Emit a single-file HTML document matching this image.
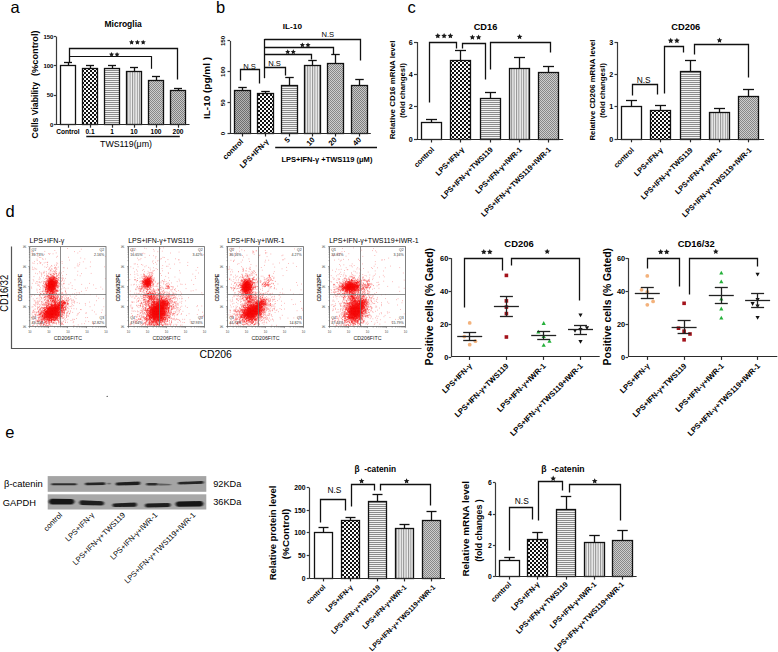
<!DOCTYPE html><html><head><meta charset="utf-8"><style>html,body{margin:0;padding:0;background:#fff;width:778px;height:652px;overflow:hidden}svg{display:block}text{font-family:"Liberation Sans",sans-serif}</style></head><body>
<svg width="778" height="652" viewBox="0 0 778 652">
<defs>
<pattern id="pc" width="4" height="4" patternUnits="userSpaceOnUse"><rect width="4" height="4" fill="#fafafa"/><rect width="2" height="2" fill="#111"/><rect x="2" y="2" width="2" height="2" fill="#111"/></pattern>
<pattern id="ph" width="4" height="2" patternUnits="userSpaceOnUse"><rect width="4" height="2" fill="#f2f2f2"/><rect width="4" height="1" fill="#8c8c8c"/></pattern>
<pattern id="pv" width="2.4" height="4" patternUnits="userSpaceOnUse"><rect width="2.4" height="4" fill="#f0f0f0"/><rect width="1" height="4" fill="#909090"/></pattern>
<pattern id="px" width="2" height="2" patternUnits="userSpaceOnUse"><rect width="2" height="2" fill="#cdcdcd"/><rect width="1" height="1" fill="#878787"/><rect x="1" y="1" width="1" height="1" fill="#878787"/></pattern>
<pattern id="px2" width="2" height="2" patternUnits="userSpaceOnUse"><rect width="2" height="2" fill="#c8c8c8"/><rect width="1" height="1" fill="#808080"/><rect x="1" y="1" width="1" height="1" fill="#808080"/></pattern>
<pattern id="pd" width="2" height="2" patternUnits="userSpaceOnUse"><rect width="2" height="2" fill="#b4b4b4"/><rect width="1" height="1" fill="#6e6e6e"/><rect x="1" y="1" width="1" height="1" fill="#6e6e6e"/></pattern>
<filter id="bl" x="-50%" y="-50%" width="200%" height="200%"><feGaussianBlur stdDeviation="1.6"/></filter>
<filter id="bl2" x="-50%" y="-50%" width="200%" height="200%"><feGaussianBlur stdDeviation="0.6"/></filter>
<filter id="bl3" x="-20%" y="-100%" width="140%" height="300%"><feGaussianBlur stdDeviation="0.9 0.7"/></filter>
</defs>
<rect width="778" height="652" fill="#fff"/>
<text x="10.5" y="12.6" font-size="16.5">a</text>
<text x="216" y="12.6" font-size="16.5">b</text>
<text x="407.5" y="12.9" font-size="16.5">c</text>
<text x="5.5" y="216.7" font-size="16.5">d</text>
<text x="5.3" y="437.7" font-size="16.5">e</text>
<text x="123.1" y="26.8" font-size="8.5" font-weight="bold" text-anchor="middle" textLength="37.2" lengthAdjust="spacingAndGlyphs">Microglia</text>
<path d="M56.5 36.6L56.5 124.5" stroke="#3a3a3a" stroke-width="1.2" fill="none"/>
<path d="M53.8 36.5L56 36.5" stroke="#3a3a3a" stroke-width="1.2" fill="none"/>
<text x="53.4" y="38.76" font-size="6" font-weight="bold" text-anchor="end">150</text>
<path d="M53.8 65.5L56 65.5" stroke="#3a3a3a" stroke-width="1.2" fill="none"/>
<text x="53.4" y="68.06" font-size="6" font-weight="bold" text-anchor="end">100</text>
<path d="M53.8 95.5L56 95.5" stroke="#3a3a3a" stroke-width="1.2" fill="none"/>
<text x="53.4" y="97.36" font-size="6" font-weight="bold" text-anchor="end">50</text>
<path d="M53.8 124.5L56 124.5" stroke="#3a3a3a" stroke-width="1.2" fill="none"/>
<text x="53.4" y="126.66" font-size="6" font-weight="bold" text-anchor="end">0</text>
<path d="M68.5 65.5L68.5 62.3" stroke="#111" stroke-width="1.3" fill="none"/>
<path d="M64 62.5L72 62.5" stroke="#111" stroke-width="1.3" fill="none"/>
<rect x="60.5" y="65.5" width="15" height="59" fill="#fff" stroke="#111" stroke-width="1.3"/>
<path d="M90.5 68.5L90.5 65.6" stroke="#111" stroke-width="1.3" fill="none"/>
<path d="M86 65.5L94 65.5" stroke="#111" stroke-width="1.3" fill="none"/>
<rect x="82.5" y="68.5" width="15" height="56" fill="url(#pc)" stroke="#111" stroke-width="1.3"/>
<path d="M112.5 68.5L112.5 65.3" stroke="#111" stroke-width="1.3" fill="none"/>
<path d="M108 65.5L116 65.5" stroke="#111" stroke-width="1.3" fill="none"/>
<rect x="104.5" y="68.5" width="15" height="56" fill="url(#ph)" stroke="#111" stroke-width="1.3"/>
<path d="M134.5 71.5L134.5 67.3" stroke="#111" stroke-width="1.3" fill="none"/>
<path d="M130 67.5L138 67.5" stroke="#111" stroke-width="1.3" fill="none"/>
<rect x="126.5" y="71.5" width="15" height="53" fill="url(#pv)" stroke="#111" stroke-width="1.3"/>
<path d="M156.5 80.5L156.5 76.3" stroke="#111" stroke-width="1.3" fill="none"/>
<path d="M152 76.5L160 76.5" stroke="#111" stroke-width="1.3" fill="none"/>
<rect x="148.5" y="80.5" width="15" height="44" fill="url(#px)" stroke="#111" stroke-width="1.3"/>
<path d="M178.5 90.5L178.5 88" stroke="#111" stroke-width="1.3" fill="none"/>
<path d="M174 88.5L182 88.5" stroke="#111" stroke-width="1.3" fill="none"/>
<rect x="170.5" y="90.5" width="15" height="34" fill="url(#px2)" stroke="#111" stroke-width="1.3"/>
<path d="M56 124.5L189.5 124.5" stroke="#2a2a2a" stroke-width="1.2" fill="none"/>
<path d="M68.5 124.5L68.5 127.7" stroke="#2a2a2a" stroke-width="1.2" fill="none"/>
<path d="M90.5 124.5L90.5 127.7" stroke="#2a2a2a" stroke-width="1.2" fill="none"/>
<path d="M112.5 124.5L112.5 127.7" stroke="#2a2a2a" stroke-width="1.2" fill="none"/>
<path d="M134.5 124.5L134.5 127.7" stroke="#2a2a2a" stroke-width="1.2" fill="none"/>
<path d="M156.5 124.5L156.5 127.7" stroke="#2a2a2a" stroke-width="1.2" fill="none"/>
<path d="M178.5 124.5L178.5 127.7" stroke="#2a2a2a" stroke-width="1.2" fill="none"/>
<text x="68" y="133.6" font-size="6.6" font-weight="bold" text-anchor="middle">Control</text>
<text x="90" y="133.6" font-size="6.6" font-weight="bold" text-anchor="middle">0.1</text>
<text x="112" y="133.6" font-size="6.6" font-weight="bold" text-anchor="middle">1</text>
<text x="134" y="133.6" font-size="6.6" font-weight="bold" text-anchor="middle">10</text>
<text x="156" y="133.6" font-size="6.6" font-weight="bold" text-anchor="middle">100</text>
<text x="178" y="133.6" font-size="6.6" font-weight="bold" text-anchor="middle">200</text>
<path d="M86.3 136.5L179.8 136.5" stroke="#111" stroke-width="1.5" fill="none"/>
<text x="126" y="146.6" font-size="8.7" text-anchor="middle" textLength="52" lengthAdjust="spacingAndGlyphs">TWS119(μm)</text>
<text x="38" y="138.4" font-size="8.7" font-weight="bold" textLength="56.4" lengthAdjust="spacingAndGlyphs" transform="rotate(-90 38 138.4)">Cells Viability</text>
<text x="38" y="76" font-size="8.2" font-weight="bold" textLength="45.6" lengthAdjust="spacingAndGlyphs" transform="rotate(-90 38 76)">(%control)</text>
<path d="M69.5 62.5L69.5 48.5L177.5 48.5L177.5 79.5" stroke="#111" stroke-width="1.3" fill="none" stroke-linejoin="miter"/>
<path d="M69.6 56.5L151.8 56.5" stroke="#111" stroke-width="1.2" fill="none"/>
<path d="M151.5 56.3L151.5 68.8" stroke="#111" stroke-width="1.2" fill="none"/>
<path d="M131.60 39.64L132.38 41.28L134.18 41.51L132.86 42.76L133.19 44.54L131.60 43.67L130.01 44.54L130.34 42.76L129.02 41.51L130.82 41.28Z" fill="#1a1a1a"/>
<path d="M137.40 39.64L138.18 41.28L139.98 41.51L138.66 42.76L138.99 44.54L137.40 43.67L135.81 44.54L136.14 42.76L134.82 41.51L136.62 41.28Z" fill="#1a1a1a"/>
<path d="M143.20 39.64L143.98 41.28L145.78 41.51L144.46 42.76L144.79 44.54L143.20 43.67L141.61 44.54L141.94 42.76L140.62 41.51L142.42 41.28Z" fill="#1a1a1a"/>
<path d="M111.55 51.89L112.31 53.50L114.08 53.73L112.78 54.95L113.11 56.70L111.55 55.84L109.99 56.70L110.32 54.95L109.02 53.73L110.79 53.50Z" fill="#1a1a1a"/>
<path d="M117.05 51.89L117.81 53.50L119.58 53.73L118.28 54.95L118.61 56.70L117.05 55.84L115.49 56.70L115.82 54.95L114.52 53.73L116.29 53.50Z" fill="#1a1a1a"/>
<text x="292.4" y="29.3" font-size="7.8" font-weight="bold" text-anchor="middle" textLength="19.2" lengthAdjust="spacingAndGlyphs">IL-10</text>
<path d="M230.5 40.9L230.5 133.6" stroke="#3a3a3a" stroke-width="1.2" fill="none"/>
<path d="M227.5 40.5L230 40.5" stroke="#3a3a3a" stroke-width="1.2" fill="none"/>
<text x="225.1" y="40.9" font-size="6.2" font-weight="bold" text-anchor="middle" transform="rotate(-90 225.1 40.9)">150</text>
<path d="M227.5 71.5L230 71.5" stroke="#3a3a3a" stroke-width="1.2" fill="none"/>
<text x="225.1" y="71.8" font-size="6.2" font-weight="bold" text-anchor="middle" transform="rotate(-90 225.1 71.8)">100</text>
<path d="M227.5 102.5L230 102.5" stroke="#3a3a3a" stroke-width="1.2" fill="none"/>
<text x="225.1" y="102.7" font-size="6.2" font-weight="bold" text-anchor="middle" transform="rotate(-90 225.1 102.7)">50</text>
<path d="M227.5 133.5L230 133.5" stroke="#3a3a3a" stroke-width="1.2" fill="none"/>
<text x="225.1" y="133.6" font-size="6.2" font-weight="bold" text-anchor="middle" transform="rotate(-90 225.1 133.6)">0</text>
<path d="M242.5 90.5L242.5 87.4" stroke="#111" stroke-width="1.3" fill="none"/>
<path d="M238.25 87.5L246.75 87.5" stroke="#111" stroke-width="1.3" fill="none"/>
<rect x="234.5" y="90.5" width="16" height="43" fill="url(#pd)" stroke="#111" stroke-width="1.3"/>
<path d="M265.5 93.5L265.5 91.1" stroke="#111" stroke-width="1.3" fill="none"/>
<path d="M261.25 91.5L269.75 91.5" stroke="#111" stroke-width="1.3" fill="none"/>
<rect x="257.5" y="93.5" width="16" height="40" fill="url(#pc)" stroke="#111" stroke-width="1.3"/>
<path d="M289.5 85.5L289.5 77.3" stroke="#111" stroke-width="1.3" fill="none"/>
<path d="M285.25 77.5L293.75 77.5" stroke="#111" stroke-width="1.3" fill="none"/>
<rect x="281.5" y="85.5" width="16" height="48" fill="url(#ph)" stroke="#111" stroke-width="1.3"/>
<path d="M312.5 65.5L312.5 60.3" stroke="#111" stroke-width="1.3" fill="none"/>
<path d="M308.25 60.5L316.75 60.5" stroke="#111" stroke-width="1.3" fill="none"/>
<rect x="304.5" y="65.5" width="16" height="68" fill="url(#pv)" stroke="#111" stroke-width="1.3"/>
<path d="M335.5 63.5L335.5 54.8" stroke="#111" stroke-width="1.3" fill="none"/>
<path d="M331.25 54.5L339.75 54.5" stroke="#111" stroke-width="1.3" fill="none"/>
<rect x="327.5" y="63.5" width="16" height="70" fill="url(#px)" stroke="#111" stroke-width="1.3"/>
<path d="M359.5 85.5L359.5 79.5" stroke="#111" stroke-width="1.3" fill="none"/>
<path d="M355.25 79.5L363.75 79.5" stroke="#111" stroke-width="1.3" fill="none"/>
<rect x="351.5" y="85.5" width="16" height="48" fill="url(#px2)" stroke="#111" stroke-width="1.3"/>
<path d="M229.6 133.5L370.8 133.5" stroke="#2a2a2a" stroke-width="1.2" fill="none"/>
<path d="M242.5 133.3L242.5 136.5" stroke="#2a2a2a" stroke-width="1.2" fill="none"/>
<path d="M265.5 133.3L265.5 136.5" stroke="#2a2a2a" stroke-width="1.2" fill="none"/>
<path d="M289.5 133.3L289.5 136.5" stroke="#2a2a2a" stroke-width="1.2" fill="none"/>
<path d="M312.5 133.3L312.5 136.5" stroke="#2a2a2a" stroke-width="1.2" fill="none"/>
<path d="M335.5 133.3L335.5 136.5" stroke="#2a2a2a" stroke-width="1.2" fill="none"/>
<path d="M359.5 133.3L359.5 136.5" stroke="#2a2a2a" stroke-width="1.2" fill="none"/>
<text x="210" y="88" font-size="8.6" font-weight="bold" text-anchor="middle" textLength="62" lengthAdjust="spacingAndGlyphs" transform="rotate(-90 210 88)">IL-10 (pg/ml )</text>
<path d="M240.5 80.5L240.5 69.5L259.5 69.5L259.5 83.5" stroke="#111" stroke-width="1.3" fill="none" stroke-linejoin="miter"/>
<text x="249.6" y="69" font-size="7.6" text-anchor="middle">N.S</text>
<path d="M264.5 78.2L264.5 39" stroke="#111" stroke-width="1.3" fill="none"/>
<path d="M264.5 39.5L360.5 39.5L360.5 60.5" stroke="#111" stroke-width="1.3" fill="none" stroke-linejoin="miter"/>
<path d="M264.5 47.5L333.5 47.5L333.5 54.5" stroke="#111" stroke-width="1.3" fill="none" stroke-linejoin="miter"/>
<path d="M264.5 54.5L311.5 54.5L311.5 59.5" stroke="#111" stroke-width="1.3" fill="none" stroke-linejoin="miter"/>
<path d="M264.5 67.5L285.5 67.5L285.5 75.5" stroke="#111" stroke-width="1.3" fill="none" stroke-linejoin="miter"/>
<text x="274.6" y="66.3" font-size="7.6" text-anchor="middle">N.S</text>
<text x="327.8" y="36.5" font-size="7.6" text-anchor="middle">N.S</text>
<path d="M302.40 42.44L303.18 44.08L304.98 44.31L303.66 45.56L303.99 47.34L302.40 46.47L300.81 47.34L301.14 45.56L299.82 44.31L301.62 44.08Z" fill="#1a1a1a"/>
<path d="M308.00 42.44L308.78 44.08L310.58 44.31L309.26 45.56L309.59 47.34L308.00 46.47L306.41 47.34L306.74 45.56L305.42 44.31L307.22 44.08Z" fill="#1a1a1a"/>
<path d="M287.70 49.24L288.48 50.88L290.28 51.11L288.96 52.36L289.29 54.14L287.70 53.27L286.11 54.14L286.44 52.36L285.12 51.11L286.92 50.88Z" fill="#1a1a1a"/>
<path d="M293.30 49.24L294.08 50.88L295.88 51.11L294.56 52.36L294.89 54.14L293.30 53.27L291.71 54.14L292.04 52.36L290.72 51.11L292.52 50.88Z" fill="#1a1a1a"/>
<text x="243.8" y="142" font-size="7.5" font-weight="bold" text-anchor="end" transform="rotate(-45 243.8 142)">control</text>
<text x="269.3" y="142" font-size="7.5" font-weight="bold" text-anchor="end" transform="rotate(-45 269.3 142)">LPS+IFN-γ</text>
<text x="290.4" y="140.4" font-size="7.5" font-weight="bold" text-anchor="end" transform="rotate(-45 290.4 140.4)">5</text>
<text x="315.3" y="140.4" font-size="7.5" font-weight="bold" text-anchor="end" transform="rotate(-45 315.3 140.4)">10</text>
<text x="337.3" y="140.4" font-size="7.5" font-weight="bold" text-anchor="end" transform="rotate(-45 337.3 140.4)">20</text>
<text x="361.6" y="140.4" font-size="7.5" font-weight="bold" text-anchor="end" transform="rotate(-45 361.6 140.4)">40</text>
<path d="M275.2 147.5L377 147.5" stroke="#111" stroke-width="1.5" fill="none"/>
<text x="326.9" y="162" font-size="7.2" font-weight="bold" text-anchor="middle" textLength="91" lengthAdjust="spacingAndGlyphs">LPS+IFN-γ +TWS119 (μM)</text>
<text x="485.5" y="30.3" font-size="8.6" font-weight="bold" text-anchor="middle" textLength="23.6" lengthAdjust="spacingAndGlyphs">CD16</text>
<path d="M417.5 42L417.5 139.3" stroke="#3a3a3a" stroke-width="1.2" fill="none"/>
<path d="M414 42.5L417 42.5" stroke="#3a3a3a" stroke-width="1.2" fill="none"/>
<text x="412.8" y="44.59" font-size="7.2" font-weight="bold" text-anchor="end">6</text>
<path d="M414 74.5L417 74.5" stroke="#3a3a3a" stroke-width="1.2" fill="none"/>
<text x="412.8" y="77.03" font-size="7.2" font-weight="bold" text-anchor="end">4</text>
<path d="M414 106.5L417 106.5" stroke="#3a3a3a" stroke-width="1.2" fill="none"/>
<text x="412.8" y="109.46" font-size="7.2" font-weight="bold" text-anchor="end">2</text>
<path d="M414 139.5L417 139.5" stroke="#3a3a3a" stroke-width="1.2" fill="none"/>
<text x="412.8" y="141.89" font-size="7.2" font-weight="bold" text-anchor="end">0</text>
<path d="M431.5 122.5L431.5 119.6" stroke="#111" stroke-width="1.3" fill="none"/>
<path d="M426 119.5L437 119.5" stroke="#111" stroke-width="1.3" fill="none"/>
<rect x="421.5" y="122.5" width="20" height="17" fill="#fff" stroke="#111" stroke-width="1.3"/>
<path d="M460.5 60.5L460.5 50" stroke="#111" stroke-width="1.3" fill="none"/>
<path d="M455 50.5L466 50.5" stroke="#111" stroke-width="1.3" fill="none"/>
<rect x="450.5" y="60.5" width="20" height="79" fill="url(#pc)" stroke="#111" stroke-width="1.3"/>
<path d="M490.5 98.5L490.5 92.5" stroke="#111" stroke-width="1.3" fill="none"/>
<path d="M485 92.5L496 92.5" stroke="#111" stroke-width="1.3" fill="none"/>
<rect x="480.5" y="98.5" width="20" height="41" fill="url(#ph)" stroke="#111" stroke-width="1.3"/>
<path d="M519.5 68.5L519.5 57" stroke="#111" stroke-width="1.3" fill="none"/>
<path d="M514 57.5L525 57.5" stroke="#111" stroke-width="1.3" fill="none"/>
<rect x="509.5" y="68.5" width="20" height="71" fill="url(#pv)" stroke="#111" stroke-width="1.3"/>
<path d="M548.5 72.5L548.5 66.3" stroke="#111" stroke-width="1.3" fill="none"/>
<path d="M543 66.5L554 66.5" stroke="#111" stroke-width="1.3" fill="none"/>
<rect x="538.5" y="72.5" width="20" height="67" fill="url(#px)" stroke="#111" stroke-width="1.3"/>
<path d="M416.2 139.5L563.2 139.5" stroke="#2a2a2a" stroke-width="1.2" fill="none"/>
<path d="M431.5 139.3L431.5 142.5" stroke="#2a2a2a" stroke-width="1.2" fill="none"/>
<path d="M460.5 139.3L460.5 142.5" stroke="#2a2a2a" stroke-width="1.2" fill="none"/>
<path d="M490.5 139.3L490.5 142.5" stroke="#2a2a2a" stroke-width="1.2" fill="none"/>
<path d="M519.5 139.3L519.5 142.5" stroke="#2a2a2a" stroke-width="1.2" fill="none"/>
<path d="M548.5 139.3L548.5 142.5" stroke="#2a2a2a" stroke-width="1.2" fill="none"/>
<text x="394.6" y="90" font-size="8" font-weight="bold" text-anchor="middle" textLength="98.7" lengthAdjust="spacingAndGlyphs" transform="rotate(-90 394.6 90)">Relative CD16 mRNA level</text>
<text x="405" y="90.6" font-size="8" font-weight="bold" text-anchor="middle" textLength="55" lengthAdjust="spacingAndGlyphs" transform="rotate(-90 405 90.6)">(fold changesl)</text>
<path d="M429.5 102.5L429.5 42.5L456.5 42.5L456.5 48.5" stroke="#111" stroke-width="1.3" fill="none" stroke-linejoin="miter"/>
<path d="M462.5 48.5L462.5 43.5L485.5 43.5L485.5 79.5" stroke="#111" stroke-width="1.3" fill="none" stroke-linejoin="miter"/>
<path d="M490.5 69.5L490.5 42.5L550.5 42.5L550.5 52.5" stroke="#111" stroke-width="1.3" fill="none" stroke-linejoin="miter"/>
<path d="M437.80 33.01L438.64 34.79L440.59 35.04L439.16 36.39L439.53 38.33L437.80 37.38L436.07 38.33L436.44 36.39L435.01 35.04L436.96 34.79Z" fill="#1a1a1a"/>
<path d="M444.10 33.01L444.94 34.79L446.89 35.04L445.46 36.39L445.83 38.33L444.10 37.38L442.37 38.33L442.74 36.39L441.31 35.04L443.26 34.79Z" fill="#1a1a1a"/>
<path d="M450.40 33.01L451.24 34.79L453.19 35.04L451.76 36.39L452.13 38.33L450.40 37.38L448.67 38.33L449.04 36.39L447.61 35.04L449.56 34.79Z" fill="#1a1a1a"/>
<path d="M472.40 34.41L473.24 36.19L475.19 36.44L473.76 37.79L474.13 39.73L472.40 38.78L470.67 39.73L471.04 37.79L469.61 36.44L471.56 36.19Z" fill="#1a1a1a"/>
<path d="M478.60 34.41L479.44 36.19L481.39 36.44L479.96 37.79L480.33 39.73L478.60 38.78L476.87 39.73L477.24 37.79L475.81 36.44L477.76 36.19Z" fill="#1a1a1a"/>
<path d="M519.60 33.91L520.44 35.69L522.39 35.94L520.96 37.29L521.33 39.23L519.60 38.28L517.87 39.23L518.24 37.29L516.81 35.94L518.76 35.69Z" fill="#1a1a1a"/>
<text x="434.6" y="150" font-size="7.4" font-weight="bold" text-anchor="end" transform="rotate(-45 434.6 150)">control</text>
<text x="464.7" y="150" font-size="7.4" font-weight="bold" text-anchor="end" transform="rotate(-45 464.7 150)">LPS+IFN-γ</text>
<text x="493.3" y="150" font-size="7.4" font-weight="bold" text-anchor="end" transform="rotate(-45 493.3 150)">LPS+IFN-γ+TWS119</text>
<text x="522.4" y="150" font-size="7.4" font-weight="bold" text-anchor="end" transform="rotate(-45 522.4 150)">LPS+IFN-γ+IWR-1</text>
<text x="551.3" y="150" font-size="7.4" font-weight="bold" text-anchor="end" transform="rotate(-45 551.3 150)">LPS+IFN-γ+TWS119+IWR-1</text>
<text x="685.8" y="30.3" font-size="8.6" font-weight="bold" text-anchor="middle" textLength="29" lengthAdjust="spacingAndGlyphs">CD206</text>
<path d="M617.5 42L617.5 139.1" stroke="#3a3a3a" stroke-width="1.2" fill="none"/>
<path d="M614.5 42.5L617.5 42.5" stroke="#3a3a3a" stroke-width="1.2" fill="none"/>
<text x="613.3" y="44.59" font-size="7.2" font-weight="bold" text-anchor="end">3</text>
<path d="M614.5 74.5L617.5 74.5" stroke="#3a3a3a" stroke-width="1.2" fill="none"/>
<text x="613.3" y="76.96" font-size="7.2" font-weight="bold" text-anchor="end">2</text>
<path d="M614.5 106.5L617.5 106.5" stroke="#3a3a3a" stroke-width="1.2" fill="none"/>
<text x="613.3" y="109.33" font-size="7.2" font-weight="bold" text-anchor="end">1</text>
<path d="M614.5 139.5L617.5 139.5" stroke="#3a3a3a" stroke-width="1.2" fill="none"/>
<text x="613.3" y="141.69" font-size="7.2" font-weight="bold" text-anchor="end">0</text>
<path d="M631.5 106.5L631.5 100.3" stroke="#111" stroke-width="1.3" fill="none"/>
<path d="M626 100.5L637 100.5" stroke="#111" stroke-width="1.3" fill="none"/>
<rect x="621.5" y="106.5" width="20" height="33" fill="#fff" stroke="#111" stroke-width="1.3"/>
<path d="M660.5 110.5L660.5 105.3" stroke="#111" stroke-width="1.3" fill="none"/>
<path d="M655 105.5L666 105.5" stroke="#111" stroke-width="1.3" fill="none"/>
<rect x="650.5" y="110.5" width="20" height="29" fill="url(#pc)" stroke="#111" stroke-width="1.3"/>
<path d="M690.5 71.5L690.5 60.7" stroke="#111" stroke-width="1.3" fill="none"/>
<path d="M685 60.5L696 60.5" stroke="#111" stroke-width="1.3" fill="none"/>
<rect x="680.5" y="71.5" width="20" height="68" fill="url(#ph)" stroke="#111" stroke-width="1.3"/>
<path d="M719.5 112.5L719.5 108.6" stroke="#111" stroke-width="1.3" fill="none"/>
<path d="M714 108.5L725 108.5" stroke="#111" stroke-width="1.3" fill="none"/>
<rect x="709.5" y="112.5" width="20" height="27" fill="url(#pv)" stroke="#111" stroke-width="1.3"/>
<path d="M748.5 96.5L748.5 89.6" stroke="#111" stroke-width="1.3" fill="none"/>
<path d="M743 89.5L754 89.5" stroke="#111" stroke-width="1.3" fill="none"/>
<rect x="738.5" y="96.5" width="20" height="43" fill="url(#px)" stroke="#111" stroke-width="1.3"/>
<path d="M617.2 139.5L764.1 139.5" stroke="#2a2a2a" stroke-width="1.2" fill="none"/>
<path d="M631.5 139.1L631.5 142.3" stroke="#2a2a2a" stroke-width="1.2" fill="none"/>
<path d="M660.5 139.1L660.5 142.3" stroke="#2a2a2a" stroke-width="1.2" fill="none"/>
<path d="M690.5 139.1L690.5 142.3" stroke="#2a2a2a" stroke-width="1.2" fill="none"/>
<path d="M719.5 139.1L719.5 142.3" stroke="#2a2a2a" stroke-width="1.2" fill="none"/>
<path d="M748.5 139.1L748.5 142.3" stroke="#2a2a2a" stroke-width="1.2" fill="none"/>
<text x="594.6" y="90" font-size="8" font-weight="bold" text-anchor="middle" textLength="101" lengthAdjust="spacingAndGlyphs" transform="rotate(-90 594.6 90)">Relative CD206 mRNA level</text>
<text x="605.2" y="90.6" font-size="8" font-weight="bold" text-anchor="middle" textLength="55" lengthAdjust="spacingAndGlyphs" transform="rotate(-90 605.2 90.6)">(fold changesl)</text>
<path d="M632.5 95.5L632.5 84.5L657.5 84.5L657.5 94.5" stroke="#111" stroke-width="1.3" fill="none" stroke-linejoin="miter"/>
<text x="643.7" y="82.6" font-size="8.4" text-anchor="middle">N.S</text>
<path d="M664.5 93.5L664.5 46.5L683.5 46.5L683.5 52.5" stroke="#111" stroke-width="1.3" fill="none" stroke-linejoin="miter"/>
<path d="M694.5 54.5L694.5 44.5L748.5 44.5L748.5 77.5" stroke="#111" stroke-width="1.3" fill="none" stroke-linejoin="miter"/>
<path d="M670.70 37.81L671.54 39.59L673.49 39.84L672.06 41.19L672.43 43.13L670.70 42.18L668.97 43.13L669.34 41.19L667.91 39.84L669.86 39.59Z" fill="#1a1a1a"/>
<path d="M676.90 37.81L677.74 39.59L679.69 39.84L678.26 41.19L678.63 43.13L676.90 42.18L675.17 43.13L675.54 41.19L674.11 39.84L676.06 39.59Z" fill="#1a1a1a"/>
<path d="M719.50 37.41L720.34 39.19L722.29 39.44L720.86 40.79L721.23 42.73L719.50 41.78L717.77 42.73L718.14 40.79L716.71 39.44L718.66 39.19Z" fill="#1a1a1a"/>
<text x="634.4" y="150.5" font-size="7.4" font-weight="bold" text-anchor="end" transform="rotate(-45 634.4 150.5)">control</text>
<text x="663.4" y="150.5" font-size="7.4" font-weight="bold" text-anchor="end" transform="rotate(-45 663.4 150.5)">LPS+IFN-γ</text>
<text x="693.2" y="150.5" font-size="7.4" font-weight="bold" text-anchor="end" transform="rotate(-45 693.2 150.5)">LPS+IFN-γ+TWS119</text>
<text x="722.2" y="150.5" font-size="7.4" font-weight="bold" text-anchor="end" transform="rotate(-45 722.2 150.5)">LPS+IFN-γ+IWR-1</text>
<text x="752.2" y="150.5" font-size="7.4" font-weight="bold" text-anchor="end" transform="rotate(-45 752.2 150.5)">LPS+IFN-γ+TWS119+IWR-1</text>
<text x="29.5" y="243.4" font-size="7.6" textLength="34.9" lengthAdjust="spacingAndGlyphs">LPS+IFN-γ</text>
<g>
<path d="M36.1 248.8h.7m30.3-.3h.7m-36.7 3.2h.7m12.7-.3h.7m9.3-.9h.7m18.8 1.1h.7m4.8-.2h.7m.7-2.2h.7m-49.6 2.8h.7m-.2 2.1h.7m2.8-.5h.7m.2-.4h.7m6.5 1.1h.7m3.5-.7h.7m.3 .8h.7m-.4-.9h.7m2.4 .3h.7m2.4-.9h.7m21 .1h.7m-43.8 2.4h.7m2.5 1.2h.7m.9 .9h.7m.6 0h.7m15-.3h.7m.3-.9h.7m10.1 1h.7m36.2-.9h.7m-68.9 2.7h.7m-.6 1.4h.7m4.5-1.7h.7m.1 .5h.7m1.5-.3h.7m23.4 1.1h.7m10.6-2.1h.7m3.4 .9h.7m-52.8 4.1h.7m.6 .4h.7m-.2-1.8h.7m2.2 2.1h.7m1.5-1.9h.7m-.3 1.5h.7m0-.1h.7m-.6-.7h.7m2.6 .4h.7m1.1-.5h.7m.8 .2h.7m-.4-.4h.7m8.4 .5h.7m.2 1h.7m1.9-1.3h.7m1-.9h.7m-.6 1.9h.7m17-.6h.7m2.7-1h.7m6.6 .2h.7m-48.6 2.8h.7m1.5 2.1h.7m1.8-2.4h.7m-.3 1.7h.7m2.2 .7h.7m.2-1.4h.7m-.3 .7h.7m2-.9h.7m.9-1.1h.7m-.4 1.2h.7m20 .5h.7m-.2-1.9h.7m.3 2h.7m.2-1.4h.7m9.9 2.1h.7m13.6 .1h.7m-72.8 .4h.7m-.7 2h.7m.7 .4h.7m-.3-1.6h.7m.7 .8h.7m.4 .4h.7m9.2-1.7h.7m1.2 2.2h.7m0-1.1h.7m-.7-.8h.7m0 1.7h.7m1-.8h.7m-.1 .4h.7m1.7-1.3h.7m-.5 .1h.7m-.6 .6h.7m-.1-1.4h.7m-.7 .6h.7m-.5 2.1h.7m.2-1h.7m-.5-1h.7m-.7 1.8h.7m.7-2.5h.7m4.3 .6h.7m.2 .1h.7m2.8 .4h.7m6.6-.4h.7m10.3 .5h.7m-47 3.3h.7m-.4 1.3h.7m2.6 0h.7m.2-.5h.7m-.7-1.1h.7m1.4 .2h.7m3 .5h.7m-.4-1.3h.7m-.2-.2h.7m-.4 1.3h.7m-.5-1.8h.7m.6 1.8h.7m.6-1.2h.7m-.5 .8h.7m-.7 .5h.7m0 .1h.7m-.4-.4h.7m-.2 .7h.7m-.7-1.8h.7m.1 1h.7m2 1.4h.7m-.1-.7h.7m-.1-1.3h.7m2.2 .7h.7m14-.3h.7m-43 2h.7m1.4 .5h.7m3.1-.8h.7m-.4 1h.7m-.7 .9h.7m1.5-1.9h.7m-.2 2.4h.7m1.2-2.2h.7m-.3 1.7h.7m-.4 .6h.7m-.1-.1h.7m-.4 .5h.7m-.2-2.6h.7m-.1 1.1h.7m-.6-1.1h.7m.7 1h.7m-.7 .4h.7m-.6-.5h.7m-.6 .9h.7m-.2-.9h.7m.1-.2h.7m.3-.5h.7m-.1 .6h.7m-.6-.2h.7m-.6-.1h.7m-.4 0h.7m-.4 .8h.7m-.6 0h.7m0-.7h.7m-.1-.6h.7m-.3 .1h.7m-.6-.1h.7m-.6 1.2h.7m-.4-1h.7m-.5 1.8h.7m0 .2h.7m0-.3h.7m-.5-.7h.7m-.4-.8h.7m-.4 2h.7m-.2-2h.7m-.1 .9h.7m-.4 .1h.7m-.7 .6h.7m.4-2.3h.7m0 2.4h.7m3.6-.9h.7m10.2 .6h.7m1.9 .7h.7m.8-2.2h.7m8.8-.2h.7m-57.9 3.2h.7m5 .6h.7m-.3 1.6h.7m.6-2.6h.7m1.5 1.7h.7m1.1 .5h.7m0-.1h.7m-.4 .4h.7m-.6 .1h.7m-.6-2.1h.7m-.5 .2h.7m-.5-.6h.7m-.2 .4h.7m-.1 .3h.7m-.5 1.6h.7m-.5-1.8h.7m-.7 1h.7m-.5-1.8h.7m-.7 .4h.7m-.5 .5h.7m-.3 1.1h.7m-.3-1.3h.7m-.5 1.3h.7m-.5 0h.7m-.7 .5h.7m-.5-2.2h.7m-.6 1.4h.7m-.5 .9h.7m-.6 .2h.7m-.6-1.7h.7m-.3 .7h.7m-.5-.9h.7m-.6-.7h.7m-.4 .1h.7m-.6 2.6h.7m-.4-1.4h.7m-.6-.1h.7m-.6-1.2h.7m-.6-.1h.7m-.7 2.3h.7m-.3-.6h.7m-.7 1.1h.7m-.5-2.5h.7m-.5 2.1h.7m-.7 .2h.7m-.7-1.9h.7m-.4 .4h.7m-.5 .1h.7m-.7 1.4h.7m-.6-.1h.7m-.5-1.2h.7m-.6-1.3h.7m-.7 1.7h.7m-.7 .5h.7m-.7-.7h.7m-.5-.5h.7m-.3 .8h.7m-.6-.1h.7m-.5 0h.7m-.3-.5h.7m-.6 1.5h.7m-.6-1.7h.7m-.3 1.7h.7m-.6-.9h.7m-.6 .5h.7m-.6-2.3h.7m-.7 .2h.7m-.6 1.8h.7m-.7-2h.7m-.5 2.8h.7m-.3-.2h.7m-.7 .2h.7m-.6-.6h.7m-.5-1.9h.7m.4 1.1h.7m-.1 1.2h.7m0-1h.7m-.2-.6h.7m-.4 .6h.7m.1 .5h.7m.5 .4h.7m-.5-1.3h.7m-.1 1h.7m1.3 .1h.7m39.2 .2h.7m-72.8 1.1h.7m0 1.2h.7m2.2 .7h.7m.4 .1h.7m.5-2.4h.7m-.1 2.5h.7m1.2 .1h.7m.8-.8h.7m.3 .6h.7m-.6-.1h.7m0-2.1h.7m-.6 2h.7m-.3-.3h.7m.6-.6h.7m-.5 .5h.7m-.6 0h.7m-.5 0h.7m-.6-1.2h.7m-.4-.4h.7m-.6 1.2h.7m-.6 .6h.7m-.6-.8h.7m-.7 1h.7m-.4-.7h.7m-.4 .2h.7m-.6-1.2h.7m-.6 2h.7m-.6-1.2h.7m-.6-1.1h.7m-.7 1.9h.7m-.6-2.3h.7m-.7 2.5h.7m-.6-.3h.7m-.7 .6h.7m-.7 0h.7m-.5-.7h.7m-.6-1.3h.7m-.6 .6h.7m-.7 .3h.7m-.5-1.8h.7m-.1 2.9h.7m-.2-1.2h.7m-.7-.7h.7m-.6 1.3h.7m-.7-1.2h.7m-.3 .9h.7m-.7-.5h.7m-.6-1h.7m-.6 1.2h.7m-.5-1.4h.7m-.7-.2h.7m-.7 2.5h.7m-.6-.2h.7m-.5-.2h.7m-.7 0h.7m-.5 0h.7m-.7-1.4h.7m-.6-.1h.7m-.6 .7h.7m-.7-1.3h.7m-.6 .4h.7m-.5 1.6h.7m-.6 .3h.7m-.6-.6h.7m-.7-.5h.7m-.6 1h.7m-.7 .1h.7m-.5-1.6h.7m-.4 1.6h.7m-.7 .1h.7m-.3-2.1h.7m-.7 2.4h.7m-.6 .1h.7m-.7-1.3h.7m-.7-1.2h.7m-.5 1.5h.7m-.7-1.7h.7m-.6 1.5h.7m-.3 .8h.7m-.5-1.5h.7m-.7-.2h.7m-.5 1.3h.7m-.5 .1h.7m-.5-1.9h.7m-.6 1.5h.7m-.6 .1h.7m-.5-.6h.7m-.6 .7h.7m-.6-.5h.7m-.6 0h.7m-.4 1h.7m-.7-1.2h.7m-.3 .7h.7m-.6 .2h.7m-.6-.3h.7m-.4 1h.7m-.6-2.1h.7m-.7 .3h.7m-.7 1.7h.7m-.4-.4h.7m-.5-.4h.7m-.2-1.5h.7m-.5 .3h.7m-.5 .7h.7m.4 .2h.7m.5 .1h.7m-.5 .8h.7m.4-1.6h.7m-.5 0h.7m.6 1.8h.7m-.4-1.6h.7m10-.4h.7m-43.4 3.6h.7m2.4-.2h.7m1 .1h.7m1.4-.9h.7m.4 .3h.7m2.6 .6h.7m-.5 .2h.7m-.6-1h.7m-.4 2.2h.7m-.5-.3h.7m.2-1.6h.7m-.7 0h.7m-.6-.5h.7m-.7 1.2h.7m-.1-1.5h.7m-.4 2.8h.7m-.7-1.7h.7m-.6-.5h.7m-.6 .7h.7m-.6 1h.7m-.7 .6h.7m-.6-2.8h.7m-.4 2.6h.7m-.6-.1h.7m.4-1.5h.7m-.6-.6h.7m-.6 1.9h.7m-.7-.3h.7m-.7-.1h.7m-.7-1.8h.7m-.7 1h.7m-.7 .2h.7m-.6 .4h.7m-.6-1.7h.7m-.7 .5h.7m-.6 2.1h.7m-.5-.9h.7m-.6 .2h.7m-.5-1.3h.7m-.7 .8h.7m-.6 1.1h.7m-.7-1.6h.7m-.6-.6h.7m-.4 2.5h.7m-.7-.6h.7m-.5-.9h.7m-.7-1h.7m-.5 2.3h.7m-.7-.6h.7m-.6-.5h.7m-.4-1.4h.7m-.3 .7h.7m-.4-.9h.7m-.6 .3h.7m-.7 2.5h.7m-.7-.9h.7m-.5-.3h.7m-.7 .5h.7m-.5 .2h.7m-.7-2.3h.7m-.7 2.7h.7m-.7-1.7h.7m-.5 1.5h.7m-.5-.2h.7m-.7-1h.7m-.7 1.3h.7m-.7-1.7h.7m-.6 .9h.7m-.6 .2h.7m-.7-1.9h.7m-.7 .6h.7m-.2 .4h.7m-.1-.7h.7m-.6 2.2h.7m-.7-.5h.7m-.7-.2h.7m-.7-1.3h.7m-.4 0h.7m-.7 1.1h.7m-.4 .9h.7m-.6-.7h.7m-.5-.5h.7m-.4-.4h.7m-.2 1.6h.7m-.6-1.1h.7m-.6-.3h.7m-.4-.9h.7m-.3 1.8h.7m-.7-.2h.7m-.4-.7h.7m-.7-.4h.7m-.6 1.9h.7m-.6-.9h.7m-.7 .6h.7m-.5-1.8h.7m-.7 .3h.7m-.6-.1h.7m-.6-.5h.7m-.6 1.3h.7m-.5-.5h.7m-.7-1h.7m-.3 1.2h.7m-.4-.7h.7m-.4 .5h.7m-.5 1.1h.7m.4-.7h.7m-.5 1h.7m-.6-1.2h.7m-.5 .4h.7m-.5-1.1h.7m-.1 1.2h.7m.4 .5h.7m1.1-.5h.7m-.6 0h.7m-.5-.3h.7m4.2 .8h.7m1.1-1.5h.7m10.3 1.6h.7m7.2-1h.7m3.1 1.5h.7m-62.7 2.1h.7m5.5-1.8h.7m0-.1h.7m0-.1h.7m-.3 1.3h.7m.3 1.5h.7m1.5-1.9h.7m-.5-.5h.7m-.4 2.1h.7m-.4-1h.7m-.5-.6h.7m.1 .4h.7m-.7 .5h.7m-.3 .7h.7m-.7-1.9h.7m-.7 1.4h.7m-.5 .5h.7m-.6-2.5h.7m-.3 2.3h.7m-.4-1.1h.7m-.4 .2h.7m-.6 1.2h.7m-.7-1.7h.7m-.7-.4h.7m-.4 1.6h.7m-.5-1.8h.7m-.6 .6h.7m-.7 .7h.7m-.5-1.2h.7m-.5 1.8h.7m-.4-.3h.7m-.7-.3h.7m-.2 .7h.7m-.6-.1h.7m-.6-1.9h.7m-.6 1.7h.7m-.6 .2h.7m-.7 .5h.7m-.7-1.6h.7m-.3 .5h.7m-.6 1.1h.7m-.6-.7h.7m-.6-.3h.7m-.4-.2h.7m-.5-.2h.7m-.7 1.3h.7m-.7-.7h.7m-.6-1.9h.7m-.7 .9h.7m-.6 .1h.7m-.5 .6h.7m-.7-.9h.7m-.6 1.7h.7m-.5-1h.7m-.6 1.4h.7m-.6-2.6h.7m-.7 .8h.7m-.6-.7h.7m-.6-.1h.7m-.6 1.7h.7m-.7 1h.7m-.7-2h.7m-.6 .9h.7m-.5-1.1h.7m-.6 .8h.7m-.7-1.4h.7m-.6 2.6h.7m-.7-1.5h.7m-.6 1.3h.7m-.6-.5h.7m-.6-.2h.7m-.7-.3h.7m-.6 .5h.7m-.5 .2h.7m-.7 .3h.7m-.7-.9h.7m-.6 .8h.7m-.2-1.2h.7m-.7 .2h.7m-.3 .6h.7m-.7 .5h.7m-.6-1.3h.7m-.6 .3h.7m-.6-1.2h.7m-.5 2.1h.7m-.6-.2h.7m-.6-1.8h.7m-.6-.1h.7m-.5 .1h.7m-.6 1.5h.7m-.7 .3h.7m-.6 .5h.7m-.4-.1h.7m-.7-.1h.7m-.7-2.3h.7m-.4 1.7h.7m-.7 1h.7m-.5-2.5h.7m-.4-.4h.7m-.6 2.1h.7m-.6-1.6h.7m-.3 2.4h.7m-.6-1.5h.7m-.7-1.2h.7m-.5 1h.7m-.7 .5h.7m-.7 .1h.7m-.6-.2h.7m-.2 1.1h.7m-.4-2.4h.7m-.7 .3h.7m.1 .6h.7m-.7 .7h.7m-.6-1.6h.7m-.7-.2h.7m-.5 2.3h.7m-.4 .3h.7m-.2-2.3h.7m-.7 .6h.7m-.5 .4h.7m.4 0h.7m-.3 .7h.7m-.4-1.9h.7m1.1 .9h.7m.9 1.6h.7m7.1-2h.7m14.6 2.2h.7m12.7-.8h.7m-69.8 1.1h.7m4.5 1h.7m-.6 1.6h.7m1.6-1.4h.7m0 .2h.7m2.1-.7h.7m-.1 .1h.7m-.5 1.6h.7m.4-1.7h.7m-.1 .6h.7m-.7-1.2h.7m-.5 2.5h.7m-.7-.5h.7m-.7-1h.7m-.7 1h.7m-.3-.9h.7m-.7 .6h.7m-.7-1h.7m-.4 .6h.7m-.6-.8h.7m-.5 .3h.7m.4 .1h.7m-.7 .7h.7m-.1 .3h.7m-.6 .2h.7m-.5-1.6h.7m-.7 1.4h.7m-.6-1.6h.7m-.2 .8h.7m-.6 .5h.7m-.5-1.8h.7m-.7 .7h.7m-.5 1.1h.7m-.7 .6h.7m-.6-.5h.7m-.7-.7h.7m-.6 1.1h.7m-.7 .4h.7m-.6-2.7h.7m-.3 .5h.7m-.7 .3h.7m-.5 .1h.7m-.7 .2h.7m-.7 1.5h.7m-.4-1.7h.7m-.7-.4h.7m-.6 .1h.7m-.6 1.3h.7m-.7-2h.7m-.5 1.8h.7m-.6 .4h.7m-.7-.8h.7m-.6 .9h.7m-.6 .2h.7m-.7-2.1h.7m-.5 1.5h.7m-.6 1h.7m-.7-.8h.7m-.6-.6h.7m-.4-.4h.7m-.5 .7h.7m-.7 .9h.7m-.6 .2h.7m-.7-2.6h.7m-.6 1.4h.7m-.7 1.2h.7m-.4-2.6h.7m-.6 2.1h.7m-.7-.8h.7m-.7 .7h.7m-.6-.4h.7m-.7-1.7h.7m-.6 2.7h.7m-.7-.5h.7m-.5-.6h.7m-.5 .8h.7m-.7-1h.7m-.5-1.1h.7m-.7-.4h.7m-.7 1.4h.7m-.2-.4h.7m-.5-.5h.7m-.5-.6h.7m-.5 2.1h.7m-.6-.3h.7m-.5-.8h.7m-.7 .3h.7m-.7 .4h.7m-.4-1.5h.7m-.6 2h.7m-.5-2.1h.7m-.1 2.5h.7m-.3-2.5h.7m-.6 2.8h.7m-.1-.2h.7m-.7-1.4h.7m-.4 1.1h.7m-.4-1.7h.7m-.1 1.9h.7m-.1-.5h.7m.5-1h.7m.3-.1h.7m.8-.9h.7m1.5 2.7h.7m-.1-2h.7m1.6-.6h.7m3.3 .2h.7m2.3 1.1h.7m9.8-1.3h.7m-.2 2.2h.7m9.1-1.9h.7m6.1 .6h.7m-66.1 3.4h.7m1.7-.2h.7m-.1 1.2h.7m-.2 .3h.7m-.6-2.3h.7m.6 .2h.7m-.5-.7h.7m-.5 .8h.7m0 1.5h.7m-.6 .2h.7m-.4-2h.7m-.5 2.3h.7m-.3 .1h.7m-.3-.1h.7m-.4-1.8h.7m-.5-.6h.7m-.6 2.4h.7m-.5-2.1h.7m-.5 .8h.7m-.1-1h.7m-.7 1.7h.7m-.4 .5h.7m-.7-.6h.7m-.6-.9h.7m-.5 .9h.7m-.5 0h.7m-.7-.5h.7m-.6-1.3h.7m-.7 1.3h.7m-.6-.7h.7m-.4 1.1h.7m-.2-1.7h.7m-.6 1.9h.7m-.5-.5h.7m-.1 .5h.7m-.6-.5h.7m-.6-1.4h.7m-.5 2.5h.7m-.6-.2h.7m-.5-.1h.7m-.4 .1h.7m-.7 .2h.7m-.6-2.1h.7m-.6 .3h.7m-.3-.5h.7m-.6 .4h.7m-.5-.3h.7m-.7 .8h.7m-.6-1.3h.7m-.1-.1h.7m-.7 .7h.7m-.6-.5h.7m-.5 1.9h.7m-.6 .6h.7m-.6-.6h.7m-.7 .4h.7m-.6-.9h.7m-.7 .1h.7m-.6-1.6h.7m-.5 1.4h.7m-.6 1.3h.7m-.7-.4h.7m-.6-1.8h.7m-.6 .8h.7m-.5 .8h.7m-.7-1.8h.7m-.7 1.3h.7m-.6-1.7h.7m-.6 .4h.7m-.5 1.1h.7m-.5-.5h.7m-.6 1h.7m-.6-1.6h.7m-.6 1h.7m-.5 0h.7m-.5 1.3h.7m-.6 .2h.7m-.6-1.8h.7m-.5-1h.7m-.6 2.1h.7m-.6-1.4h.7m-.6 1.5h.7m.1 .1h.7m-.7-1.2h.7m-.5 1.1h.7m-.6 .6h.7m-.6-1.8h.7m-.5 1h.7m-.6 .7h.7m-.5 .1h.7m-.5-.7h.7m-.5-1.7h.7m-.5-.3h.7m-.4-.2h.7m.1 .4h.7m.9 1.6h.7m-.3-1.6h.7m.1 .9h.7m-.2 1.5h.7m-.4-.5h.7m-.3-.8h.7m-.3 1.1h.7m1.8-2.4h.7m-.5 .4h.7m-.3 1.2h.7m-.5 .5h.7m7.5 .5h.7m1.8-1h.7m1.6-.3h.7m-.4 1.4h.7m1.5-2.5h.7m-50.9 4.8h.7m.3-1.5h.7m1.3 .7h.7m4.4-.2h.7m-.7 0h.7m-.3 1h.7m-.5-.9h.7m-.6-1.3h.7m.5 .1h.7m.6 1.5h.7m.3-.5h.7m.4-.1h.7m-.5 1.8h.7m-.6 0h.7m-.6-1.3h.7m-.2 1h.7m-.5 .4h.7m-.4-.5h.7m-.2-1.7h.7m-.6 .3h.7m-.4-.2h.7m-.6-.1h.7m-.7 .3h.7m-.3 1.8h.7m-.4-.1h.7m-.5-.6h.7m-.7-.5h.7m-.4-1.1h.7m-.7 .5h.7m-.5 .6h.7m-.6 .5h.7m-.6-1h.7m-.5-.1h.7m-.4 .3h.7m-.4 1.5h.7m-.4-2.7h.7m-.7 1.3h.7m-.5-1.4h.7m-.7 .8h.7m-.5 .4h.7m-.5 .5h.7m-.6 1h.7m-.5-1.4h.7m-.4-1.2h.7m-.6 1.5h.7m-.1 1h.7m.3-.6h.7m-.6 .2h.7m-.3 .2h.7m-.7-1.2h.7m-.4 .7h.7m-.2-.1h.7m.1-1.3h.7m-.5 .1h.7m-.4 1.4h.7m-.5-.1h.7m-.6-.4h.7m.3-.5h.7m-.5-.3h.7m-.1 1.2h.7m-.6-.2h.7m-.4 .5h.7m-.6 .7h.7m-.5-2.5h.7m-.6 1.3h.7m-.5 1.2h.7m-.6-2.4h.7m-.7-.5h.7m-.4 .5h.7m-.3-.4h.7m-.1 1.2h.7m-.2 .8h.7m-.2 .2h.7m-.1-.2h.7m-.3-1.6h.7m-.6 2.2h.7m-.1 .1h.7m0-1.3h.7m1 .2h.7m.2 .4h.7m.4-.7h.7m.6-.9h.7m.8 .5h.7m0 1.2h.7m1.1-2.1h.7m3.2 1.1h.7m1.1-.7h.7m5.5-.1h.7m5.3 .2h.7m5.7 1.5h.7m-64.2 2.8h.7m2.6-.3h.7m.1-.4h.7m1.2-.1h.7m.9 1.8h.7m-.7-2.7h.7m0 .7h.7m-.5 0h.7m-.4 1h.7m.7-.7h.7m-.1-.7h.7m-.4 2.2h.7m-.3-2.2h.7m-.7-.3h.7m-.6-.1h.7m-.1 1.9h.7m-.6 .8h.7m-.6-1.8h.7m-.2 1.2h.7m-.1-1.2h.7m0 1.8h.7m-.3-1.2h.7m-.4-.7h.7m-.6-.3h.7m-.6 2h.7m-.2-.8h.7m-.6-1.8h.7m-.5 1.8h.7m-.4 0h.7m-.4-.9h.7m-.7 .5h.7m-.6 .7h.7m-.3 0h.7m-.2-1h.7m-.4-1h.7m-.7 1.6h.7m-.4-1.5h.7m-.5 .4h.7m-.6-.5h.7m-.4 1.5h.7m0 1.1h.7m-.6-1h.7m-.4 .2h.7m-.3 1h.7m-.5-.7h.7m-.3 .7h.7m-.7-.2h.7m.4-.2h.7m-.5-1.9h.7m-.3 .9h.7m-.6 .4h.7m-.6-.1h.7m-.1-1.5h.7m.1 .2h.7m-.5 1.1h.7m-.7-.4h.7m-.6 .6h.7m-.6 .7h.7m-.5 .3h.7m0-2.8h.7m.4 2.1h.7m-.6-.5h.7m-.6-.7h.7m.1 0h.7m-.1 1h.7m-.4-.1h.7m-.5-.8h.7m-.4-.2h.7m-.3 1.5h.7m1.4-1.4h.7m-.6 1.3h.7m.3-.4h.7m.2-1.3h.7m-.4 1.6h.7m-.4-.4h.7m.3-1.1h.7m-.6-.1h.7m-.3 1.2h.7m.1 1h.7m.5-.9h.7m-.1 .3h.7m1.2 .5h.7m.9-2.6h.7m.6 1.6h.7m22-.4h.7m4.2 .4h.7m-70.2 2.3h.7m.1-.6h.7m-.2 2.4h.7m-.3-1h.7m0 1.2h.7m.3-.9h.7m-.5-1.1h.7m-.5 1.9h.7m-.2-.9h.7m0-1.9h.7m-.3 1.3h.7m1 .3h.7m-.3 .2h.7m-.4 .5h.7m.3-1.2h.7m-.7 1.2h.7m.7-2.3h.7m-.7 .2h.7m.3 1.8h.7m-.5 .5h.7m-.6-.3h.7m-.2 .4h.7m-.4-.5h.7m-.5-1.4h.7m-.3 0h.7m-.5-.7h.7m-.7 1.3h.7m.1-.1h.7m-.5-.3h.7m-.7 .6h.7m-.2-1.4h.7m-.6 1h.7m-.6 1.4h.7m-.3-.6h.7m.4 .2h.7m-.6-1.7h.7m-.3 2.5h.7m-.6-2.5h.7m-.5 2.2h.7m-.2-1.3h.7m-.3-.9h.7m-.6 1h.7m-.6-.8h.7m-.6 .2h.7m-.5-.3h.7m-.4 2h.7m-.7-1.5h.7m-.5 .3h.7m-.3-1h.7m-.3 1.4h.7m-.7-1.1h.7m-.6 .5h.7m-.7 0h.7m-.7-.5h.7m-.7 .8h.7m-.4 .1h.7m-.4 .5h.7m-.6-.9h.7m-.5 1h.7m-.7 0h.7m-.4 .6h.7m-.7 .1h.7m-.7-1.9h.7m-.5 1.8h.7m-.4-2.7h.7m-.7 .1h.7m-.5 2.3h.7m-.7-1.8h.7m-.3 2.2h.7m-.4-1.3h.7m-.5 .3h.7m-.6-.2h.7m-.1 .1h.7m-.6-1.4h.7m-.1 2.5h.7m-.6-2.3h.7m-.2-.4h.7m-.4 .2h.7m-.6 1.8h.7m-.6 .3h.7m-.5-.6h.7m-.6-1.8h.7m-.6 1.9h.7m-.3 0h.7m-.3-.8h.7m-.6 1.7h.7m-.5-2.4h.7m-.5 .8h.7m-.2 1.2h.7m-.7-.7h.7m-.3-.2h.7m-.2-.7h.7m-.7-.6h.7m-.4 2.7h.7m-.6-.8h.7m-.3 .5h.7m-.3-.4h.7m-.5 .3h.7m-.6 0h.7m-.7 .2h.7m-.7-1.1h.7m-.6 .8h.7m.1 .2h.7m-.4-1.3h.7m-.7 1.2h.7m-.5 .4h.7m-.3-.2h.7m-.5-2.3h.7m-.5 .5h.7m-.7 .8h.7m.1-1.3h.7m-.7 .1h.7m-.1 1.6h.7m-.6 .7h.7m-.7-1h.7m-.2-.7h.7m-.6-.3h.7m-.3-.5h.7m2.1 .5h.7m0-.1h.7m.1 1.6h.7m.2-1.8h.7m-.5 1.6h.7m0-.6h.7m1.7 1.1h.7m11.6-.5h.7m6.3-1.4h.7m-63.3 3.8h.7m.2 .6h.7m-.4 .2h.7m-.2-1.4h.7m.9 .8h.7m-.5-.7h.7m.3-.1h.7m.5 .7h.7m.6 .7h.7m-.5-1h.7m-.1-.5h.7m.1 .8h.7m-.3-.4h.7m-.7 1.3h.7m-.5-1.1h.7m-.4-.7h.7m-.4 1.5h.7m-.3-.5h.7m-.4 0h.7m-.4-1.5h.7m-.4 2.2h.7m-.6-.5h.7m-.1-1.2h.7m-.6 1.1h.7m0-1.1h.7m-.6 .8h.7m-.5 .5h.7m-.6-.2h.7m-.5 1h.7m-.6-2.8h.7m-.6 1.9h.7m-.5-1.3h.7m-.4 2.3h.7m-.4-2.4h.7m-.6 1.2h.7m-.6-1.6h.7m-.5 1.1h.7m-.7-.2h.7m-.5-.2h.7m-.7 .8h.7m-.6-.8h.7m-.7 .7h.7m.1-1.2h.7m-.6 .5h.7m.3-.2h.7m-.4 2.2h.7m-.3-1.9h.7m-.3-.3h.7m-.7 2.3h.7m-.7-2.1h.7m-.5 1.9h.7m-.7 0h.7m-.5-.8h.7m-.6-1.2h.7m-.5 2.1h.7m-.5-.9h.7m-.6 1h.7m-.5-2.7h.7m-.1 2h.7m-.6 .2h.7m-.6-.9h.7m-.7-.7h.7m-.3 1.5h.7m-.7 0h.7m-.6 .2h.7m-.7-1.9h.7m-.6 .8h.7m-.7 0h.7m-.7 .3h.7m-.7 .1h.7m-.5 1h.7m-.6-.8h.7m-.6-2h.7m-.6 2.1h.7m-.5-1.4h.7m-.7 1h.7m-.4 .5h.7m-.7 .6h.7m-.5 .1h.7m-.7-1.2h.7m-.3-1.1h.7m-.5 2h.7m-.7-.8h.7m-.4 .5h.7m-.5 .3h.7m-.6-2.2h.7m0 1h.7m-.7-.7h.7m-.7 1.1h.7m-.6 1.1h.7m-.7-.1h.7m-.4-.4h.7m-.5 .2h.7m-.6-2.2h.7m-.6-.1h.7m-.5 1.8h.7m-.6-.4h.7m-.6 1.2h.7m-.5-.8h.7m-.5-.8h.7m-.4 1.4h.7m-.3-2.1h.7m-.5-.3h.7m-.5 2.6h.7m-.5-1.4h.7m-.6 .1h.7m-.7 0h.7m-.5 1.2h.7m-.6-.4h.7m-.6 .3h.7m-.7 .1h.7m-.6-1.3h.7m-.5 .2h.7m-.3-1.6h.7m-.6 2.5h.7m-.6-.1h.7m-.6-1.8h.7m-.7 .8h.7m-.6 1.1h.7m-.5-1.6h.7m-.4 .1h.7m-.6 1.8h.7m-.7-1.5h.7m-.7-1.2h.7m-.6 .5h.7m-.7 2.1h.7m-.6-1.7h.7m-.7-.5h.7m-.3 1.9h.7m-.4-1.9h.7m-.6 2h.7m-.6-.6h.7m-.7-.7h.7m-.5-.4h.7m-.3 .9h.7m-.7-1.5h.7m-.7 2h.7m-.3-2.3h.7m-.6 1.1h.7m-.4-.3h.7m-.3-.4h.7m-.6 1.8h.7m-.6-1h.7m-.3 .9h.7m0-1h.7m-.7 1.6h.7m-.5-.8h.7m-.2-.9h.7m-.6-.6h.7m-.6 .6h.7m-.6-.6h.7m-.4 1h.7m-.6-1.1h.7m-.6 1.8h.7m-.6-1.3h.7m-.4-.1h.7m2.3-.6h.7m-.1 1.3h.7m.8 1.2h.7m0-2.6h.7m4.3 .3h.7m5.1 .2h.7m-.3 1.6h.7m8.1-.1h.7m-63.1 2h.7m.3-.3h.7m2-.4h.7m.9 .5h.7m-.5 1.7h.7m-.4-.8h.7m-.4-.1h.7m-.4-.4h.7m.3-.9h.7m-.7 .7h.7m0 1.7h.7m-.3 .1h.7m-.6 .1h.7m-.4-1.6h.7m0 .6h.7m-.7 .9h.7m-.6-1.4h.7m-.6-.4h.7m.5 1.6h.7m-.7-.7h.7m-.7 .7h.7m-.2-.3h.7m-.7 .2h.7m-.6-1.1h.7m-.3-.2h.7m-.6 .5h.7m-.4 .1h.7m-.3-1.7h.7m-.6 2.4h.7m-.5-1h.7m-.7 0h.7m-.6 .2h.7m-.2 .1h.7m-.4-.1h.7m-.4-.7h.7m-.4 1.2h.7m-.5-1.7h.7m-.7 2.1h.7m-.4-2.4h.7m-.3 2.1h.7m-.5-2.1h.7m-.6 2.1h.7m-.7-.1h.7m-.6-.4h.7m-.7 .9h.7m-.4-.7h.7m-.3-1.7h.7m-.5 1.9h.7m-.6-.3h.7m-.6-.8h.7m-.5 .4h.7m-.7 1.1h.7m-.5-.6h.7m-.7-1.7h.7m-.6 1.5h.7m-.5-1.8h.7m-.6 1.5h.7m-.6 1h.7m-.4-1.9h.7m-.4 1.4h.7m-.6-.1h.7m-.5-1h.7m-.7-.7h.7m-.6 2.1h.7m-.6-.6h.7m-.6 .1h.7m-.7 .6h.7m-.6-2.3h.7m-.7 1.3h.7m-.6-.6h.7m-.6 2.1h.7m-.6-1.3h.7m-.6-1h.7m-.5-.4h.7m-.4 .7h.7m-.6-.8h.7m-.6 .6h.7m-.6 1h.7m-.7-.4h.7m-.3 .3h.7m0 .7h.7m-.6-.5h.7m-.6-1.7h.7m-.7 1.3h.7m-.5 .7h.7m-.5-1.8h.7m-.7-.1h.7m-.5 1.2h.7m-.5 .2h.7m-.7-.8h.7m-.6 1.7h.7m-.5-.7h.7m-.5 .4h.7m-.7-2.2h.7m-.6 1.7h.7m-.7-.2h.7m-.6 1.2h.7m-.7-1.1h.7m-.6-.9h.7m-.6 1.2h.7m-.7-1.4h.7m-.7 .3h.7m-.6 1.4h.7m-.5-1.4h.7m-.7 .4h.7m-.4 .9h.7m-.7-.7h.7m-.7-.3h.7m-.6 1.7h.7m-.7-.6h.7m-.5 .2h.7m-.3-.1h.7m-.7 .5h.7m-.6-.5h.7m-.4-2.3h.7m-.6 1.6h.7m-.6-1.5h.7m-.7 1.4h.7m-.7-.1h.7m-.6-.6h.7m-.6-.7h.7m-.6 2.8h.7m-.5-.3h.7m-.5 .2h.7m-.6-2.2h.7m-.6-.4h.7m-.4 1h.7m-.6-.5h.7m-.1 1h.7m-.6-.2h.7m-.5 1.3h.7m.2-.1h.7m-.6 0h.7m-.6-2h.7m-.5 .6h.7m-.7 0h.7m-.5-.9h.7m0 2.2h.7m-.6 0h.7m-.7 .2h.7m-.6-.4h.7m-.7-1.2h.7m-.5 .7h.7m-.5-1.8h.7m-.6 .1h.7m-.6 .8h.7m-.4-.7h.7m-.2 2.3h.7m-.4-.7h.7m-.6-.1h.7m-.3-.8h.7m-.7-.3h.7m-.2 .7h.7m-.4 0h.7m-.5-.4h.7m-.7 1.2h.7m-.5-.3h.7m-.6 .2h.7m-.5-1.9h.7m-.4 1.8h.7m-.7 .1h.7m-.6 .5h.7m-.7-1.9h.7m-.3-.4h.7m.1 1.3h.7m-.1-.4h.7m-.5 1.2h.7m.2 .5h.7m-.5-2.5h.7m.6 .2h.7m.4 1.7h.7m1.7 .4h.7m1.8 .2h.7m12.9-2.2h.7m13.1 0h.7m-71.6 5.1h.7m-.5-1.3h.7m-.1-.1h.7m-.3-1.2h.7m-.6 2.4h.7m.7-2.5h.7m1.2 .2h.7m-.5 2.6h.7m0-.4h.7m-.4 .4h.7m-.4-1.8h.7m-.7 .2h.7m.1-.5h.7m-.6-.6h.7m-.6 .3h.7m-.7-.5h.7m-.6 1.5h.7m.1 .1h.7m-.2 .4h.7m-.3 .9h.7m-.7-.4h.7m-.4-.7h.7m-.4-1.8h.7m-.5 .8h.7m.5 .1h.7m-.7 1.5h.7m-.6-1.1h.7m.1 1.4h.7m-.6-1h.7m-.6 .8h.7m-.4 .3h.7m-.4-.1h.7m-.7-.2h.7m-.5 .2h.7m-.6-.5h.7m-.6 .3h.7m-.6 .1h.7m-.7 0h.7m-.4-.9h.7m-.6 1.2h.7m-.3-1.6h.7m-.7 .7h.7m-.6 0h.7m-.6-1.7h.7m-.7 1.8h.7m-.6-1.2h.7m-.6 1.9h.7m-.6 0h.7m-.7-2.4h.7m-.5 1.1h.7m-.7-1.3h.7m-.6 .4h.7m-.6 1.6h.7m-.7-.3h.7m-.6-1.7h.7m-.5 1.3h.7m-.7 1.1h.7m-.6 0h.7m-.6-.5h.7m-.6-1.2h.7m-.3 2h.7m-.5-2.3h.7m-.7 1.2h.7m-.6 .2h.7m-.6-.1h.7m-.6-1.8h.7m-.7 1.7h.7m-.5-1.2h.7m-.5 2.3h.7m-.6-1.9h.7m-.5 .8h.7m-.7-1.1h.7m-.5 2.2h.7m-.6-1.7h.7m-.5 .5h.7m-.5 .9h.7m-.5-2.4h.7m-.6 2.7h.7m-.7-2.2h.7m-.6 1h.7m-.7-1.2h.7m-.5 .2h.7m-.4 1.3h.7m-.7-.2h.7m-.4 1h.7m-.7-2.3h.7m-.7 1.2h.7m-.6 .2h.7m-.7 .5h.7m-.6-1.9h.7m-.7 1.9h.7m-.5-1.8h.7m-.6 1.1h.7m-.7 .3h.7m-.7-.6h.7m-.5-.9h.7m-.7-.2h.7m-.6 .2h.7m-.7 .7h.7m-.7-1.1h.7m-.5 .9h.7m-.7-.3h.7m-.4 1.4h.7m-.6-.7h.7m-.6-1.1h.7m-.7 1.7h.7m-.5-.1h.7m-.6 .5h.7m-.7-1.6h.7m-.6 1.7h.7m-.5-.4h.7m-.6-1.3h.7m-.7 1.8h.7m-.7-.8h.7m-.5 1h.7m-.7-1.9h.7m-.6 1.2h.7m-.7-.7h.7m-.7 1h.7m-.6-1h.7m-.6-.6h.7m-.7 1.7h.7m-.7-2.5h.7m-.6 0h.7m-.7 1.5h.7m-.7-.3h.7m-.6 .1h.7m-.4-.1h.7m-.5 1.1h.7m-.6-1.2h.7m-.7 0h.7m-.6-.9h.7m-.7 2h.7m-.6 .6h.7m-.6-1h.7m.1-1.7h.7m-.5 1.8h.7m-.7 .1h.7m-.6-1.9h.7m-.5 2.3h.7m-.7 .1h.7m-.7-1.1h.7m-.6 .2h.7m-.6-1.3h.7m-.6 1.4h.7m-.7-.8h.7m-.6-.7h.7m-.7-.2h.7m-.7 2.6h.7m-.7-1h.7m-.4 .4h.7m-.5-1.7h.7m-.5 .7h.7m-.5 .8h.7m-.6-.7h.7m-.7 1.8h.7m-.7-2.5h.7m-.6 1.5h.7m-.7-1.7h.7m-.7 .3h.7m-.5 1h.7m-.7 .3h.7m-.3-1.3h.7m-.7 .6h.7m-.6 1h.7m-.2 .4h.7m-.6-2h.7m-.7 2.4h.7m-.4-1.5h.7m-.7-.4h.7m-.6 .2h.7m-.6-1.1h.7m-.6 1h.7m-.6-.8h.7m-.5 2.3h.7m-.5-2.5h.7m-.7 .5h.7m-.6 .4h.7m-.4 .7h.7m-.2-1.4h.7m-.5 2.1h.7m-.5-.2h.7m-.7-.5h.7m-.7 .2h.7m-.3-.2h.7m-.5-.7h.7m-.6 1.4h.7m-.6-1.8h.7m-.5 .9h.7m-.6-.6h.7m-.4 .2h.7m-.6-.3h.7m-.3 1.4h.7m0-.1h.7m-.3-1.6h.7m-.7-.3h.7m-.7 .2h.7m-.6-.1h.7m-.6 .5h.7m-.2 .5h.7m-.5-.2h.7m-.2-.5h.7m1.5 2.1h.7m1-.9h.7m-.6 1.1h.7m9.1-2.4h.7m.1 .1h.7m10.3 .7h.7m1.8 1.6h.7m6.8-2h.7m-70.8 4.2h.7m0-1.6h.7m-.2-.4h.7m.3 .7h.7m-.6 1.8h.7m.1-2.6h.7m.1 2.7h.7m-.5-1.5h.7m-.2-1.1h.7m-.6 .4h.7m.6-.2h.7m0 .6h.7m-.4 1.3h.7m-.6 .6h.7m-.7-1.4h.7m-.2 1.4h.7m-.3-.3h.7m-.5-.4h.7m-.4 .2h.7m-.5-.8h.7m-.6 .1h.7m-.5-.4h.7m-.7 .7h.7m-.6-1.8h.7m-.5 0h.7m-.2 2.7h.7m0-.6h.7m-.5-2h.7m-.4 .5h.7m-.6-.1h.7m-.7-.1h.7m-.1-.4h.7m-.6 2.1h.7m-.6-.1h.7m-.4-2.1h.7m-.6 2.4h.7m-.6-1.2h.7m-.7 .2h.7m-.4-.3h.7m-.6 1.3h.7m-.2-2h.7m-.7 2.3h.7m-.2-1.4h.7m-.6-.3h.7m-.2 1.7h.7m-.7-2h.7m-.6 1.2h.7m-.6-.3h.7m-.6-.8h.7m-.6 1.3h.7m-.6-.8h.7m-.5 1.3h.7m-.6-2.4h.7m-.7 .3h.7m-.6 0h.7m-.6 .5h.7m-.5 1h.7m-.7 .4h.7m-.1-1.5h.7m-.5 1.7h.7m-.7-1.3h.7m-.6 .6h.7m-.6-1.6h.7m-.7 .6h.7m-.4 2h.7m-.7-1.5h.7m-.1-.3h.7m-.6 1.1h.7m-.6-.1h.7m-.7-.3h.7m-.6-.6h.7m-.6-.8h.7m-.7 1.8h.7m-.6-.3h.7m-.3-1.4h.7m-.5 .2h.7m-.4 1.4h.7m-.6-1h.7m-.7-.9h.7m-.3 2h.7m-.6-1.3h.7m-.7 1.1h.7m-.7-1.9h.7m-.6 2.6h.7m-.6-.1h.7m-.7-1.1h.7m-.6 .4h.7m-.7 .5h.7m-.7-.2h.7m-.2-2h.7m-.7 .4h.7m-.6 .9h.7m-.7 .4h.7m-.7 .6h.7m-.6-.9h.7m-.7-.1h.7m-.5 1.2h.7m-.7-1.7h.7m-.7-.8h.7m-.7 1.6h.7m-.6-.6h.7m-.6 1.5h.7m-.6-.4h.7m-.6-.7h.7m-.7 .1h.7m-.6 .6h.7m-.6 0h.7m-.4 0h.7m-.7-.6h.7m-.5-1.1h.7m.1 .9h.7m-.4-.2h.7m-.4 1.5h.7m-.7-2.2h.7m-.6 1.4h.7m-.6 .5h.7m-.7-.4h.7m-.5 .2h.7m-.7-1.6h.7m-.3 1.4h.7m-.6 .4h.7m-.6-1.3h.7m-.2-.4h.7m-.5-.5h.7m-.7 .7h.7m-.6 1.2h.7m-.2-.7h.7m-.4 .4h.7m-.6-.4h.7m-.6 1.2h.7m-.5-.8h.7m-.2-1.2h.7m-.6 1.2h.7m-.7 .2h.7m-.6 .5h.7m-.7-2.3h.7m-.7-.3h.7m-.6 2h.7m-.4-1.9h.7m-.3 1.9h.7m-.6 .9h.7m-.4-.7h.7m-.6-1h.7m-.7-.8h.7m-.6 .8h.7m-.7 1.7h.7m-.6 0h.7m-.5-.1h.7m-.7-.1h.7m-.4-.5h.7m-.3-1.2h.7m-.6-.4h.7m0 .3h.7m-.2 .3h.7m-.6-1.2h.7m-.6 .6h.7m-.6 1.5h.7m-.2-1.8h.7m-.5 0h.7m-.4 0h.7m-.6 1.9h.7m-.5-.9h.7m-.7-.8h.7m-.4 .6h.7m1.2-.1h.7m-.1-.4h.7m-.4 .6h.7m-.5-1h.7m.9 1.9h.7m-.2-.7h.7m-.6 0h.7m2.3-1h.7m4.3 1.6h.7m-.2-.3h.7m.3-1.2h.7m5.8 .7h.7m0-.3h.7m8.9 1.3h.7m4.7-1.6h.7m-70.5 4.9h.7m.3-.1h.7m-.4-1.8h.7m.3 1.4h.7m-.6-.5h.7m1-.9h.7m-.6-.2h.7m.6 2h.7m-.6-2.1h.7m0-.3h.7m-.6 .2h.7m-.2 2.5h.7m-.5 .1h.7m-.7-.6h.7m-.6-2.1h.7m-.4 .9h.7m-.5 1.5h.7m-.4-1.3h.7m-.6 1h.7m-.2-2.2h.7m-.6 1.6h.7m-.6-.5h.7m-.4-.4h.7m-.6 1.4h.7m-.6 .6h.7m-.2-1.8h.7m-.3 1h.7m-.5-1.4h.7m-.2 .5h.7m-.6-.8h.7m-.7 1.8h.7m-.7-1.2h.7m-.6 1.2h.7m-.6 .1h.7m-.7 .6h.7m-.6-1.6h.7m-.5 1.1h.7m-.1 .6h.7m-.4-.5h.7m-.5-1.3h.7m-.6 .3h.7m-.7 0h.7m-.6-.6h.7m-.5 2h.7m-.5-2.6h.7m-.6 2.5h.7m-.6-.5h.7m-.6 .7h.7m-.7-1.7h.7m-.4 .6h.7m-.4-1.6h.7m-.2 .1h.7m-.7-.2h.7m-.7 .1h.7m-.6 1.7h.7m-.7 .4h.7m-.7 .7h.7m-.6-2.1h.7m-.5 .1h.7m-.5 .9h.7m-.2 .9h.7m-.7-.8h.7m-.7 .3h.7m-.5-.8h.7m-.7 .8h.7m-.5-.2h.7m-.6-1.5h.7m-.6 .1h.7m-.7 1.2h.7m-.4 .9h.7m-.5-.1h.7m-.3-.4h.7m-.6 .3h.7m-.7-1.8h.7m-.5 2.1h.7m-.6-2.4h.7m-.7 .3h.7m-.6 .6h.7m-.5-.7h.7m-.7 .2h.7m-.6-.6h.7m-.6 2.5h.7m-.5-2.6h.7m-.7 1.1h.7m-.6-.4h.7m-.5 .5h.7m-.6-.5h.7m-.7 1.8h.7m-.6-2.3h.7m-.6 .4h.7m-.5 0h.7m-.5 1.5h.7m-.6 .2h.7m-.6-1.6h.7m-.6 .3h.7m-.5 .7h.7m-.6-1.4h.7m-.4 1.1h.7m-.6-.3h.7m-.7 .7h.7m-.5-.3h.7m-.5-.6h.7m-.6 0h.7m-.4 0h.7m-.4 1.1h.7m-.6 .4h.7m-.6-1.6h.7m-.5-.8h.7m-.6 1.7h.7m-.6-1h.7m-.5 1.2h.7m-.6 .5h.7m.3-1h.7m-.7-.3h.7m-.6 .7h.7m-.6-1.7h.7m-.6 2.4h.7m-.6-.3h.7m-.7-2.2h.7m-.7 2.2h.7m-.6-.8h.7m-.6-1.1h.7m-.6 .4h.7m-.4-.8h.7m-.4 .6h.7m-.6 .8h.7m-.7-1.4h.7m-.6 1.4h.7m-.4-.9h.7m-.4 2.4h.7m-.7-1.9h.7m-.4 1.2h.7m-.6 0h.7m-.6-1.5h.7m-.6-.4h.7m-.5 1.8h.7m-.5-1.6h.7m-.5 1.4h.7m-.4-.8h.7m-.6 .2h.7m-.2-1.3h.7m-.6 .4h.7m-.6 0h.7m-.3 .1h.7m-.6 2.4h.7m-.6-1.6h.7m-.2 .1h.7m-.4 1h.7m-.7-2.2h.7m-.1 1.5h.7m-.7-.3h.7m-.5-1.3h.7m-.4 .8h.7m-.6 1.9h.7m-.6-2.8h.7m-.5 0h.7m-.2 0h.7m-.3 2.7h.7m-.1-2.2h.7m-.4-.5h.7m-.3 2h.7m1.1-1.3h.7m-.6 1.8h.7m-.3-2.4h.7m-.4 .8h.7m.4-.3h.7m-.6 .9h.7m8.1-1.2h.7m8 2.3h.7m1.1-.1h.7m16.9-2.2h.7m-73.8 4.1h.7m1.5-1.1h.7m0 .7h.7m-.1 1.1h.7m.4 0h.7m-.4 0h.7m-.2 .7h.7m-.3-.2h.7m-.3-1.4h.7m-.6-.6h.7m-.6 2.2h.7m-.4-1.2h.7m.3-.5h.7m-.7 1.7h.7m-.4-.3h.7m-.7-1.4h.7m-.3 .9h.7m-.3-.9h.7m-.5-.8h.7m-.7 1h.7m-.4 .8h.7m-.6-.4h.7m-.6 .4h.7m0 .5h.7m-.6-1.8h.7m-.7 1.1h.7m-.1-.6h.7m-.5 1.2h.7m-.2-1.1h.7m-.5 .7h.7m-.7-1.1h.7m.2 .3h.7m-.6-.3h.7m-.6-.7h.7m-.7 .5h.7m-.4 1.3h.7m-.7-.8h.7m-.3 .4h.7m-.3 .7h.7m-.4-1.2h.7m-.3-1.1h.7m-.6 1.4h.7m-.7-1.1h.7m-.5 2.2h.7m-.3-1.4h.7m-.5-.6h.7m-.7 1.6h.7m-.6-.8h.7m-.7 1.4h.7m-.4-1.5h.7m-.7-.3h.7m-.5 .5h.7m-.5 .5h.7m-.4-1.6h.7m-.6 1.1h.7m-.5 1.4h.7m-.6-2.3h.7m-.6 1.5h.7m-.7-1.5h.7m-.7 0h.7m-.5-.1h.7m-.5 1.9h.7m-.6-1.8h.7m-.6 .1h.7m-.7 1.6h.7m-.5-1h.7m-.6-.6h.7m-.7 .3h.7m-.5 1h.7m-.7 .3h.7m-.6-1.6h.7m-.1 1.6h.7m-.6-1.1h.7m-.7 .9h.7m-.6-2h.7m-.5 1.9h.7m-.7 .5h.7m-.7 .4h.7m-.7-.8h.7m-.2 .1h.7m-.6-2.1h.7m-.3 1.5h.7m-.7 .2h.7m-.3-.1h.7m-.6-.6h.7m-.5 1.8h.7m-.7-2.6h.7m-.6 1.4h.7m-.3-1.4h.7m-.5-.2h.7m-.6 1.5h.7m-.3 1.1h.7m-.7-.3h.7m-.6-2.3h.7m-.5 .3h.7m-.6 1.9h.7m-.6-.7h.7m-.7-.7h.7m-.6-.5h.7m-.6 1.1h.7m-.5-.9h.7m-.6 .3h.7m-.6 .3h.7m-.7 .1h.7m-.6-.3h.7m-.5-1h.7m-.7 .8h.7m-.6 1.1h.7m-.6-1.4h.7m-.6 .3h.7m-.7-.3h.7m-.2 1.5h.7m-.6-1.9h.7m-.5 1.9h.7m-.5 .2h.7m-.6-.1h.7m-.6 .1h.7m-.7-.6h.7m-.6 0h.7m-.5-1.3h.7m-.6 2h.7m.1 0h.7m-.7 .2h.7m-.5-1.4h.7m-.6-.6h.7m-.6-.5h.7m-.5 2.4h.7m-.5-1.7h.7m-.3 .9h.7m0-1.3h.7m-.6 0h.7m-.2 .6h.7m.8-.8h.7m-.1 .2h.7m-.3-.3h.7m.5 1.7h.7m-.2-1h.7m0 1.6h.7m1.3-.9h.7m2.4 1.1h.7m1.2-.5h.7m-.6-.8h.7m.9 .2h.7m1.4-.9h.7m-44.7 3.7h.7m1.1 .5h.7m-.1-.6h.7m-.1 0h.7m.5-.1h.7m-.1-.9h.7m-.2 .2h.7m-.4 0h.7m-.3 0h.7m1 2h.7m-.5-.7h.7m-.4 .7h.7m-.6 .6h.7m-.5-1.1h.7m-.7 .4h.7m-.6-1.1h.7m-.6-.6h.7m-.5 2.4h.7m-.6-.8h.7m-.3-.1h.7m-.1-1.3h.7m-.6 1.2h.7m.6-.4h.7m-.5 .4h.7m-.6-.3h.7m0 .2h.7m-.6-.9h.7m-.7-.5h.7m-.6-.3h.7m-.7 1.5h.7m-.6-.8h.7m-.2 .3h.7m-.6 1.8h.7m-.6-.1h.7m-.6-2.5h.7m-.6-.1h.7m-.6 2.5h.7m-.7-2.1h.7m-.6 2h.7m0-.3h.7m-.5-.7h.7m-.3-.8h.7m-.3 1.8h.7m-.7-.2h.7m-.4-.8h.7m-.3-.4h.7m-.7-.4h.7m-.7 1.1h.7m-.4-1.9h.7m-.5 2.5h.7m-.4 .1h.7m-.6-1.2h.7m-.7-.5h.7m-.7 .5h.7m-.6 .2h.7m.1-.5h.7m-.4 .8h.7m-.4-1.2h.7m-.7-.5h.7m-.6 .3h.7m-.5 1h.7m-.7-.7h.7m-.3 .7h.7m-.6-.2h.7m-.2 .8h.7m-.4 .4h.7m-.6-2.5h.7m-.4 1.5h.7m-.6 0h.7m-.6-.2h.7m-.7 1.3h.7m-.3-1.3h.7m.1-.4h.7m-.7 1.4h.7m-.5-.5h.7m-.1-1.8h.7m.2 1.9h.7m1.2-1h.7m-.4-.3h.7m-.6 1.5h.7m-.6-1.9h.7m-.5 1h.7m-.7 .3h.7m.1-.7h.7m0 2h.7m-.7-.5h.7m-.6-1.7h.7m-.5 1.5h.7m-.7 .4h.7m-.5-2.5h.7m-.3 1.3h.7m-.5 1.3h.7m-.1-.9h.7m-.6 1.1h.7m-.4 0h.7m-.2-2.2h.7m-.2-.6h.7m1 1.2h.7m-.3 .1h.7m1.1 0h.7m5 .4h.7m-.1-1h.7m7.4 2.1h.7m1.8-.2h.7m.7-2.5h.7m2.3 .5h.7m2.8 1.1h.7m.9 .6h.7m-.7-.6h.7m-62.1 2.8h.7m.2-.1h.7m0-1h.7m2.2 .5h.7m0 .4h.7m1.6-.7h.7m-.6-.2h.7m-.2 1.2h.7m-.1-.2h.7m-.6-1.2h.7m1.1 1.1h.7m-.6-.1h.7m-.5-1.2h.7m-.5 .8h.7m-.7 .1h.7m-.7-.3h.7m-.1-.5h.7m-.4 .7h.7m-.6-.8h.7m.7 1.2h.7m-.4-1.2h.7m-.4 1.7h.7m.5-.2h.7m-.3 .2h.7m1.2-.4h.7m.1-.1h.7m.6-.1h.7m3.8-.9h.7m1.7-.1h.7m1.7 .5h.7m-.1-.4h.7m.8 .4h.7m9.7 .9h.7m3.5-.6h.7m14.8-.5h.7" stroke="#f01818" stroke-width="0.8" stroke-opacity="0.5" fill="none"/>
<ellipse cx="51.3" cy="285" rx="3.7" ry="2.3" transform="rotate(-78 51.3 285)" fill="#ff0a0a" filter="url(#bl)"/>
<ellipse cx="52" cy="312.5" rx="5" ry="3.5" transform="rotate(-28 52 312.5)" fill="#ff0a0a" filter="url(#bl)"/>
<path d="M51.1 275.2h.7m.3 .6h.7m-.2-.1h.7m-.1 .1h.7m-6.8 2.5h.7m.1 .5h.7m.1-.4h.7m-.6-1h.7m-.2 1.2h.7m-.7 .3h.7m-.6-.3h.7m-.5-.6h.7m-.6-.9h.7m-.3 1.2h.7m-.5-.5h.7m-.3-.1h.7m-.5 .8h.7m-.6-.1h.7m-.6-.8h.7m-.7-.4h.7m.1 .9h.7m-.6 0h.7m-.2-1.3h.7m-.7 .8h.7m-.1 .4h.7m-.4 .7h.7m-.7-2h.7m-.6 .3h.7m-.7 1.2h.7m-.5 .2h.7m-.7-1.5h.7m-.6 1.1h.7m-.5-1h.7m-.4 1.1h.7m-.6-.4h.7m-.3 .4h.7m-.1 .8h.7m-.2-.6h.7m.1 .4h.7m.8-.9h.7m-12.3 3.4h.7m-.5 .2h.7m.1-1.8h.7m-.3 2h.7m-.6-.6h.7m-.5-.5h.7m-.5 .6h.7m-.6 .8h.7m-.6-2h.7m-.5-.7h.7m-.5 .6h.7m-.6 .8h.7m-.6 1h.7m-.6-.9h.7m-.6-.9h.7m-.7 1.1h.7m-.6-.5h.7m-.7-1.4h.7m-.7 2.9h.7m-.5-.6h.7m-.6 .6h.7m-.7-.2h.7m-.5-.1h.7m-.7-1.9h.7m-.7 1.6h.7m-.7-1.8h.7m-.6 1h.7m-.6 .9h.7m-.6-.7h.7m-.7-1.5h.7m-.6 2.1h.7m-.6-1.2h.7m-.7 0h.7m-.7-.3h.7m-.7 1.2h.7m-.6-.1h.7m-.7-.8h.7m-.7-.2h.7m-.6-.1h.7m-.7 .8h.7m-.7-.6h.7m-.7 1.5h.7m-.7-2.5h.7m-.6 .5h.7m-.7 2.2h.7m-.7-.4h.7m-.7 0h.7m-.6-.3h.7m-.6 .7h.7m-.6 0h.7m-.7-.7h.7m-.7 .2h.7m-.7-.2h.7m-.6-1.3h.7m-.7 .8h.7m-.6 1.2h.7m-.5-2.3h.7m-.6 .5h.7m-.7 1.7h.7m-.7-.6h.7m-.7-.5h.7m-.7 0h.7m-.6 .6h.7m-.7-.2h.7m-.6-.2h.7m-.7 .2h.7m-.5 .6h.7m-.7-.8h.7m-.6 .1h.7m-.7-.7h.7m-.7 .7h.7m-.7 .6h.7m-.7-1.3h.7m-.6-1.1h.7m-.6 2h.7m-.7-1.6h.7m-.6 2.5h.7m-.7-.2h.7m-.5-.8h.7m-.7-1.3h.7m-.7 1h.7m-.6 1.1h.7m-.7 0h.7m-.7-.5h.7m-.7-1.9h.7m-.7 2.6h.7m-.6-1.2h.7m-.5-1.1h.7m-.7 .2h.7m-.7-.2h.7m-.6 1.6h.7m-.6-2h.7m-.7 1.8h.7m-.6 .8h.7m-.6 0h.7m-.6-.2h.7m-.6 0h.7m-.7 0h.7m-.5-.2h.7m-.3-1.5h.7m-.7 1.5h.7m-.7 .1h.7m-.7-1.3h.7m-.6-.6h.7m-.6 .3h.7m-.5 1.5h.7m-.5 .3h.7m-.7-2.4h.7m-.7 1h.7m-.6 1h.7m-.5-.2h.7m-.5 .3h.7m-.7 .4h.7m-.6-1.4h.7m-.3-.2h.7m-.6 .7h.7m-.3-.1h.7m-.2 .1h.7m-.4 .4h.7m-12.8 2.2h.7m-.6 .7h.7m-.6 .4h.7m.1 0h.7m-.7-.2h.7m-.3-.3h.7m-.7-1.1h.7m-.4 .5h.7m-.6 .3h.7m-.5 .2h.7m-.7-1.4h.7m-.2 .6h.7m-.4 1.2h.7m-.6-.3h.7m-.7-1.5h.7m-.7 2h.7m-.6-.3h.7m-.7-1.3h.7m-.7-.4h.7m-.6 .6h.7m-.6 .7h.7m-.7-1.5h.7m-.6 1.8h.7m-.7 0h.7m-.7-.3h.7m-.7 .8h.7m-.6-.1h.7m-.7-.1h.7m-.7-.3h.7m-.7-2.1h.7m-.7 2.4h.7m-.5-.7h.7m-.6-1.2h.7m-.7 2.2h.7m-.7-.2h.7m-.7-1.9h.7m-.6 1.3h.7m-.7 .6h.7m-.7-2.3h.7m-.7 1.3h.7m-.6-1.1h.7m-.7 2.1h.7m-.7 0h.7m-.7-.2h.7m-.6-.9h.7m-.7-.9h.7m-.7 .9h.7m-.6-1.1h.7m-.7 2.5h.7m-.7-.4h.7m-.7 .4h.7m-.7-2.6h.7m-.7 2.4h.7m-.7-.7h.7m-.6 .3h.7m-.7-1.8h.7m-.6 1.3h.7m-.7 .3h.7m-.7 .2h.7m-.6-1.1h.7m-.7-.2h.7m-.7-1h.7m-.7 1.2h.7m-.6 1h.7m-.7 0h.7m-.7-1.5h.7m-.7 .3h.7m-.7 .5h.7m-.7 1.1h.7m-.6-2.6h.7m-.7 2h.7m-.7 .9h.7m-.7-1.5h.7m-.7 1.2h.7m-.6 .3h.7m-.7-2.3h.7m-.7 .4h.7m-.7-.7h.7m-.6-.2h.7m-.7 1.6h.7m-.7 1.2h.7m-.6-2.7h.7m-.7 2.2h.7m-.7-1.1h.7m-.7 1.2h.7m-.7-.5h.7m-.7-.7h.7m-.6-.6h.7m-.7 1.6h.7m-.7-2.1h.7m-.6 .1h.7m-.7 1.6h.7m-.7 .5h.7m-.6 .2h.7m-.7-.3h.7m-.7 .6h.7m-.7-2.5h.7m-.6 .6h.7m-.7 .4h.7m-.7 .5h.7m-.7-1h.7m-.7-.2h.7m-.7-.7h.7m-.6 2.6h.7m-.7-1.6h.7m-.7 .4h.7m-.7-.4h.7m-.7-.2h.7m-.6 2.1h.7m-.7-1.5h.7m-.7 .7h.7m-.6 .4h.7m-.7-1.6h.7m-.7-.6h.7m-.7 2.2h.7m-.6-2.3h.7m-.7 1.6h.7m-.7 .8h.7m-.6-2.3h.7m-.7 2.5h.7m-.7-.1h.7m-.7-1.2h.7m-.7-.8h.7m-.7-.4h.7m-.7 1.4h.7m-.6 .5h.7m-.7-.1h.7m-.7 .5h.7m-.7-2.6h.7m-.7 2.7h.7m-.6-1.1h.7m-.7 1h.7m-.7-2.5h.7m-.7 .4h.7m-.7 .3h.7m-.7 .4h.7m-.6 .3h.7m-.7 .9h.7m-.7-.3h.7m-.7-.1h.7m-.7 .3h.7m-.6 .4h.7m-.7-2.2h.7m-.7 1.7h.7m-.7-.4h.7m-.7-1.3h.7m-.7 1.2h.7m-.6-.3h.7m-.7 .6h.7m-.6-.8h.7m-.7-.3h.7m-.6 1.4h.7m-.7-1.6h.7m-.7-.6h.7m-.7 2.6h.7m-.7 0h.7m-.6-1h.7m-.7 0h.7m-.7 .6h.7m-.7-2.3h.7m-.7 2.7h.7m-.7-1.2h.7m-.7 1.3h.7m-.7-1.1h.7m-.7-.5h.7m-.6 .1h.7m-.7 1.6h.7m-.7-1h.7m-.7-1.4h.7m-.6 1.5h.7m-.7-2h.7m-.7 .9h.7m-.7-.2h.7m-.6-.3h.7m-.7 1.6h.7m-.6-.9h.7m-.7 1.3h.7m-.6-2.1h.7m-.7 0h.7m-.7-.3h.7m-.7 2.1h.7m-.6-1.4h.7m-.7 1.5h.7m-.7-.9h.7m-.7 .4h.7m-.7 .7h.7m-.6-.3h.7m-.7-2.1h.7m-.7 1h.7m-.7 1.3h.7m-.7-1.9h.7m-.6 .7h.7m-.7 .9h.7m-.7-1.1h.7m-.7 .2h.7m-.7-.2h.7m-.6 .3h.7m-.7-.7h.7m-.6 2.4h.7m-.6-1.3h.7m-.7 1.3h.7m-.7-.8h.7m-.7-2.1h.7m-.7 2.7h.7m-.7-.6h.7m-.7-.3h.7m-.6 .6h.7m-.7 .2h.7m-.7-2.3h.7m-.7 2.4h.7m-.7 .2h.7m-.6-.4h.7m-.6-1.8h.7m-.7 1.4h.7m-.7 .4h.7m-.7-1.3h.7m-.6 1.6h.7m-.7-.2h.7m-.7-.6h.7m-.7-1.8h.7m-.7 2.3h.7m-.7 0h.7m-.7 .1h.7m-.6-.3h.7m-.7-.5h.7m-.6 .9h.7m-.7-1.6h.7m-.7-.3h.7m-.6 .7h.7m-.5-1.4h.7m-.7 .1h.7m-.7 1.1h.7m-.7-.9h.7m-.6 .3h.7m-.6 1.6h.7m-.7-.8h.7m-.7-.8h.7m-.7 1.3h.7m-.6-2h.7m-.7 .1h.7m-.7 .4h.7m-.6 1.6h.7m-.7-1.6h.7m-.6 0h.7m-.7 1.8h.7m-.7-1.3h.7m-.6 1.3h.7m-.7 .4h.7m-.6-1.5h.7m-.7 .4h.7m-.7 .5h.7m-.7-1h.7m-.6-.4h.7m-.7 0h.7m-.7 .7h.7m-.7-.7h.7m-.7 1.1h.7m-.6-.6h.7m-.7 .1h.7m-.7 1.4h.7m-.5 .2h.7m-.7-.8h.7m-.6 .2h.7m-.5-1.6h.7m-.7 .8h.7m-.7-.3h.7m-.7-.7h.7m-.6 1.6h.7m-.7-.8h.7m-.7-.9h.7m-.6 .7h.7m-.6-.2h.7m-.6 1.1h.7m-.6-1.7h.7m-.7-.2h.7m-.5 1h.7m-.6 .2h.7m-.7-.2h.7m-.6-.1h.7m-.7 1.2h.7m-.6-2.2h.7m-.6 2.7h.7m-.7-2.6h.7m-.6 1.7h.7m-.5-1.3h.7m-.7 2.1h.7m-.4-2.6h.7m-.7 1.4h.7m-.6 1.5h.7m.4-2.1h.7m-13.4 4.3h.7m-.6-2.1h.7m-.2 1.8h.7m-.7 .5h.7m-.6-1.5h.7m-.6-.2h.7m-.7-.3h.7m-.6-.1h.7m-.6 .5h.7m-.6 1.8h.7m-.7-.8h.7m-.6 .8h.7m-.7-1.1h.7m-.4 .2h.7m-.5-.4h.7m-.6-.8h.7m-.6 .6h.7m-.5-.4h.7m-.7-.6h.7m-.7 .7h.7m-.6 2.2h.7m-.6-.4h.7m-.6-1.8h.7m-.6-.1h.7m-.6-.4h.7m-.7 .3h.7m-.7 1.1h.7m-.7-.7h.7m-.6 .7h.7m-.6 .2h.7m-.7 .2h.7m-.6-1.9h.7m-.7-.1h.7m-.7 2.8h.7m-.7-2.7h.7m-.7 .3h.7m-.6 .1h.7m-.7 2.4h.7m-.7-1.1h.7m-.6-1.6h.7m-.7 1.2h.7m-.6 0h.7m-.7-.4h.7m-.7-1h.7m-.7 2.9h.7m-.6-2.1h.7m-.6-.1h.7m-.7 1.1h.7m-.7 .9h.7m-.7-1.8h.7m-.7 .3h.7m-.7 1.7h.7m-.7-.3h.7m-.6-.1h.7m-.7-.9h.7m-.7-.3h.7m-.6 1.4h.7m-.7-.3h.7m-.6-2.2h.7m-.7 .6h.7m-.7 1.9h.7m-.7-1.7h.7m-.7-.1h.7m-.7-.5h.7m-.7 1.2h.7m-.6-.1h.7m-.7-1.2h.7m-.7 1.2h.7m-.7-1.5h.7m-.7 .6h.7m-.6-.3h.7m-.7-.2h.7m-.7 2.3h.7m-.7-.5h.7m-.7-1.3h.7m-.6 .7h.7m-.7 .5h.7m-.7 .3h.7m-.7-.6h.7m-.7-1.2h.7m-.7 2h.7m-.7-1.1h.7m-.6 1h.7m-.7-1.1h.7m-.7-.2h.7m-.7 .6h.7m-.7-.9h.7m-.6 .2h.7m-.7 .2h.7m-.7 .4h.7m-.6 .6h.7m-.7-.3h.7m-.7 .4h.7m-.7-1.6h.7m-.6-.3h.7m-.7-.1h.7m-.7 .7h.7m-.7-.2h.7m-.7 2.2h.7m-.6-2.3h.7m-.6 1.2h.7m-.7-.8h.7m-.7 1.1h.7m-.7 .1h.7m-.7 .5h.7m-.6-1.3h.7m-.7 .1h.7m-.7-1.3h.7m-.6 .7h.7m-.7 .8h.7m-.7-.1h.7m-.7-.1h.7m-.7-1.4h.7m-.7 .1h.7m-.7 2.4h.7m-.7-1.7h.7m-.7-.8h.7m-.6 1.6h.7m-.7 .6h.7m-.7 .7h.7m-.7-2.3h.7m-.7 1.4h.7m-.7-.8h.7m-.7-.9h.7m-.7 .8h.7m-.6-.6h.7m-.7 .7h.7m-.7 1.7h.7m-.6-.5h.7m-.7-2.4h.7m-.7 .4h.7m-.7 .1h.7m-.6 .5h.7m-.7-.9h.7m-.7-.1h.7m-.7 2.3h.7m-.7-.2h.7m-.7 .5h.7m-.7-.4h.7m-.7-1.5h.7m-.6-.3h.7m-.7 1.2h.7m-.7 1.2h.7m-.7-.6h.7m-.7-.6h.7m-.6-1.3h.7m-.7 2.6h.7m-.7-2.4h.7m-.7 .5h.7m-.7-.4h.7m-.7 1.2h.7m-.6-1.8h.7m-.7 1.1h.7m-.7 1.6h.7m-.7-1h.7m-.7 .4h.7m-.6-.8h.7m-.7-1.3h.7m-.7 .3h.7m-.7 .4h.7m-.7 2h.7m-.7-1.1h.7m-.6 .5h.7m-.7-1.6h.7m-.7 .4h.7m-.7 1.3h.7m-.7-1.8h.7m-.6 .7h.7m-.7-1.1h.7m-.7 .2h.7m-.7 2.6h.7m-.7-.4h.7m-.7-1h.7m-.7 .6h.7m-.6-1.8h.7m-.7 2.4h.7m-.7-.5h.7m-.7-1.6h.7m-.7-.3h.7m-.7 1.8h.7m-.7-1.6h.7m-.7 1.2h.7m-.7-.1h.7m-.6-.4h.7m-.7 .7h.7m-.7-.4h.7m-.7-.7h.7m-.7 1.6h.7m-.6-.2h.7m-.7-2.1h.7m-.7 1.3h.7m-.7-1h.7m-.6 .3h.7m-.7 2.1h.7m-.7-1.4h.7m-.7-.3h.7m-.7-.5h.7m-.7 2.1h.7m-.7-2.2h.7m-.7 .6h.7m-.6-.8h.7m-.7 .3h.7m-.7-.3h.7m-.7 1.7h.7m-.7 .1h.7m-.7-.6h.7m-.6-.2h.7m-.7 0h.7m-.7-1h.7m-.6 1.6h.7m-.7 .7h.7m-.7-1.7h.7m-.7-.6h.7m-.7 2.7h.7m-.7-1.2h.7m-.7 .2h.7m-.7 .7h.7m-.6-2.6h.7m-.7 .7h.7m-.7 1.4h.7m-.7-2.1h.7m-.6 .3h.7m-.7-.1h.7m-.7 .2h.7m-.7 .7h.7m-.7-.8h.7m-.7 1.2h.7m-.7 .7h.7m-.6-2h.7m-.7 .7h.7m-.7 .2h.7m-.7 1.7h.7m-.7-1.5h.7m-.7-1.3h.7m-.6 2.4h.7m-.7-1.2h.7m-.7-.8h.7m-.7-.1h.7m-.6 1.3h.7m-.7-1.2h.7m-.7 2.4h.7m-.7-.9h.7m-.7-1.2h.7m-.6 1.7h.7m-.6-1.5h.7m-.7 1.1h.7m-.7-.4h.7m-.7-.9h.7m-.7 .8h.7m-.6-.6h.7m-.7 .5h.7m-.7-.6h.7m-.6-.3h.7m-.7-.3h.7m-.7 .3h.7m-.7 1.8h.7m-.6 .6h.7m-.7-1.9h.7m-.7 .1h.7m-.7 .1h.7m-.7 .4h.7m-.6 .5h.7m-.7-1.3h.7m-.7-.2h.7m-.7 .1h.7m-.7 .6h.7m-.6 .8h.7m-.7-1.6h.7m-.7 .1h.7m-.7 .6h.7m-.6-.8h.7m-.7 1.1h.7m-.7-.9h.7m-.7 2.3h.7m-.7 0h.7m-.7-.1h.7m-.6 0h.7m-.6-2.8h.7m-.7 1h.7m-.7-.4h.7m-.7-.5h.7m-.7 2.1h.7m-.6-1.7h.7m-.7 .9h.7m-.7-1.3h.7m-.7 2.5h.7m-.7-1.6h.7m-.6-.8h.7m-.7 .5h.7m-.7 .8h.7m-.7 1.4h.7m-.7-2.1h.7m-.6 .6h.7m-.7-1.2h.7m-.7 .4h.7m-.6-.1h.7m-.7 .6h.7m-.6-.2h.7m-.7-.3h.7m-.7 .2h.7m-.7 .9h.7m-.6-1.4h.7m-.7 .6h.7m-.7 0h.7m-.7-.7h.7m-.6 1.1h.7m-.6 1.6h.7m-.7-2.1h.7m-.6 .9h.7m-.6 .5h.7m-.6-.6h.7m-.7-1.6h.7m-.7 .6h.7m-.6 .6h.7m-.6-.8h.7m-.6 1h.7m-.7 .3h.7m-.7 0h.7m-.6-1.5h.7m-.6 2.6h.7m-.6-1.6h.7m-.7 .2h.7m-.4-.7h.7m-.7-.7h.7m-.5 .2h.7m-.7 .3h.7m-.7 2.2h.7m-.2-2.3h.7m-.7-.2h.7m-.6 .3h.7m-.5 .8h.7m.1 1.4h.7m-.6-.5h.7m-.6-1.4h.7m-.7 1.1h.7m0-.5h.7m-13.7 3.1h.7m-.5-1.2h.7m-.6 1.1h.7m-.5-1.3h.7m-.2 .9h.7m-.5 1.1h.7m-.5-1.3h.7m-.7-.7h.7m-.5 2.7h.7m-.4-2.2h.7m-.7 1.2h.7m-.4-1.7h.7m-.6 .8h.7m-.6 1.7h.7m-.7-2.5h.7m-.6 .6h.7m-.7 1.5h.7m-.7-.2h.7m-.7-.3h.7m-.6-1.2h.7m-.7 .4h.7m-.5 0h.7m-.7 .8h.7m-.6-1.1h.7m-.6 1h.7m-.6-.6h.7m-.7-.1h.7m-.6-.4h.7m-.6 1.4h.7m-.7-.3h.7m-.6-1.5h.7m-.6 1.8h.7m-.5-.3h.7m-.6-.3h.7m-.7 1.1h.7m-.6-1.1h.7m-.6 .1h.7m-.7 1.4h.7m-.7-1.3h.7m-.6 .8h.7m-.5-.2h.7m-.7-1.5h.7m-.6-.1h.7m-.7 0h.7m-.7-.2h.7m-.6-.1h.7m-.7 .1h.7m-.7 .1h.7m-.7 2.1h.7m-.6-.1h.7m-.6-2h.7m-.7 0h.7m-.7-.4h.7m-.7 .8h.7m-.6 .8h.7m-.7-1.1h.7m-.7 .6h.7m-.7-.1h.7m-.6 1.6h.7m-.7-2.5h.7m-.6 .8h.7m-.7-.4h.7m-.7 .3h.7m-.6-.6h.7m-.7-.2h.7m-.7 0h.7m-.7 1.7h.7m-.6-1.4h.7m-.7 1.1h.7m-.7-1h.7m-.7 0h.7m-.6 .2h.7m-.7 .2h.7m-.7-.1h.7m-.6-.2h.7m-.7 .2h.7m-.7 .4h.7m-.7-.8h.7m-.7 .9h.7m-.6 1.7h.7m-.7-2.9h.7m-.7 .8h.7m-.6 1.8h.7m-.7 0h.7m-.6-1.6h.7m-.6 1.7h.7m-.5 .2h.7m-.7-1.6h.7m-.6 .7h.7m-.7-2h.7m-.7 .9h.7m-.7 1.1h.7m-.7-1.6h.7m-.5-.1h.7m-.7-.2h.7m-.7-.1h.7m-.6 2h.7m-.7-.7h.7m-.7-.8h.7m-.6 .5h.7m-.7 .3h.7m-.6-.3h.7m-.6 1.3h.7m-.7 .1h.7m-.7-1.6h.7m-.7 0h.7m-.6-.5h.7m-.7 2.3h.7m-.7-1.9h.7m-.7 2.1h.7m-.7-.8h.7m-.7-1.1h.7m-.6 .1h.7m-.7 .7h.7m-.7-.9h.7m-.6-.6h.7m-.6 1h.7m-.5 .2h.7m-.7 1.1h.7m-.6-2.3h.7m-.6 .7h.7m-.6-.8h.7m-.6 1.3h.7m-.6-.1h.7m-.7-.1h.7m-.6-.5h.7m-.5 1.1h.7m-.7 .4h.7m-.6-.7h.7m-.6-.1h.7m-.6 .3h.7m-.7-1.3h.7m-.7-.4h.7m-.7 .5h.7m-.6 .6h.7m-.7 .5h.7m-.5-1.2h.7m-.7 .8h.7m-.6 .4h.7m-.6-.8h.7m-.4-.3h.7m-.7 .5h.7m-.6 1.3h.7m-.6-2.2h.7m-.6 1.3h.7m-.7-1.3h.7m-.7 2.7h.7m-.7-1.7h.7m-.6-.6h.7m-.5-.1h.7m-.6 .4h.7m-.4 .4h.7m-.5 1.3h.7m-.4-.3h.7m-.6 .6h.7m-.6-.3h.7m-.3-1h.7m-.2 1.1h.7m-13.2 .4h.7m.6 .4h.7m.1 .3h.7m-.5 .2h.7m-.6-.5h.7m-.7 2.2h.7m-.4-1.7h.7m-.5-.2h.7m-.7-.7h.7m-.6 .7h.7m-.6-.1h.7m-.6-.5h.7m-.2 1.2h.7m-.6-.6h.7m-.6-.2h.7m-.5-.5h.7m-.3 2.5h.7m-.4-1h.7m-.7 1h.7m-.6 0h.7m-.6-2.3h.7m-.6-.2h.7m-.5 1.6h.7m-.3-.2h.7m-.6-.8h.7m-.6-.4h.7m-.6 2.3h.7m-.7-.6h.7m-.6-1.6h.7m-.6 .5h.7m-.7-.7h.7m-.7 .1h.7m-.7 2.1h.7m-.4-2h.7m-.7 .1h.7m-.6-.3h.7m-.4 .5h.7m-.5-.1h.7m-.7 2.2h.7m-.6-1.5h.7m-.7-.7h.7m-.6 2.1h.7m-.7-2.6h.7m-.6 1.6h.7m-.6 .4h.7m-.5-1.5h.7m-.7 2h.7m-.6-2.5h.7m-.7 .6h.7m-.5 .3h.7m-.7 .2h.7m-.4 1.7h.7m-.6-2.3h.7m-.6 1h.7m-.5-1.4h.7m-.4 1.7h.7m-.5-.8h.7m-.7 1.8h.7m-.5-1.5h.7m-.6-1.1h.7m-.3 .8h.7m-.7-.6h.7m.1 .2h.7m-.5 .6h.7m-.4-1.1h.7m0 0h.7m-.3 0h.7m-.6 0h.7m-10.7 5.8h.7m-.1-.5h.7m.2-1.4h.7m-.1 1.6h.7m-.6-.9h.7m-.5-1h.7m-.6 .9h.7m-.7-1.2h.7m-.4 2.3h.7m0-2.1h.7m-.1 1.9h.7m-.7-2.1h.7m-.4-.3h.7m-.5 .8h.7m-.7 .4h.7m-.4 .2h.7m-.7 .7h.7m-.7-.3h.7m-.5 .5h.7m-.5-1.9h.7m-.1 2.2h.7m-.6-.8h.7m-.6-1.6h.7m-.6 .6h.7m-.6-.8h.7m-.3 2.3h.7m-.7-2h.7m-.3 1.7h.7m.1-1.2h.7m-.6-.8h.7m.6 2.3h.7m.2-1.5h.7m-9.7 2.7h.7m.4-.1h.7m0 1.1h.7m-.6 0h.7m-.5-1h.7m-.6 1.1h.7m-.5 0h.7m-.6-.8h.7m-.5-.8h.7m-.7 0h.7m-.7 0h.7m-.6 2.3h.7m-.5-1h.7m-.5 .2h.7m-.6-1.4h.7m-.6 .1h.7m-.7 1.8h.7m-.6-.4h.7m-.5-.3h.7m-.2 .1h.7m-.6 .4h.7m-.5-1.2h.7m-.6 2.1h.7m-.4-1.5h.7m-.6 0h.7m-.6-.6h.7m-.5 .8h.7m-.7-1.1h.7m-.4-.4h.7m-.6 .3h.7m-.6-.2h.7m-.6 1.6h.7m-.6 1.1h.7m-.6-2.8h.7m-.6 .4h.7m-.7 .5h.7m-.3 1.3h.7m-.4-1.5h.7m-.6 .6h.7m-.5 1.4h.7m-.6-.8h.7m-.5-1.9h.7m-.6 2.4h.7m-.4-.8h.7m-.1-.6h.7m-.5 .7h.7m-.4-1.6h.7m-.1 .7h.7m1.4 1.7h.7m2.3-2.4h.7m4.4 1.8h.7m-22.5 4h.7m.2-.9h.7m0-1.5h.7m-.6 2.1h.7m0-2h.7m-.4 1h.7m.7-1h.7m-.4 .4h.7m-.3-.7h.7m-.5 1.3h.7m.1 .7h.7m-.6-.7h.7m-.2-.5h.7m-.7 .4h.7m-.3-.8h.7m-.6-.2h.7m-.6 1.8h.7m-.6-2.2h.7m-.3 2.3h.7m-.3-.4h.7m-.5 .2h.7m-.6-1.3h.7m-.4 .3h.7m-.6 1.5h.7m-.4 .2h.7m-.7-.7h.7m-.6-.7h.7m-.3-.9h.7m-.5 1.1h.7m-.5-1.5h.7m-.5 2.1h.7m.1 .6h.7m-.7-1.8h.7m-.6 1.4h.7m0 .3h.7m-.7-2.5h.7m-.1 2.5h.7m-.7-.4h.7m-.4-1.6h.7m-.2 1.1h.7m-.4 0h.7m-.7 1h.7m-.7-.7h.7m-.5 .7h.7m-.4 0h.7m-.3-.6h.7m-.5 .6h.7m-.5-1h.7m-.7-.8h.7m-.6 .9h.7m-.7-.5h.7m-.5 .9h.7m-.6-1.1h.7m-.6 0h.7m-.5 1.1h.7m-.4 .4h.7m-.5 0h.7m-.5-1.3h.7m-.7-.6h.7m-.3 0h.7m-.7 2h.7m-.6-.8h.7m-.1 .3h.7m-.7-.1h.7m-.6-1.6h.7m-.4 .5h.7m-.7-.3h.7m-.5-.3h.7m-.7 1.7h.7m-.6-.1h.7m-.5 .1h.7m-.5-.6h.7m-.7 .2h.7m-.4 .4h.7m-.5 .4h.7m.1-.1h.7m.3-2.5h.7m-22.3 4h.7m.2 1.7h.7m0-.1h.7m-.3 0h.7m.2-.1h.7m-.7-.2h.7m-.1 .5h.7m.3-1.6h.7m-.3 .8h.7m-.6-.6h.7m0-.1h.7m-.6 .5h.7m-.6-.5h.7m-.6 .3h.7m-.6 1.1h.7m-.7-.6h.7m-.7 .2h.7m-.4 .4h.7m-.7-.2h.7m-.6-1h.7m-.7-1.5h.7m-.6 1.5h.7m-.4 .6h.7m-.7 .7h.7m-.4-1.3h.7m-.6 .8h.7m-.6-.3h.7m-.7 .2h.7m-.1-.4h.7m-.3 .8h.7m-.6-.1h.7m-.6-.6h.7m-.4 .4h.7m-.6-1.5h.7m-.4-.7h.7m-.6 1.4h.7m-.7 .3h.7m-.5 .1h.7m-.7 .9h.7m-.4 0h.7m-.5-.7h.7m-.7-1.8h.7m-.6 .5h.7m-.7 .5h.7m-.6-1h.7m-.6 1.6h.7m-.7-1.3h.7m-.7 1.2h.7m-.6 .4h.7m-.6-.1h.7m-.7-1.1h.7m-.6 .9h.7m-.4-.7h.7m-.7 .2h.7m-.5 0h.7m-.6 1.2h.7m-.6-.3h.7m-.4-.8h.7m-.7 1.1h.7m-.5 .2h.7m-.7-.1h.7m-.3-1.9h.7m-.7 .3h.7m-.5 .6h.7m-.6-1.3h.7m-.4 .3h.7m-.7 .2h.7m-.5 1.9h.7m-.5-1.3h.7m-.6 .4h.7m-.7 .9h.7m-.7-.6h.7m-.6-.6h.7m-.6 .2h.7m-.7-.5h.7m-.7 1.4h.7m-.6-1.8h.7m-.6 1.8h.7m-.7-1h.7m-.7 .1h.7m-.4-.9h.7m-.6 1.5h.7m-.7-.6h.7m-.6 .7h.7m-.7-.1h.7m-.7-.4h.7m-.6-1.7h.7m-.7 1.5h.7m-.6-1.8h.7m-.5 1.7h.7m-.7-.5h.7m-.7-.3h.7m-.7 1.8h.7m-.6-2.3h.7m-.7 2.1h.7m-.6-1h.7m-.7 1.3h.7m-.7-2.8h.7m-.6 2.5h.7m-.6-.6h.7m-.6-.5h.7m-.7 .3h.7m-.7 1h.7m-.6 .1h.7m-.7-2.8h.7m-.6 0h.7m-.7 2h.7m-.7-1h.7m-.6 .3h.7m-.7-1.3h.7m-.6 2.6h.7m-.7-.7h.7m-.7-1.1h.7m-.7 1.7h.7m-.4-1.3h.7m-.6 .5h.7m-.6 .6h.7m-.5 .2h.7m-.5-.8h.7m-.5-.7h.7m-.6 1.5h.7m-.6-.6h.7m-.7-.8h.7m-.6 .6h.7m-.6-1h.7m-.3 1.8h.7m-.7-.3h.7m-.5-1.9h.7m-.6 1.5h.7m-.7-1.4h.7m-.2 1.7h.7m-.7-1.6h.7m-.6 1.8h.7m-.6-.4h.7m-.5-1.8h.7m-.4 .2h.7m-.5 .6h.7m-.7-.1h.7m-.2-.3h.7m-.5-.6h.7m-.6 .3h.7m-.7-.1h.7m.9-.2h.7m0 1.2h.7m-25.8 3.3h.7m1 1.3h.7m-.4-1.1h.7m-.1 1h.7m-.5-.4h.7m.5-1.6h.7m-.6 1.8h.7m-.7-.3h.7m-.6-.8h.7m-.5 .3h.7m-.6-1.1h.7m-.7 .4h.7m-.5 1.2h.7m-.4-.4h.7m-.3 .3h.7m-.7-.4h.7m-.5 .7h.7m-.5-.5h.7m-.2 .9h.7m-.6-.7h.7m-.6-1.1h.7m-.6 .2h.7m-.7-1.1h.7m-.7 1.8h.7m-.7 .7h.7m-.7-.6h.7m-.7 .9h.7m-.5-.5h.7m-.7 .1h.7m-.6-1.3h.7m-.6 .3h.7m-.7 .6h.7m-.7-1.2h.7m-.7 1.1h.7m-.6 .9h.7m-.7-1h.7m-.7 .6h.7m-.6-1.2h.7m-.7-.5h.7m-.7 1.9h.7m-.3 .2h.7m-.4-1.5h.7m-.7 .4h.7m-.6 .9h.7m-.7-.5h.7m-.7 0h.7m-.6 0h.7m-.5-1h.7m-.7-.5h.7m-.6 .7h.7m-.7-.4h.7m-.7 .7h.7m-.6-1.5h.7m-.7 2h.7m-.6 .4h.7m-.7-1.8h.7m-.6 1.8h.7m-.7-.3h.7m-.5-.3h.7m-.6 .6h.7m-.6 0h.7m-.6-1.2h.7m-.6 .6h.7m-.7 0h.7m-.7 .9h.7m-.6-.8h.7m-.7-.4h.7m-.7-1h.7m-.6-.6h.7m-.6 2.6h.7m-.6-2.4h.7m-.7 2.3h.7m-.6-.1h.7m-.6-.9h.7m-.6-.4h.7m-.7 1.2h.7m-.6-1.5h.7m-.6 1.7h.7m-.7-.1h.7m-.7-.2h.7m-.6-1.6h.7m-.7 1.1h.7m-.6-1.4h.7m-.7 1.1h.7m-.6 1.4h.7m-.7-1.2h.7m-.6 1h.7m-.6-.4h.7m-.7 .1h.7m-.6 .2h.7m-.7-1.4h.7m-.7 1.4h.7m-.6-1.7h.7m-.7 .8h.7m-.7-1h.7m-.7 1.9h.7m-.7 .3h.7m-.7-1.4h.7m-.6 .8h.7m-.7-.4h.7m-.7 .6h.7m-.7 .1h.7m-.7-1h.7m-.6 .4h.7m-.7-.3h.7m-.5-.4h.7m-.7 1.4h.7m-.6-.6h.7m-.7-.1h.7m-.7-.2h.7m-.6-1.5h.7m-.7 .8h.7m-.6 1.1h.7m-.7-.4h.7m-.7 .4h.7m-.5-.3h.7m-.7 .5h.7m-.6-.4h.7m-.7-1.3h.7m-.7 2.1h.7m-.5-1.5h.7m-.6 .6h.7m-.7-1.2h.7m-.7 2.2h.7m-.6-1.5h.7m-.7 1h.7m-.5-1.9h.7m-.7 .9h.7m-.6 .9h.7m-.7-.2h.7m-.6-.8h.7m-.7 .7h.7m-.7 .8h.7m-.7-1.1h.7m-.7 .3h.7m-.7-1.5h.7m-.7-.1h.7m-.6 .2h.7m-.7 .1h.7m-.6 1.2h.7m-.6-1.2h.7m-.7 2h.7m-.7-.4h.7m-.6-.2h.7m-.6 .8h.7m-.7-.2h.7m-.6-1.5h.7m-.7-1.2h.7m-.6 1.6h.7m-.6 .4h.7m-.7 0h.7m-.7-.8h.7m-.5 1.3h.7m-.7 0h.7m-.6-.2h.7m-.7 0h.7m-.7-.1h.7m-.7-.1h.7m-.6-1.4h.7m-.7 2h.7m-.7-1.8h.7m-.7 1.1h.7m-.7-1.3h.7m-.7 .8h.7m-.6-.7h.7m-.7 .7h.7m-.7 .5h.7m-.7-.4h.7m-.6-.9h.7m-.5-.4h.7m-.7 2.3h.7m-.7 .3h.7m-.7-.7h.7m-.6-1.9h.7m-.5 .2h.7m-.6 .2h.7m-.6 2h.7m-.7-2.2h.7m-.7 .8h.7m-.6 1.6h.7m-.7-.2h.7m-.6-2.2h.7m-.7 1.1h.7m-.7 .1h.7m-.7 .4h.7m-.6-1.5h.7m-.7 1.7h.7m-.7-.4h.7m-.7-1.1h.7m-.7-.4h.7m-.7 1.2h.7m-.6 1.2h.7m-.6-1.1h.7m-.7 1.1h.7m-.6-1.9h.7m-.7-.6h.7m-.6 .6h.7m-.7-.2h.7m-.7-.5h.7m-.6 2.2h.7m-.7-1.3h.7m-.6 .9h.7m-.7-1.5h.7m-.7 .2h.7m-.7 .8h.7m-.7 0h.7m-.5 .7h.7m-.6 .2h.7m-.7-.7h.7m-.7-1.7h.7m-.6 2.4h.7m-.7-.7h.7m-.7 .1h.7m-.6-.4h.7m-.6 .4h.7m-.7-1.3h.7m-.6 1.7h.7m-.7-1.5h.7m-.6 .8h.7m-.7 .5h.7m-.7 .7h.7m-.6-2.6h.7m-.7 .1h.7m-.7 2.1h.7m-.6-2.3h.7m-.7 2.8h.7m-.6-2h.7m-.5 1.4h.7m-.6-1.2h.7m-.6-.9h.7m-.6 2.5h.7m-.7-1.3h.7m-.5 .6h.7m-.7-.6h.7m-.7 .9h.7m-.7-.4h.7m-.6-1.7h.7m-.6 1.2h.7m-.7 .3h.7m-.7 .9h.7m-.6-.8h.7m-.6-1.6h.7m-.7 1.4h.7m-.6 .8h.7m-.7-2.1h.7m-.6 .8h.7m-.7-.8h.7m-.7 1.5h.7m-.7-1.1h.7m-.6-.1h.7m-.6 0h.7m-.6-.4h.7m-.7 .2h.7m-.6 .5h.7m-.6 1.3h.7m-.7-1.5h.7m-.7 .5h.7m-.6 .7h.7m-.6 .5h.7m-.4 0h.7m-.6-.9h.7m-.6 .3h.7m-.5-.2h.7m-.6 .4h.7m-.7-1h.7m-.7-.2h.7m-.6-.6h.7m-.6 .3h.7m-.7-.2h.7m-.7 .9h.7m-.7-1.1h.7m-.6 2.8h.7m-.3-1.8h.7m-.7 .6h.7m-.5 .4h.7m-.4 .5h.7m-.7-.9h.7m-.7-1.2h.7m-.6 1.7h.7m-.4 .5h.7m-.2-1.4h.7m-.5 .2h.7m.7-.5h.7m5.5-.9h.7m-34 5.1h.7m1 .7h.7m1.1-.7h.7m-.6-.2h.7m.3 .6h.7m-.6-.6h.7m-.4-.4h.7m-.3 0h.7m-.1 0h.7m-.6-.9h.7m-.7 .6h.7m-.7 .9h.7m-.6-1.1h.7m-.5 .6h.7m-.7-1.3h.7m-.7 .5h.7m-.5 .1h.7m-.7-.4h.7m-.6 2.3h.7m-.6 .1h.7m-.7-2.3h.7m-.4 0h.7m-.7 1.7h.7m-.5-1.3h.7m-.6 1.4h.7m-.7 .4h.7m-.6-2h.7m-.6 1.9h.7m-.6-.7h.7m-.5 .8h.7m-.5-1h.7m-.6 .2h.7m-.7 .9h.7m-.5-.2h.7m-.7-.8h.7m-.6 .5h.7m-.7-.4h.7m-.7-1.6h.7m-.7-.4h.7m-.5 2.4h.7m-.6-.4h.7m-.7-.2h.7m-.7-.1h.7m-.6 .8h.7m-.7-2.5h.7m-.7 2.3h.7m-.6-.5h.7m-.6 .8h.7m-.7-2.2h.7m-.7 .6h.7m-.3 0h.7m-.7 .9h.7m-.7 1h.7m-.5-1.7h.7m-.7-.8h.7m-.6-.2h.7m-.7 .4h.7m-.7 2.1h.7m-.7-.4h.7m-.6-1.4h.7m-.7 0h.7m-.7 1.6h.7m-.7-2.3h.7m-.6 1.7h.7m-.6-.8h.7m-.7-1h.7m-.7 .1h.7m-.6 .2h.7m-.7 2.4h.7m-.7-2h.7m-.7-.4h.7m-.7 .3h.7m-.7 1.4h.7m-.5-2.1h.7m-.6 .1h.7m-.7 .3h.7m-.7 1h.7m-.6 1h.7m-.7-.4h.7m-.4 .1h.7m-.7-.1h.7m-.7-1.1h.7m-.7 1.2h.7m-.6 .7h.7m-.7-.2h.7m-.7-.8h.7m-.7-1.1h.7m-.7 0h.7m-.7 .5h.7m-.6 .5h.7m-.5-.7h.7m-.7 .6h.7m-.6 .3h.7m-.7 .5h.7m-.7-.8h.7m-.6-.9h.7m-.6 1.6h.7m-.6 .1h.7m-.6 .2h.7m-.7 .2h.7m-.6-1.9h.7m-.7-.7h.7m-.7 2.2h.7m-.7-2.4h.7m-.7 2h.7m-.7 .5h.7m-.7 0h.7m-.6 .1h.7m-.7-2.4h.7m-.6 .2h.7m-.7 1.7h.7m-.7 .3h.7m-.7 .4h.7m-.6-.4h.7m-.6-.1h.7m-.7-2.3h.7m-.7 2.5h.7m-.7-.2h.7m-.6-.8h.7m-.7-1.3h.7m-.7 0h.7m-.7 2.4h.7m-.6 .1h.7m-.7-2h.7m-.6 1.6h.7m-.7 .5h.7m-.7-1.9h.7m-.7 1.4h.7m-.7 .2h.7m-.7-.4h.7m-.6-1.2h.7m-.7-.9h.7m-.7 1.3h.7m-.7-1.3h.7m-.7 .4h.7m-.6 1.6h.7m-.7-.9h.7m-.7 1.4h.7m-.7 .2h.7m-.7-1.3h.7m-.6 1h.7m-.7-2.4h.7m-.7 .3h.7m-.6 .7h.7m-.7 0h.7m-.7 .8h.7m-.7 0h.7m-.6 .7h.7m-.7-1.7h.7m-.7 1.2h.7m-.6-.9h.7m-.7 1.1h.7m-.6 .7h.7m-.6-.2h.7m-.7-.1h.7m-.7-2.6h.7m-.7 .7h.7m-.7 2.2h.7m-.7-1.2h.7m-.6 1.1h.7m-.7-2.3h.7m-.7 1.5h.7m-.7-1.3h.7m-.6 .1h.7m-.6 .2h.7m-.7 1.5h.7m-.7-1.7h.7m-.6 1.8h.7m-.7-1.1h.7m-.6 .9h.7m-.7-.9h.7m-.7 1.2h.7m-.7-.8h.7m-.6 .7h.7m-.7-.2h.7m-.7-2.2h.7m-.6 .2h.7m-.7 2.1h.7m-.7-.8h.7m-.7-1.7h.7m-.6 2.2h.7m-.7 .3h.7m-.7-1.6h.7m-.7 1.9h.7m-.7-.9h.7m-.7-.3h.7m-.6 .7h.7m-.7-1.6h.7m-.6 .4h.7m-.7 1.1h.7m-.7 0h.7m-.6-.5h.7m-.7 .3h.7m-.7-1.3h.7m-.7-.1h.7m-.7 0h.7m-.6 1.2h.7m-.7 .6h.7m-.7-1.4h.7m-.7 1h.7m-.6-.7h.7m-.7 .9h.7m-.7-.8h.7m-.6 .1h.7m-.7 1.3h.7m-.7-1.1h.7m-.5-.6h.7m-.7 .6h.7m-.7 .7h.7m-.7 .2h.7m-.7-1.8h.7m-.6 1.3h.7m-.7-.5h.7m-.7 1.1h.7m-.7 0h.7m-.7-2.7h.7m-.7 .9h.7m-.7-.5h.7m-.6-.2h.7m-.7 .8h.7m-.7 .2h.7m-.7 .9h.7m-.6 .2h.7m-.6 .4h.7m-.7-.2h.7m-.7 .3h.7m-.6-1.9h.7m-.7-.8h.7m-.7 2.7h.7m-.6-1.9h.7m-.7 1.1h.7m-.7-1.7h.7m-.6 2.6h.7m-.7 0h.7m-.6-1.7h.7m-.7 .7h.7m-.7 .8h.7m-.7-2.6h.7m-.6 2.1h.7m-.7 .5h.7m-.7-1.3h.7m-.6 .6h.7m-.7 .3h.7m-.6-1.8h.7m-.7 .4h.7m-.7-.2h.7m-.6-.5h.7m-.7 .2h.7m-.6 2.5h.7m-.6-1.1h.7m-.7 .9h.7m-.6-.4h.7m-.7-.2h.7m-.7 .2h.7m-.7-2.2h.7m-.6 1h.7m-.7-.4h.7m-.7 1.4h.7m-.7 .4h.7m-.7-.4h.7m-.7-1.4h.7m-.6 .1h.7m-.7 1.9h.7m-.7 .1h.7m-.7-1.5h.7m-.7-.2h.7m-.7-.1h.7m-.6 1h.7m-.7-.4h.7m-.7-1h.7m-.7 0h.7m-.5 2.3h.7m-.7-.6h.7m-.7-.6h.7m-.7 .6h.7m-.7-1.7h.7m-.7-.1h.7m-.6 1.6h.7m-.7 .3h.7m-.6-.1h.7m-.7 .3h.7m-.7-.7h.7m-.7 1h.7m-.6-.7h.7m-.7-.2h.7m-.7-1.1h.7m-.7 1.6h.7m-.7-.2h.7m-.7 .1h.7m-.6-2.3h.7m-.7 1.1h.7m-.7 .9h.7m-.6-1.7h.7m-.7 1.2h.7m-.7-1.6h.7m-.7 .1h.7m-.7 1h.7m-.7 1.2h.7m-.7-2.1h.7m-.6 1.5h.7m-.7 1.1h.7m-.7-.2h.7m-.7-1.5h.7m-.7-.7h.7m-.6 1.3h.7m-.7-1.6h.7m-.6 1.1h.7m-.7 1.1h.7m-.7-1h.7m-.7-.3h.7m-.6 .9h.7m-.7-.2h.7m-.7-.9h.7m-.6 .4h.7m-.7 1.2h.7m-.7-2.3h.7m-.7 1.3h.7m-.7-1.2h.7m-.7 .7h.7m-.6 1h.7m-.7-.6h.7m-.7 1.2h.7m-.7-.2h.7m-.7-1h.7m-.7-.6h.7m-.6 1.6h.7m-.7-2h.7m-.7 1.8h.7m-.7-1.4h.7m-.6 .1h.7m-.7 1.5h.7m-.7-1.4h.7m-.7 .1h.7m-.6 .4h.7m-.7-1.3h.7m-.7 2.8h.7m-.7-.1h.7m-.7-2.6h.7m-.6 1.8h.7m-.7-1.8h.7m-.7 1.4h.7m-.6-1.1h.7m-.7-.5h.7m-.7 .3h.7m-.7 0h.7m-.6 2h.7m-.7-1.9h.7m-.6 .3h.7m-.7 1.3h.7m-.7-1.1h.7m-.6-.6h.7m-.7 2.1h.7m-.6-.5h.7m-.7 .9h.7m-.7 0h.7m-.7-.8h.7m-.7 .1h.7m-.7 .1h.7m-.7 .1h.7m-.7-1.1h.7m-.6-.4h.7m-.7 1.2h.7m-.5-.8h.7m-.7 1.5h.7m-.7-1h.7m-.6-1.5h.7m-.7-.2h.7m-.6 2.2h.7m-.7-.6h.7m-.7-1.2h.7m-.6 2.4h.7m-.6-2.8h.7m-.6 1.2h.7m-.4-.3h.7m-.6 .9h.7m-.7-1.7h.7m-.6 2.1h.7m-.6-.7h.7m-.6-.7h.7m-.7-.2h.7m-.6-.1h.7m-.6 .2h.7m-.7 2.1h.7m-.6-2.7h.7m-.3 1.4h.7m-.6 .8h.7m-.7 .5h.7m-.6-.6h.7m-.7-1.8h.7m-.7 2.4h.7m-.4-2.6h.7m-.7-.2h.7m-.7 .6h.7m-.6 .2h.7m-.7-.8h.7m-.6 .9h.7m-.7-.4h.7m-.6 .8h.7m-.7-1.2h.7m-.6 1.5h.7m-.5 .1h.7m-.5-.4h.7m-.7-.4h.7m-.6 .3h.7m-.6 .9h.7m-.5-.3h.7m-.7-1.8h.7m-.4 1.6h.7m-.6 .4h.7m0-1.7h.7m-.2 1h.7m-.3-.4h.7m-.2-.3h.7m-.4 2h.7m-.5-1.3h.7m-.5-.1h.7m2.7 .8h.7m-33 3.4h.7m2.6-2.4h.7m-.7 2.5h.7m-.4-.6h.7m-.4 .6h.7m-.3-1.8h.7m-.2 1.7h.7m-.6-1.4h.7m-.2 .3h.7m-.6 .6h.7m-.7-.9h.7m-.7-.3h.7m.1-.5h.7m-.7 2.6h.7m-.2-1.7h.7m-.4-.2h.7m-.5 1.8h.7m-.5 .1h.7m-.5-1.8h.7m-.4 .1h.7m-.7-.2h.7m-.6 .4h.7m-.5 1.3h.7m-.6-.6h.7m-.6 .2h.7m-.7-1h.7m-.6 1.1h.7m-.7-1h.7m-.4 .5h.7m-.7-.2h.7m-.7-.2h.7m-.6 .3h.7m-.6-.6h.7m-.6 .1h.7m-.7-.4h.7m-.6 .8h.7m-.6-.5h.7m-.5 1.4h.7m-.7-2.3h.7m-.6 2.2h.7m-.7-1.6h.7m-.6 1.7h.7m-.7 .4h.7m-.7-.3h.7m-.7 .1h.7m-.7 .1h.7m-.6-1.1h.7m-.7-1.4h.7m-.5 2.1h.7m-.6-1.7h.7m-.7 1.2h.7m-.6 1h.7m-.7-1.2h.7m-.6-.9h.7m-.7-.4h.7m-.6-.4h.7m-.7 .9h.7m-.7 1.4h.7m-.7-2h.7m-.7 .7h.7m-.6 .4h.7m-.7 .1h.7m-.7-1.3h.7m-.7 .9h.7m-.7-1h.7m-.6 .3h.7m-.6 .9h.7m-.7 .7h.7m-.6-1.8h.7m-.5 1.1h.7m-.7 .9h.7m-.7-.9h.7m-.7 1.1h.7m-.7-1h.7m-.6-.5h.7m-.7 .2h.7m-.6 1.2h.7m-.6 .3h.7m-.7-2.5h.7m-.6 2.5h.7m-.7-.9h.7m-.6-.6h.7m-.7-.9h.7m-.7-.1h.7m-.7 .2h.7m-.6 .1h.7m-.7-.4h.7m-.7 1h.7m-.7-.6h.7m-.6 .9h.7m-.7-.1h.7m-.7-.1h.7m-.7 1.3h.7m-.7-.1h.7m-.7-.3h.7m-.7-1.3h.7m-.6-.5h.7m-.7 1h.7m-.6-.2h.7m-.7 .6h.7m-.6 1.1h.7m-.6-1.5h.7m-.6-.2h.7m-.7 .3h.7m-.7 .1h.7m-.7-1h.7m-.5 2h.7m-.7 .1h.7m-.7-1.9h.7m-.7 1.6h.7m-.6-.6h.7m-.7 .1h.7m-.7 .6h.7m-.6 0h.7m-.7-1.6h.7m-.7 1h.7m-.6-1.7h.7m-.7 .5h.7m-.7 .9h.7m-.7 .3h.7m-.6-1.4h.7m-.7 .7h.7m-.7-.9h.7m-.7-.1h.7m-.6 1.1h.7m-.6 .7h.7m-.7 .7h.7m-.6-1.7h.7m-.7-.1h.7m-.7 .5h.7m-.7 1.1h.7m-.6-1.6h.7m-.7 2.2h.7m-.6-2.7h.7m-.7 .5h.7m-.7-.3h.7m-.7 1.3h.7m-.7-.2h.7m-.6-.3h.7m-.7 .7h.7m-.7-1.3h.7m-.7 .9h.7m-.6 .7h.7m-.7-.7h.7m-.7 .6h.7m-.7-.1h.7m-.7-1.9h.7m-.7 1h.7m-.6 .8h.7m-.7-.7h.7m-.7 1.3h.7m-.7-2.1h.7m-.7-.3h.7m-.6 .9h.7m-.7-1h.7m-.6 2.6h.7m-.6-2h.7m-.7-.4h.7m-.7 .3h.7m-.7 2.2h.7m-.7-.3h.7m-.6-2.3h.7m-.7 .8h.7m-.7 1.3h.7m-.7-.6h.7m-.7-1.2h.7m-.7 1.3h.7m-.5-1.5h.7m-.6 1.5h.7m-.7 0h.7m-.7-.4h.7m-.7 .7h.7m-.7 .7h.7m-.6-2.6h.7m-.7 2.8h.7m-.7-1.6h.7m-.6 .8h.7m-.7-2.1h.7m-.7 .3h.7m-.7 2.2h.7m-.7-2h.7m-.7 2h.7m-.7-2.2h.7m-.7 1.5h.7m-.7 .9h.7m-.6-.7h.7m-.7 .1h.7m-.7 0h.7m-.7-.2h.7m-.6-.4h.7m-.7-.3h.7m-.6 .6h.7m-.7 0h.7m-.7 .6h.7m-.7-.6h.7m-.7 .1h.7m-.7 .9h.7m-.7-.1h.7m-.6-2.2h.7m-.7 1.1h.7m-.7 .1h.7m-.6-.1h.7m-.7 0h.7m-.7-1h.7m-.7-.3h.7m-.7 .2h.7m-.7 1.6h.7m-.6-.6h.7m-.7 .8h.7m-.7-.4h.7m-.7-.9h.7m-.6 .4h.7m-.7-.4h.7m-.6 .2h.7m-.7-1.1h.7m-.7 1.1h.7m-.6 0h.7m-.7 .6h.7m-.7-1.2h.7m-.7 1.3h.7m-.7-1.8h.7m-.6 1.4h.7m-.7 .7h.7m-.7-1.3h.7m-.7-.7h.7m-.7 .7h.7m-.6 1.3h.7m-.7-1h.7m-.7 1.6h.7m-.6 .1h.7m-.7 0h.7m-.7-.7h.7m-.7-1.5h.7m-.7 .7h.7m-.6 1.4h.7m-.7-2.8h.7m-.7 2.9h.7m-.7-.9h.7m-.7-.5h.7m-.6-1h.7m-.7-.5h.7m-.6 2.9h.7m-.7-.6h.7m-.7-1.8h.7m-.7 1.6h.7m-.7-1.9h.7m-.6 .6h.7m-.7 1.7h.7m-.7-1.6h.7m-.7 .6h.7m-.6 1.1h.7m-.7-2.4h.7m-.7 2.3h.7m-.6-.1h.7m-.7-.8h.7m-.7 1.1h.7m-.7-.2h.7m-.7-1.7h.7m-.7 .6h.7m-.6 .9h.7m-.7-.2h.7m-.7-1.9h.7m-.7 2.3h.7m-.7-1.2h.7m-.7 .5h.7m-.6 .7h.7m-.7-2.4h.7m-.7 2h.7m-.7-1.3h.7m-.6 1.3h.7m-.7-1.2h.7m-.7 .8h.7m-.7 .4h.7m-.7-1.7h.7m-.6 2.1h.7m-.7-1.2h.7m-.7-.6h.7m-.7-.2h.7m-.7-.3h.7m-.6 1.2h.7m-.7-.5h.7m-.7 .1h.7m-.7 .4h.7m-.7-.8h.7m-.6 .6h.7m-.7-.5h.7m-.7 1.5h.7m-.6 .6h.7m-.7-.9h.7m-.7-1.7h.7m-.7 .6h.7m-.7 .2h.7m-.6 .4h.7m-.7-1h.7m-.7 1.9h.7m-.7-.6h.7m-.6 0h.7m-.7-.3h.7m-.7-.3h.7m-.7 .7h.7m-.7-1.1h.7m-.7 1.5h.7m-.6-.2h.7m-.6-.6h.7m-.7 .5h.7m-.7-1.4h.7m-.7 2.4h.7m-.7-.2h.7m-.6-1.5h.7m-.7 .7h.7m-.7 0h.7m-.7-1.9h.7m-.7 1h.7m-.7-.5h.7m-.7 2.2h.7m-.7-1.5h.7m-.6-.4h.7m-.7-.6h.7m-.6 1.9h.7m-.7-1.3h.7m-.6 0h.7m-.7 .4h.7m-.7 .2h.7m-.7-1.3h.7m-.7 2.7h.7m-.6-1.1h.7m-.7-.7h.7m-.7 0h.7m-.6 1.5h.7m-.7 .3h.7m-.6-1h.7m-.7-.6h.7m-.7-.3h.7m-.7-.7h.7m-.6 1.6h.7m-.7 .7h.7m-.6-1.4h.7m-.7-.1h.7m-.6 1.8h.7m-.7-1.1h.7m-.7-.2h.7m-.7-.3h.7m-.6-.3h.7m-.7-.4h.7m-.7 .8h.7m-.6 .1h.7m-.7-1.4h.7m-.7 2.4h.7m-.6-1.8h.7m-.7 1.7h.7m-.6-1.8h.7m-.7-.1h.7m-.7-.4h.7m-.7 .8h.7m-.6-.1h.7m-.7 .7h.7m-.7 .1h.7m-.6 0h.7m-.7 1h.7m-.7-.2h.7m-.7-1.3h.7m-.6 .3h.7m-.7-.1h.7m-.7 1.3h.7m-.7-1.1h.7m-.6-1.1h.7m-.7 .8h.7m-.6 1.7h.7m-.6-.9h.7m-.7-.7h.7m-.6-.4h.7m-.7-.2h.7m-.7-.1h.7m-.6 1.2h.7m-.7-1.5h.7m-.7 2.5h.7m-.7-1.9h.7m-.7 1.7h.7m-.6 .4h.7m-.6-.4h.7m-.7-.5h.7m-.7-.8h.7m-.6 .5h.7m-.7 .7h.7m-.6-.5h.7m-.7-.5h.7m-.7-1.4h.7m-.6 1.2h.7m-.7 1.4h.7m-.7 .2h.7m-.7-1.3h.7m-.6 .2h.7m-.7-.7h.7m-.7-.2h.7m-.7 1.2h.7m-.7 .4h.7m-.7-1.5h.7m-.6-.3h.7m-.7 .4h.7m-.6 1.5h.7m-.7 .3h.7m-.7-2.7h.7m-.6 2.7h.7m-.7-.4h.7m-.7-1.4h.7m-.6-1h.7m-.7 .5h.7m-.7-.1h.7m-.7 .6h.7m-.6 0h.7m-.7-.6h.7m-.7 .1h.7m-.6 .1h.7m-.7 1.8h.7m-.6 .5h.7m-.7-1.3h.7m-.6 .6h.7m-.6-.2h.7m-.7 .8h.7m-.7-.4h.7m-.6-1.3h.7m-.6 .4h.7m-.6 1.3h.7m-.6-1.3h.7m-.6-1.2h.7m-.6 .3h.7m-.6 0h.7m-.7-.1h.7m-.7 .3h.7m-.7-.6h.7m-.6 .9h.7m-.7 1.3h.7m-.7-1.9h.7m-.6 .6h.7m-.7-.6h.7m-.6 2h.7m-.7 .3h.7m-.7-.1h.7m-.6-1.8h.7m-.7 1.1h.7m-.6 .9h.7m-.7-2.2h.7m-.5 1.9h.7m-.6-2.1h.7m-.7-.5h.7m-.7 2.5h.7m-.6-1.5h.7m-.7 .3h.7m-.7-.5h.7m-.7 1.1h.7m-.7 .7h.7m-.6-1.9h.7m-.6 .4h.7m-.7-.3h.7m-.7 1.3h.7m-.7-2.1h.7m-.6 2.5h.7m-.7-1.2h.7m-.6 1.5h.7m-.6-.7h.7m-.5-1.5h.7m-.6 1.4h.7m-.5-.8h.7m-.6-.8h.7m-.7 .2h.7m-.6 1.2h.7m-.4-.7h.7m-.7 1.5h.7m-.6-.4h.7m-.6-1.7h.7m-.6 2.1h.7m-.6-1.5h.7m-.5 1.6h.7m-.3-.9h.7m-.2-1.7h.7m-.4 2.1h.7m-.6-2h.7m-.2-.2h.7m-.6 2.2h.7m-.4-2.1h.7m.3 1.1h.7m.1-.3h.7m1.4 1.1h.7m-27.7 3.9h.7m.7-1.2h.7m-.1 1h.7m-.3-1.3h.7m-.6-.5h.7m-.7 .5h.7m-.7-1h.7m-.4 .7h.7m-.7 .3h.7m-.3-1.2h.7m-.4 .5h.7m-.4 1.3h.7m-.7 .7h.7m-.3-1.7h.7m-.7 .4h.7m-.7-.4h.7m-.7 1h.7m-.6-.8h.7m-.7-.8h.7m-.5-.4h.7m-.5 .9h.7m-.5 1.7h.7m-.6-.1h.7m-.7 .2h.7m-.7-1.1h.7m-.6-1h.7m-.6 .6h.7m-.7-.1h.7m-.7-.9h.7m-.7 2.6h.7m-.4-.6h.7m-.6-.5h.7m-.6 1.1h.7m-.7-.7h.7m-.5-1.3h.7m-.5 .5h.7m-.7 .2h.7m-.6 .9h.7m-.7-1.4h.7m-.7 1.2h.7m-.6-1.5h.7m-.7 1.9h.7m-.6-1.9h.7m-.7-.1h.7m-.6-.3h.7m-.7 2.2h.7m-.4-.5h.7m-.7-1.9h.7m-.7 2.2h.7m-.6-1.4h.7m-.7 1.4h.7m-.7-.8h.7m-.7-.8h.7m-.7 1.5h.7m-.6-.5h.7m-.7-.8h.7m-.6 1.5h.7m-.7-.2h.7m-.7-1.2h.7m-.7 .8h.7m-.5-1.7h.7m-.7 .8h.7m-.6 .1h.7m-.7-.5h.7m-.6 .4h.7m-.6 .9h.7m-.7-1.1h.7m-.7 .8h.7m-.7 .3h.7m-.6-1.5h.7m-.6 .3h.7m-.7 .7h.7m-.5-.2h.7m-.6 1.2h.7m-.6-1.3h.7m-.6 1.7h.7m-.6-.6h.7m-.7-2h.7m-.7 .3h.7m-.7 2h.7m-.6-1.7h.7m-.7 .1h.7m-.6 2h.7m-.7-1.9h.7m-.6 .6h.7m-.7 1h.7m-.6-1.2h.7m-.7 1h.7m-.7-.2h.7m-.5-1.1h.7m-.7 .7h.7m-.7-.2h.7m-.7-1.4h.7m-.7 1.2h.7m-.6-1.2h.7m-.7 2.2h.7m-.6 .1h.7m-.6-.4h.7m-.7-1.1h.7m-.7-.3h.7m-.6 .8h.7m-.7-1.2h.7m-.7 2h.7m-.6 .4h.7m-.6-1.4h.7m-.7 0h.7m-.6 1.2h.7m-.7-.3h.7m-.7-1.4h.7m-.7-.7h.7m-.7 2.1h.7m-.5 .2h.7m-.7-1.4h.7m-.7 1.7h.7m-.7-1.2h.7m-.7-1.1h.7m-.6 1.2h.7m-.7-.5h.7m-.6 .1h.7m-.6-.6h.7m-.6-.3h.7m-.7 2.7h.7m-.7-1.3h.7m-.6-1.6h.7m-.7 1.8h.7m-.6-1.3h.7m-.7 0h.7m-.6 .9h.7m-.7 1.3h.7m-.7-.1h.7m-.7-1.4h.7m-.7 0h.7m-.7-.1h.7m-.7-.8h.7m-.6 .2h.7m-.7 .7h.7m-.7 1.3h.7m-.6 .4h.7m-.6-1.1h.7m-.7-1.7h.7m-.7-.1h.7m-.7 .6h.7m-.6 .5h.7m-.7 .1h.7m-.7 1.2h.7m-.6 .4h.7m-.7-1.6h.7m-.6-.7h.7m-.7 .7h.7m-.7 1.2h.7m-.7-1.3h.7m-.7 .3h.7m-.7-1.1h.7m-.5 0h.7m-.6 2.3h.7m-.7-2.6h.7m-.6 .4h.7m-.7 2.3h.7m-.7-2.2h.7m-.7 0h.7m-.7 .7h.7m-.7 .4h.7m-.6-1h.7m-.7 1.3h.7m-.7 .8h.7m-.7-1.3h.7m-.7-.4h.7m-.7-.7h.7m-.6 .8h.7m-.6-.8h.7m-.6 1h.7m-.7 .6h.7m-.7 .4h.7m-.7-2h.7m-.6 2.4h.7m-.7-.3h.7m-.7-2.2h.7m-.7 .7h.7m-.6 1.1h.7m-.7-.8h.7m-.7-.8h.7m-.6 .1h.7m-.7 1.7h.7m-.7-2h.7m-.7 1.4h.7m-.6-1.1h.7m-.7 1.3h.7m-.7 .4h.7m-.6-1h.7m-.7 .9h.7m-.6-1.5h.7m-.7 1.6h.7m-.6-1.4h.7m-.7 2.1h.7m-.6-1.4h.7m-.7 .7h.7m-.7 0h.7m-.6-.6h.7m-.7-1.4h.7m-.7 .2h.7m-.7 0h.7m-.6 1.8h.7m-.7-.8h.7m-.7 0h.7m-.7-.6h.7m-.6-.3h.7m-.5 2.1h.7m-.7-2.1h.7m-.7 2.3h.7m-.6-.3h.7m-.6 .2h.7m-.7-2h.7m-.7 .9h.7m-.7-.4h.7m-.6 1.5h.7m-.7-1.1h.7m-.6 .2h.7m-.6-.9h.7m-.5-.9h.7m-.7 .4h.7m-.6 2.3h.7m-.6-.6h.7m-.7-1.3h.7m-.7 .2h.7m-.7 1.5h.7m-.6-1h.7m-.7-.5h.7m-.6 .8h.7m-.7 1h.7m-.7-2.1h.7m-.5 2.1h.7m-.6-2.5h.7m-.7 2.4h.7m-.6-2.7h.7m-.7 1.1h.7m-.7 .4h.7m-.6 .6h.7m-.7-1.9h.7m-.6 2h.7m-.6-1h.7m-.7 .7h.7m-.6-1.3h.7m-.6-.2h.7m-.6 .4h.7m-.7 1.3h.7m-.7-.7h.7m-.6-1h.7m-.5-.3h.7m-.6 .2h.7m-.7-.1h.7m-.6 2.6h.7m-.7-2.4h.7m-.6 2h.7m-.6-1.7h.7m-.7 1.9h.7m-.6-2.4h.7m-.7 2.1h.7m-.7-1.2h.7m-.6 1.8h.7m-.6-2h.7m-.7-.5h.7m-.6 1.5h.7m-.7 1h.7m-.6-2.7h.7m-.6 .2h.7m-.6 2.2h.7m-.7-.9h.7m-.7-1.1h.7m-.5 1.4h.7m-.6-.7h.7m-.7 1.1h.7m-.4 .3h.7m-.7-.8h.7m-.7-1.1h.7m-.7 2.1h.7m-.7-1.1h.7m-.4 1h.7m-.6-2.1h.7m-.6 1.2h.7m-.7-1.8h.7m-.7 1.2h.7m-.6-1h.7m-.7 .8h.7m-.6-.3h.7m-.6-.8h.7m-.5 1.6h.7m-.7-.3h.7m-.7-.5h.7m-.5 0h.7m-.5-.2h.7m-.7-.6h.7m-.4 0h.7m-.7 .7h.7m-.3 2.2h.7m-.6-.7h.7m-.6-1.1h.7m-.7-.4h.7m-.3 1h.7m-.3-.5h.7m-.6-.1h.7m-.4-.2h.7m0 .5h.7m-.2-.3h.7m-.2 .5h.7m3.3 .3h.7m-27.8 3.8h.7m1.5 .2h.7m-.7-1.8h.7m0-.7h.7m-.6 1.2h.7m-.6-.5h.7m.2-.7h.7m-.6 .5h.7m-.5 .6h.7m-.5-1.1h.7m-.3 2.3h.7m-.7-2h.7m-.7-.7h.7m-.4 2.4h.7m-.5-.3h.7m-.6-.8h.7m-.6-.5h.7m-.7-.6h.7m-.7 .2h.7m-.6-.1h.7m-.3 1.1h.7m.1-1.4h.7m-.7 1.1h.7m-.6 1.7h.7m-.7-2.3h.7m-.3 1.2h.7m-.6 .2h.7m-.5-.7h.7m-.4 .5h.7m-.7-1.6h.7m-.5 1.8h.7m-.6-1.1h.7m-.5 .2h.7m-.6-.9h.7m-.6 .3h.7m-.7 1.2h.7m-.7-.5h.7m-.5-1.1h.7m-.3 2.7h.7m-.6 0h.7m-.6-.4h.7m-.6-1.1h.7m-.7-.7h.7m-.5 1h.7m-.7-.2h.7m-.5 1.1h.7m-.6 .1h.7m-.6-1.2h.7m-.6 .9h.7m-.6 .7h.7m-.7-1.5h.7m-.7-.9h.7m-.5 .7h.7m-.4-1h.7m-.6 2.4h.7m-.5-2.3h.7m-.5 0h.7m-.7 2.4h.7m-.6-2.4h.7m-.3 .8h.7m-.6 1.3h.7m-.7-1.6h.7m-.7 .4h.7m-.6-.8h.7m-.7 1.4h.7m-.7 .2h.7m-.6-1.2h.7m-.5 1.3h.7m-.7-.6h.7m-.5-.3h.7m-.4 .6h.7m-.7-1.1h.7m-.5 .6h.7m-.3 0h.7m-.6-1.1h.7m-.7 2h.7m-.6-.6h.7m-.4-1h.7m-.3 1.7h.7m-.6-1.9h.7m-.7 .9h.7m-.7 .7h.7m-.7-.3h.7m-.4 0h.7m-.7 .6h.7m-.6-2.1h.7m-.6 1.8h.7m-.5 .5h.7m-.3-.2h.7m-.7-.2h.7m.1 .2h.7m-.5-.9h.7m-.5-.3h.7m-.6-.1h.7m-.3-.5h.7m-.6-.1h.7m-.3 .9h.7m-.2-.8h.7m-19.9 5.2h.7m2.7-2.1h.7m-.2-.4h.7m-.3 0h.7m1.3 .8h.7m.6-.2h.7m-.7 .2h.7m-.1 .8h.7m.9-1.6h.7m.1 .4h.7m1.5-.6h.7m-.1 .7h.7m2.8 1.5h.7m.4-.1h.7m-11.3 2.4h.7m1.5 .2h.7m.3-1.3h.7m.1 .2h.7" stroke="#f81010" stroke-width="0.8" stroke-opacity="0.7" fill="none"/>
</g>
<rect x="29.8" y="246.6" width="76.2" height="80" fill="none" stroke="#6a6a6a" stroke-width="0.85"/>
<path d="M60.5 246.6L60.5 326.6" stroke="#707070" stroke-width="0.8" fill="none"/>
<path d="M29.8 294.5L106 294.5" stroke="#707070" stroke-width="0.8" fill="none"/>
<text x="31.6" y="250.8" font-size="3.5" fill="#333">Q1</text>
<text x="31.6" y="255.6" font-size="3.6" fill="#333">39.73%</text>
<text x="104.2" y="250.8" font-size="3.5" text-anchor="end" fill="#333">Q2</text>
<text x="104.2" y="255.6" font-size="3.6" text-anchor="end" fill="#333">2.16%</text>
<text x="31.6" y="319.3" font-size="3.5" fill="#333">Q4</text>
<text x="31.6" y="324" font-size="3.6" fill="#333">45.20%</text>
<text x="104.2" y="319.3" font-size="3.5" text-anchor="end" fill="#333">Q3</text>
<text x="104.2" y="324" font-size="3.6" text-anchor="end" fill="#333">12.82%</text>
<path d="M29.5 326.6L29.5 328.1" stroke="#666" stroke-width="0.6" fill="none"/>
<text x="29.8" y="333" font-size="3" text-anchor="middle" fill="#444">10</text>
<path d="M28.3 326.5L29.8 326.5" stroke="#666" stroke-width="0.6" fill="none"/>
<text x="25.7" y="326.6" font-size="3" text-anchor="middle" transform="rotate(-90 25.7 326.6)" fill="#444">10</text>
<path d="M48.5 326.6L48.5 328.1" stroke="#666" stroke-width="0.6" fill="none"/>
<text x="48.85" y="333" font-size="3" text-anchor="middle" fill="#444">10</text>
<path d="M28.3 306.5L29.8 306.5" stroke="#666" stroke-width="0.6" fill="none"/>
<text x="25.7" y="306.6" font-size="3" text-anchor="middle" transform="rotate(-90 25.7 306.6)" fill="#444">10</text>
<path d="M67.5 326.6L67.5 328.1" stroke="#666" stroke-width="0.6" fill="none"/>
<text x="67.9" y="333" font-size="3" text-anchor="middle" fill="#444">10</text>
<path d="M28.3 286.5L29.8 286.5" stroke="#666" stroke-width="0.6" fill="none"/>
<text x="25.7" y="286.6" font-size="3" text-anchor="middle" transform="rotate(-90 25.7 286.6)" fill="#444">10</text>
<path d="M86.5 326.6L86.5 328.1" stroke="#666" stroke-width="0.6" fill="none"/>
<text x="86.95" y="333" font-size="3" text-anchor="middle" fill="#444">10</text>
<path d="M28.3 266.5L29.8 266.5" stroke="#666" stroke-width="0.6" fill="none"/>
<text x="25.7" y="266.6" font-size="3" text-anchor="middle" transform="rotate(-90 25.7 266.6)" fill="#444">10</text>
<path d="M106.5 326.6L106.5 328.1" stroke="#666" stroke-width="0.6" fill="none"/>
<text x="106" y="333" font-size="3" text-anchor="middle" fill="#444">10</text>
<path d="M28.3 246.5L29.8 246.5" stroke="#666" stroke-width="0.6" fill="none"/>
<text x="25.7" y="246.6" font-size="3" text-anchor="middle" transform="rotate(-90 25.7 246.6)" fill="#444">10</text>
<text x="67.9" y="339.6" font-size="5.4" text-anchor="middle" textLength="28.2" lengthAdjust="spacingAndGlyphs" fill="#222">CD206FITC</text>
<text x="21.8" y="287.6" font-size="5.3" font-weight="bold" text-anchor="middle" textLength="27.6" lengthAdjust="spacingAndGlyphs" transform="rotate(-90 21.8 287.6)" fill="#2a2a2a">CD16/32PE</text>
<path d="M28.9 320.6h.9M35.5 326.6v.9M28.9 317.1h.9M38.9 326.6v.9M28.9 314.6h.9M41.3 326.6v.9M28.9 312.6h.9M43.1 326.6v.9M28.9 311.0h.9M44.6 326.6v.9M28.9 309.7h.9M45.9 326.6v.9M28.9 308.5h.9M47.0 326.6v.9M28.9 307.5h.9M48.0 326.6v.9M28.9 300.6h.9M54.6 326.6v.9M28.9 297.1h.9M57.9 326.6v.9M28.9 294.6h.9M60.3 326.6v.9M28.9 292.6h.9M62.2 326.6v.9M28.9 291.0h.9M63.7 326.6v.9M28.9 289.7h.9M64.9 326.6v.9M28.9 288.5h.9M66.1 326.6v.9M28.9 287.5h.9M67.0 326.6v.9M28.9 280.6h.9M73.6 326.6v.9M28.9 277.1h.9M77.0 326.6v.9M28.9 274.6h.9M79.4 326.6v.9M28.9 272.6h.9M81.2 326.6v.9M28.9 271.0h.9M82.7 326.6v.9M28.9 269.7h.9M84.0 326.6v.9M28.9 268.5h.9M85.1 326.6v.9M28.9 267.5h.9M86.1 326.6v.9M28.9 260.6h.9M92.7 326.6v.9M28.9 257.1h.9M96.0 326.6v.9M28.9 254.6h.9M98.4 326.6v.9M28.9 252.6h.9M100.3 326.6v.9M28.9 251.0h.9M101.8 326.6v.9M28.9 249.7h.9M103.0 326.6v.9M28.9 248.5h.9M104.2 326.6v.9M28.9 247.5h.9M105.1 326.6v.9" stroke="#555" stroke-width="0.6" fill="none"/>
<text x="128.2" y="243.4" font-size="7.6" textLength="65.3" lengthAdjust="spacingAndGlyphs">LPS+IFN-γ+TWS119</text>
<g>
<path d="M131.9 248.7h.7m2.4-.2h.7m8.3-.3h.7m1.1 .5h.7m13.3-.2h.7m2.5-.6h.7m-33.5 2.3h.7m1.1 .3h.7m2.8-.6h.7m17.1-.5h.7m-.2 1.7h.7m3 .6h.7m3.7-.5h.7m-29.6 1h.7m8.3 1.5h.7m.1-.5h.7m1 .5h.7m25-.7h.7m7.8-.9h.7m20.9 .7h.7m2.1 2h.7m-59.1 2.6h.7m3.6-2h.7m3.3 .3h.7m1.9 .9h.7m6.3 .7h.7m.6 .2h.7m-27.5 .7h.7m.3 1.7h.7m.8-.2h.7m.3-1.1h.7m11.4 2.2h.7m1.6-2.8h.7m1.5 2.9h.7m.8-.5h.7m.5-1.4h.7m.5-.3h.7m5.8 .9h.7m6.9-.8h.7m2.6 .8h.7m-.6 .4h.7m-44.4 3.8h.7m16.7-1.9h.7m.3 1.7h.7m1.2-1.2h.7m3.3-1.2h.7m5.2 .6h.7m13.8 .9h.7m7.2-.3h.7m-57.7 4.4h.7m2.6-2.8h.7m2.5 .4h.7m0 2.4h.7m2.6-2.3h.7m.8 .6h.7m1.3 1.7h.7m.6-1h.7m9.9-1.6h.7m5.3 1.4h.7m3.1 .7h.7m.7 0h.7m.5-2.1h.7m4.8-.1h.7m12.4 1.4h.7m-55.2 2.8h.7m2.4 1.5h.7m6.7-.3h.7m4.2-2.1h.7m.7 .7h.7m-.1 1.8h.7m2.3-2.2h.7m1.7 .8h.7m.9 1h.7m3.7-1h.7m7.5-.1h.7m26.8-.9h.7m-63.8 4.4h.7m2.2-.7h.7m4.2-.8h.7m1.4 1.3h.7m2.8-.4h.7m.5 1.3h.7m.2-.2h.7m.2 .1h.7m.2-.2h.7m-.5 .1h.7m0-1.4h.7m-.2-.1h.7m.3-.5h.7m7.5 .4h.7m5 2h.7m10.7-2.1h.7m15.7-.4h.7m-66.1 4.3h.7m3.5-.3h.7m1.5-.4h.7m.2 1.5h.7m2.4-.6h.7m1.6-.4h.7m-.2-.7h.7m-.5 2.1h.7m-.7-1.1h.7m-.3 .5h.7m.6 .3h.7m.4 .2h.7m-.3-1.8h.7m.6 1.6h.7m-.5-2.5h.7m-.1 2h.7m-.3-.3h.7m-.6-1h.7m.4 1.7h.7m-.5-1.3h.7m-.1 0h.7m-.2 1.4h.7m-.7-1.8h.7m-.5 1.7h.7m-.1-1.6h.7m6.9-.3h.7m.2 2h.7m6.1-2.2h.7m11.1-.3h.7m12 1.1h.7m4.8-1.1h.7m-64.2 4.2h.7m2 1.3h.7m1.7-.5h.7m1-1h.7m-.1 1.7h.7m-.1-.7h.7m-.5-1.7h.7m-.7 .7h.7m-.5-.8h.7m-.4 2.5h.7m0-.4h.7m-.6 .1h.7m-.1-.4h.7m-.6-1.2h.7m-.7-.2h.7m-.7-.2h.7m-.3 .7h.7m-.6 .9h.7m-.2 .1h.7m-.5 .7h.7m-.5-1.5h.7m-.5-.7h.7m-.4 2.2h.7m-.2-.5h.7m-.6 .1h.7m0-1.9h.7m-.1 .2h.7m-.4 1.7h.7m-.4 0h.7m-.4 .1h.7m-.5 0h.7m-.5-.7h.7m-.6 .5h.7m-.7-1.3h.7m-.6 1.8h.7m-.7-1.3h.7m-.7-1.2h.7m-.6 .9h.7m.1-.4h.7m-.6 0h.7m-.4 1.9h.7m-.3-2h.7m-.6 .4h.7m.2 1.2h.7m.4-.7h.7m-.5 1.3h.7m10.7-2.5h.7m2.3 1.4h.7m5.5-.8h.7m19.6-.6h.7m-.5 2h.7m-66.3 1.2h.7m3.9 .1h.7m-.3 .1h.7m-.1-.3h.7m-.1 .9h.7m-.4 1.4h.7m.3-1.3h.7m-.4 0h.7m1.7 1h.7m.2-.5h.7m-.5-.3h.7m.1 .9h.7m-.7 .2h.7m.8-2h.7m-.6-.7h.7m-.5 1.9h.7m-.3-1.6h.7m-.6 1.3h.7m-.4 .3h.7m-.6 0h.7m-.5-.8h.7m-.6-1.2h.7m-.7 2.1h.7m-.5 .7h.7m-.6-.8h.7m-.5-.8h.7m-.6 1.6h.7m-.6-.8h.7m-.7 .4h.7m-.1-.7h.7m-.6 .2h.7m-.3 .4h.7m-.5-1.7h.7m-.6 1.6h.7m-.3 .6h.7m-.4-1.4h.7m-.6-.3h.7m-.6 1.4h.7m-.7-.2h.7m-.5-2.1h.7m-.6 .2h.7m-.7 1.7h.7m-.5-1.6h.7m-.7 .7h.7m-.5-.2h.7m-.4-.6h.7m-.6 .3h.7m-.7 2h.7m-.5-1.2h.7m-.7-1.4h.7m-.6 .7h.7m-.7 1.3h.7m-.6-.7h.7m-.6 .4h.7m-.6 .6h.7m-.5-.8h.7m-.4-1.3h.7m0 1.9h.7m-.5-1.4h.7m-.7 1.2h.7m-.6-1.6h.7m-.4 .9h.7m-.4 0h.7m-.4 1.5h.7m-.4-.8h.7m-.3 .5h.7m-.6-2.4h.7m-.6 .7h.7m-.3 .6h.7m-.7 .6h.7m-.7-1.4h.7m.1 1.5h.7m.7 .2h.7m4.8 .5h.7m.4-1.3h.7m-.2 .3h.7m.3 .8h.7m-.1-.4h.7m-.5-1.5h.7m.9 1.9h.7m2.6-1.1h.7m7.1 1.1h.7m1.2-2.4h.7m-.3 1.7h.7m11.3-.7h.7m-61 4.7h.7m1.7-.1h.7m.2-.5h.7m1.2 .6h.7m2 0h.7m.1-2.8h.7m-.1 1.6h.7m.4-.6h.7m.6 .8h.7m-.5 1h.7m-.4-2.2h.7m-.5-.2h.7m-.6 1.9h.7m-.4 .1h.7m-.6 .2h.7m-.7-2.6h.7m-.5 2.8h.7m-.5-2.4h.7m-.7 1h.7m-.5-1.4h.7m-.5 2.3h.7m-.3 .3h.7m-.5 .1h.7m-.5-1.1h.7m-.7 0h.7m-.6-.9h.7m-.7 1.5h.7m-.5-1.4h.7m-.4 .9h.7m-.5 .7h.7m-.3-1.6h.7m-.7-.6h.7m-.4 1.1h.7m-.6 .3h.7m-.6-.7h.7m-.3-.1h.7m-.7-.9h.7m-.6 2.9h.7m-.7 0h.7m-.4-1.2h.7m-.6-1.6h.7m-.7 1.4h.7m-.5 .6h.7m-.4-.2h.7m-.6 .9h.7m-.6-1.7h.7m-.7 .6h.7m-.6 1.1h.7m-.4-1.4h.7m-.6-.2h.7m-.4 .7h.7m-.6-1.4h.7m-.4-.2h.7m-.6 .3h.7m-.7 1.1h.7m-.3 .3h.7m-.6-1h.7m-.6 1.2h.7m-.3-.6h.7m-.3-.7h.7m-.1-.7h.7m-.5 1.8h.7m-.2-1.2h.7m-.4 1.1h.7m-.4 .4h.7m-.3-.6h.7m.6-1.3h.7m1.2 2.4h.7m-.6-1h.7m-.1-.4h.7m-.3-.4h.7m.2 1h.7m-.3-1.4h.7m.8 .3h.7m2.1-.8h.7m3.6 .6h.7m2.5 .2h.7m8.7 1.2h.7m.6 .3h.7m2.6-.1h.7m7.7 .2h.7m-57.6 2.8h.7m0-.8h.7m-.5 .5h.7m1.3-.4h.7m-.7 .1h.7m.5-.3h.7m-.1 .3h.7m-.5-.3h.7m-.4-.5h.7m-.2 .1h.7m-.6 1.4h.7m-.6-.7h.7m-.3 .1h.7m-.4-1.7h.7m-.6 .2h.7m-.4-.1h.7m-.7 2.2h.7m-.5-.8h.7m-.4-.5h.7m-.5 1.7h.7m-.6-2h.7m-.6-.3h.7m-.4 .6h.7m-.7 1.2h.7m-.5-.9h.7m-.2 .4h.7m-.6-.2h.7m-.4 1h.7m-.5-1.6h.7m-.1-.9h.7m-.7 1.7h.7m-.5-.7h.7m-.6 .5h.7m-.7-1.4h.7m-.5 2.1h.7m-.3-.7h.7m-.6-.9h.7m-.6 1.2h.7m-.7 .8h.7m-.7-2.3h.7m-.7 1h.7m-.3 .2h.7m-.5 .6h.7m-.6-1.7h.7m-.4-.3h.7m-.5 .2h.7m-.6-.4h.7m-.6 0h.7m.4 .8h.7m-.6 1.1h.7m-.5-.4h.7m-.6-.7h.7m-.7-.2h.7m-.6-.1h.7m-.3 2.1h.7m-.2 .3h.7m-.6-2h.7m-.4 .2h.7m-.4-1.1h.7m0 .7h.7m-.1 .8h.7m1.3-.1h.7m-.4-.3h.7m.9 .5h.7m1.5 1.2h.7m-.2-.1h.7m-.5-2.2h.7m-.5 2.4h.7m-.5-1h.7m.4 .2h.7m3.2-1.6h.7m-.7 .9h.7m0 .2h.7m-.7-.6h.7m-.3 1.4h.7m-.5-1.1h.7m-.2 .2h.7m1.4-.2h.7m1.6 .5h.7m.4 .1h.7m3.5-.8h.7m-43 3.5h.7m-.1-.9h.7m-.4 1h.7m1.2-.9h.7m-.5-.6h.7m0 1.8h.7m-.3-1.7h.7m-.5-.1h.7m-.5 2.1h.7m-.3-.7h.7m-.5-.6h.7m-.4-.6h.7m-.4-.2h.7m-.7 1.4h.7m-.3-1.6h.7m-.6 1.2h.7m-.5-.6h.7m-.6-.6h.7m-.5 .4h.7m-.7 1.3h.7m.7-.1h.7m-.4 .8h.7m-.7-.1h.7m-.2-.3h.7m-.3-1.1h.7m-.3-.6h.7m-.1 .5h.7m-.6-.4h.7m-.5 .6h.7m-.7 1.9h.7m-.2-1.4h.7m-.4-.5h.7m-.1 .5h.7m-.6-.3h.7m-.5 1.3h.7m-.1-1h.7m-.2-.1h.7m.4-.2h.7m-.5 1.6h.7m-.1-1.7h.7m2-.8h.7m-.6 1h.7m-.7 .9h.7m-.5-1.2h.7m-.5 1.4h.7m.1-.2h.7m-.6-.2h.7m.5 .1h.7m.1 0h.7m.4-1.4h.7m-.4 .6h.7m-.7 .4h.7m-.6-.4h.7m-.6 1.3h.7m-.3 0h.7m-.7-.7h.7m-.6-.4h.7m1-.2h.7m.2 .1h.7m.6-1.2h.7m0 2.6h.7m-.7-2.6h.7m-.4 2.4h.7m-.4-1.4h.7m.8-1h.7m.8 .5h.7m.1 .1h.7m-.1-.7h.7m.4 .6h.7m.4 1.2h.7m.1-.1h.7m.4-.5h.7m-.3-1.3h.7m1.5 2.3h.7m-.2-1.6h.7m2.2 1.9h.7m6.8-2h.7m6.4 2.1h.7m2.2-.9h.7m-66.5 1.3h.7m3.8 2.1h.7m1.3 0h.7m.7 .4h.7m.7-1.8h.7m.1-.7h.7m-.7 .1h.7m-.4-.1h.7m-.3-.1h.7m-.2 2.9h.7m-.2-2.1h.7m.2 0h.7m-.4 .5h.7m-.2-1.3h.7m-.5 2.9h.7m.5-.2h.7m.4-1h.7m-.6-1h.7m-.6-.2h.7m1-.3h.7m-.6 2.2h.7m.5-1.2h.7m-.5 .4h.7m-.2-1.2h.7m.8 2h.7m-.6 .2h.7m0-.2h.7m-.6-1h.7m-.1-1.1h.7m-.6 1.6h.7m.8-1h.7m-.2-.7h.7m-.6 2.2h.7m-.6-.7h.7m.6-.1h.7m.1 .2h.7m-.5-1.8h.7m0 2.4h.7m-.1 0h.7m-.2-.1h.7m-.5 .2h.7m-.6 0h.7m-.5-.5h.7m-.7-1.5h.7m-.6 1.4h.7m-.6-.2h.7m-.5 .6h.7m.4 .1h.7m-.5-2.2h.7m-.2 .1h.7m-.3 1.1h.7m-.4-1.1h.7m.1 1.8h.7m-.7 .4h.7m.2-.6h.7m-.6 0h.7m-.7-1h.7m-.3 .3h.7m1.1-.4h.7m-.6 1h.7m.3 .2h.7m.1 .2h.7m-.2 .3h.7m-.4-1.6h.7m1.5-.7h.7m.4 1.2h.7m-.1 1h.7m.7-.1h.7m.6-1.8h.7m3.3 .4h.7m.4 1.4h.7m9-2.3h.7m10.1 1.8h.7m-72.4 1.5h.7m-.1 1.6h.7m1.6 .2h.7m2.1 0h.7m-.5 0h.7m.1 .1h.7m1.5-2.2h.7m.1 .1h.7m0 1h.7m-.5 1.6h.7m.5-.2h.7m-.3-1.9h.7m0 1.5h.7m-.4 0h.7m-.5-.6h.7m-.4-.2h.7m-.4-.5h.7m-.1 1h.7m-.2-.7h.7m-.5 .8h.7m.4-1.6h.7m-.5 .4h.7m-.6 1.2h.7m-.5-1.1h.7m-.4-.7h.7m-.4 1h.7m-.6-1.1h.7m-.7 0h.7m-.5 .5h.7m0 .6h.7m-.6 .6h.7m-.5-.8h.7m-.6 .9h.7m-.5-1.8h.7m-.1 .1h.7m0 1h.7m-.5 1.5h.7m-.4-2.4h.7m-.5 2.5h.7m.5-2.6h.7m0 1.2h.7m-.5 1.2h.7m-.7-1.8h.7m-.6 1.3h.7m-.5 .6h.7m-.3-2.6h.7m-.7 1.5h.7m-.4 .2h.7m-.3-1.6h.7m.9 1.4h.7m-.5-.2h.7m-.1-1.1h.7m-.5 .7h.7m-.5 .9h.7m-.4-.3h.7m-.4-1.1h.7m-.7-.1h.7m-.4 2h.7m-.4-2.1h.7m-.6-.1h.7m-.6 .5h.7m-.6 1.3h.7m-.2-1.6h.7m-.7 2.1h.7m-.7-.8h.7m-.7 .1h.7m-.6-.1h.7m-.4 .9h.7m-.6-1h.7m-.3 .4h.7m-.6-1.4h.7m-.4 .9h.7m-.5-.4h.7m-.7 .3h.7m-.5 .9h.7m-.6-1.1h.7m-.2-1.1h.7m-.7 2.8h.7m-.6 0h.7m-.4-.9h.7m-.5-1.2h.7m-.5-.2h.7m-.4-.4h.7m-.7 1.6h.7m-.4-1.7h.7m-.4 1h.7m-.5 .7h.7m-.4 .5h.7m.3 .2h.7m-.6 .2h.7m-.7-.9h.7m.2 1.1h.7m-.4-.9h.7m-.6-1.8h.7m-.5 1.6h.7m-.3-1.4h.7m-.6 1.5h.7m-.6-1.2h.7m-.3 0h.7m-.5 1.7h.7m-.7 .1h.7m-.3-1h.7m-.7 .9h.7m-.5-1.9h.7m.1 .5h.7m-.7 1.3h.7m-.6-1.8h.7m-.2 0h.7m-.6 .7h.7m-.7 .3h.7m-.4 .7h.7m.3-.4h.7m-.3 .4h.7m-.1-.6h.7m-.5-.7h.7m-.4-.7h.7m-.5 .8h.7m-.7 1.2h.7m-.5-2.1h.7m0 1.4h.7m-.5-.6h.7m-.1 .8h.7m-.2 .8h.7m.1-2.2h.7m-.4 .2h.7m-.7 .7h.7m1.9 .9h.7m.7-.5h.7m.9 1.3h.7m20.1-2.1h.7m-71.4 2.4h.7m1.6 1h.7m.1 0h.7m1.6 .3h.7m.5-.5h.7m0 .4h.7m1.9 0h.7m-.5 .3h.7m.3-.4h.7m-.1-1h.7m-.6 2.7h.7m-.7 0h.7m-.6-.8h.7m-.4-1.3h.7m-.4 1.8h.7m-.6-2.3h.7m-.6 .3h.7m-.3 2.1h.7m-.4 0h.7m-.5-2.5h.7m-.4 1.7h.7m0 .7h.7m.8-.5h.7m-.4-.7h.7m.5-1h.7m-.5 2.5h.7m-.5-2.4h.7m-.1 1.3h.7m-.3 .4h.7m-.6 .6h.7m-.7-.1h.7m-.6-.6h.7m-.6 .5h.7m-.4-2.4h.7m-.6 1h.7m-.4 .7h.7m-.7-.3h.7m-.4-1.2h.7m-.7 1.4h.7m-.4-1.3h.7m-.7 1.1h.7m-.5-.7h.7m-.6 1.5h.7m-.3-.2h.7m.1-1.7h.7m-.7 .4h.7m-.5-.3h.7m-.6 1.7h.7m-.6-.5h.7m0 .4h.7m-.6-1.7h.7m-.4 0h.7m-.7-.2h.7m-.5 .4h.7m0 1.3h.7m-.6-.7h.7m-.3-.6h.7m-.6-.1h.7m-.7 .9h.7m-.6-.9h.7m-.7 1.5h.7m-.7-1.7h.7m-.4 1.7h.7m-.6-.2h.7m0 .6h.7m-.5 0h.7m-.4-.5h.7m-.6-.8h.7m-.5-1.2h.7m-.7 1.1h.7m-.5 .3h.7m-.7 .5h.7m-.6 .6h.7m-.6-2.1h.7m-.5 1.1h.7m0 .1h.7m-.6-.7h.7m-.3-.9h.7m-.7 2.1h.7m-.5 .3h.7m-.7-1h.7m-.5 .5h.7m-.3-1.6h.7m-.7 1.6h.7m-.5 .4h.7m-.5-2h.7m-.7 2.2h.7m-.4 .2h.7m-.7-2.6h.7m-.3 1.4h.7m-.2 .4h.7m-.2-1.2h.7m-.5-.1h.7m-.7 1.3h.7m-.5-1.6h.7m-.6 2.3h.7m0-.4h.7m0-.4h.7m-.4-.6h.7m-.4 .2h.7m-.7-.2h.7m.1 1.2h.7m-.7 .2h.7m0-.6h.7m-.7-1.7h.7m-.2 .3h.7m-.1 1.6h.7m-.6 .5h.7m.4-1.8h.7m-.7 .3h.7m-.4 1.2h.7m.5-1.5h.7m-.2 .5h.7m-.6 .3h.7m-.6-.4h.7m.7-.6h.7m-.6 .8h.7m-.6-.9h.7m-.4 .2h.7m-.6-.5h.7m-.1 2.2h.7m0-1.4h.7m-.3-.8h.7m-.6 .8h.7m.8 1.8h.7m-.6-1.5h.7m1.3 .2h.7m1.3 .2h.7m-.1-.2h.7m5.6-.9h.7m-57.7 4.3h.7m.3 .5h.7m-.5-.7h.7m.6 .3h.7m1.8 .1h.7m-.4-2.2h.7m.3 1.6h.7m-.2 0h.7m-.7-.9h.7m-.6 0h.7m.2-.7h.7m.8 .8h.7m-.1 1.5h.7m-.3 .3h.7m.6-2h.7m-.1 1.6h.7m-.3 .4h.7m-.1-2.5h.7m-.6 1.9h.7m-.5-.3h.7m-.4 .9h.7m-.6-2.3h.7m-.7 1.1h.7m-.5 1.5h.7m-.7-1.4h.7m0-.6h.7m-.7 .7h.7m0-.7h.7m-.5 1.9h.7m-.7-2.2h.7m-.3 2.1h.7m-.7-1.5h.7m-.3 1.5h.7m-.7-.9h.7m-.6 0h.7m-.5-1.1h.7m-.6-.5h.7m-.6 1.9h.7m-.6-1.4h.7m-.6 .3h.7m-.4 1.1h.7m-.6-.6h.7m-.3-.5h.7m-.5-.7h.7m-.5 1.4h.7m-.5-.6h.7m-.5-.4h.7m.3 1.6h.7m-.5-.7h.7m-.6 .5h.7m-.5-1.6h.7m-.7-.4h.7m-.4 1.2h.7m-.5 .4h.7m-.7-.2h.7m-.6 .9h.7m-.7-.4h.7m-.7 .7h.7m-.6 .2h.7m-.6-1.6h.7m-.6-1.3h.7m-.1 2.7h.7m-.6-.3h.7m-.6-1.4h.7m-.5 1.9h.7m-.6-.3h.7m-.5-2.6h.7m-.6 2.1h.7m-.6-.2h.7m-.5-1.6h.7m-.6 1.1h.7m-.6 .7h.7m-.4-1.8h.7m.1 2.6h.7m-.7-.1h.7m-.2 .1h.7m-.7-1.6h.7m-.5 .5h.7m-.6 .6h.7m-.5-1.5h.7m-.7-.1h.7m-.7 1.7h.7m-.5-.5h.7m-.3-1.3h.7m-.5 1.6h.7m-.6 0h.7m-.6 .5h.7m-.6-.3h.7m-.5-.2h.7m-.4 .1h.7m-.1-.6h.7m-.2-.1h.7m-.3-1.1h.7m-.7 .5h.7m-.5 1.3h.7m-.6-1.2h.7m-.6-.5h.7m-.6 1.4h.7m-.7-.4h.7m-.6-1.4h.7m-.6 2.1h.7m-.3-1.4h.7m-.6 1.9h.7m-.3-.8h.7m-.6 .3h.7m-.3-.5h.7m-.6 .3h.7m-.7 0h.7m-.6 .3h.7m-.7 .2h.7m-.6-1.6h.7m-.7-.2h.7m-.7 1.3h.7m-.6-2.2h.7m-.6 2.6h.7m-.6-1.4h.7m-.6 0h.7m-.7 1.5h.7m-.2-1.9h.7m-.6 1.7h.7m-.7-.1h.7m-.7-1.7h.7m-.2 .7h.7m-.7-1.3h.7m-.7 .3h.7m-.3 .4h.7m-.7 .1h.7m0-.3h.7m-.4 1h.7m-.3-.5h.7m-.6 .7h.7m-.7 .2h.7m-.6 .8h.7m-.6-1.5h.7m-.7 0h.7m.2 1.6h.7m-.3-2.4h.7m-.7 .8h.7m-.5 1.2h.7m-.5-2h.7m-.5 .3h.7m-.6 2.1h.7m-.2-.3h.7m-.6 .1h.7m-.6-1.5h.7m-.1 .2h.7m-.5-1.3h.7m-.7 .5h.7m0 .9h.7m-.2-1.5h.7m-.4 2.1h.7m-.4-.8h.7m.4 1.4h.7m-.3-1h.7m0 .7h.7m.6-.2h.7m-.6 .1h.7m-.7-.2h.7m-.4 .2h.7m-.6-.8h.7m.6 .1h.7m2.8 .6h.7m1.2-.8h.7m3-.6h.7m-56 5.1h.7m.1-.9h.7m5 .7h.7m-.6-.5h.7m.8 .1h.7m.2 .4h.7m.1-2.2h.7m-.5 1.8h.7m-.4-1.4h.7m-.6 1.6h.7m-.7-.3h.7m-.2-2.2h.7m-.3 .5h.7m-.5-.4h.7m-.4 .7h.7m-.5 .3h.7m-.2 1.7h.7m-.4-1.3h.7m.6-.2h.7m.3-.8h.7m-.1 .1h.7m-.4 .5h.7m-.5 1.8h.7m-.6-1h.7m-.6-1.3h.7m-.3-.6h.7m.4 2.5h.7m-.7 .4h.7m-.7-.1h.7m-.6-1.3h.7m-.3 .2h.7m-.6-.9h.7m-.6-.8h.7m-.2 0h.7m-.6 2.6h.7m-.1-2h.7m.1 1.8h.7m-.7-2.1h.7m-.3 1h.7m-.6 1.3h.7m-.7-.5h.7m-.7 0h.7m-.2 .5h.7m-.6-.6h.7m-.6-1.2h.7m-.2 1h.7m-.5 .6h.7m-.5-.6h.7m-.7 0h.7m-.7 .3h.7m-.6-1.2h.7m-.7 1.2h.7m-.2 .2h.7m-.7-1.4h.7m-.5 .5h.7m-.6-1.4h.7m-.7 .1h.7m-.4 1.1h.7m-.7-.7h.7m-.7 1h.7m-.3-.9h.7m-.4 1h.7m-.5-.5h.7m-.7 1.7h.7m-.6-2.5h.7m-.7 1.4h.7m-.6 0h.7m-.7-.2h.7m-.6 1.3h.7m-.2-1.4h.7m-.1-.7h.7m-.5-.5h.7m-.6-.1h.7m-.5 2.1h.7m-.6-.9h.7m-.7 .6h.7m-.6 .5h.7m-.5-2.4h.7m-.6 2.2h.7m-.5-.4h.7m-.7-1.2h.7m-.7 1.1h.7m-.4 .8h.7m-.3 .3h.7m-.6-1.1h.7m-.6-1.4h.7m-.5 1.1h.7m-.6 .5h.7m-.3-.7h.7m-.5 1.1h.7m-.6 .3h.7m-.7-.9h.7m-.7-1.1h.7m-.4-.5h.7m-.6 2.3h.7m-.4-1.7h.7m-.7 .6h.7m-.7 .3h.7m-.7 .5h.7m-.5 .3h.7m-.5 .2h.7m-.5-.2h.7m-.6-1.1h.7m-.6-1.1h.7m-.7 .7h.7m-.6-.8h.7m-.6 1.6h.7m-.7 .6h.7m-.6-.3h.7m-.5-.2h.7m-.6 .1h.7m-.6 .8h.7m-.5-.1h.7m-.7-1.8h.7m-.3 .7h.7m-.7-.9h.7m-.7 1.3h.7m-.6-.7h.7m-.7 .3h.7m-.5 .6h.7m-.6-1.6h.7m-.6 2.2h.7m-.6-2.3h.7m-.6 2.1h.7m-.7-.5h.7m-.6-1.9h.7m-.4 .6h.7m-.5 .2h.7m-.6 1.9h.7m-.6-1.5h.7m-.4 .6h.7m-.6-1.8h.7m-.7 1.2h.7m-.5-.8h.7m-.6 2.3h.7m-.7-1.4h.7m-.5-1.1h.7m-.6 .3h.7m-.7-.2h.7m-.6 .8h.7m-.7-.7h.7m-.7-.3h.7m-.5 1.5h.7m-.6 .8h.7m-.6-2.2h.7m-.7 1.9h.7m-.6-.4h.7m-.6 1h.7m-.4-1.7h.7m-.5-.7h.7m-.6 1.2h.7m-.7 1.1h.7m-.3-1.9h.7m-.5 .8h.7m-.7-.9h.7m-.6-.1h.7m-.5 2h.7m-.5-2.2h.7m-.7 0h.7m-.7 .3h.7m-.6 .6h.7m-.7 .3h.7m-.6 1.1h.7m-.5-1.3h.7m-.7-.9h.7m-.5 .1h.7m-.6 2.1h.7m-.6-.6h.7m-.2-.9h.7m-.7 .8h.7m-.6 .6h.7m-.4-2.1h.7m-.6 1h.7m-.6-.3h.7m-.6-.9h.7m-.5 .4h.7m-.6 1.2h.7m-.5-1.5h.7m-.5-.1h.7m-.3 2.6h.7m-.6-.8h.7m-.3-1.8h.7m.2 .3h.7m-.1 .9h.7m0 .6h.7m-.3-.7h.7m-.5 .3h.7m-.3-1.3h.7m.7 0h.7m-.6-.3h.7m-.6 2.8h.7m-.4-.9h.7m-.6-.2h.7m-.7 .4h.7m-.3-2h.7m.2 1.2h.7m0 1.1h.7m-.4-1.4h.7m2.6-.9h.7m15.3 2.4h.7m-67.2 1.6h.7m.3 1.5h.7m-.7-.1h.7m-.1-1.2h.7m4-.7h.7m.8 .9h.7m1-.9h.7m-.5-.5h.7m.2 2.6h.7m-.2-2.2h.7m-.5-.5h.7m-.7 1.4h.7m.2-1.2h.7m-.7-.2h.7m-.6 2h.7m-.4 .3h.7m-.3-.4h.7m.1-.3h.7m-.5-.6h.7m-.5 1.5h.7m-.7-.2h.7m-.6-.8h.7m-.3 .1h.7m-.4-1.6h.7m-.2 .8h.7m-.3 2h.7m-.6-2.9h.7m-.1 2.5h.7m.1 .3h.7m-.3 .1h.7m-.6-2.5h.7m-.6-.2h.7m-.5 1.2h.7m-.6 .2h.7m-.6 1.1h.7m-.5-1.6h.7m-.6 1.7h.7m-.4-2.1h.7m-.7-.6h.7m-.6 2.6h.7m-.6-.9h.7m-.6-1.2h.7m-.2-.1h.7m-.3 0h.7m-.5 0h.7m-.6 1.4h.7m-.6 .1h.7m-.4-.3h.7m-.5-.6h.7m-.5 1.8h.7m-.4-1.8h.7m-.6 .8h.7m-.6-1.5h.7m-.6 .7h.7m-.6 1.5h.7m-.7-.4h.7m-.6-1.3h.7m-.5-.9h.7m-.6 2h.7m-.4 .3h.7m-.6-2h.7m-.6 1.9h.7m-.7 .4h.7m-.6-.3h.7m-.4-2.3h.7m-.5 1.1h.7m-.5-.6h.7m-.6 2.3h.7m-.6-2.6h.7m-.7 1.6h.7m-.7 .7h.7m-.4-.2h.7m-.4-1.7h.7m-.7 2.1h.7m-.6-1.9h.7m-.6 0h.7m-.6-.3h.7m-.5-.5h.7m-.1 2.8h.7m-.4-.2h.7m-.5-.3h.7m-.6-.6h.7m-.7-1.7h.7m-.7 2.2h.7m-.6-.6h.7m-.6 1.3h.7m-.7-1.5h.7m-.6-1.4h.7m-.7 2.1h.7m-.6-1.3h.7m-.7 .9h.7m-.5-.4h.7m-.3-1.2h.7m-.7 1h.7m-.7 1.5h.7m-.5-1.4h.7m-.6 1.5h.7m-.6-1h.7m-.7-1.2h.7m-.7 .3h.7m-.7 1h.7m-.6-1.6h.7m-.6 .7h.7m-.5 1.2h.7m-.7 .5h.7m-.6-.3h.7m-.5 .1h.7m-.6-1h.7m-.6 1h.7m-.7-1.9h.7m-.7 1.9h.7m-.4 .2h.7m-.5 0h.7m-.6-2.3h.7m-.5-.3h.7m-.7 .9h.7m-.6-.6h.7m-.5 1.2h.7m-.6-1.2h.7m-.5 1.3h.7m-.7 .9h.7m-.6-1.9h.7m-.5 1.8h.7m-.5-.2h.7m-.7-.7h.7m-.7 .3h.7m-.6-.6h.7m-.7-.7h.7m-.7 .1h.7m-.6 1.8h.7m-.5-.3h.7m-.6-.3h.7m-.6-.8h.7m-.6 .8h.7m-.6 .1h.7m-.6-1.9h.7m-.7 .4h.7m-.6 .6h.7m-.2 1.5h.7m-.7-.3h.7m-.7 .6h.7m-.7-2h.7m-.7 2h.7m-.6-1h.7m-.7-1h.7m-.6-.1h.7m-.6 1.9h.7m-.6-1.5h.7m-.6-.1h.7m-.7 1.7h.7m-.7-1.6h.7m-.5 .1h.7m-.7-1.2h.7m-.5 1h.7m-.6 .8h.7m-.6-.1h.7m-.6 0h.7m-.6 .7h.7m-.6-1.2h.7m-.4-.2h.7m-.4-1h.7m-.7 2.1h.7m-.6-1.5h.7m-.5 .2h.7m-.4 1.4h.7m-.5-2.2h.7m0 1h.7m-.1-.1h.7m-.6-.9h.7m-.6 1.5h.7m-.6 1.2h.7m-.7-2h.7m-.5 1.5h.7m0-.4h.7m-.7 1.1h.7m-.2-1.4h.7m-.6 .1h.7m-.6 .1h.7m-.7-1.2h.7m-.3-.2h.7m-.2 1.5h.7m.8-1.5h.7m-.6-.2h.7m-.7 .8h.7m-.4 .7h.7m-.6-.7h.7m-.5 2h.7m.3-2.7h.7m-.3 .3h.7m-.6 2.4h.7m-.5-2.2h.7m-.6 1.1h.7m-.7 .2h.7m-.6-.1h.7m-.2-1.9h.7m-.5 2.8h.7m0-.4h.7m-.1-1.5h.7m.8 .8h.7m-.1-.2h.7m.2 1.4h.7m.8-1.7h.7m.6-1h.7m3.1-.1h.7m.9 1.4h.7m9-.9h.7m4.2-.6h.7m-70.6 4.9h.7m.5 .4h.7m.3-.4h.7m.9 .4h.7m.9-.4h.7m-.3 1h.7m.4-.3h.7m.7-1.3h.7m1.6-1.2h.7m-.4 2.1h.7m-.7 .1h.7m.2-1.3h.7m-.6-.1h.7m-.7-.7h.7m0 1.3h.7m-.6-.4h.7m-.2-.1h.7m-.5 0h.7m-.7 .2h.7m-.3-1.2h.7m-.6 .5h.7m0 1.2h.7m-.7-.3h.7m-.3 .1h.7m-.5 1.1h.7m-.6-.5h.7m-.4 .8h.7m-.5-1.6h.7m-.4 .4h.7m-.5-1.6h.7m-.5 1.9h.7m-.5-.4h.7m-.6-.6h.7m-.7 1.5h.7m-.1-.7h.7m-.6 .7h.7m.1-.8h.7m-.4-.6h.7m-.4 1.4h.7m-.6-.5h.7m-.7-.5h.7m-.6 .4h.7m-.6-.3h.7m-.6-.3h.7m-.1 1.3h.7m-.5-2.4h.7m-.6 .6h.7m-.3-.3h.7m-.7 2.3h.7m-.6-.5h.7m-.6-1.1h.7m-.6 1.5h.7m-.5-2.6h.7m-.6 0h.7m-.6 1.4h.7m-.5 1.4h.7m-.6 0h.7m-.4-2.5h.7m-.7-.1h.7m-.6 1.4h.7m-.3-1.6h.7m-.5 1.6h.7m-.6 1.2h.7m-.6-1.7h.7m-.6-.9h.7m-.5 .3h.7m-.6-.3h.7m-.7-.1h.7m-.6 2.6h.7m-.4-1.1h.7m-.7 1h.7m-.5-1h.7m-.6-.3h.7m-.7 .5h.7m-.4-1.6h.7m0 .9h.7m-.6 .5h.7m-.4 .1h.7m-.5 .9h.7m-.7-2.2h.7m-.6 1h.7m-.6 .8h.7m-.7-.8h.7m-.6-1.3h.7m-.7 1.4h.7m-.6 1.2h.7m-.7-2.4h.7m-.5 .1h.7m-.7 .3h.7m-.6-.4h.7m-.4 1.2h.7m-.7-1.2h.7m-.6 2.1h.7m-.7-1.8h.7m-.7-.3h.7m-.4 1.2h.7m-.4-1.5h.7m-.7 2h.7m-.5-.7h.7m-.4-1h.7m-.6 1.3h.7m-.7-.9h.7m-.6 .5h.7m-.6 1.4h.7m-.4-2.4h.7m-.4 2.5h.7m-.5-1.3h.7m-.5-.5h.7m-.7 1.1h.7m-.7-.4h.7m-.7-1.4h.7m-.6 1.8h.7m-.6 .6h.7m-.6-2.7h.7m-.6 .9h.7m-.4-.4h.7m-.3 0h.7m-.3 2.3h.7m-.7-2.8h.7m.4 .6h.7m-.6 1.1h.7m-.7-.9h.7m-.6 1.6h.7m-.1-1.2h.7m-.6 1.3h.7m-.3-2.4h.7m-.5 1.6h.7m-.7-1h.7m.3 2.1h.7m-.6-.4h.7m-.1-1.4h.7m-.6 1.8h.7m-.5-2.8h.7m.6 2.4h.7m-.5 0h.7m-.6-2h.7m-.6 2.2h.7m-.7-2h.7m-.6-.4h.7m.2 2.6h.7m-.5-2.7h.7m-.5 1.7h.7m-.6 .4h.7m0-1.1h.7m-.5 1.8h.7m-.4-.1h.7m-.7-1.5h.7m-.4-1.1h.7m-.6-.1h.7m-.4 .1h.7m1.1 2.4h.7m.6-.2h.7m.9-.7h.7m-.7-1.6h.7m-.4-.1h.7m.2 2.8h.7m.1-1.7h.7m-.1 .5h.7m.5-1.2h.7m1.6 1.9h.7m14.8-1.3h.7m-67.4 3.6h.7m4.8 1.3h.7m-.5-.3h.7m.8-.2h.7m.4-1.3h.7m-.3 .2h.7m-.5-.7h.7m.4-.6h.7m-.5 .7h.7m-.4-.6h.7m-.6 1.2h.7m-.1 .9h.7m0-.4h.7m-.2-.9h.7m-.7-.4h.7m.1 1.7h.7m.4-.9h.7m-.5-.7h.7m-.6-.5h.7m.2 .9h.7m-.3 .6h.7m.2-1.3h.7m-.6 .7h.7m-.6 1h.7m-.6-1h.7m-.4 .5h.7m-.6-.9h.7m-.5 .9h.7m-.7 .8h.7m-.4-.8h.7m-.6-.2h.7m-.6-1.3h.7m-.3 .1h.7m-.7 .4h.7m-.3-.3h.7m-.5 1.4h.7m-.6 .8h.7m-.6 0h.7m-.5 .1h.7m-.7 .3h.7m-.5-2.7h.7m-.7 2.3h.7m-.6-1.6h.7m-.7 2h.7m-.6-2.4h.7m-.7 .1h.7m-.4 2.4h.7m-.6-1.7h.7m-.5 1.2h.7m-.5 .5h.7m-.7-1.4h.7m-.5 .7h.7m-.7-1.6h.7m-.4 1.4h.7m-.3-.6h.7m-.4 1.5h.7m-.5-.9h.7m-.6-1h.7m-.7 1.7h.7m-.6-1.5h.7m-.6 .3h.7m-.5-.9h.7m-.6 1.2h.7m-.5-.8h.7m-.5 1.4h.7m-.6-.3h.7m-.4 .1h.7m-.6 .7h.7m-.7-.7h.7m-.6-.5h.7m-.5-.8h.7m-.5 1.8h.7m-.6-2.5h.7m-.6 1.4h.7m-.2-.7h.7m-.6 .6h.7m-.7-.9h.7m-.7 .1h.7m-.3 1.1h.7m-.6 0h.7m-.6-1.1h.7m-.6 1.3h.7m-.4 .5h.7m-.6-1h.7m-.6 .6h.7m-.4 .5h.7m-.7-.2h.7m-.5-2.3h.7m-.7 1h.7m-.6 .3h.7m-.7 .2h.7m-.7-.9h.7m-.6 .8h.7m-.6-.6h.7m-.6 .6h.7m-.6-.5h.7m-.7 1h.7m-.7 .5h.7m-.3-2.5h.7m-.6 2.5h.7m-.1-1.5h.7m-.7-.7h.7m-.6 .8h.7m-.6-1.1h.7m-.5 1.9h.7m-.5-1.7h.7m-.6 .2h.7m-.7 2.3h.7m-.6-2.4h.7m-.2-.1h.7m-.2 2.6h.7m-.6-.6h.7m-.3-2.2h.7m-.7 0h.7m-.6 .9h.7m-.6 1.3h.7m-.7 .5h.7m-.4-.2h.7m-.6-.3h.7m-.4 .7h.7m-.6-2.4h.7m-.6 1.5h.7m-.7 .9h.7m-.3-2.3h.7m-.4-.1h.7m-.7-.4h.7m-.3 .2h.7m-.7 .1h.7m-.2 .1h.7m-.6 1.5h.7m-.6 .9h.7m-.2 0h.7m-.5-1.9h.7m-.4 .4h.7m-.6-1.2h.7m-.4 1.3h.7m-.7 .5h.7m.1-1.1h.7m-.7 .4h.7m-.4-.7h.7m-.7 .6h.7m-.6 .8h.7m-.2-1.8h.7m-.6 .3h.7m-.4 .9h.7m-.5 .6h.7m-.4-.7h.7m-.3 0h.7m-.4 1.3h.7m-.6-1.6h.7m-.6-.7h.7m-.6 2.3h.7m-.6-.7h.7m-.1 .8h.7m-.7-1.2h.7m-.5-.7h.7m-.4-.3h.7m.4 1.3h.7m-.3 0h.7m-.6 .1h.7m-.5 .6h.7m-.5-1.3h.7m-.2 .3h.7m-.6-.2h.7m-.6 1.6h.7m-.4-1.4h.7m.4-.6h.7m-.3-.7h.7m-.4 2.7h.7m.7 0h.7m-.7-.4h.7m-.2-.8h.7m.6-1.7h.7m1 2.5h.7m-.3-1h.7m6.8 .2h.7m7.5 .8h.7m4.5-2.3h.7m-70.8 3.5h.7m-.6 0h.7m2.3 .6h.7m.5 1.1h.7m-.6-.9h.7m-.2 .3h.7m1.2-.8h.7m-.5 .6h.7m-.2-.6h.7m.5-.6h.7m-.1-.3h.7m-.7 1.9h.7m-.7 0h.7m.7-1.8h.7m-.6 1.3h.7m-.7 .2h.7m.1 1.1h.7m-.2-1.4h.7m1.1-.6h.7m-.6 1.9h.7m-.6-1.4h.7m-.6-.7h.7m-.6-.6h.7m-.7 .3h.7m-.5 1.6h.7m-.5-.6h.7m-.1 .4h.7m-.2 .9h.7m-.5-1.9h.7m-.7-.2h.7m-.3-.5h.7m-.7 1.2h.7m-.3-.3h.7m-.6 .4h.7m-.7 .2h.7m-.6-.1h.7m-.2-.8h.7m-.6 1.4h.7m-.4 .8h.7m-.6-1.7h.7m.2-.8h.7m-.6 2.3h.7m-.4-.2h.7m-.6-.5h.7m-.7 .1h.7m-.6-1h.7m-.4 1.1h.7m-.5-.6h.7m-.7-1.5h.7m-.6 1.3h.7m-.7 .1h.7m-.3-.8h.7m-.5 0h.7m-.6-.1h.7m-.4 1.4h.7m-.4-1.2h.7m-.7 1.1h.7m-.6 1.1h.7m-.6-.5h.7m-.7-.5h.7m-.3-.3h.7m-.2-.9h.7m-.3 .6h.7m-.7 .1h.7m-.6 1.4h.7m-.5-2.3h.7m-.5 2h.7m-.6-1.4h.7m-.6 .9h.7m-.5-1.5h.7m-.7 .8h.7m-.6-.7h.7m-.5 1.3h.7m-.5 .2h.7m-.7-1.1h.7m-.6 .5h.7m-.3-1.1h.7m.2 .5h.7m-.3 .6h.7m-.6 .7h.7m-.7-1.5h.7m-.4 1.5h.7m-.7-2.2h.7m-.5 .7h.7m-.4 1.4h.7m-.6-1.3h.7m-.6 1.5h.7m-.5-1.9h.7m-.7 1.9h.7m-.6-2.3h.7m-.1 .5h.7m-.5 .5h.7m-.7 .3h.7m-.6-1.2h.7m-.7 2.1h.7m-.6-1.7h.7m-.5 2.2h.7m-.6-2h.7m-.7 2h.7m-.4 .1h.7m-.2-.5h.7m-.7-.4h.7m-.6 0h.7m-.6-.8h.7m.2-.3h.7m-.6 .9h.7m-.3 1.2h.7m-.2-.8h.7m-.5-1.7h.7m-.4 2h.7m-.6-.3h.7m-.7-1.9h.7m-.5 0h.7m-.6-.1h.7m-.5 2.1h.7m-.5 .5h.7m-.6-.1h.7m-.6-2.6h.7m-.3 1.1h.7m-.3 1.6h.7m-.2-1.2h.7m-.6 .9h.7m.4-2.1h.7m-.5 1.4h.7m-.4 .7h.7m-.7-.2h.7m-.5-1.7h.7m-.6 1.8h.7m-.7 .4h.7m0-1.7h.7m-.5 .7h.7m-.6 1.1h.7m-.5-1h.7m-.7 .4h.7m-.2-1.2h.7m1.4-.7h.7m-.5-.2h.7m.8 .9h.7m11.6-.6h.7m13.3 1.2h.7m1-.2h.7m.2 .4h.7m-.6-1.5h.7m-70.1 5.1h.7m-.1-.5h.7m.7-.4h.7m-.6 1.1h.7m-.2-.8h.7m.2 .4h.7m-.5 0h.7m0-.8h.7m-.6-.7h.7m-.2 .1h.7m-.5 .7h.7m-.4-.4h.7m.1-1h.7m-.4 1.4h.7m-.6-1.1h.7m-.7 1.1h.7m-.4-.1h.7m-.7-1h.7m.3 .9h.7m-.6 1.4h.7m1.3-1.7h.7m-.5-.4h.7m-.3-.2h.7m-.4 2h.7m-.4-1.1h.7m0-1h.7m-.5 .7h.7m-.3-.9h.7m-.6 2.1h.7m0 .3h.7m-.6-1.7h.7m-.5 1.1h.7m-.6-1.4h.7m-.5 1.3h.7m-.1 .7h.7m-.7-1.3h.7m-.6 .4h.7m-.3-.2h.7m-.5-.8h.7m-.7 0h.7m-.4-.4h.7m-.6 .4h.7m-.7 1.7h.7m-.4 .1h.7m-.6-1.3h.7m-.6 .1h.7m-.6 1.6h.7m-.3-2.1h.7m-.5 .5h.7m.1-.8h.7m-.7 .1h.7m-.3-.5h.7m-.4 .6h.7m-.5 .9h.7m-.7 1.4h.7m-.6-2.5h.7m-.1 1.3h.7m-.6-1.5h.7m-.6 2.3h.7m-.6-.4h.7m-.6-1.2h.7m-.7 0h.7m-.6 .5h.7m-.6-.2h.7m-.7-.7h.7m-.3 .5h.7m-.3 1.4h.7m-.4-.1h.7m-.7-1.5h.7m-.5 .3h.7m-.4 .6h.7m-.6-1.3h.7m-.4 1.3h.7m-.5-1.7h.7m-.5 1.2h.7m-.4-.8h.7m-.5 1.6h.7m-.7 .2h.7m-.7 .5h.7m-.6-.6h.7m-.6-1.1h.7m-.3-.7h.7m-.7 1.7h.7m-.6-1h.7m-.6 1.2h.7m-.7 .5h.7m-.5-2.6h.7m-.7 .2h.7m-.6 .4h.7m-.7 1.3h.7m-.5 .9h.7m-.7-.6h.7m-.7-.8h.7m-.4-.7h.7m-.5 2.1h.7m-.7-2h.7m-.6 .4h.7m-.7 .6h.7m-.7 0h.7m-.5 1h.7m-.7-2.2h.7m-.6 .4h.7m-.4 1h.7m-.5-1.5h.7m-.5 1.1h.7m-.4 .5h.7m-.6 .7h.7m-.5-.6h.7m-.7-2.2h.7m-.5 .6h.7m-.7-.6h.7m-.4 1.5h.7m-.6 .1h.7m-.7 .5h.7m-.7-1.9h.7m-.6 2.4h.7m-.3-.8h.7m-.4 .2h.7m-.5-1.7h.7m-.5 2h.7m-.5 .3h.7m-.6-1.3h.7m-.5-.8h.7m-.5-.1h.7m-.1-.3h.7m-.6 1.9h.7m-.5-1.9h.7m-.7 0h.7m-.6 2.7h.7m-.4-1.8h.7m-.6-.8h.7m-.7 1.7h.7m-.5-.5h.7m-.4-1.4h.7m-.6 1.8h.7m-.6-1.9h.7m-.7 1.7h.7m-.5-.8h.7m-.4 0h.7m-.6-.8h.7m-.2 .5h.7m.5 .5h.7m-.5-1h.7m-.5 2.7h.7m-.6-.1h.7m-.6-1.3h.7m-.7 .7h.7m.6-1.7h.7m-.2-.4h.7m-.6 2.6h.7m.1-1.8h.7m.3 1.8h.7m-.6-2.6h.7m.6 1.3h.7m-.4-.9h.7m0 .9h.7m-.3 .6h.7m-.5-1.6h.7m.4 1.8h.7m-.1-.7h.7m-.5-.6h.7m.7 .6h.7m-.2 .2h.7m.7 .7h.7m-.5 0h.7m2.2-1h.7m1.3 0h.7m4.6 .5h.7m9.2-1.1h.7m-69 3.4h.7m1.2 .2h.7m0 .3h.7m.3-1.3h.7m-.1 1.5h.7m-.6 .3h.7m-.7-1.5h.7m-.5-.1h.7m1.6 1.8h.7m.5-2.1h.7m-.2 .8h.7m1.5 1h.7m.5 .8h.7m-.5-.5h.7m-.4 .4h.7m0-1.1h.7m-.2 1.1h.7m-.6-1h.7m-.7-.6h.7m-.5 0h.7m-.4 1.5h.7m-.7-.3h.7m-.5-.4h.7m-.4-.5h.7m-.6-1.4h.7m-.6 0h.7m-.7 .5h.7m-.4-.3h.7m1.1 .8h.7m-.5 1.2h.7m-.6-.3h.7m-.4 .1h.7m-.6-1.5h.7m-.4 2h.7m-.6-.2h.7m-.5-.7h.7m-.6 .4h.7m-.5 .7h.7m0-.5h.7m-.7-1.1h.7m-.2 1.4h.7m-.3 .3h.7m-.6-1.1h.7m-.4 .2h.7m-.6-.2h.7m-.5 .2h.7m-.1-1.6h.7m-.7 .1h.7m-.6 1.9h.7m-.7-1.8h.7m-.7-.5h.7m-.3 1.3h.7m-.5-.7h.7m0 .1h.7m-.5 1.3h.7m-.5-.7h.7m-.6 .8h.7m-.4-1.6h.7m0 1.1h.7m-.5 1.2h.7m-.6-1.4h.7m-.7 1.4h.7m-.5-.7h.7m-.7-1.3h.7m-.6 1.5h.7m-.7-2h.7m-.6 .7h.7m-.7-1h.7m-.6 1.8h.7m-.6-1.6h.7m-.2 .7h.7m-.6 1.9h.7m-.6-.6h.7m-.5 .6h.7m-.5-2.8h.7m-.5 1.7h.7m.1 1.1h.7m-.6-2.4h.7m-.6 1h.7m-.6-1.4h.7m-.6 2.8h.7m-.6 .1h.7m-.6-1h.7m-.7 .9h.7m-.3-.9h.7m-.5-1.2h.7m.2 1.5h.7m.4-.9h.7m-.4-.8h.7m-.6-.2h.7m-.4-.1h.7m-.1 1h.7m-.1 .7h.7m-.7-1.3h.7m-.7 1.4h.7m-.3-.5h.7m-.5-.3h.7m-.7-.5h.7m-.6 .5h.7m-.1-1.1h.7m-.5 2.2h.7m-.2-2h.7m-.6-.2h.7m-.7 1h.7m-.4 1.8h.7m.6 0h.7m1.1-1.3h.7m.1 1.2h.7m.2-2.4h.7m-.5 1h.7m-.6-.3h.7m-.7 1.8h.7m-.6-1.6h.7m5.5 0h.7m1.8-.5h.7m1.7 .6h.7m.8 .1h.7m5.1-.5h.7m1.5 1.4h.7m1.3-1.5h.7m-64.9 2.8h.7m-.7 0h.7m.5-.5h.7m1.9 .6h.7m5.6-.3h.7m.4 1.2h.7m.2-1.2h.7m-.4 .6h.7m-.1-.6h.7m1.9 .3h.7m-.7 .8h.7m.4-1.1h.7m-.1 .4h.7m-.5-.7h.7m-.2 .3h.7m-.4-.4h.7m-.7 .1h.7m-.3 1.4h.7m-.1-.8h.7m-.7-.4h.7m-.7 .4h.7m-.4 0h.7m-.6 .1h.7m-.1 .4h.7m-.6-1.1h.7m-.4 .6h.7m-.4-.4h.7m-.2-.3h.7m-.7 .4h.7m.3 .2h.7m0 .3h.7m-.7 .2h.7m-.3 0h.7m-.3-.8h.7m-.6 1h.7m-.2 .2h.7m-.3-.2h.7m-.2-1.2h.7m-.6 .1h.7m-.1 .9h.7m-.6-.8h.7m-.6 1h.7m-.6 .3h.7m0-.9h.7m-.5-.2h.7m0-.3h.7m-.6 .1h.7m-.5 .8h.7m-.1-1.2h.7m.9 .3h.7m-.6 .1h.7m.1-.4h.7m-.2 .8h.7m-.2 .6h.7m-.7 0h.7m-.2 .3h.7m-.5-.9h.7m-.3 0h.7m.3-.7h.7m-.6 0h.7m-.3 .7h.7m-.2 .1h.7m-.2-.5h.7m.1 1.2h.7m-.5-1.3h.7m-.2 .1h.7m-.2 .5h.7m1.6 .4h.7m-.7-.7h.7m2.1 .5h.7m1.1-.8h.7m.7 1.4h.7m-.4-1.3h.7m2.8 .8h.7m1-.2h.7" stroke="#f01818" stroke-width="0.8" stroke-opacity="0.5" fill="none"/>
<ellipse cx="147" cy="282.4" rx="2.5" ry="2.2" transform="rotate(-60 147 282.4)" fill="#ff0a0a" filter="url(#bl)"/>
<ellipse cx="157.5" cy="311.5" rx="6.25" ry="4.75" transform="rotate(-65 157.5 311.5)" fill="#ff0a0a" filter="url(#bl)"/>
<path d="M143.9 274.8h.7m-.6 1.6h.7m-.7 2.3h.7m0-1.4h.7m0 .8h.7m-.1-1.5h.7m0 .6h.7m-.6 1.2h.7m-.6-1h.7m-.6-.2h.7m-.7 1h.7m-.2-.8h.7m-.7 1.2h.7m-.7 0h.7m-.7 .3h.7m-.2-1.8h.7m-.6 .5h.7m-.7 1.1h.7m-.5 .1h.7m-.4-.2h.7m-.4 .2h.7m-.6-.2h.7m-.6-.9h.7m-.7-1.6h.7m-.3 1.2h.7m-.5 0h.7m-.4 1.5h.7m-.5-.9h.7m-.2 1h.7m-.6-2.8h.7m-.7 1h.7m-.6 1.1h.7m-.4 .7h.7m-9.9 2.5h.7m-.7-.8h.7m-.5 .2h.7m-.4 .8h.7m-.5 .1h.7m-.2-.1h.7m-.6-.3h.7m-.7 .1h.7m-.6-.7h.7m-.6-1.2h.7m-.3 .9h.7m-.3-.2h.7m-.7-.4h.7m-.5 1h.7m-.7 .5h.7m-.4 .1h.7m-.6-.8h.7m-.7-1.2h.7m-.7 2.4h.7m-.4-1.9h.7m-.7 1.2h.7m-.6-.5h.7m-.7-1.2h.7m-.7-.2h.7m-.7 1.8h.7m-.6 .1h.7m-.7-.5h.7m-.7 0h.7m-.7 1.2h.7m-.5-.1h.7m-.6-1h.7m-.7-.6h.7m-.6 1.5h.7m-.7-1.4h.7m-.7 .5h.7m-.7 .2h.7m-.6-.2h.7m-.6 1.1h.7m-.7-2.2h.7m-.7-.6h.7m-.5 1.1h.7m-.7 .8h.7m-.7 .7h.7m-.7-.4h.7m-.7-1.9h.7m-.7 2.2h.7m-.6-1h.7m-.6 .5h.7m-.6 .5h.7m-.7-1.4h.7m-.6-.6h.7m-.7 1.4h.7m-.7 .1h.7m-.6-1.1h.7m-.7 2h.7m-.7-1.1h.7m-.6-1.6h.7m-.7-.2h.7m-.5 2.5h.7m-.7-1.2h.7m-.6 .4h.7m-.7-.2h.7m-.7 1.3h.7m-.7-2.2h.7m-.6 1.5h.7m-.7 .8h.7m-.7 0h.7m-.6-2.7h.7m-.6 1.2h.7m-.7 .5h.7m-.6 .7h.7m-.7-1.8h.7m-.6 .7h.7m-.7 1h.7m-.6-.3h.7m-.6-1.8h.7m-.7 2.4h.7m-.6-.2h.7m-.7-.3h.7m-.7-1.2h.7m-.7-.2h.7m-.6 1h.7m-.7 .7h.7m-.5-.1h.7m-.7-2.2h.7m-.6 .6h.7m-.7 1.3h.7m-.7-1.4h.7m-.6 1.7h.7m-.7-2.5h.7m-.6 .2h.7m-.5 .2h.7m-.6 0h.7m-.7 2h.7m-.7-1.3h.7m-.7 .3h.7m-.7 .2h.7m-.6 .9h.7m-.7 .3h.7m-.4-.5h.7m-.7 0h.7m-.7-.4h.7m-.6-.2h.7m-.7-1.2h.7m-.6 2.2h.7m-.7-.6h.7m-.6 .7h.7m-.7-.9h.7m-.7 .7h.7m-.6-1.6h.7m-.7 1.6h.7m-.7-1.8h.7m-.6 1.5h.7m-.7 .1h.7m-.4-.9h.7m-.7 .2h.7m-.7-.8h.7m-.6 1.6h.7m-.2-.8h.7m-.6 0h.7m-.6 .2h.7m-.6 .9h.7m-.4-.1h.7m-.4-.5h.7m-.4-2h.7m1 .9h.7m-12.9 3.8h.7m0-1h.7m-.6 0h.7m-.6 1h.7m-.4-.5h.7m-.6-1h.7m-.3 2.4h.7m-.3-1.7h.7m-.7-.9h.7m-.7 1.6h.7m-.6 1.1h.7m-.6-2.3h.7m-.6-.3h.7m-.7-.2h.7m-.6 1.2h.7m-.7-.7h.7m-.4 1.6h.7m-.7-.3h.7m-.7 1h.7m-.5-.1h.7m-.6-1.6h.7m-.6 .1h.7m-.4 0h.7m-.6-.7h.7m-.7 1.2h.7m-.7 .7h.7m-.7-.1h.7m-.6-1.8h.7m-.7 .6h.7m-.7-.5h.7m-.7 1.8h.7m-.6-.8h.7m-.7-.1h.7m-.6-.5h.7m-.6-.4h.7m-.7 1.3h.7m-.7-2h.7m-.7 .6h.7m-.6 1.1h.7m-.6 .5h.7m-.5 .2h.7m-.6-.5h.7m-.7-1.9h.7m-.7 2.3h.7m-.6-1.7h.7m-.7 1.5h.7m-.7 .3h.7m-.7-.9h.7m-.7-1.4h.7m-.5 .7h.7m-.7-.2h.7m-.7 .5h.7m-.6 .8h.7m-.7-.3h.7m-.6-.2h.7m-.7 .3h.7m-.7-.6h.7m-.6 .4h.7m-.7 1.2h.7m-.7-1.9h.7m-.7 .4h.7m-.6 1.4h.7m-.7-.9h.7m-.6-1.7h.7m-.7 1.2h.7m-.7 1.5h.7m-.7-1.7h.7m-.6-1h.7m-.6 1.8h.7m-.7-.5h.7m-.7 1.1h.7m-.6-1.4h.7m-.6 1.4h.7m-.7-2.3h.7m-.7 .8h.7m-.7 1.8h.7m-.7-1.5h.7m-.7 1.2h.7m-.6-.6h.7m-.7 .3h.7m-.6 .1h.7m-.6 0h.7m-.7 .5h.7m-.7-2.4h.7m-.6 1.1h.7m-.7-1h.7m-.6 .4h.7m-.7-.3h.7m-.7 1h.7m-.7-.9h.7m-.6 1.6h.7m-.7-1.6h.7m-.6 1.1h.7m-.7-1.5h.7m-.7 .6h.7m-.6 2h.7m-.7 0h.7m-.6-.9h.7m-.7-1.3h.7m-.7 .3h.7m-.7 1.4h.7m-.7-1.9h.7m-.6 0h.7m-.7 1.4h.7m-.7 0h.7m-.6-1.6h.7m-.7 .2h.7m-.7 .9h.7m-.7-1.1h.7m-.6 1.3h.7m-.7-.3h.7m-.7 0h.7m-.7 1.1h.7m-.6-.6h.7m-.6-1.1h.7m-.7 1.2h.7m-.6-1.4h.7m-.6 .3h.7m-.7 1h.7m-.7-.1h.7m-.6 1h.7m-.7-1.1h.7m-.6-.2h.7m-.7 .6h.7m-.7-1.4h.7m-.7 .4h.7m-.6 1.1h.7m-.7-1h.7m-.6-1h.7m-.6 1.5h.7m-.6-.4h.7m-.6 1.1h.7m-.7-.5h.7m-.7-1.2h.7m-.7 2.3h.7m-.7-1.1h.7m-.6 .8h.7m-.6-2.2h.7m-.7-.3h.7m-.6 .3h.7m-.7 2.1h.7m-.6 .1h.7m-.7-.4h.7m-.6-1.2h.7m-.7 .8h.7m-.6-.8h.7m-.6 1.7h.7m-.7-1.2h.7m-.7 1.4h.7m-.7-2.6h.7m-.6 2.4h.7m-.7 .1h.7m-.6-2.1h.7m-.5 1.8h.7m-.7-1.3h.7m-.6 1h.7m-.5-1.8h.7m-.2 .7h.7m0-.9h.7m-.2 .2h.7m-.6 1.5h.7m0 1h.7m9.5-.9h.7m1.4 .7h.7m.2-.9h.7m.5 .2h.7m.8 .4h.7m-28.2 1.3h.7m.7 1.3h.7m-.5-.4h.7m-.1-.4h.7m-.4 .3h.7m-.3 1h.7m-.3-.5h.7m-.5 .4h.7m-.5-2.3h.7m-.6 .5h.7m-.6-.5h.7m-.6 1.2h.7m-.7 .3h.7m-.4-.8h.7m-.4-.6h.7m-.7 .1h.7m-.6 .9h.7m-.6 .1h.7m-.7 .5h.7m-.6-1.5h.7m-.5 .3h.7m-.7 2.2h.7m-.6-1.8h.7m-.7-.4h.7m-.7 2.2h.7m-.6-1.9h.7m-.5 .3h.7m-.6-.6h.7m-.6-.2h.7m-.7 1.3h.7m-.7-.1h.7m-.7-.5h.7m-.5 .6h.7m-.6 .1h.7m-.5-.8h.7m-.6 1.5h.7m-.7-2.4h.7m-.6 1.7h.7m-.7-1h.7m-.6-.1h.7m-.7-.6h.7m-.6 1.7h.7m-.5-1.7h.7m-.4 .5h.7m-.5 .3h.7m-.7-.4h.7m-.6 2.2h.7m-.2-.6h.7m-.7-.6h.7m-.4 0h.7m-.5-.9h.7m-.5 1.9h.7m-.4-1.8h.7m15.9 1.4h.7m-.3-1.3h.7m-.4 .2h.7m-.4 .5h.7m-.7-.5h.7m-.6 .9h.7m-.3 .7h.7m-.4-.6h.7m-.5 1h.7m1.6-1.3h.7m-30 1.4h.7m.8 .3h.7m1.6-.3h.7m.1 .9h.7m-.1 1.3h.7m-.7-1.1h.7m.7 .1h.7m-.1-.7h.7m-.5 .1h.7m-.2 .7h.7m.6 .8h.7m.2 .1h.7m12.5-1.9h.7m.3 .1h.7m.5 .2h.7m-.3-.5h.7m5.6 1.5h.7m-30.9 3.3h.7m1.6-1h.7m-.5-.2h.7m-.7 1.9h.7m-.5 .1h.7m.2-.6h.7m-.7 .7h.7m-.3-.2h.7m-.7-.3h.7m-.5-.1h.7m-.6 .3h.7m.2-1.7h.7m-.6-.2h.7m-.5 1.2h.7m-.4 .3h.7m-.6-.5h.7m-.5 .4h.7m-.7 0h.7m.5-1.3h.7m-.4 .2h.7m-.7 1.2h.7m-.6 .3h.7m-.5 .4h.7m.4-.3h.7m-.4-1.9h.7m-.1 .6h.7m-.6-.7h.7m.2 1.6h.7m-12.8 1.7h.7m.5 .3h.7m-.4-.3h.7m0 .7h.7m-.5 .5h.7m-.7-1.2h.7m-.6-.5h.7m-.3 .5h.7m-.4 .9h.7m-.4 1.2h.7m-.2-2.5h.7m-.5 .2h.7m-.6 .3h.7m-.6 1.4h.7m-.4-.6h.7m-.3 1h.7m-.4-.2h.7m-.7 .1h.7m-.3-1.5h.7m-.6-1h.7m-.6 1.9h.7m-.2 .4h.7m-.6 0h.7m-.5 .4h.7m-.6 .1h.7m-.6-2.9h.7m-.7 2.2h.7m-.5-1.9h.7m-.6 1.9h.7m-.4-.3h.7m-.7-.8h.7m-.7 1.8h.7m-.3-.2h.7m-.6 .2h.7m-.6-1.4h.7m-.6 .6h.7m-.7-.9h.7m-.7-1h.7m-.6 1.6h.7m-.7-.7h.7m-.5 .4h.7m-.6 1.4h.7m-.6-.4h.7m-.7-.7h.7m.4 .3h.7m-.7-.5h.7m-.2-1.3h.7m-.7 2.4h.7m-.6-2.6h.7m-.7-.1h.7m-.4 1.7h.7m-.6-.2h.7m-.6 1.3h.7m-.4-.2h.7m-.7-2.4h.7m-.4 .2h.7m-.5 .8h.7m-.5 1.2h.7m-.2-.2h.7m-.6-2.2h.7m-.2 2.7h.7m-.2-1h.7m-.4 1.1h.7m.2-1.4h.7m1.2 .2h.7m-.2 .8h.7m-.4 .5h.7m1.5-.2h.7m0-.7h.7m3.9-.2h.7m.5 1.1h.7m-26.7 .5h.7m-.2 2.1h.7m-.2-.2h.7m.6-1.4h.7m.5-.5h.7m-.3 .5h.7m-.4-.4h.7m0 .7h.7m-.1-.7h.7m-.6 1.9h.7m-.6-1h.7m-.6-.2h.7m-.6-1h.7m-.4 2.5h.7m-.6-2.5h.7m-.7 2.3h.7m-.6-1.2h.7m-.7 .5h.7m-.7-.3h.7m-.6-.7h.7m-.7 1.5h.7m-.5-2.1h.7m-.6 .4h.7m-.7 1.3h.7m-.4-.3h.7m-.5-.2h.7m-.3 1.1h.7m-.5-2h.7m-.6 .3h.7m-.7 .2h.7m-.5 .6h.7m-.6-1.6h.7m-.5 1.9h.7m-.2-1.9h.7m-.7 2.3h.7m-.4-.1h.7m-.6-.4h.7m-.5-.6h.7m-.3-.2h.7m-.7 1.2h.7m-.6 .7h.7m-.6-.6h.7m-.7-2.3h.7m-.5 .6h.7m-.3 1.2h.7m-.7-1.7h.7m-.4 1.7h.7m-.5 .5h.7m-.7-.6h.7m-.4 .2h.7m-.6-.4h.7m.1 1.1h.7m-.5-.2h.7m-.4-.2h.7m-.2 .1h.7m-.3 .2h.7m-.2-.7h.7m-.6 .9h.7m.7-.3h.7m-.6-.4h.7m-.7-.5h.7m-.2 1.4h.7m-.7-2.9h.7m-.6 2.9h.7m.2-.3h.7m-.5-.9h.7m-.6-.3h.7m-.7-.4h.7m-.6 .5h.7m-.6 .5h.7m-.7-.5h.7m-.6 1.1h.7m-.7-.4h.7m-.5-2.1h.7m.1 .6h.7m-.5-.3h.7m-.5 2.2h.7m-.2 0h.7m.3 .3h.7m-.4-.7h.7m-.6-1.4h.7m-.3 1.5h.7m-.5 .1h.7m-.4-.7h.7m-.1 1.2h.7m-.7-1.3h.7m-.6-1.2h.7m-.3 1.1h.7m-.1 .5h.7m.2 0h.7m-.6-1.9h.7m.1 2.5h.7m-.1-.6h.7m-.4 .8h.7m-.2-1.3h.7m-27.6 4.2h.7m-.4-1.7h.7m1.2 1.7h.7m.6-1.5h.7m-.2 .7h.7m-.2-.9h.7m-.3-.7h.7m-.6 .7h.7m-.5 .9h.7m.6 .3h.7m.4-2h.7m-.5 .4h.7m.1 1.5h.7m-.1-.7h.7m-.5 .5h.7m-.6 .1h.7m-.5 .8h.7m-.6-2.4h.7m-.7 0h.7m-.5 1.4h.7m-.6-.5h.7m-.5 1.6h.7m-.6-1.5h.7m-.6 .6h.7m-.7-.5h.7m-.6 .8h.7m-.5-.1h.7m-.6-.8h.7m-.5 .5h.7m-.2 0h.7m-.6-.3h.7m-.2-.8h.7m-.6 1.1h.7m-.5-.9h.7m0 1.9h.7m-.6-1.3h.7m-.6-.2h.7m-.6-.3h.7m-.6 1.3h.7m-.5 .3h.7m-.6-2.1h.7m-.3 1.2h.7m-.6-.1h.7m-.7-.8h.7m-.7 1.9h.7m-.5-2.7h.7m-.7 2.6h.7m-.5-1.3h.7m-.6 .6h.7m-.6 .8h.7m-.6-1.6h.7m-.6 .7h.7m-.7-.6h.7m-.7-1h.7m-.6-.1h.7m-.6 1.6h.7m-.7-1.3h.7m-.6 2.4h.7m-.6-1.3h.7m-.7-.5h.7m-.7-.8h.7m-.6 1.7h.7m-.7-.7h.7m-.5-1.1h.7m-.7 1.9h.7m-.7-1.2h.7m-.6 1.1h.7m-.6-.7h.7m-.7 1.3h.7m-.6 .3h.7m-.7-.3h.7m-.4-.1h.7m-.6-1.9h.7m-.7 1h.7m-.5-1h.7m-.7 1.3h.7m-.5-.5h.7m-.6 .5h.7m-.6 .1h.7m-.6-1.2h.7m-.6 .2h.7m-.7 1h.7m-.6 .4h.7m-.5 .5h.7m-.7-1.9h.7m-.7 .3h.7m-.5-.7h.7m-.6 2h.7m-.7 .2h.7m-.6-.8h.7m-.6-1.6h.7m-.7 1.8h.7m-.7-.8h.7m-.6 .7h.7m-.6-1h.7m-.6-.6h.7m-.7 2.3h.7m-.7-1.1h.7m-.5 .2h.7m-.6-1.6h.7m-.7 1h.7m-.5 .5h.7m-.6-1.2h.7m-.7 .1h.7m-.7 2h.7m-.7-.7h.7m-.6 0h.7m-.7-.1h.7m-.6-1.7h.7m-.6 1.8h.7m-.6-1.1h.7m-.7 1h.7m-.6 .7h.7m-.6-.7h.7m-.7-.4h.7m-.6 .3h.7m-.7-.2h.7m-.6 .8h.7m-.6 .2h.7m-.7-1.1h.7m-.7-.5h.7m-.6 .1h.7m-.7 .5h.7m-.6-.2h.7m-.7 1.5h.7m-.6-1.5h.7m-.7-.4h.7m-.6 .6h.7m-.6 .7h.7m-.7 .1h.7m-.5-1.2h.7m-.7 .7h.7m-.5 .7h.7m-.5-1.1h.7m-.7-.9h.7m-.7 2.3h.7m-.6-.7h.7m-.7-.1h.7m-.7-1.8h.7m-.6 .9h.7m-.6 1.4h.7m-.6-1.3h.7m-.7 .3h.7m-.6-.7h.7m-.7 .3h.7m-.5 .9h.7m-.4-.7h.7m-.6 .4h.7m-.7-.4h.7m-.7 1.2h.7m-.6 .3h.7m-.6-.2h.7m-.5-2.2h.7m-.6-.1h.7m-.7 .8h.7m-.6 .8h.7m-.6 .8h.7m-.3-1.1h.7m-.7-1h.7m-.7 .9h.7m-.5 .2h.7m-.6-.1h.7m-.5 .5h.7m-.7-1.4h.7m-.6 2.1h.7m-.5-2h.7m-.5 1.6h.7m-.6 .4h.7m-.6-.1h.7m-.3-.1h.7m-.7-1h.7m-.6 1.1h.7m.3-.6h.7m.5-1h.7m-.5 1.2h.7m-.6-2.1h.7m.1 .1h.7m0 .9h.7m-28.5 3.3h.7m-.1 .3h.7m-.6 .4h.7m.6-.7h.7m0-.5h.7m.2-.1h.7m-.7 1.8h.7m-.6-1.6h.7m0 1h.7m-.4-1.5h.7m-.1 .4h.7m-.4 1.7h.7m.1-2.7h.7m-.7-.1h.7m-.5 2.2h.7m-.7-.9h.7m-.5-.2h.7m-.7 .4h.7m-.6-.5h.7m-.2 .4h.7m-.6-.1h.7m-.3 .2h.7m-.6 1.2h.7m-.7-.1h.7m-.6-.1h.7m-.6-1.1h.7m-.6 1.5h.7m-.6-2.8h.7m-.5 1.6h.7m-.7-.5h.7m-.6-1.2h.7m-.6 1.1h.7m-.3 1.4h.7m-.6-.4h.7m-.6-.2h.7m-.7 .3h.7m-.6-1.1h.7m-.7-1.1h.7m-.6 .2h.7m-.5 1.7h.7m-.6-.6h.7m-.7-1.2h.7m-.7 0h.7m-.5 .3h.7m-.4 1.4h.7m-.7-1.8h.7m-.6 1.3h.7m-.6-.5h.7m-.5 .9h.7m-.5 .3h.7m-.6-.4h.7m-.7 .6h.7m-.7-.1h.7m-.5 0h.7m-.7-1.8h.7m-.6 2.2h.7m-.7-2.4h.7m-.7 .5h.7m-.6 .9h.7m-.7-1.2h.7m-.5 1.6h.7m-.7 .4h.7m-.6 .1h.7m-.7 .5h.7m-.7-2.1h.7m-.7 1.1h.7m-.6 .5h.7m-.6-2.1h.7m-.7 .7h.7m-.6 1.7h.7m-.6-1.9h.7m-.7 .2h.7m-.5 .9h.7m-.6-.9h.7m-.7-.7h.7m-.6 2h.7m-.6-2h.7m-.6 2.2h.7m-.7-1.9h.7m-.7 0h.7m-.6 0h.7m-.6 1.8h.7m-.6-2.2h.7m-.7 2.3h.7m-.7 0h.7m-.7 .4h.7m-.6-1.5h.7m-.7-.4h.7m-.6 1.3h.7m-.6 .4h.7m-.7-.7h.7m-.7-1h.7m-.6-.5h.7m-.7 1.5h.7m-.7 .7h.7m-.7 .1h.7m-.7-.2h.7m-.6-1.3h.7m-.6 1.5h.7m-.7-1.5h.7m-.6 .4h.7m-.7-.6h.7m-.7 1.7h.7m-.7-1.2h.7m-.7 .8h.7m-.6-1.4h.7m-.7 .3h.7m-.7 .2h.7m-.7 1.2h.7m-.6-2.6h.7m-.6 1.1h.7m-.7 .9h.7m-.7-1.5h.7m-.7 1.7h.7m-.5-.8h.7m-.7 .2h.7m-.6 0h.7m-.7 .3h.7m-.7 .2h.7m-.7-.5h.7m-.7-.4h.7m-.6 .2h.7m-.7 .3h.7m-.7 1.1h.7m-.6-2.7h.7m-.7 2.2h.7m-.6 .1h.7m-.7-1.8h.7m-.7 .3h.7m-.6 1.7h.7m-.7-.4h.7m-.7-.4h.7m-.6 .7h.7m-.7 0h.7m-.7-2.3h.7m-.6 1.9h.7m-.6-2.1h.7m-.7 1h.7m-.6 1.1h.7m-.7-.1h.7m-.6 .1h.7m-.7-.4h.7m-.6-1.3h.7m-.7 2.3h.7m-.6-2.4h.7m-.7 .6h.7m-.7 .6h.7m-.7 .3h.7m-.6-.7h.7m-.7 1.3h.7m-.6-.6h.7m-.7-1.7h.7m-.5 1.3h.7m-.7-.2h.7m-.7-.8h.7m-.6 0h.7m-.7 2.4h.7m-.7-1.2h.7m-.7-.9h.7m-.7 0h.7m-.7 1.2h.7m-.7-1.9h.7m-.6 1.3h.7m-.6 1.5h.7m-.6-.1h.7m-.7-1.8h.7m-.7 1.9h.7m-.6-.6h.7m-.5-1.7h.7m-.6 1.2h.7m-.7-1.4h.7m-.6 1.5h.7m-.7-.8h.7m-.6-1.1h.7m-.6 2.8h.7m-.6-.5h.7m-.7-2.1h.7m-.7 .1h.7m-.5 .1h.7m-.5 .3h.7m-.7 1.3h.7m-.7 .1h.7m-.7-.4h.7m-.6-1h.7m-.6 1.3h.7m-.7-.9h.7m-.7-.7h.7m-.6 1.4h.7m-.7-.9h.7m-.7 2h.7m-.7-.1h.7m-.7-1.4h.7m-.6-.4h.7m-.6-.7h.7m-.7 2h.7m-.7-.7h.7m-.5 .5h.7m-.7 .7h.7m-.6-1.6h.7m-.6-.3h.7m-.7 1.6h.7m-.6-2h.7m-.6-.4h.7m-.7 2.4h.7m-.7-1.2h.7m-.7 .8h.7m-.6-1.1h.7m-.7-1h.7m-.6 2.5h.7m-.7-.2h.7m-.7-1.4h.7m-.6-.9h.7m-.7 .9h.7m-.7-.7h.7m-.6 1.7h.7m-.7-1h.7m-.7 .3h.7m-.6 .1h.7m-.7 1.3h.7m-.7-2h.7m-.6 0h.7m-.7 1.5h.7m-.7-1.8h.7m-.6 .7h.7m-.7 .8h.7m-.7 .8h.7m-.7-.5h.7m-.7 .8h.7m-.7-.1h.7m-.7-2h.7m-.6 1.1h.7m-.7-.6h.7m-.6 .2h.7m-.6-1.3h.7m-.5 .7h.7m-.6 .4h.7m-.7-.4h.7m-.6-.2h.7m-.7-.4h.7m-.6 1.2h.7m-.7 .7h.7m-.7-1.9h.7m-.6 .1h.7m-.7 1.6h.7m-.7-1h.7m-.6 .1h.7m-.7 1.5h.7m-.7-.5h.7m-.5 .1h.7m-.7-1.6h.7m-.6-.6h.7m-.6 2.3h.7m-.7-2.1h.7m-.6 1.7h.7m-.7-1.2h.7m-.6 .8h.7m-.7 .8h.7m-.2-1.3h.7m-.7 1.4h.7m-.6 .4h.7m-.6-.6h.7m-.6-.8h.7m-.5-.4h.7m-.7-.2h.7m-.7 1.4h.7m-.6-.5h.7m-.7 .9h.7m-.6 0h.7m-.7-2h.7m-.7 2.2h.7m-.6-2.8h.7m-.7 1.4h.7m-.6-.8h.7m-.7 .4h.7m-.7 0h.7m-.6 .4h.7m-.5 .8h.7m-.6-.9h.7m-.4-.6h.7m-.5-.7h.7m0 1.6h.7m-.5 .3h.7m-.5-1.4h.7m-.2 2.4h.7m-.7-.6h.7m1.5 .5h.7m5.2-2.5h.7m-32.7 4.8h.7m1.5 .4h.7m-.5-.1h.7m-.2 .4h.7m-.4-1.4h.7m-.3-.7h.7m-.6 1.6h.7m-.7-.5h.7m-.6-1h.7m-.7 .5h.7m-.4 0h.7m-.6 1.1h.7m-.7-1h.7m-.7 1.1h.7m-.4-1.3h.7m-.4 .7h.7m-.7-.3h.7m-.4 .9h.7m-.7-.6h.7m-.6 .1h.7m-.6-.7h.7m-.7-.1h.7m-.5-.9h.7m-.7 .6h.7m-.7 .8h.7m-.6 .2h.7m-.4 .6h.7m-.7-.9h.7m-.6 .9h.7m-.7 0h.7m-.5-2.4h.7m-.5 2.3h.7m-.6 .4h.7m-.6-1h.7m-.7-.2h.7m-.4-.2h.7m-.6-.4h.7m-.7-.9h.7m-.6 2.7h.7m-.7-1.2h.7m-.7-1.3h.7m-.7 1h.7m-.7 1.3h.7m-.5 .2h.7m-.5-.6h.7m-.6-2h.7m-.7 .8h.7m-.7 1.3h.7m-.7-.8h.7m-.6-1.3h.7m-.6 1.4h.7m-.6-1.1h.7m-.6 .8h.7m-.7 1.3h.7m-.6-.5h.7m-.7-1.2h.7m-.7-.9h.7m-.6 1.3h.7m-.7 1.1h.7m-.6-1.4h.7m-.7 1.5h.7m-.7-1.8h.7m-.6 0h.7m-.6 1.4h.7m-.7-.7h.7m-.7 .5h.7m-.6 .9h.7m-.7-2h.7m-.7 2.1h.7m-.7-1.1h.7m-.7 .6h.7m-.6-.5h.7m-.7-1.2h.7m-.6 1.5h.7m-.6-1.8h.7m-.7 1.1h.7m-.7-1.4h.7m-.6 1.8h.7m-.7 .3h.7m-.6-.5h.7m-.7-.5h.7m-.7-.6h.7m-.6 .4h.7m-.7-.1h.7m-.7-.7h.7m-.7 .5h.7m-.6 .1h.7m-.7 2.1h.7m-.6-2.3h.7m-.7-.2h.7m-.6 2.2h.7m-.7-.3h.7m-.6-1.3h.7m-.7 0h.7m-.7 0h.7m-.6 .9h.7m-.7 .3h.7m-.7-1.6h.7m-.6 2.3h.7m-.7-1h.7m-.7-.3h.7m-.6 .9h.7m-.7-.7h.7m-.7 .3h.7m-.7-1.8h.7m-.6 1.1h.7m-.7 1.3h.7m-.6-.6h.7m-.7 .3h.7m-.6-1.6h.7m-.7 .9h.7m-.7 .1h.7m-.7 .4h.7m-.6 .2h.7m-.7-1.9h.7m-.7 .1h.7m-.7-.2h.7m-.7 .2h.7m-.6 1.3h.7m-.7-.9h.7m-.6 .1h.7m-.7 1.8h.7m-.6-2.3h.7m-.7 2.3h.7m-.7-.2h.7m-.6-.2h.7m-.7-1.8h.7m-.6-.2h.7m-.7 2.2h.7m-.7-1h.7m-.7-.5h.7m-.7 0h.7m-.7-.2h.7m-.6 1.5h.7m-.7-.8h.7m-.7 .7h.7m-.7 .1h.7m-.6-.4h.7m-.6-.9h.7m-.7 .7h.7m-.7 .4h.7m-.6-1.7h.7m-.7-.2h.7m-.7 .7h.7m-.6 .2h.7m-.7-.5h.7m-.7 1.1h.7m-.7 0h.7m-.7-1.1h.7m-.6 .6h.7m-.7-.1h.7m-.7-.8h.7m-.6-.4h.7m-.7 2.5h.7m-.7-.4h.7m-.7-.9h.7m-.7 1.2h.7m-.7-.1h.7m-.7-1.2h.7m-.7 1.5h.7m-.6-.5h.7m-.7-1.6h.7m-.7 .3h.7m-.7 1.4h.7m-.7-.2h.7m-.7-.7h.7m-.6-1.1h.7m-.7 2.1h.7m-.7-1.8h.7m-.6-.1h.7m-.7 0h.7m-.7 2.1h.7m-.6-1h.7m-.7-.8h.7m-.7 1.3h.7m-.7 .7h.7m-.7-2.1h.7m-.6-.3h.7m-.7 2.2h.7m-.7 .1h.7m-.7-1.8h.7m-.6-.6h.7m-.7 .8h.7m-.7-.5h.7m-.6 .3h.7m-.7 1.6h.7m-.7-.3h.7m-.7-2.2h.7m-.6 2.5h.7m-.7-2.3h.7m-.7 2.6h.7m-.5-.5h.7m-.7 .3h.7m-.7-1h.7m-.6 .8h.7m-.7-.9h.7m-.7 .9h.7m-.7-.3h.7m-.6-1.3h.7m-.7-.7h.7m-.6 2.1h.7m-.7 .4h.7m-.7-.8h.7m-.6 .2h.7m-.7 .7h.7m-.6-1.6h.7m-.6-.6h.7m-.7 2.3h.7m-.6-1.6h.7m-.7 1.1h.7m-.6-1.4h.7m-.7 .4h.7m-.7 .7h.7m-.7-1.2h.7m-.7 .4h.7m-.6-.5h.7m-.7 .5h.7m-.7-.8h.7m-.7 .6h.7m-.6 .3h.7m-.7-.3h.7m-.6 1.2h.7m-.7-1.8h.7m-.7 .1h.7m-.7-.1h.7m-.7 1.1h.7m-.7-.9h.7m-.6 2.3h.7m-.7-.1h.7m-.7-1.8h.7m-.5 1.1h.7m-.7-1.3h.7m-.6-.1h.7m-.7 0h.7m-.7 .2h.7m-.6 .3h.7m-.7 .1h.7m-.7 1.2h.7m-.7-1.2h.7m-.7-.9h.7m-.6 1.4h.7m-.7-1.3h.7m-.7 1.3h.7m-.7 .9h.7m-.6-1.2h.7m-.7-1.3h.7m-.7 .2h.7m-.6 0h.7m-.7-.1h.7m-.6 .1h.7m-.6-.3h.7m-.6 .2h.7m-.7 0h.7m-.7 2.2h.7m-.7-1.5h.7m-.6 .1h.7m-.6 .6h.7m-.7 1.1h.7m-.7-.8h.7m-.7-.5h.7m-.4-1.2h.7m-.7 0h.7m-.6 1.6h.7m-.7-1.1h.7m-.7 .9h.7m-.6 .2h.7m-.7-.8h.7m-.5 .6h.7m-.7-.1h.7m-.7 1.3h.7m-.7-2.4h.7m-.7-.1h.7m-.7 .8h.7m-.5 1.2h.7m-.7-1.9h.7m-.7-.2h.7m-.6 1.7h.7m-.7-.7h.7m-.7 .1h.7m-.7-.5h.7m-.6 .5h.7m-.7-1.1h.7m-.7-.3h.7m-.7 1.6h.7m-.7 .6h.7m-.7-2.1h.7m-.6 1.5h.7m-.7-.2h.7m-.7-.6h.7m-.7-.2h.7m-.7 .5h.7m-.6-.8h.7m-.7 1.3h.7m-.7-.9h.7m-.7 .4h.7m-.7 1.2h.7m-.6-1.1h.7m-.7 1.2h.7m-.7-.8h.7m-.7-1.6h.7m-.7 1.9h.7m-.6 .1h.7m-.7-2h.7m-.6 2.4h.7m-.7-1.5h.7m-.7-.6h.7m-.6 1.9h.7m-.7 0h.7m-.7 .3h.7m-.7-2.1h.7m-.5 2.5h.7m-.6-2.8h.7m-.7 1.1h.7m-.6 .3h.7m-.7 .8h.7m-.7-1.4h.7m-.6 .1h.7m-.7 1h.7m-.6 .8h.7m-.7-.6h.7m-.7-1.2h.7m-.7-.6h.7m-.6 .6h.7m-.7 1.3h.7m-.7-1.4h.7m-.6 1.7h.7m-.7-1.1h.7m-.7-1.1h.7m-.6 1.7h.7m-.6-.2h.7m-.7-1.5h.7m-.7 2.3h.7m-.7-2.6h.7m-.6 1.5h.7m-.7-.6h.7m-.7 .5h.7m-.6 .3h.7m-.7-1.8h.7m-.5 1.5h.7m-.7 .1h.7m-.7 .6h.7m-.6-1.4h.7m-.7 1.9h.7m-.7-.3h.7m-.6-.3h.7m-.6-1.4h.7m-.7-.3h.7m-.7 1.9h.7m-.6 .5h.7m-.6-.9h.7m-.6-1.8h.7m-.5 2.6h.7m-.7-2.1h.7m-.5 .2h.7m-.5 .4h.7m-.7 1.7h.7m-.6-.3h.7m-.5-1.9h.7m-.7 1.1h.7m-.5 .6h.7m-.7-.3h.7m-.7 .1h.7m-.6-.7h.7m-.7-.7h.7m-.6 1.9h.7m-.7-.6h.7m-.6 .7h.7m-.7-.7h.7m-.6-1.5h.7m-.6 2.1h.7m-.7-.5h.7m-.4 .7h.7m-.7-2.9h.7m-.6 1.3h.7m-.7-1.3h.7m-.7 2.6h.7m-.6-2.6h.7m-.6 1.4h.7m-.5 .2h.7m-.5-1.3h.7m-.6 1.3h.7m-.3-.7h.7m-.5-.8h.7m-.3 2h.7m-.7-.8h.7m-.7 1.3h.7m-.6 .1h.7m-.5-1.1h.7m-.5 .7h.7m-.7-.5h.7m0 .7h.7m-.5-1.3h.7m-.6-.3h.7m.5-.3h.7m-.4-.6h.7m.5 2h.7m.2-1h.7m2.7 .1h.7m-36.1 3.6h.7m.2-.4h.7m2.7 .7h.7m-.6-.9h.7m-.2 .9h.7m-.5 .9h.7m-.3-2.8h.7m-.6 1.6h.7m-.4 .2h.7m-.5-1.6h.7m-.5 .6h.7m-.7-.3h.7m-.6 .9h.7m-.3 .5h.7m.1-.2h.7m-.6-.2h.7m-.3-.8h.7m-.5 1h.7m-.5 .4h.7m-.7 .2h.7m-.6-.4h.7m-.7-.7h.7m-.5-1h.7m-.6 2.3h.7m-.6-.9h.7m-.6-.3h.7m-.5-.9h.7m-.7 1.1h.7m-.7 1h.7m-.5 .3h.7m-.7-2.3h.7m-.7 2.1h.7m-.6-2h.7m-.7 1.2h.7m-.7-1.2h.7m-.6-.1h.7m-.7 0h.7m-.6-.4h.7m-.7 .7h.7m-.7 1.5h.7m-.5-.8h.7m-.6 .7h.7m-.7-1.9h.7m-.6-.2h.7m-.6-.1h.7m-.6 1.1h.7m-.7-.8h.7m-.6 .5h.7m-.6 .2h.7m-.6 .9h.7m-.7 .3h.7m-.6-2.3h.7m-.7 1.4h.7m-.7 1.3h.7m-.6-.4h.7m-.6-.7h.7m-.7 0h.7m-.7-1.2h.7m-.6-.3h.7m-.7 .1h.7m-.7 2.3h.7m-.7-1.7h.7m-.6 1.9h.7m-.7-2.6h.7m-.7 2.3h.7m-.7-.7h.7m-.7 .6h.7m-.7-1.5h.7m-.6 .6h.7m-.6 .3h.7m-.6-.3h.7m-.6-1.3h.7m-.6 .6h.7m-.7 1.2h.7m-.6-.3h.7m-.7-.8h.7m-.7 1.1h.7m-.7 .1h.7m-.7 .5h.7m-.6-1.5h.7m-.7 1.8h.7m-.7-1.5h.7m-.5-.4h.7m-.7 1.6h.7m-.7-2.1h.7m-.6 .3h.7m-.7 .1h.7m-.7 .4h.7m-.7-1h.7m-.7 .8h.7m-.7 1.1h.7m-.6-1.2h.7m-.6 1.9h.7m-.7-1.4h.7m-.7 .7h.7m-.6-2.1h.7m-.7 1.4h.7m-.7-1.2h.7m-.6 .8h.7m-.6 1.1h.7m-.7-1.2h.7m-.7 .3h.7m-.6-.9h.7m-.7 1.5h.7m-.6 .8h.7m-.7-2h.7m-.7-.6h.7m-.6 1.6h.7m-.7 .4h.7m-.7-1h.7m-.6 1.3h.7m-.7-1.4h.7m-.7-.5h.7m-.6 .5h.7m-.7 1.2h.7m-.7-.9h.7m-.7-.4h.7m-.7 1.8h.7m-.6-.4h.7m-.7-1.2h.7m-.7-1h.7m-.6 1.1h.7m-.7-1.1h.7m-.7 2.9h.7m-.7-.7h.7m-.7-1.6h.7m-.6 1.5h.7m-.7 .7h.7m-.7-1.9h.7m-.7 .5h.7m-.6-.6h.7m-.7 .4h.7m-.7 .9h.7m-.6-1.4h.7m-.7 .4h.7m-.7 1.2h.7m-.7-1.1h.7m-.6 .3h.7m-.7 .3h.7m-.7-1.7h.7m-.6 .5h.7m-.7 1.3h.7m-.7-1.5h.7m-.7 1.3h.7m-.7-1.2h.7m-.5 2h.7m-.7-2.3h.7m-.7 1.8h.7m-.6 .7h.7m-.7 .2h.7m-.7-.4h.7m-.7-2.1h.7m-.6 2.1h.7m-.6-1.4h.7m-.7 .2h.7m-.7-.6h.7m-.7 1.2h.7m-.6-.8h.7m-.7-.7h.7m-.6 2.4h.7m-.7-.1h.7m-.6 .2h.7m-.7-1.5h.7m-.7-.4h.7m-.6-.9h.7m-.7 2.8h.7m-.7-1.8h.7m-.6-.5h.7m-.7 2.3h.7m-.6-.8h.7m-.7-.6h.7m-.7 .1h.7m-.6-1.4h.7m-.7 2.7h.7m-.7-.4h.7m-.6-.9h.7m-.7-.7h.7m-.7 1.3h.7m-.6-.5h.7m-.7-.4h.7m-.7-.1h.7m-.7-.5h.7m-.7 .5h.7m-.6 .8h.7m-.7 .2h.7m-.6 0h.7m-.7-1h.7m-.7 1.2h.7m-.7 .1h.7m-.6-.7h.7m-.7-1.6h.7m-.7 2.7h.7m-.7-2.6h.7m-.5 0h.7m-.7 2.2h.7m-.7-1.2h.7m-.6-1.2h.7m-.7 2.3h.7m-.7-1.3h.7m-.7 1.5h.7m-.7-2.6h.7m-.7 .2h.7m-.6 .8h.7m-.7 1.5h.7m-.7-2.5h.7m-.6 .2h.7m-.7 .6h.7m-.7 .7h.7m-.6 .4h.7m-.7-1.3h.7m-.7 1.9h.7m-.7-1.1h.7m-.7 1h.7m-.7 0h.7m-.7 .4h.7m-.7-1.8h.7m-.7 0h.7m-.6 1h.7m-.7-1.5h.7m-.6 .6h.7m-.7-.7h.7m-.7 .5h.7m-.7 .7h.7m-.7-.8h.7m-.6 .4h.7m-.7 1.1h.7m-.7-1h.7m-.6-1h.7m-.6 1.6h.7m-.7-1.2h.7m-.7-.1h.7m-.7 1.4h.7m-.7-.8h.7m-.7 1.2h.7m-.7-1.3h.7m-.7 1.6h.7m-.6-2.7h.7m-.7 0h.7m-.7 .5h.7m-.7 .7h.7m-.6 .2h.7m-.7 .2h.7m-.7 1.2h.7m-.7-.2h.7m-.6-2.1h.7m-.7 2h.7m-.7-2.5h.7m-.6 .9h.7m-.7 .8h.7m-.7-1.1h.7m-.7 1.9h.7m-.6 .3h.7m-.7-1.7h.7m-.7-.5h.7m-.6 .8h.7m-.6 .1h.7m-.7 .7h.7m-.7 .5h.7m-.7-1.3h.7m-.7-.6h.7m-.6 .7h.7m-.7 1h.7m-.7-1.6h.7m-.7 .2h.7m-.6 1.3h.7m-.7-2.1h.7m-.7 1.5h.7m-.6-1.4h.7m-.7 1.1h.7m-.7 .8h.7m-.7-2.1h.7m-.6 1.7h.7m-.7 .9h.7m-.7-1.5h.7m-.7-.8h.7m-.7 1.9h.7m-.6-.2h.7m-.7-1.6h.7m-.7 .7h.7m-.7-.9h.7m-.6 .7h.7m-.7-.1h.7m-.7 1.1h.7m-.7-.6h.7m-.7 .6h.7m-.7-1h.7m-.7 .8h.7m-.6-1.1h.7m-.7 .5h.7m-.6-1h.7m-.7 1.9h.7m-.7-1.1h.7m-.7 .7h.7m-.7-.5h.7m-.7 1h.7m-.6 .2h.7m-.7-1.2h.7m-.7 .3h.7m-.6 .4h.7m-.7-1h.7m-.7 .4h.7m-.7-.9h.7m-.6 1.8h.7m-.6-1.4h.7m-.7-.8h.7m-.7-.1h.7m-.7 2.9h.7m-.6-1.2h.7m-.7-1.1h.7m-.6 1.4h.7m-.7 .9h.7m-.6-1.3h.7m-.6-1.5h.7m-.7 2.6h.7m-.7-1.6h.7m-.7-.6h.7m-.6-.2h.7m-.7 .3h.7m-.7-.6h.7m-.7 2.2h.7m-.6-.2h.7m-.7 .5h.7m-.6 .3h.7m-.7-.9h.7m-.7-1.2h.7m-.7 2.2h.7m-.7-1.1h.7m-.7 .4h.7m-.7-.7h.7m-.7-.4h.7m-.6-.9h.7m-.7 .5h.7m-.7 1.1h.7m-.6 .9h.7m-.7-2.5h.7m-.7 1.5h.7m-.7-1.1h.7m-.6 1.4h.7m-.7 .6h.7m-.7-1h.7m-.7 .1h.7m-.6-1.7h.7m-.7 1.8h.7m-.7-1h.7m-.6 .9h.7m-.7-.9h.7m-.7-.2h.7m-.7 2h.7m-.7 .3h.7m-.7-.1h.7m-.7-2.6h.7m-.7 .1h.7m-.7 .6h.7m-.6 1.4h.7m-.7-.2h.7m-.6-.4h.7m-.6-.2h.7m-.7 .8h.7m-.6-.1h.7m-.7-2h.7m-.7 .4h.7m-.7 1.1h.7m-.6 .2h.7m-.7-.7h.7m-.6 .8h.7m-.6-1.9h.7m-.6 .2h.7m-.7 2.4h.7m-.7-.9h.7m-.7 .6h.7m-.7 .5h.7m-.7-2.5h.7m-.7 .2h.7m-.6 .9h.7m-.6 .1h.7m-.7-.6h.7m-.7 1.9h.7m-.7-1.6h.7m-.6 1.3h.7m-.7 .3h.7m-.7-1.7h.7m-.7 1h.7m-.7 .3h.7m-.7-1.4h.7m-.5 .3h.7m-.6 .1h.7m-.7-1.1h.7m-.7-.1h.7m-.7 2.1h.7m-.7-2h.7m-.7 .5h.7m-.6 2h.7m-.7-.2h.7m-.7-.6h.7m-.7-.8h.7m-.6 .5h.7m-.6-1h.7m-.6-.7h.7m-.7 2.5h.7m-.7-2.2h.7m-.7 .2h.7m-.7 .1h.7m-.5 1.9h.7m-.6-2.5h.7m-.7-.1h.7m-.7 1.5h.7m-.7-1.2h.7m-.6 2.3h.7m-.7-.7h.7m-.7-1.2h.7m-.6-.4h.7m-.7 0h.7m-.6 .9h.7m-.7 0h.7m-.6 .3h.7m-.6-.9h.7m-.7 2.1h.7m-.6-2.4h.7m-.7 2.2h.7m-.7-.3h.7m-.7-2h.7m-.7 2.5h.7m-.6-.6h.7m-.7-1.3h.7m-.7 1.1h.7m-.6 1h.7m-.7-.2h.7m-.6-1.9h.7m-.6 1.8h.7m-.5-.4h.7m-.6-1.5h.7m-.7-.1h.7m-.6 1.7h.7m-.7 .2h.7m-.6 .1h.7m-.7-1.5h.7m-.7-.1h.7m-.6 1h.7m-.7 .7h.7m-.7-1.7h.7m-.5 .6h.7m-.7 1.1h.7m-.7-.8h.7m-.6 .6h.7m-.7 .3h.7m-.7-.7h.7m-.5-.9h.7m-.1-.5h.7m-.6 1.1h.7m-.7-1.5h.7m-.6 1.9h.7m-.6-1.3h.7m-.5 1h.7m-.7 .7h.7m-.5-2.6h.7m-.5 1.9h.7m-.7-1.7h.7m-.5 .2h.7m-.5-.4h.7m-.5 .1h.7m-.5 2.1h.7m-.3-.7h.7m-.6-.7h.7m-.3 1h.7m-.7 1.1h.7m-.5-1.5h.7m-.7 0h.7m-.7 .7h.7m0-.9h.7m1.4-1.2h.7m-.2 .3h.7m-28.1 3.7h.7m.3 1.1h.7m.5 .3h.7m-.5-2.2h.7m-.6 .3h.7m-.6 .8h.7m-.6-.3h.7m-.6 1.4h.7m-.5 .3h.7m-.6-.8h.7m-.5 .3h.7m-.3-.1h.7m-.5-1.4h.7m-.7 1.6h.7m-.5 .2h.7m-.3-2.2h.7m-.6 .2h.7m-.4-.4h.7m-.7 1.8h.7m-.6-.4h.7m-.7-.2h.7m-.6 1.6h.7m-.4-1.5h.7m-.6 .2h.7m-.6-1h.7m-.6 2.1h.7m-.7-2.5h.7m-.7 2.1h.7m-.6 .6h.7m-.7-2.3h.7m-.7 1.4h.7m-.7-1.9h.7m-.7 .5h.7m-.4 .7h.7m-.7 .5h.7m-.7 .9h.7m-.5-1.8h.7m-.6 1.4h.7m-.6 .4h.7m-.7-1.9h.7m-.6 1h.7m-.7-.1h.7m-.6 .4h.7m-.7-1.6h.7m-.6 .3h.7m-.6-.8h.7m-.7 .4h.7m-.5 2.1h.7m-.7-.3h.7m-.6 .2h.7m-.6-.4h.7m-.6 .8h.7m-.6-2.2h.7m-.5 .6h.7m-.7 .5h.7m-.7-.8h.7m-.7 .4h.7m-.6 1.6h.7m-.7-1.6h.7m-.6 1.2h.7m-.7-.2h.7m-.7-.7h.7m-.7-.5h.7m-.7 .3h.7m-.6-1.3h.7m-.6 .7h.7m-.7 .7h.7m-.7-1.5h.7m-.6 1.8h.7m-.6-1.4h.7m-.7 1.6h.7m-.5-.6h.7m-.7 1.4h.7m-.7-1.2h.7m-.7 .4h.7m-.6-1.6h.7m-.7 .1h.7m-.6 .4h.7m-.7-.1h.7m-.7-.6h.7m-.6 .5h.7m-.7 .5h.7m-.7-.5h.7m-.7 2.1h.7m-.7-.4h.7m-.7-1.9h.7m-.6 .6h.7m-.6-.2h.7m-.7-.5h.7m-.7 1.1h.7m-.6 .6h.7m-.7-1.5h.7m-.7-.2h.7m-.6-.1h.7m-.7 .2h.7m-.6-.5h.7m-.7 1.5h.7m-.7 .4h.7m-.7 .4h.7m-.7-.3h.7m-.6-1.4h.7m-.7 1.7h.7m-.6 .5h.7m-.7-2.4h.7m-.7 .9h.7m-.6 .6h.7m-.7 .9h.7m-.6-.4h.7m-.7-1.5h.7m-.7 .3h.7m-.7 1.2h.7m-.7-1.3h.7m-.7 .5h.7m-.6-1.1h.7m-.7 2.3h.7m-.6-1.1h.7m-.7 1.2h.7m-.7-.5h.7m-.5-1.5h.7m-.7 1.1h.7m-.6-.3h.7m-.7-1.4h.7m-.7 .6h.7m-.6 .6h.7m-.7-1.2h.7m-.6 1.7h.7m-.7-1.8h.7m-.7-.1h.7m-.6 1.9h.7m-.7 .2h.7m-.7-.3h.7m-.7-1.1h.7m-.6-.7h.7m-.6 .3h.7m-.7 0h.7m-.7 2.1h.7m-.7-1h.7m-.6 1.3h.7m-.7-.9h.7m-.7-1.7h.7m-.7 0h.7m-.7 1.4h.7m-.7-.3h.7m-.7-1.3h.7m-.6 2.5h.7m-.7-2h.7m-.7 1.4h.7m-.6-1.9h.7m-.7 2.9h.7m-.6-1.4h.7m-.7-1.5h.7m-.7 .6h.7m-.6 1h.7m-.7-1.5h.7m-.7 1.2h.7m-.7-1h.7m-.7 .7h.7m-.6-.8h.7m-.7 1.5h.7m-.7-.5h.7m-.6 .1h.7m-.7 .4h.7m-.7-1.6h.7m-.7 .5h.7m-.7-.6h.7m-.7 1.5h.7m-.7 .4h.7m-.6-.2h.7m-.7 1h.7m-.6-2.1h.7m-.7 .9h.7m-.7-.2h.7m-.6 .3h.7m-.7 .2h.7m-.7-1.1h.7m-.6-.3h.7m-.7 1.3h.7m-.6-.8h.7m-.7 1.3h.7m-.7-1.9h.7m-.7 2.5h.7m-.7-.7h.7m-.7-1.6h.7m-.7 .4h.7m-.6 .2h.7m-.7-.5h.7m-.7 .5h.7m-.6 .2h.7m-.7-.8h.7m-.7-.1h.7m-.6 .3h.7m-.6 1.9h.7m-.7-1.4h.7m-.7-.2h.7m-.6-1h.7m-.7 1.1h.7m-.7-1.1h.7m-.7 2.7h.7m-.6-2h.7m-.7 .5h.7m-.6-.9h.7m-.7 .9h.7m-.7 1h.7m-.6-2.2h.7m-.7 1h.7m-.7 1.2h.7m-.6-1.9h.7m-.7 .6h.7m-.7 1.7h.7m-.7-.8h.7m-.7-1.6h.7m-.7 1.3h.7m-.6-.8h.7m-.7 .1h.7m-.7-.2h.7m-.7 .4h.7m-.7 .8h.7m-.6 .8h.7m-.7-.5h.7m-.7-.7h.7m-.7 .7h.7m-.7-.9h.7m-.7-1.1h.7m-.7 2h.7m-.6-1.9h.7m-.6 2.6h.7m-.7-.3h.7m-.7-.5h.7m-.6-.4h.7m-.7 1.1h.7m-.6-1.5h.7m-.7 0h.7m-.7-.9h.7m-.7 1.3h.7m-.7 .6h.7m-.7-.3h.7m-.7-1.4h.7m-.6 2h.7m-.7 0h.7m-.6-1.3h.7m-.7 .3h.7m-.7 .4h.7m-.7-1.4h.7m-.7 .2h.7m-.6 .4h.7m-.7 1.7h.7m-.7-2.2h.7m-.7 .3h.7m-.7 2h.7m-.6-1.4h.7m-.6-.2h.7m-.7 1.1h.7m-.7 .3h.7m-.7-2.5h.7m-.7 1.5h.7m-.6-.2h.7m-.7-.2h.7m-.7 1.1h.7m-.6-2.1h.7m-.7 .4h.7m-.6 .7h.7m-.6 .5h.7m-.7 .3h.7m-.7-.1h.7m-.7 .4h.7m-.7-1.8h.7m-.7 .1h.7m-.6-.5h.7m-.7 0h.7m-.7 1h.7m-.7 1.6h.7m-.7-.2h.7m-.7-2.2h.7m-.7-.1h.7m-.6 1h.7m-.7 1.2h.7m-.6-.4h.7m-.7-1.6h.7m-.7-.2h.7m-.6 2.1h.7m-.7-.7h.7m-.7-.7h.7m-.6 .2h.7m-.7 .7h.7m-.7-.9h.7m-.7-1.1h.7m-.7 0h.7m-.7 1.9h.7m-.6 .6h.7m-.7-1.3h.7m-.7 1.1h.7m-.6 .3h.7m-.7-.3h.7m-.7 .1h.7m-.6-1h.7m-.6-.5h.7m-.7 1h.7m-.7-.3h.7m-.6-.5h.7m-.7-.5h.7m-.7 .4h.7m-.7 1.8h.7m-.7-2.5h.7m-.7 .3h.7m-.6 1.3h.7m-.7 .3h.7m-.7-1.9h.7m-.6 2.5h.7m-.7-2.3h.7m-.7 .4h.7m-.7 0h.7m-.6 1h.7m-.7-1.6h.7m-.7 2.3h.7m-.7 .3h.7m-.7-1.5h.7m-.6 0h.7m-.6 1.4h.7m-.7-2.8h.7m-.6 1.4h.7m-.7 .7h.7m-.7-.5h.7m-.7 0h.7m-.7-.2h.7m-.6 .2h.7m-.7-1.3h.7m-.7 .3h.7m-.7 .3h.7m-.6 0h.7m-.6-.2h.7m-.7 1.1h.7m-.7 .4h.7m-.6-.9h.7m-.6-.9h.7m-.6 2.1h.7m-.6-2h.7m-.7 .3h.7m-.7 .4h.7m-.7-.4h.7m-.7 .9h.7m-.6 0h.7m-.7-1.1h.7m-.7 1.6h.7m-.6-2.2h.7m-.6 2.1h.7m-.7-1.2h.7m-.6 .1h.7m-.6 1h.7m-.7-1.8h.7m-.7 1.4h.7m-.6-1h.7m-.7 2.1h.7m-.7-2.2h.7m-.7-.4h.7m-.7 2.2h.7m-.6-1.3h.7m-.7 1.3h.7m-.6-1.6h.7m-.7 1.6h.7m-.7-2.2h.7m-.7 2.1h.7m-.6-.3h.7m-.6-.2h.7m-.6-.2h.7m-.7 .7h.7m-.7-.8h.7m-.7 1.1h.7m-.6-1.9h.7m-.7 1.7h.7m-.7-.6h.7m-.6 .7h.7m-.7 .1h.7m-.7-.8h.7m-.7-1.3h.7m-.7 1.5h.7m-.6-.4h.7m-.7 1.4h.7m-.6-.9h.7m-.6-.4h.7m-.7-.7h.7m-.6 2h.7m-.6-.7h.7m-.6-.3h.7m-.7 0h.7m-.7-.3h.7m-.7-.3h.7m-.5 .3h.7m-.7-.5h.7m-.6 .1h.7m-.7 .1h.7m-.7 .4h.7m-.7-1.3h.7m-.6 1.1h.7m-.7-.8h.7m-.7 1.4h.7m-.7-1.4h.7m-.7 .8h.7m-.7 1.3h.7m-.7-1.1h.7m-.6 1.1h.7m-.7-1.3h.7m-.6 0h.7m-.3 .8h.7m-.6-.8h.7m-.7 1.4h.7m-.7-1.9h.7m-.6 .2h.7m-.6-.1h.7m-.7 1h.7m-.7-.1h.7m-.7 .7h.7m-.6-2.7h.7m-.7 1.6h.7m-.6 .8h.7m-.7-1.4h.7m-.6 0h.7m-.6 1.7h.7m-.7 .1h.7m-.7-1.6h.7m-.6-1.2h.7m-.6 .4h.7m-.6 .9h.7m-.6-.4h.7m-.7 1.5h.7m-.6-.5h.7m-.6-1.4h.7m-.6 .8h.7m-.5-.1h.7m-.7 .1h.7m-.6 1.5h.7m-.6-2.5h.7m-.4 2.4h.7m-.6-.1h.7m-.2-2.5h.7m-.6 .9h.7m-.1 1.8h.7m-.2-2.5h.7m-.6 2.4h.7m1.2-2h.7m-28 4.5h.7m.3-.1h.7m-.3 .8h.7m.3-.4h.7m-.1 .1h.7m-.5 .2h.7m-.2-1.3h.7m-.5 .2h.7m.5-1.5h.7m-.6 .4h.7m-.7 .1h.7m-.6 .4h.7m-.6-.1h.7m-.4 .4h.7m-.5-.9h.7m-.1 2.1h.7m-.6-1.8h.7m-.6 .8h.7m-.7-1.5h.7m-.7 1h.7m-.7 1.6h.7m-.6 0h.7m-.6-1.8h.7m-.7-.7h.7m-.5 2.4h.7m-.7-.2h.7m-.6-1.6h.7m-.7-.7h.7m-.7 1.5h.7m-.6 .1h.7m-.5 1.1h.7m-.7-1.8h.7m-.5 .9h.7m-.7 .2h.7m-.7-1h.7m-.7 .9h.7m-.5-.1h.7m-.7-1.4h.7m-.7 .5h.7m-.5 1.7h.7m-.6-1.8h.7m-.6 1.7h.7m-.7-.8h.7m-.7 .4h.7m-.6 .2h.7m-.6-2.3h.7m-.7-.1h.7m-.7 0h.7m-.6 .1h.7m-.6 2h.7m-.7-2.1h.7m-.5 2.4h.7m-.7 .2h.7m-.6-2.4h.7m-.5-.2h.7m-.6 1.3h.7m-.7-.5h.7m-.6 .5h.7m-.6 .9h.7m-.7-.1h.7m-.7-.1h.7m-.7 .5h.7m-.6-.2h.7m-.7-1.9h.7m-.6 2h.7m-.7-1.4h.7m-.5 0h.7m-.7-.6h.7m-.6 1.3h.7m-.6-.1h.7m-.7-.4h.7m-.6-.4h.7m-.7 .2h.7m-.5 .1h.7m-.7-.9h.7m-.7 1.9h.7m-.6-1h.7m-.7 1.1h.7m-.6-.1h.7m-.7-.7h.7m-.6-1h.7m-.6 1.8h.7m-.7-2.1h.7m-.6 .8h.7m-.7-.8h.7m-.7 2h.7m-.7-1.1h.7m-.7 .5h.7m-.6-.8h.7m-.6 2.2h.7m-.7-.1h.7m-.7-1.4h.7m-.7-1.1h.7m-.7 2h.7m-.6 .1h.7m-.7-2.3h.7m-.7 .7h.7m-.6 1.5h.7m-.7-1.7h.7m-.6 2.1h.7m-.7-1.3h.7m-.6-.4h.7m-.7-1h.7m-.7 .5h.7m-.6 2.2h.7m-.7-1.1h.7m-.6-1.1h.7m-.7 2.4h.7m-.7-.2h.7m-.7-1.1h.7m-.7-.7h.7m-.6-.5h.7m-.6 1.9h.7m-.6-.8h.7m-.7-.1h.7m-.7 .2h.7m-.7-.9h.7m-.6 .7h.7m-.7 1.5h.7m-.7-1.7h.7m-.7-1h.7m-.7 .1h.7m-.6 1.5h.7m-.7-1.1h.7m-.7 2.1h.7m-.7 .1h.7m-.7-1.2h.7m-.7 .4h.7m-.6-.5h.7m-.7-.8h.7m-.7 .5h.7m-.6-.7h.7m-.7 1.1h.7m-.5-1h.7m-.6-.6h.7m-.7 1.3h.7m-.7-1h.7m-.6 1.1h.7m-.7 .7h.7m-.7-.4h.7m-.6-1.6h.7m-.7 1.2h.7m-.7-.2h.7m-.6-1h.7m-.7 .2h.7m-.7 2.1h.7m-.7-2.2h.7m-.7-.1h.7m-.7 1.2h.7m-.7-1.1h.7m-.6 2.5h.7m-.7-1.2h.7m-.7 1.3h.7m-.5-1.3h.7m-.7-.2h.7m-.7 1.1h.7m-.6-.2h.7m-.7-1.8h.7m-.7 2.3h.7m-.7-.5h.7m-.6-.7h.7m-.6 .8h.7m-.7-1.9h.7m-.5 1.7h.7m-.7 .7h.7m-.6-.5h.7m-.7-1.7h.7m-.6-.6h.7m-.6 1.4h.7m-.6 .1h.7m-.7-.9h.7m-.6-.3h.7m-.7 1.1h.7m-.7-.1h.7m-.7-.5h.7m-.7 .1h.7m-.6-.8h.7m-.7 1.1h.7m-.7 .9h.7m-.7-1.9h.7m-.6 2.6h.7m-.7-2.8h.7m-.7 0h.7m-.7 1.3h.7m-.6 1.3h.7m-.7-2h.7m-.7-.7h.7m-.6 1.3h.7m-.7 .2h.7m-.7-1.4h.7m-.6 2.5h.7m-.7-2h.7m-.7 1.8h.7m-.6-1.8h.7m-.6-.3h.7m-.7 .7h.7m-.6-.5h.7m-.7-.1h.7m-.7 0h.7m-.7 1.3h.7m-.7 .9h.7m-.6-1.8h.7m-.7 1.2h.7m-.7-2h.7m-.7 1.8h.7m-.7-.4h.7m-.6 .4h.7m-.6 .3h.7m-.7 .4h.7m-.7-1.3h.7m-.7 .4h.7m-.6-1.6h.7m-.7 1h.7m-.7 1.5h.7m-.6-1.9h.7m-.7 1.7h.7m-.7-.7h.7m-.5-.8h.7m-.7 1.7h.7m-.7-.5h.7m-.7-.4h.7m-.6 .6h.7m-.7-1.8h.7m-.6 2.2h.7m-.6-.8h.7m-.6-.5h.7m-.7 .5h.7m-.6 .5h.7m-.7-1.2h.7m-.7-.6h.7m-.6 1h.7m-.7 .2h.7m-.7 .4h.7m-.7-.1h.7m-.6 .4h.7m-.5-.8h.7m-.6 .1h.7m-.7-1.6h.7m-.7 1.5h.7m-.7-.2h.7m-.7-.4h.7m-.6-.3h.7m-.7-.4h.7m-.4 2h.7m-.7-2.3h.7m-.6 .4h.7m-.7 1.7h.7m-.6-.3h.7m-.7-.5h.7m-.6-1h.7m-.7 1.1h.7m-.6-.3h.7m-.7 .6h.7m-.7-1.3h.7m-.6 .3h.7m-.7 1.3h.7m-.7-1.3h.7m-.5 2h.7m-.7-1.2h.7m-.6-1.4h.7m-.6 .7h.7m-.7 2h.7m-.6-2h.7m-.7 .2h.7m-.7 .3h.7m-.6 1.1h.7m-.6-1.5h.7m-.7-.5h.7m-.6 1.3h.7m-.6-.2h.7m-.7-.6h.7m-.7 1.7h.7m-.6-2.6h.7m-.6 1.8h.7m-.6-1.2h.7m-.7 2.2h.7m-.6-2.4h.7m-.7 2.1h.7m-.6-.4h.7m-.7-1.6h.7m-.6 2.1h.7m-.5-1.8h.7m-.7-.6h.7m-.7 .5h.7m-.7 1h.7m-.7-.2h.7m-.7-.3h.7m-.6-1h.7m-.7 2.3h.7m-.6-2h.7m-.7 1.4h.7m-.7 .8h.7m-.6-.2h.7m-.7-2.2h.7m-.6 .5h.7m-.5 .6h.7m-.6-1.2h.7m-.6 1.8h.7m-.7-1.8h.7m-.5 2.2h.7m-.6 .5h.7m-.6-2.1h.7m-.6-.7h.7m-.7 .3h.7m-.5 .4h.7m-.7 .7h.7m-.6-.7h.7m-.6-.4h.7m-.6 1.5h.7m-.6-1.2h.7m-.2 1.8h.7m-.6-.6h.7m-.7-1.2h.7m-.6 1.8h.7m-.6-2h.7m-.6 1.8h.7m-.6-1.6h.7m-.7-.2h.7m-.5 .7h.7m-.3 .8h.7m-.4 .8h.7m-.1-2.1h.7m-.6 1.1h.7m-.5-1.7h.7m-.5 .5h.7m-.5 .2h.7m-.4-.1h.7m-.2-.1h.7m-.7 1.4h.7m-.6-1.4h.7m.5 1.8h.7m-.3-2h.7m-27.5 5.5h.7m1.4-1.1h.7m-.6-.9h.7m-.3 .7h.7m-.1-.7h.7m-.4 1.3h.7m-.7-1.9h.7m-.5 1.4h.7m-.7-.5h.7m-.7-.6h.7m-.1-.5h.7m-.5 0h.7m-.7 1.6h.7m-.5 1h.7m-.2-1.2h.7m.2-1.4h.7m-.6 1h.7m-.6-.6h.7m-.7 1.1h.7m-.2-1.2h.7m-.7 1.4h.7m-.4 .3h.7m-.2-1.7h.7m-.6 1.1h.7m-.7-.1h.7m-.5 .9h.7m-.5-1.2h.7m-.6 1.7h.7m-.7-1.1h.7m-.6 .9h.7m-.3-1.8h.7m-.6-.5h.7m-.6 .2h.7m-.7 2.4h.7m-.5-.1h.7m-.4 .1h.7m-.6-2h.7m-.1 1.2h.7m-.6-.9h.7m-.7-1.2h.7m-.7 .2h.7m-.5 1.1h.7m-.6-.5h.7m-.6 2h.7m-.7-2.8h.7m-.6 2.2h.7m-.7-2h.7m-.5 .6h.7m-.6 .1h.7m-.7 .5h.7m-.6-.1h.7m-.5 1.4h.7m-.7-2.3h.7m-.6 0h.7m-.7 .6h.7m-.7 .2h.7m-.6 .7h.7m-.7-.5h.7m-.7 .4h.7m-.6-.3h.7m-.6 .7h.7m-.7-1.6h.7m-.6 .1h.7m-.7-.2h.7m-.5 0h.7m-.6 .7h.7m-.6 .2h.7m-.6 1h.7m-.7-1.8h.7m-.6-.2h.7m-.7 2.4h.7m-.5-2.6h.7m-.7 1.1h.7m-.7-.4h.7m-.6 .6h.7m-.6 .4h.7m-.6 .3h.7m-.6-1.7h.7m-.7-.3h.7m-.7 1h.7m-.4 .8h.7m-.4-1h.7m-.6-.2h.7m-.7 2.1h.7m-.7-.2h.7m-.6 0h.7m-.7-1.7h.7m-.7 .1h.7m-.3-1.1h.7m-.7 2.9h.7m-.6-2.6h.7m-.6 .8h.7m-.7 .5h.7m-.6 .2h.7m-.7-1.4h.7m-.7 1.2h.7m-.3-.6h.7m-.6 .3h.7m-.7-1.2h.7m-.6 .8h.7m-.7 1.5h.7m-.7-1.3h.7m-.5-.3h.7m-.6 0h.7m-.7 1.7h.7m-.7-.4h.7m-.6-1.1h.7m-.7 1h.7m-.7 .9h.7m-.5-2.4h.7m-.7 1.8h.7m-.5-.1h.7m-.7-1.6h.7m-.7 2.3h.7m-.7-.3h.7m-.6 .1h.7m-.6-2h.7m-.7-.7h.7m-.7 1.8h.7m-.6 0h.7m-.6-.3h.7m-.5 .6h.7m-.5-.7h.7m-.7-.2h.7m-.7 .1h.7m-.6-.5h.7m-.6-.5h.7m-.6 .3h.7m-.5 1.6h.7m-.5-.5h.7m-.7-1.4h.7m-.6 1h.7m-.5 1.2h.7m-.6-1.9h.7m-.6-.6h.7m-.7 .4h.7m-.6 1.8h.7m-.5-.3h.7m-.6 0h.7m-.7-1.7h.7m-.7 .4h.7m-.7 1.7h.7m-.6-2h.7m-.6 0h.7m-.7 2.5h.7m-.7-1.9h.7m-.6-.4h.7m-.6 .3h.7m-.6-.6h.7m-.7-.1h.7m-.5 1.6h.7m-.5-1h.7m-.5 .7h.7m-.6 1.2h.7m-.6-.3h.7m-.7-2.3h.7m-.7 .3h.7m-.6 1.6h.7m-.7-.3h.7m-.4-.8h.7m-.7 .6h.7m-.4-1.4h.7m-.5 1.2h.7m-.6-.4h.7m-.6 .4h.7m-.6 .1h.7m-.7-.9h.7m-.6-.4h.7m-.5 2h.7m-.6 0h.7m-.3 .8h.7m0-1.1h.7m-.5-.3h.7m-.7 .4h.7m-.3 1h.7m-.6-1.9h.7m-.6 .4h.7m-.5-1.3h.7m-.5 1h.7m.4-.3h.7m-.4 .6h.7m.9 1.6h.7m1.8-2.2h.7m-28.3 4.2h.7m2.1-1.5h.7m.3 1.4h.7m.4-1.7h.7m-.5 1.2h.7m-.7 .8h.7m-.5-1.5h.7m-.4 1.6h.7m-.6-1.1h.7m0 .2h.7m-.2-.1h.7m-.6-.7h.7m-.4 .9h.7m-.7-.8h.7m-.4-.2h.7m-.6 2.3h.7m-.3-2.1h.7m-.4 .8h.7m-.7 .5h.7m-.5-1.2h.7m-.7 .1h.7m-.4 .2h.7m-.6-.1h.7m-.4 .9h.7m-.5 .3h.7m-.4-.4h.7m-.7-1.4h.7m-.5 .6h.7m-.4-.9h.7m-.7 .2h.7m-.1 1.8h.7m-.6 .9h.7m-.7-2.8h.7m-.5 1.1h.7m-.5-1.1h.7m-.5 1.3h.7m-.7-1.4h.7m-.7 .7h.7m-.5 .5h.7m-.7-.1h.7m.1 1h.7m-.7-.6h.7m-.6-1h.7m-.2 .6h.7m-.6 1.2h.7m-.1-1h.7m-.5-1.2h.7m.2 .1h.7m-.7 1.1h.7m-.1-.4h.7m-.7-.3h.7m-.6 1.3h.7m-.5-.4h.7m-.3-.6h.7m-.6 .2h.7m-.4-1h.7m0 1.7h.7m-.6-1h.7m-.5 .6h.7m-.5-1.2h.7m.3 .3h.7m1.7 2.3h.7m1.3-2.5h.7m-.4-.1h.7m-22.7 3.1h.7m1.1 1h.7m2.8-.1h.7m-.5-.7h.7m.2 .7h.7m.8-.8h.7m-.6 .4h.7m0 .2h.7m-.5 .3h.7m.5-1.1h.7m.5 .2h.7m-.5 .5h.7m-.5-.8h.7m-.5 .4h.7m-.6-.4h.7m-.5 0h.7m0 1.6h.7m-.4-1.4h.7m2.1 .6h.7m-.6-.7h.7m-.2 1.3h.7m6.2-1.4h.7" stroke="#f81010" stroke-width="0.8" stroke-opacity="0.7" fill="none"/>
</g>
<rect x="128.5" y="246.6" width="76" height="80" fill="none" stroke="#6a6a6a" stroke-width="0.85"/>
<path d="M159.5 246.6L159.5 326.6" stroke="#707070" stroke-width="0.8" fill="none"/>
<path d="M128.5 294.5L204.5 294.5" stroke="#707070" stroke-width="0.8" fill="none"/>
<text x="130.3" y="250.8" font-size="3.5" fill="#333">Q1</text>
<text x="130.3" y="255.6" font-size="3.6" fill="#333">16.65%</text>
<text x="202.7" y="250.8" font-size="3.5" text-anchor="end" fill="#333">Q2</text>
<text x="202.7" y="255.6" font-size="3.6" text-anchor="end" fill="#333">3.42%</text>
<text x="130.3" y="319.3" font-size="3.5" fill="#333">Q4</text>
<text x="130.3" y="324" font-size="3.6" fill="#333">47.04%</text>
<text x="202.7" y="319.3" font-size="3.5" text-anchor="end" fill="#333">Q3</text>
<text x="202.7" y="324" font-size="3.6" text-anchor="end" fill="#333">32.93%</text>
<path d="M128.5 326.6L128.5 328.1" stroke="#666" stroke-width="0.6" fill="none"/>
<text x="128.5" y="333" font-size="3" text-anchor="middle" fill="#444">10</text>
<path d="M127 326.5L128.5 326.5" stroke="#666" stroke-width="0.6" fill="none"/>
<text x="124.4" y="326.6" font-size="3" text-anchor="middle" transform="rotate(-90 124.4 326.6)" fill="#444">10</text>
<path d="M147.5 326.6L147.5 328.1" stroke="#666" stroke-width="0.6" fill="none"/>
<text x="147.5" y="333" font-size="3" text-anchor="middle" fill="#444">10</text>
<path d="M127 306.5L128.5 306.5" stroke="#666" stroke-width="0.6" fill="none"/>
<text x="124.4" y="306.6" font-size="3" text-anchor="middle" transform="rotate(-90 124.4 306.6)" fill="#444">10</text>
<path d="M166.5 326.6L166.5 328.1" stroke="#666" stroke-width="0.6" fill="none"/>
<text x="166.5" y="333" font-size="3" text-anchor="middle" fill="#444">10</text>
<path d="M127 286.5L128.5 286.5" stroke="#666" stroke-width="0.6" fill="none"/>
<text x="124.4" y="286.6" font-size="3" text-anchor="middle" transform="rotate(-90 124.4 286.6)" fill="#444">10</text>
<path d="M185.5 326.6L185.5 328.1" stroke="#666" stroke-width="0.6" fill="none"/>
<text x="185.5" y="333" font-size="3" text-anchor="middle" fill="#444">10</text>
<path d="M127 266.5L128.5 266.5" stroke="#666" stroke-width="0.6" fill="none"/>
<text x="124.4" y="266.6" font-size="3" text-anchor="middle" transform="rotate(-90 124.4 266.6)" fill="#444">10</text>
<path d="M204.5 326.6L204.5 328.1" stroke="#666" stroke-width="0.6" fill="none"/>
<text x="204.5" y="333" font-size="3" text-anchor="middle" fill="#444">10</text>
<path d="M127 246.5L128.5 246.5" stroke="#666" stroke-width="0.6" fill="none"/>
<text x="124.4" y="246.6" font-size="3" text-anchor="middle" transform="rotate(-90 124.4 246.6)" fill="#444">10</text>
<text x="166.5" y="339.6" font-size="5.4" text-anchor="middle" textLength="28.2" lengthAdjust="spacingAndGlyphs" fill="#222">CD206FITC</text>
<text x="120.5" y="287.6" font-size="5.3" font-weight="bold" text-anchor="middle" textLength="27.6" lengthAdjust="spacingAndGlyphs" transform="rotate(-90 120.5 287.6)" fill="#2a2a2a">CD16/32PE</text>
<path d="M127.6 320.6h.9M134.2 326.6v.9M127.6 317.1h.9M137.6 326.6v.9M127.6 314.6h.9M139.9 326.6v.9M127.6 312.6h.9M141.8 326.6v.9M127.6 311.0h.9M143.3 326.6v.9M127.6 309.7h.9M144.6 326.6v.9M127.6 308.5h.9M145.7 326.6v.9M127.6 307.5h.9M146.6 326.6v.9M127.6 300.6h.9M153.2 326.6v.9M127.6 297.1h.9M156.6 326.6v.9M127.6 294.6h.9M158.9 326.6v.9M127.6 292.6h.9M160.8 326.6v.9M127.6 291.0h.9M162.3 326.6v.9M127.6 289.7h.9M163.6 326.6v.9M127.6 288.5h.9M164.7 326.6v.9M127.6 287.5h.9M165.6 326.6v.9M127.6 280.6h.9M172.2 326.6v.9M127.6 277.1h.9M175.6 326.6v.9M127.6 274.6h.9M177.9 326.6v.9M127.6 272.6h.9M179.8 326.6v.9M127.6 271.0h.9M181.3 326.6v.9M127.6 269.7h.9M182.6 326.6v.9M127.6 268.5h.9M183.7 326.6v.9M127.6 267.5h.9M184.6 326.6v.9M127.6 260.6h.9M191.2 326.6v.9M127.6 257.1h.9M194.6 326.6v.9M127.6 254.6h.9M196.9 326.6v.9M127.6 252.6h.9M198.8 326.6v.9M127.6 251.0h.9M200.3 326.6v.9M127.6 249.7h.9M201.6 326.6v.9M127.6 248.5h.9M202.7 326.6v.9M127.6 247.5h.9M203.6 326.6v.9" stroke="#555" stroke-width="0.6" fill="none"/>
<text x="227.2" y="243.4" font-size="7.6" textLength="57.3" lengthAdjust="spacingAndGlyphs">LPS+IFN-γ+IWR-1</text>
<g>
<path d="M230.9 248.3h.7m1.2 .4h.7m.3 .2h.7m4.7-1h.7m54.3 1h.7m-64.2 2.3h.7m.3-1.9h.7m6.7 1.9h.7m1.7-1.4h.7m1.8 .9h.7m7.8 .2h.7m0 .7h.7m1.8-.8h.7m-.2 0h.7m8-.3h.7m-35.1 4.4h.7m-.5-1.1h.7m2.3 .3h.7m1.8-1.9h.7m-.2 1.3h.7m15.1-.4h.7m-.7-1.1h.7m.3 .4h.7m-.4 1.9h.7m10.7-1.8h.7m-.5 1.1h.7m.4-.9h.7m3.3 1.3h.7m-36.8 2.6h.7m7.1-1.1h.7m.3 1.6h.7m2.7-1.9h.7m10.9 2.2h.7m0-1.8h.7m0-.5h.7m6.4 1.5h.7m14.2-.9h.7m.3-.6h.7m-52.7 5.2h.7m1.8 .5h.7m.4-.7h.7m7.2 0h.7m5.8-1.2h.7m15.8 1.3h.7m2.6 0h.7m13.5-.2h.7m-.6-.4h.7m1.1-.8h.7m-52 2.7h.7m4.7 2.1h.7m1.5-1.5h.7m7.7-.6h.7m14.8 .5h.7m13.6 1h.7m8.6 .5h.7m3.8-.3h.7m-64.4 3.7h.7m7.4-2.7h.7m3.1 2.4h.7m8.9-2.1h.7m4.5 1.4h.7m7.7-.5h.7m7.8-1.3h.7m22.6 2.4h.7m-68.2 2.9h.7m.3-.5h.7m1.4 .9h.7m10.1-1.8h.7m-.5 1.8h.7m-.6-.3h.7m-.4-.8h.7m2.5-.4h.7m1.9 .4h.7m.1 .6h.7m-.6-2.1h.7m-.6 .7h.7m-.6 1.7h.7m7.8 .3h.7m1.8-2.4h.7m12.8-.4h.7m6.6 1.7h.7m3.7-1.4h.7m-56.8 4.4h.7m1.7 .1h.7m4.9-.2h.7m-.7 0h.7m3.8-.3h.7m-.1-.4h.7m-.5-.8h.7m1 .6h.7m.5 .1h.7m1.7 .7h.7m2.2-.3h.7m-.2 .7h.7m-.1 .9h.7m-.6-.3h.7m-.2-1.8h.7m-.1 .3h.7m-.2 .1h.7m.1 1.3h.7m2.4-1.1h.7m3-1.2h.7m11.3 1.4h.7m11.9-1.1h.7m-57.1 4.4h.7m.4-.1h.7m3.1 .4h.7m5.9-.6h.7m-.6-.4h.7m-.3 1.5h.7m-.4-.4h.7m1.7 .5h.7m-.5-2.2h.7m-.1 1.7h.7m-.5-.4h.7m-.1-1.2h.7m-.3 .5h.7m-.3 1.6h.7m-.7 .1h.7m-.4-.2h.7m-.6-.9h.7m.8 0h.7m-.6 1.1h.7m-.1-1.3h.7m-.5 1.2h.7m-.2-2.8h.7m.1 .8h.7m-.3 1.7h.7m-.7-.5h.7m-.6-1.2h.7m1.3-.1h.7m1.2 1h.7m-.5-.1h.7m-.5 .6h.7m11.5 .1h.7m.4-.3h.7m2.9-1.6h.7m9 2.2h.7m-53.9 2.7h.7m3-1.4h.7m1.4 1h.7m-.1-1.1h.7m.8-.6h.7m1.2 1.4h.7m.5-1.1h.7m-.5 1.2h.7m.9-.9h.7m-.7 .8h.7m-.4-.9h.7m-.7 1h.7m-.6-.2h.7m-.5 .7h.7m.2-1.2h.7m-.2 1.9h.7m-.1-2.8h.7m-.5 2.5h.7m.1 .3h.7m-.3-1.2h.7m-.5-1.3h.7m-.5-.2h.7m-.4-.2h.7m-.7 2.1h.7m-.2 .8h.7m-.6-2.3h.7m-.7 .7h.7m-.3-1.1h.7m-.3 1.6h.7m-.4 .2h.7m-.3 .3h.7m-.6 .2h.7m.4-.1h.7m.5 .2h.7m.1-.2h.7m-.3-.4h.7m.3-.5h.7m-.2-.6h.7m2.8 .3h.7m.2 1.2h.7m1.5-2.2h.7m1.1 0h.7m.5 1.3h.7m1.7 1.1h.7m0-.4h.7m0-.4h.7m-39.1 1.5h.7m-.4 .1h.7m.6 .8h.7m1.2 1.3h.7m.1-1.9h.7m1.7 .6h.7m1.3 .6h.7m-.6-1.5h.7m1.6 1.6h.7m-.1-.5h.7m-.7 1.1h.7m-.6-1.4h.7m-.6 .5h.7m-.6-.8h.7m-.3 1.6h.7m-.4-1.4h.7m1-.8h.7m-.7 2.1h.7m-.2-.5h.7m-.5 1h.7m-.7-.8h.7m-.7-.6h.7m-.4-.1h.7m-.3-1h.7m-.4 .7h.7m-.6 .8h.7m-.7 .6h.7m-.7-1h.7m-.4-1.4h.7m-.7 2.9h.7m-.6-1.9h.7m-.2 1.4h.7m-.7-.1h.7m-.3 0h.7m-.6 .4h.7m-.7-2.1h.7m-.5 .2h.7m-.5 1.4h.7m-.2-.1h.7m-.6-1.4h.7m-.5-.4h.7m-.6 1.9h.7m-.7-.8h.7m-.5 .4h.7m-.2 .2h.7m-.7-1.1h.7m-.7 1.9h.7m-.3-1.8h.7m-.7-1h.7m-.6 0h.7m-.5 2.3h.7m-.7-2.1h.7m-.7 .3h.7m-.5 .6h.7m-.7 1.7h.7m0 .1h.7m-.7-1.6h.7m-.6 1h.7m-.6-.2h.7m-.6-.2h.7m-.3 .6h.7m-.4-.5h.7m-.3 .4h.7m-.6-2.4h.7m-.7 2.9h.7m-.5-1.7h.7m-.6 0h.7m-.6 .8h.7m-.6-2h.7m-.3 .5h.7m-.7 .1h.7m-.7 2.1h.7m-.5-1.8h.7m-.5-.5h.7m.2 0h.7m-.4 .6h.7m-.5-.2h.7m.3-.3h.7m-.7 1h.7m-.3-1.5h.7m-.3 0h.7m0 2.6h.7m-.6-.6h.7m.7-.8h.7m.5 1.5h.7m-.4-1.3h.7m0 .8h.7m2.4-1.3h.7m-.7-.9h.7m.1 2.8h.7m-.5-2.5h.7m.1 1.7h.7m.1-1.3h.7m-.2 .6h.7m.7-.9h.7m1.5 .9h.7m-.5-.3h.7m.5 .6h.7m-.1-.1h.7m-42 3.7h.7m2.2-.7h.7m-.4-.9h.7m-.6 .5h.7m-.1-.4h.7m.5 1.4h.7m-.4-1.4h.7m.5-.1h.7m.2 .3h.7m-.6 1.8h.7m-.5-.1h.7m-.1-1.8h.7m-.6-.1h.7m-.7 1.3h.7m-.3-.3h.7m-.3-.5h.7m-.4 1h.7m-.4-2.2h.7m-.6 1.8h.7m-.3 .3h.7m-.6-2.1h.7m-.7 2.9h.7m-.7-.7h.7m-.4-.8h.7m-.4 1.2h.7m-.4-1.3h.7m-.4 1.2h.7m-.5-2.1h.7m-.5-.2h.7m0 2.1h.7m-.3 .5h.7m-.6-.9h.7m-.6-.1h.7m-.6-1h.7m-.4 .4h.7m-.6 .1h.7m-.6-.2h.7m-.7 1.6h.7m-.4-2.7h.7m-.6 .4h.7m-.6 .9h.7m-.7 .7h.7m-.6-.5h.7m-.7 1.1h.7m-.6-1.5h.7m-.7 .3h.7m-.7 .9h.7m-.7 .6h.7m-.5-.8h.7m-.7-.3h.7m-.7 .5h.7m-.3 .3h.7m-.7-1.3h.7m-.6 1.6h.7m-.7-.7h.7m-.6-.6h.7m-.7-1.5h.7m-.6 1.3h.7m-.7 .5h.7m-.4-.9h.7m-.6 1.6h.7m-.7-2.5h.7m-.4 .6h.7m-.7 .2h.7m-.6-.6h.7m-.6 1h.7m-.6-.1h.7m-.7-.7h.7m-.3 1.5h.7m-.4-.9h.7m-.6-.4h.7m-.6 .1h.7m-.6-.5h.7m-.5 .8h.7m-.7 .5h.7m-.6 1.3h.7m-.5-1.8h.7m-.5 1.6h.7m-.5-1.5h.7m-.4-.1h.7m-.6 .9h.7m-.5 .7h.7m-.4 .1h.7m-.3-2.1h.7m-.6 2.2h.7m-.6 0h.7m-.6-2.4h.7m-.6 1.3h.7m-.7-1h.7m-.3 1.4h.7m-.6 .3h.7m-.7-1.2h.7m-.6 1.1h.7m-.7 0h.7m-.7-2h.7m-.7 2.5h.7m-.6-1.3h.7m-.6 1.1h.7m-.7-2h.7m-.2-.1h.7m-.2 .2h.7m-.4 0h.7m-.7-.2h.7m-.6-.1h.7m-.7 .6h.7m-.5-.4h.7m-.6 1.5h.7m.1-1.1h.7m-.5-.9h.7m-.1 1.9h.7m0-1.5h.7m.2-.2h.7m-.3 1.4h.7m1.5-1.7h.7m-.1 .3h.7m.5 1.8h.7m-.1 0h.7m-.2-.3h.7m.1-.9h.7m0 1.5h.7m-.5-.2h.7m.6 0h.7m0 .6h.7m.9-2.1h.7m.6 2.1h.7m2.6-1.6h.7m-.4 .5h.7m-.6 0h.7m3.9 .2h.7m17.8-1.5h.7m4.3 1.5h.7m-71.6 3.4h.7m0 .4h.7m-.4-.1h.7m.9-.4h.7m-.1-1.9h.7m-.6 2.3h.7m1-.9h.7m-.2-1.1h.7m.5 .4h.7m.2-.5h.7m-.5 1h.7m-.5-1.2h.7m-.7 .8h.7m.9 1.3h.7m-.5-.7h.7m0 .8h.7m-.5-1.5h.7m-.7-.4h.7m-.5-.5h.7m-.7 2.4h.7m-.5-1.7h.7m-.5-.4h.7m-.7 2.4h.7m-.7-2.4h.7m-.6 2.1h.7m-.6-.3h.7m-.5-1.4h.7m-.5 .4h.7m-.6 1.2h.7m-.6-.6h.7m-.6-.5h.7m-.6-.6h.7m-.6 1.7h.7m-.3-1.3h.7m-.6-.9h.7m-.3 .5h.7m-.7 .1h.7m-.6 .6h.7m-.4-.6h.7m-.7 1.7h.7m-.7 .2h.7m-.5-.6h.7m-.4-.7h.7m-.5-1.2h.7m-.6 .4h.7m-.6 2h.7m-.6-1.1h.7m-.6-1.2h.7m-.5 2.3h.7m-.7-.4h.7m-.6-2h.7m-.6 1.7h.7m-.7 .1h.7m-.6-1.3h.7m-.6-.6h.7m-.5 0h.7m-.6 .8h.7m-.7 1.9h.7m-.7-2h.7m-.1 .3h.7m-.6 .6h.7m-.7-.3h.7m-.5 0h.7m-.7 1h.7m-.6-2.1h.7m-.7 1.1h.7m-.7-.4h.7m-.7 1.5h.7m-.5-1.3h.7m-.6 1.1h.7m-.6-.1h.7m-.7-1.1h.7m-.7-1h.7m-.6 2.5h.7m-.7-2.5h.7m-.7 1.7h.7m-.3-.8h.7m-.4 1.6h.7m-.5-1.7h.7m-.3 1h.7m-.3 .5h.7m-.7-1.1h.7m-.6-1.4h.7m-.7 2.3h.7m-.7 .3h.7m-.7-.6h.7m-.3-.2h.7m-.6-.5h.7m-.7 .2h.7m-.6 .1h.7m-.6-.9h.7m-.6 1.6h.7m-.7-1.8h.7m-.6 2.3h.7m-.5 0h.7m-.6-1.7h.7m-.6 1.2h.7m-.7 .5h.7m-.6-.2h.7m-.6-2.3h.7m-.7 .6h.7m-.6-.3h.7m-.6 .6h.7m-.6-.4h.7m-.6 1.1h.7m-.7 .8h.7m-.6-.7h.7m-.6 .5h.7m-.7-1.5h.7m-.7-.5h.7m-.5 1.2h.7m-.7-.9h.7m-.6-.2h.7m-.7 .8h.7m-.7-1h.7m-.4 2.5h.7m-.5-.9h.7m-.6 .1h.7m-.2-.5h.7m-.5-1.5h.7m-.6 2.3h.7m-.4-1.3h.7m-.7 1.8h.7m-.4-1h.7m-.3 .2h.7m-.5-2h.7m-.7 2.3h.7m-.4-1.3h.7m-.5-1.1h.7m-.5 1.6h.7m-.7 .7h.7m-.5-1h.7m-.5 1.2h.7m-.7 .1h.7m-.4-1.6h.7m-.5 .8h.7m0-.5h.7m-.1 .4h.7m-.5-.3h.7m.5 1.4h.7m2.4-2.2h.7m-.3 1.2h.7m1.3 0h.7m.3-.2h.7m1.9-.8h.7m.2-.5h.7m.6 1.3h.7m-.2 .6h.7m3 .5h.7m-.6-2h.7m22.5-.5h.7m-66.9 3.7h.7m.8-.6h.7m-.4 2.4h.7m-.5-.6h.7m-.3-.9h.7m-.2-.7h.7m-.6-.4h.7m-.4 .5h.7m-.2-.6h.7m.7 .9h.7m.3-.5h.7m-.4 .2h.7m.3-.2h.7m0-.3h.7m.3 2.2h.7m-.3 .2h.7m-.6-1.3h.7m-.3 .8h.7m-.4-1.5h.7m-.7 .4h.7m.1 1.2h.7m-.7-.7h.7m-.6 .2h.7m-.7-.8h.7m-.6 1.5h.7m-.7 .2h.7m-.7-.9h.7m-.6-.7h.7m-.6 .1h.7m-.7-.3h.7m-.5 1.3h.7m-.6-.8h.7m-.7 .8h.7m-.5 .5h.7m-.4-.7h.7m-.7 0h.7m-.6 .7h.7m-.7-.8h.7m-.7-1.5h.7m-.6 0h.7m-.6 .9h.7m-.7 1.4h.7m-.7 .4h.7m-.5-2.7h.7m-.5 2.2h.7m-.5-.7h.7m-.6 1.1h.7m-.7 .1h.7m-.7-1.4h.7m-.7 .2h.7m-.6 .5h.7m-.6-2.1h.7m-.2 .3h.7m-.7-.4h.7m-.7 2.2h.7m-.7-1.9h.7m-.6 1.2h.7m-.6-1.4h.7m-.7 .8h.7m-.6-.2h.7m-.5-.1h.7m-.6 1.4h.7m-.6 .5h.7m-.6-1.2h.7m-.4-.4h.7m-.6 .9h.7m-.6 .6h.7m-.7-1.2h.7m-.6 .9h.7m-.6-1.5h.7m-.5-.6h.7m-.7 .1h.7m-.4 .3h.7m-.6 1.9h.7m-.6-.9h.7m-.6-1.1h.7m-.5 .5h.7m-.6-.7h.7m-.6 1.9h.7m-.6-2h.7m-.7 .5h.7m-.7 .1h.7m-.6 1.6h.7m-.6-.1h.7m-.6-.4h.7m-.6-.5h.7m-.7 .3h.7m-.7 .2h.7m-.4 .2h.7m-.6 .9h.7m-.7-2.8h.7m-.2 1h.7m-.6 1.7h.7m-.7-1h.7m-.4-.2h.7m.1-.7h.7m-.7 1.6h.7m-.6-.3h.7m-.3-.1h.7m-.4-1.5h.7m-.4 2.2h.7m-.5-2.1h.7m-.5 1h.7m-.6-1.1h.7m-.4 1.5h.7m-.4-.9h.7m-.7-1.1h.7m-.7 1.6h.7m-.7-1.6h.7m-.3 1.2h.7m-.4-1.1h.7m-.5 .1h.7m.3 1.3h.7m-.2-.9h.7m.8 .8h.7m.6-1.1h.7m-.6 2.5h.7m-.6-2.1h.7m1.3 .6h.7m1.2-.6h.7m-.5 1.7h.7m5.7-.4h.7m-.5-2h.7m1.1 0h.7m2.5 .7h.7m-.2-.6h.7m.9 1h.7m5.5-.1h.7m7.4 1h.7m9.8-.1h.7m-67.4 3.1h.7m.1-.4h.7m2.3-1h.7m-.5-.4h.7m-.4 2.1h.7m0-.9h.7m.6 0h.7m-.6 0h.7m.2-1.1h.7m-.6 2.3h.7m-.4-.5h.7m-.6 0h.7m-.7 .8h.7m-.6-2.7h.7m-.5-.1h.7m-.6 .9h.7m-.6-.6h.7m-.3 2h.7m-.5 0h.7m-.7-.9h.7m-.3 1h.7m-.4-.9h.7m-.6-1.6h.7m-.7 2.9h.7m-.6-2.8h.7m-.5 .1h.7m-.5 .1h.7m-.3 2.5h.7m-.5-1.5h.7m-.7-.7h.7m-.6-.3h.7m-.7 1.4h.7m-.6-.2h.7m-.7-1h.7m-.4 .2h.7m-.6 1.3h.7m-.5 .6h.7m-.7-1.4h.7m-.6-1h.7m-.2 0h.7m-.6 .4h.7m-.6 1.8h.7m-.7-.6h.7m-.6 .2h.7m-.4 .1h.7m-.4-1h.7m-.5 1.2h.7m-.6-.3h.7m-.5-1.3h.7m-.7 1.6h.7m-.7 .4h.7m-.5 .1h.7m-.7-2.7h.7m-.5 1.8h.7m-.3-1.9h.7m-.6 1.6h.7m-.7-.6h.7m-.7 .3h.7m-.3-.4h.7m-.5 0h.7m-.5 .3h.7m-.4 .6h.7m-.6-.5h.7m-.7-.4h.7m-.7-.1h.7m-.4-.6h.7m-.5 1.7h.7m-.7-1.5h.7m-.6 1.5h.7m-.3-1.9h.7m-.7 .1h.7m-.1 2.1h.7m-.7-2.2h.7m-.6 1.4h.7m-.7 1.1h.7m-.3-1.6h.7m-.5 .6h.7m-.5 0h.7m-.6 .1h.7m-.5-.7h.7m-.6 .4h.7m-.3 .5h.7m-.5-1.4h.7m.7 .2h.7m-.6 1h.7m-.6 1.1h.7m-.4 .1h.7m-.6-1.6h.7m-.2 .6h.7m-.3 1h.7m0-1.4h.7m1.7-.6h.7m-.5 1.1h.7m.1 .6h.7m-.1-.3h.7m1 .3h.7m0 0h.7m-.2-.2h.7m.7-.2h.7m0-.3h.7m.6 .5h.7m-.6-1.9h.7m.2 0h.7m1.7 2.1h.7m1.1-.2h.7m6.8-.6h.7m1.6 .5h.7m-49.3 2.6h.7m-.5 .9h.7m.2-1h.7m-.4-1.1h.7m-.6-.2h.7m.7 1.4h.7m0 .4h.7m-.3-1.8h.7m-.3 .9h.7m-.4 .5h.7m.2 .6h.7m-.2-2.2h.7m-.2 2.1h.7m-.6 .6h.7m-.3-2.8h.7m-.6 2.5h.7m-.4-2h.7m-.2 .1h.7m-.4 1.5h.7m-.6-.6h.7m-.3-1.1h.7m-.3 1h.7m-.4-.4h.7m-.6-.5h.7m-.4 .5h.7m-.4 .2h.7m-.7 0h.7m-.2-.6h.7m-.2-.2h.7m-.6 2.4h.7m-.6-2.3h.7m-.6-.4h.7m-.3 1h.7m-.6-.6h.7m-.6 1.8h.7m-.7-2.4h.7m-.6 2h.7m-.5 .1h.7m-.6-2.1h.7m-.7 .8h.7m-.4-.8h.7m0 2.9h.7m-.1-2.5h.7m-.7 .5h.7m-.7-.6h.7m-.5 1.3h.7m-.2-.2h.7m-.3-1h.7m-.7-.3h.7m-.6 .3h.7m-.5 2h.7m-.6-1.3h.7m-.7 1.4h.7m-.6-2h.7m-.5-.3h.7m0 1.6h.7m-.7 0h.7m-.6-.5h.7m-.6-.3h.7m-.4 1.2h.7m-.6-1.8h.7m-.7 .8h.7m-.4 1.2h.7m-.5-1.4h.7m-.3 1.6h.7m-.7 .3h.7m-.7-1.7h.7m-.4-1h.7m.3 2.4h.7m-.5-.1h.7m0-1.7h.7m-.7-.4h.7m-.7-.1h.7m-.7 .2h.7m.2 0h.7m-.3 .9h.7m-.6 .1h.7m.4 1.3h.7m-.5-.3h.7m.6-2.2h.7m.1 2h.7m-.4-1.4h.7m-.4-.4h.7m-.6 .4h.7m-.6-.5h.7m-.5 .6h.7m-.1 1.5h.7m-.5 .4h.7m-.7-.3h.7m-.1-1h.7m.5-.4h.7m-.6 .9h.7m-.3-.1h.7m-.2-.8h.7m-.4-.4h.7m2 1.7h.7m1.6-1.6h.7m-.3-.9h.7m0 .4h.7m0 .6h.7m.9 1.7h.7m1.6-.5h.7m3.8-.7h.7m-.3-.8h.7m3.8-.6h.7m8.8-.1h.7m5.7 .4h.7m-67.9 3.4h.7m-.7 2h.7m3.2-1.3h.7m-.5 1h.7m-.3 0h.7m-.6-.8h.7m1-.5h.7m.2 1.2h.7m.3-.3h.7m-.6-1.1h.7m-.2 1.1h.7m.3-.6h.7m-.6 0h.7m-.5 .6h.7m-.6-.6h.7m-.7-.6h.7m-.7-.6h.7m-.3 .2h.7m-.3 .6h.7m-.6 1.6h.7m-.4 .1h.7m.3-1.8h.7m-.1 1h.7m-.7-1.3h.7m-.5-.2h.7m-.6 .2h.7m-.6 1.4h.7m-.4 .3h.7m-.4-1.4h.7m-.5-.4h.7m-.7 .3h.7m-.5 1.6h.7m-.7-1.4h.7m-.6 1.5h.7m.2-1.2h.7m-.3-.9h.7m-.4 1.6h.7m-.6-1.5h.7m-.6 .3h.7m-.3-.4h.7m-.7 .6h.7m-.6-.3h.7m.1 .6h.7m-.6 1h.7m-.7-1.4h.7m-.5 .6h.7m-.2 1.3h.7m-.5 0h.7m-.3-2.2h.7m-.6-.2h.7m-.6 .3h.7m-.6 1.3h.7m-.6-.1h.7m-.6-1h.7m-.4 1.7h.7m-.6-.3h.7m-.3-2.4h.7m-.3 2.5h.7m-.4-1.3h.7m-.6-.4h.7m-.5-.3h.7m-.3 .5h.7m-.6 .3h.7m-.2 .9h.7m-.6-1.5h.7m-.3 0h.7m-.5 .8h.7m-.6-.7h.7m-.4-.2h.7m-.7 2h.7m-.4-.4h.7m-.7-.6h.7m-.2 .2h.7m-.1 1.1h.7m-.6-2.9h.7m-.1 .1h.7m-.5 .5h.7m-.6 .8h.7m-.6 0h.7m-.7-.1h.7m-.5 1.4h.7m-.6-2.4h.7m-.2 .6h.7m-.5 .8h.7m-.2-.4h.7m-.6-.6h.7m-.6 1.7h.7m-.6-.6h.7m-.5 .2h.7m-.6 .2h.7m-.6-.6h.7m-.2-.8h.7m.2 1.7h.7m-.5-1.8h.7m-.7-.4h.7m0 1.9h.7m-.3 .3h.7m-.6-.8h.7m-.2-1.5h.7m-.5 2h.7m-.1-.9h.7m-.3-.8h.7m-.1 2.1h.7m-.7-1.3h.7m.4 1.1h.7m.2-.1h.7m-.7-1.3h.7m1.4 .6h.7m0 .8h.7m.3-2.1h.7m.5 2.5h.7m-.7-.6h.7m.2 .7h.7m-.3-.6h.7m-.7-2.3h.7m0 2.2h.7m3.7-.2h.7m.3-1.9h.7m10.9 2.5h.7m-62.4 .5h.7m.2 1.6h.7m1-.6h.7m3 1.3h.7m.9-1.9h.7m-.4 .3h.7m1.6 1.5h.7m-.6-1.3h.7m-.2 .5h.7m1.3-1.1h.7m-.5 .5h.7m.2-.4h.7m-.3 .7h.7m-.7 1.7h.7m-.6-2.7h.7m.1 2.1h.7m-.6-1.2h.7m-.6-.6h.7m-.5 1.7h.7m.4-2h.7m-.7 1.8h.7m-.2-2h.7m-.5 1h.7m-.5 .1h.7m-.7 1.5h.7m-.7-.8h.7m-.7 .1h.7m-.6-1.3h.7m-.6 .1h.7m-.6 .3h.7m-.6 .3h.7m-.4 .4h.7m-.7-.9h.7m0 1.9h.7m-.6-1.3h.7m-.3-1h.7m-.4 2.3h.7m-.1-1.2h.7m-.5 0h.7m-.3 1.2h.7m-.7-1.6h.7m-.3-.3h.7m-.6 1.6h.7m-.4-.1h.7m-.7-2h.7m-.6 .4h.7m-.7 1.2h.7m-.4-1.4h.7m-.3 .6h.7m-.5 1.5h.7m-.4-1.5h.7m-.4-.7h.7m-.6 1.3h.7m-.5-1.3h.7m-.7 2.5h.7m-.3-2.8h.7m-.6 0h.7m-.3 1.4h.7m-.7 1.2h.7m-.6-1h.7m-.5 0h.7m-.2 .6h.7m-.5-.4h.7m-.7 1h.7m-.6-1.8h.7m-.6 1.8h.7m-.7-2.4h.7m-.6 2.3h.7m-.7-.1h.7m-.7 0h.7m-.5 .1h.7m-.5-.8h.7m-.6 .8h.7m-.2-2h.7m-.6 1.6h.7m-.4-1.1h.7m-.6-1.2h.7m-.5 .7h.7m-.3 1.1h.7m-.5-.8h.7m-.6-.7h.7m-.6 2.3h.7m-.4-1.9h.7m-.4 1h.7m-.5-.2h.7m-.5-.5h.7m-.7 1.6h.7m-.6-1h.7m-.6-1.3h.7m-.5 2.5h.7m-.6-.6h.7m-.5-.8h.7m-.3 .7h.7m-.5-1.4h.7m-.4-.4h.7m-.6 1.4h.7m-.5-.1h.7m-.6 .4h.7m-.5-.9h.7m-.6 .3h.7m-.6 1.3h.7m0-2h.7m-.6 1.9h.7m-.2-1.2h.7m-.6 .1h.7m-.7 .1h.7m-.1 1.1h.7m-.7-2.7h.7m0 0h.7m-.5 .2h.7m-.5 2.3h.7m-.6-1.4h.7m-.4-.9h.7m-.4-.2h.7m-.5 2h.7m-.6-.3h.7m.1 .6h.7m-.2-2.3h.7m0 .7h.7m-.5 .6h.7m-.4-1.2h.7m-.6 2.1h.7m-.4-1.1h.7m-.3-.2h.7m0-.7h.7m-.4 .9h.7m1.2 0h.7m1.9 .3h.7m1.8-.9h.7m3.2 .6h.7m18.3 .3h.7m-70.7 3.7h.7m1.3-1.3h.7m.7-.6h.7m3.3 .5h.7m2.1 1.3h.7m-.6-.6h.7m.4 .6h.7m-.6 .5h.7m-.6-2.2h.7m-.6 .9h.7m.2 .9h.7m-.2-1.1h.7m-.5 1.4h.7m-.2-1.3h.7m-.6 1.1h.7m-.6-2h.7m-.6 2h.7m-.2-.4h.7m-.7 .1h.7m-.5 .3h.7m-.5 .1h.7m-.3-2.2h.7m-.7 .2h.7m-.1 .1h.7m-.4 .1h.7m-.6 1h.7m-.6-.2h.7m-.4-.3h.7m-.1 .2h.7m-.7 1.2h.7m-.6-.2h.7m-.6 0h.7m-.7-.8h.7m-.6-.1h.7m-.6-.8h.7m.1 .2h.7m-.4 1.7h.7m-.7 0h.7m-.4-1.1h.7m-.6-.1h.7m-.4-.4h.7m-.7-.9h.7m-.7 .4h.7m-.6 1.7h.7m-.3-.2h.7m-.4 .8h.7m-.7-.3h.7m-.4-.2h.7m-.6 0h.7m-.5-1h.7m-.6 .9h.7m-.6-.4h.7m-.6-1.5h.7m-.6 2.1h.7m-.4-.4h.7m-.7-.7h.7m-.6-.5h.7m-.7 2h.7m-.3-1.9h.7m-.6 .6h.7m-.6 1.1h.7m-.4-1.3h.7m-.6 1.4h.7m-.6 .2h.7m-.7-.6h.7m-.6-1.5h.7m-.7 2.2h.7m-.7 0h.7m-.6-1.5h.7m-.7 1h.7m-.6 .2h.7m-.3 0h.7m-.5-2.2h.7m-.3-.3h.7m-.2 2.4h.7m-.6-2.4h.7m-.5 .2h.7m-.7 1h.7m-.5 .8h.7m-.7-1.4h.7m-.6 1.9h.7m-.5-.6h.7m-.6-.5h.7m-.2 .9h.7m-.6-2.4h.7m-.5 1.7h.7m-.7 .4h.7m-.6-2h.7m-.6 .2h.7m-.4 2.5h.7m-.7-1.5h.7m-.6-.6h.7m-.6-.3h.7m-.5 .8h.7m-.6 .9h.7m-.6-.2h.7m-.5 .1h.7m-.7-.9h.7m.2-.9h.7m-.6 2.2h.7m-.6 .1h.7m-.6-2.3h.7m-.6 1.4h.7m-.7-.3h.7m-.6 .7h.7m-.7-.6h.7m-.6 .6h.7m-.5-1.3h.7m-.6 .5h.7m-.5 .8h.7m-.6 .2h.7m-.2-2.2h.7m-.4 2.9h.7m-.6-2.2h.7m-.7 2.1h.7m-.6-2.4h.7m.3 .2h.7m-.7 2.2h.7m-.7-1.4h.7m-.6 0h.7m-.2 1h.7m-.5-2.4h.7m-.6 1.7h.7m-.6-.5h.7m-.7-.9h.7m-.6 1.4h.7m-.7 .4h.7m-.5-.9h.7m.3 .8h.7m-.5-1.5h.7m-.6 .9h.7m-.7 .8h.7m0-1.3h.7m-.7 .6h.7m-.6-.5h.7m-.7 .4h.7m-.6-.5h.7m-.6-.5h.7m-.6 1.6h.7m-.2-.5h.7m-.7-.7h.7m-.4-.1h.7m-.5 1.4h.7m-.3-.4h.7m-.5-1.3h.7m-.7 2.4h.7m.4-1h.7m-.7 .4h.7m-.5-1.8h.7m-.6 1.4h.7m-.4 0h.7m-.1 .4h.7m-.3-1.7h.7m-.7 1.6h.7m-.6-.1h.7m-.5-1.2h.7m-.7 1.6h.7m-.7-1.9h.7m-.5 1.3h.7m.6-.1h.7m1.1 .3h.7m.1-1.1h.7m.2-.4h.7m5.3 1.9h.7m2.1-2.1h.7m8.1 1.2h.7m1.5-.3h.7m-65 2.8h.7m1.5-.3h.7m1.9 1.3h.7m-.6-1.9h.7m-.2 1.7h.7m.3-1.2h.7m1 1.4h.7m-.5 .4h.7m-.4-1h.7m0 1.4h.7m-.5-.2h.7m.5-2.3h.7m-.6 1.7h.7m-.3 .9h.7m-.4-2.6h.7m-.1 .3h.7m-.4-.4h.7m-.7-.2h.7m-.5 1.5h.7m-.6-.5h.7m-.7-.3h.7m-.5 .2h.7m-.7 .8h.7m-.5-.2h.7m-.4 .2h.7m-.3 .1h.7m-.4-1.4h.7m-.7 .6h.7m-.7 1.2h.7m-.5-1.9h.7m-.2 .8h.7m-.4 .5h.7m-.6-.3h.7m-.7 .5h.7m-.4 0h.7m-.5 .4h.7m-.5-2.1h.7m-.5 2.8h.7m-.6-.1h.7m.1-2.4h.7m-.7 2.4h.7m-.6-.9h.7m-.7-.8h.7m-.7-.2h.7m-.6-.4h.7m-.7 0h.7m-.5 .9h.7m-.5-.5h.7m-.4 .6h.7m-.6 1.1h.7m-.7-1.9h.7m-.5 .9h.7m-.6 1h.7m-.4-2.4h.7m-.7 2.6h.7m-.5-2.1h.7m-.7 2h.7m-.6-2.7h.7m-.3 2.1h.7m-.6-.3h.7m-.6-1.1h.7m-.4-.6h.7m-.6 .6h.7m-.5 2h.7m-.6-1.7h.7m-.5 .6h.7m-.5 .5h.7m-.5-.8h.7m-.7-.5h.7m-.5 1.3h.7m-.6-1.3h.7m-.6-.4h.7m-.6 .7h.7m-.6 .4h.7m-.6-1.3h.7m-.5 1.9h.7m-.7-.8h.7m-.6 .2h.7m-.7 .9h.7m-.5-1.2h.7m-.2 .1h.7m-.5-.7h.7m-.4 1.9h.7m-.7-1h.7m-.5-1.5h.7m-.7 1.4h.7m-.6 .1h.7m-.6 1.1h.7m-.7-1.3h.7m-.6-.8h.7m-.6 1.1h.7m-.6-.1h.7m-.5 .6h.7m-.7-1.9h.7m-.6 2.3h.7m-.7-1.9h.7m-.7 2.3h.7m-.4-2.7h.7m-.7 .5h.7m-.6 1.3h.7m-.7-.3h.7m-.6 1h.7m-.6-1.1h.7m-.3 .9h.7m-.6-1.4h.7m-.5 .3h.7m-.6-.9h.7m-.6-.3h.7m-.7-.2h.7m-.4 1.9h.7m-.5 0h.7m-.6-1.8h.7m-.4 .5h.7m-.5-.4h.7m-.7 1.9h.7m-.6-1.6h.7m-.5-.2h.7m-.5-.2h.7m-.2-.1h.7m-.7 2.8h.7m-.6-.5h.7m-.6 0h.7m-.7-1.5h.7m-.6 .9h.7m-.7 1.2h.7m-.7-1h.7m-.5 .5h.7m-.6 0h.7m-.6-2.4h.7m-.6 1.7h.7m-.7 .1h.7m-.7-1.1h.7m-.7-.3h.7m-.6 1.4h.7m-.7 .1h.7m-.6 .3h.7m-.6-2h.7m-.7 2.3h.7m-.5-2.3h.7m-.2 2.4h.7m-.6-.8h.7m-.5 .6h.7m-.5-2.3h.7m-.7 1.5h.7m-.7-.7h.7m-.4 1.1h.7m-.7-.8h.7m-.2-.1h.7m-.6 1.8h.7m-.1-2.6h.7m-.6 1h.7m-.7-1h.7m-.3 .7h.7m-.7 1h.7m-.7-1h.7m-.7 1.8h.7m-.5-2.8h.7m-.3 2.5h.7m-.6-1h.7m0-1.2h.7m-.5 2.1h.7m-.7-1.1h.7m-.5-.6h.7m-.4 .6h.7m-.5-1.1h.7m-.5 1.6h.7m.3-.2h.7m-.6-1.6h.7m-.7 2.3h.7m-.3-.6h.7m0 .4h.7m-.4 .2h.7m.3-1.8h.7m.4 1.8h.7m.2-1.4h.7m.2-.7h.7m-.7-.1h.7m.5 2.7h.7m0-2.6h.7m-.3 2.3h.7m-.7-.3h.7m0-1.3h.7m4.3 1.7h.7m20.7-.2h.7m0-.1h.7m-72.9 1.8h.7m-.3 .9h.7m-.4-.7h.7m2.2 .7h.7m-.4-.9h.7m.1-.3h.7m-.5 1.4h.7m-.5 0h.7m-.6-.5h.7m-.6-.4h.7m-.6 .4h.7m-.5-1.5h.7m-.5 2h.7m-.4 .6h.7m-.6 .1h.7m-.6-2.3h.7m-.6 2h.7m-.6 .2h.7m.1-.7h.7m-.4 .4h.7m-.7-1.4h.7m-.3 1.8h.7m-.4-1.4h.7m-.7 1.4h.7m-.7-2h.7m-.5 .7h.7m-.6 .6h.7m0 .4h.7m-.5 .2h.7m-.2-1.5h.7m-.6-.7h.7m-.7 2h.7m-.5-.1h.7m-.3-1h.7m-.2-1h.7m-.4 .4h.7m-.7-.1h.7m-.3-.6h.7m-.7 .8h.7m-.7 1h.7m-.3-1h.7m-.7-.3h.7m-.6-.4h.7m-.1 2.6h.7m-.6-1h.7m-.4-.5h.7m-.6-.6h.7m-.7 1h.7m-.7 .6h.7m-.7-2.1h.7m-.7 1.7h.7m-.3 .6h.7m-.7-1.5h.7m-.6-1.1h.7m-.6 .9h.7m-.5-.5h.7m-.5 .2h.7m-.6 .2h.7m-.3 1.1h.7m-.5-1h.7m-.6-.3h.7m-.5 .2h.7m-.3 .8h.7m-.3-.6h.7m-.7-.7h.7m-.6 2.2h.7m-.7-2.2h.7m-.5 .1h.7m-.7 1.9h.7m-.6-.7h.7m-.5-.1h.7m-.7 .3h.7m-.6-.9h.7m-.1-.2h.7m-.6 .1h.7m-.5 1.1h.7m-.3 .9h.7m-.4-2.7h.7m-.6 1.6h.7m-.5 .3h.7m-.2-.3h.7m-.5 .9h.7m-.4 .1h.7m-.7-1.3h.7m-.3-1.1h.7m-.7 1.3h.7m-.6-1.3h.7m-.6-.1h.7m-.7 .9h.7m-.7 1h.7m-.5-1.2h.7m-.7 .5h.7m-.4 .4h.7m-.7-.2h.7m-.5-.3h.7m-.6 .5h.7m-.6-.5h.7m-.7 1.1h.7m-.6-.5h.7m-.7-.7h.7m-.5-.4h.7m-.7 .3h.7m-.4 1.4h.7m-.7-2h.7m-.6 0h.7m-.6 2.1h.7m-.6-.1h.7m-.7 .3h.7m-.4-2.3h.7m-.7 .5h.7m-.5 1.8h.7m-.7 0h.7m-.7-.1h.7m-.6-2.1h.7m-.6 .4h.7m-.6 .1h.7m-.7 1.8h.7m-.6-2.2h.7m-.3 .1h.7m-.6 .2h.7m-.7-.2h.7m-.5-.3h.7m-.6-.3h.7m-.6 2.7h.7m-.5-.5h.7m-.6-1.5h.7m-.5 1.1h.7m-.7-.9h.7m-.7-.3h.7m-.4 1.6h.7m-.5-1.2h.7m-.2-1.1h.7m-.7 2.8h.7m-.5-1.7h.7m-.4-1.1h.7m-.7 1h.7m-.7-.3h.7m-.4-.2h.7m-.4 1.4h.7m-.5-.4h.7m-.6-.9h.7m-.7 .9h.7m-.6-.9h.7m-.6 .1h.7m-.5-.2h.7m-.4 1.2h.7m-.7-1.7h.7m0 .3h.7m-.7 .3h.7m-.7 1.2h.7m-.6 .1h.7m-.5-.7h.7m-.5-1.1h.7m-.5 2.3h.7m-.6-2.5h.7m-.7 .1h.7m-.6 2.4h.7m-.5-.8h.7m-.6 .1h.7m-.7-.1h.7m-.6 1.2h.7m-.7-2h.7m-.6-.2h.7m-.7 2.2h.7m-.6-2.4h.7m-.5 1.1h.7m-.7-.9h.7m-.2 1.7h.7m-.5-1.9h.7m.2-.4h.7m-.7 2h.7m-.6 .3h.7m-.7 0h.7m-.5 .3h.7m-.6-1.2h.7m-.4-.9h.7m-.6 2.3h.7m-.5-1.5h.7m-.7-.5h.7m-.2-.1h.7m-.7 1.6h.7m-.6-1.6h.7m-.2 2h.7m-.7-1.4h.7m-.6 .1h.7m-.4 .1h.7m-.6-.8h.7m-.4-.6h.7m-.7-.1h.7m-.7-.1h.7m-.5 2.6h.7m-.6-1h.7m-.7-.6h.7m-.6-1h.7m-.6 2.3h.7m-.4-.2h.7m-.6-2h.7m.1 0h.7m-.6 1.7h.7m-.5-.5h.7m.6-.6h.7m-.2-.7h.7m-.2 2.7h.7m-.6-2.5h.7m-.4 .8h.7m.2 .2h.7m-.7 .7h.7m-.6 .8h.7m1.3-1.1h.7m-.6-1.4h.7m-.5 1.5h.7m1.4-1h.7m.9 .8h.7m.1-.7h.7m.8 1.9h.7m2.3-2.2h.7m2.2-.5h.7m12 1.7h.7m4.7-.6h.7m-74.2 4.8h.7m.5-2.5h.7m2.2 1.4h.7m.2 .9h.7m-.4-.6h.7m-.1-.7h.7m.3 1.4h.7m0-2h.7m.1 .6h.7m-.2 1.5h.7m.3-.5h.7m-.3-1.7h.7m-.6-.4h.7m-.6 1.1h.7m-.2 1.2h.7m.2-.9h.7m-.6-1.6h.7m-.4 1.9h.7m-.6-1.4h.7m-.1 2.3h.7m-.4-2.4h.7m-.1-.3h.7m-.4 2.3h.7m-.7-2.3h.7m-.5 1.2h.7m-.7 .2h.7m-.7 .4h.7m-.4-2h.7m-.4 2h.7m-.7-1.1h.7m-.7 1.7h.7m-.5-2.2h.7m-.7 .4h.7m-.7 1h.7m-.5 1h.7m-.6-1.2h.7m-.6-1.5h.7m-.5 2.8h.7m-.6-1.1h.7m-.7-1.4h.7m-.6 .2h.7m-.5 .2h.7m-.5-.1h.7m-.6 2h.7m-.7-.5h.7m-.5 .6h.7m-.6-2.7h.7m-.5 1.5h.7m-.6 1.3h.7m-.6-2h.7m-.5 1.7h.7m-.6-2.1h.7m-.5 1.4h.7m-.6-1.5h.7m-.4 1.3h.7m-.6 1.1h.7m-.6-.5h.7m-.5-.9h.7m-.7 1.3h.7m-.6-1h.7m-.7 .3h.7m-.2 .8h.7m-.7-1.2h.7m-.4-.3h.7m-.6-.8h.7m-.5 2.4h.7m-.6-1.1h.7m-.7-.8h.7m-.4 1.6h.7m-.5-1.7h.7m-.6 1h.7m-.6-.9h.7m-.6 1.4h.7m-.7-2.2h.7m-.5-.1h.7m-.6 1.3h.7m-.7-.6h.7m-.7-.2h.7m-.7 .6h.7m-.7-.3h.7m-.6 0h.7m-.7-.4h.7m-.5 .1h.7m-.7 2.3h.7m-.6-2.5h.7m-.6 1.9h.7m-.6-.3h.7m-.5-1.5h.7m-.7 1.1h.7m-.5-1.3h.7m-.2 1.3h.7m-.6-.1h.7m-.7-1.3h.7m-.7 .3h.7m-.4 .2h.7m-.6 1.1h.7m-.6 1.1h.7m-.7-2h.7m-.4 1.1h.7m-.4-1.2h.7m-.7 1.2h.7m-.6-1.5h.7m-.2 2.3h.7m-.6-.8h.7m-.5 .1h.7m-.5 0h.7m-.6 .4h.7m-.6-1.8h.7m-.7-.6h.7m-.4 .9h.7m-.7 1h.7m-.6-2h.7m-.7 2.6h.7m-.7-2.2h.7m-.6 0h.7m-.5 1.1h.7m-.5-.9h.7m-.4 1.6h.7m-.5-2.1h.7m-.6 .2h.7m-.7-.1h.7m0 2.2h.7m-.7-2.4h.7m-.6 2.7h.7m-.6-2h.7m-.3-.4h.7m-.5 1.8h.7m-.7-1.6h.7m-.6 .4h.7m0 1.7h.7m-.6-1.2h.7m-.7-.7h.7m-.6 1.5h.7m-.7-1.5h.7m-.3 1.9h.7m-.6-1.5h.7m-.4 1.2h.7m-.5 .1h.7m-.6 .4h.7m-.7-.4h.7m-.3-1.4h.7m-.7-.9h.7m-.5 2.3h.7m-.4-2.1h.7m-.4 .3h.7m-.7 2.2h.7m-.4-.6h.7m-.6-.3h.7m-.5-1.8h.7m-.6 2.2h.7m-.6-1.1h.7m-.6 0h.7m-.5 1.6h.7m-.2-.5h.7m-.6-.9h.7m-.5 1.2h.7m.1-.8h.7m0 .9h.7m.3-.7h.7m-.7-1.5h.7m-.4 2.1h.7m-.6-1.9h.7m-.3 .4h.7m-.2-.8h.7m2.4 1.4h.7m-.5 .5h.7m0-.7h.7m.6 1.4h.7m3.2-2.4h.7m-45.2 4h.7m-.4-1.4h.7m-.4 1.1h.7m-.1 .6h.7m-.3-.7h.7m-.3 .6h.7m-.6-.9h.7m.2 1.9h.7m1.1-2.6h.7m-.4 .8h.7m-.4 1.6h.7m-.6-.2h.7m0-1.2h.7m-.5-.5h.7m-.1 .2h.7m.2 1.1h.7m-.3 .7h.7m-.4-1.7h.7m-.5 1.4h.7m-.2-2.3h.7m-.3 0h.7m-.6 2h.7m-.6 .3h.7m-.3-.2h.7m-.4-.7h.7m-.6-.5h.7m-.2 .6h.7m-.6-.2h.7m-.7 0h.7m-.6-.6h.7m-.5 1.8h.7m-.6-.2h.7m-.3-2.2h.7m-.2 .7h.7m-.5 1.5h.7m-.6-1.4h.7m-.5-.7h.7m-.5 2.3h.7m-.6 .3h.7m-.6-2.6h.7m-.5 2.2h.7m-.7-1h.7m-.6 1h.7m-.5-.6h.7m-.6 .8h.7m-.5-2.5h.7m-.6 .5h.7m-.1 .7h.7m-.7 .2h.7m-.7-.1h.7m-.6-.7h.7m-.7 2.1h.7m-.7-1.9h.7m-.6 0h.7m-.3-.7h.7m-.6 1.1h.7m-.6 1.3h.7m-.7-2.2h.7m-.7 1.9h.7m-.6 .1h.7m-.3 .1h.7m-.7-2.4h.7m-.6 1.7h.7m-.7 0h.7m-.5-.4h.7m-.7 .4h.7m-.5-.6h.7m-.6 .3h.7m-.7-.2h.7m-.3-.1h.7m-.7 1.6h.7m-.5-1.1h.7m-.4-.2h.7m-.5-.1h.7m-.4-.6h.7m-.6 1.5h.7m-.5-1.8h.7m-.7 .5h.7m-.3 .2h.7m-.6 .1h.7m-.7-.2h.7m-.6 1h.7m-.7-1.3h.7m-.5 1.8h.7m-.7-1h.7m-.7-1.3h.7m-.5 2h.7m-.6-.6h.7m-.5-1.7h.7m-.3 .8h.7m-.5 1.8h.7m-.6-.7h.7m-.5-1.4h.7m-.7 .5h.7m-.6-.6h.7m-.5 .7h.7m-.6-.2h.7m-.7 1.1h.7m-.6 .1h.7m-.7 .2h.7m-.6-.2h.7m-.6-.6h.7m-.3-.8h.7m-.5 .9h.7m-.6-1.6h.7m-.7 0h.7m-.6 1.3h.7m-.6-.6h.7m-.7 1.4h.7m-.6-1.5h.7m-.6 .6h.7m-.6 .5h.7m-.5-.8h.7m-.5-.7h.7m0 2.1h.7m-.6-.9h.7m-.4 0h.7m-.1 0h.7m-.4-1.3h.7m.2 .9h.7m0 .4h.7m-.7 1.3h.7m-.5-.2h.7m-.7-.3h.7m-.3-2h.7m0 .1h.7m-.6 2.3h.7m-.7 .3h.7m-.1-1.1h.7m-.5-1.4h.7m-.3 1.8h.7m-.5 .1h.7m-.7-1.8h.7m-.4 .3h.7m-.2 1.6h.7m-.2-.9h.7m-.7 .4h.7m-.6 .6h.7m-.5-1.1h.7m-.6-.1h.7m.1 .2h.7m-.3 .4h.7m-.1 1h.7m0 0h.7m.1-.8h.7m.3 .5h.7m-.3-1.4h.7m0-1.2h.7m-.2 2.6h.7m-.4-2.1h.7m-.2-.1h.7m.5-.3h.7m1.3-.1h.7m-.3 1.5h.7m7.3 .9h.7m1.5-2.1h.7m10.9 2.6h.7m5.3-1.6h.7m-69.4 4.5h.7m1.9-.4h.7m-.3-.2h.7m.2-.2h.7m-.7-.7h.7m-.1-.7h.7m-.4 2.3h.7m-.6-1.8h.7m-.6 .9h.7m-.6-.6h.7m-.5 .3h.7m-.5-1.2h.7m.2-.1h.7m-.7 .9h.7m-.4-1h.7m-.6 1.3h.7m.6 .1h.7m-.5 .1h.7m-.6-.9h.7m-.5 1.1h.7m-.6-1.3h.7m-.7 2.2h.7m-.3-2.5h.7m-.5 1.7h.7m-.5-1.6h.7m0 2.3h.7m.1-1.7h.7m-.5 .3h.7m0-.4h.7m-.1-.6h.7m-.4 1.9h.7m-.6 .3h.7m-.6-2.5h.7m-.4 1.2h.7m0-.2h.7m-.5-.1h.7m-.5 .3h.7m-.6 .3h.7m-.3-1.6h.7m-.6 2.4h.7m-.6 .4h.7m-.6-2.8h.7m-.4 .1h.7m-.5 .2h.7m-.6 .2h.7m-.5 0h.7m-.1 1.9h.7m-.1-.8h.7m-.4-1.3h.7m-.7 2.4h.7m-.2-.6h.7m-.7 .3h.7m-.5 .1h.7m-.6-1.3h.7m-.7-.6h.7m-.4 .7h.7m-.6-.4h.7m-.7-.1h.7m-.5-.8h.7m-.5 1.7h.7m-.7-.3h.7m-.3-.1h.7m-.4-.4h.7m-.6 2h.7m-.6-.8h.7m-.6-.4h.7m-.6 .1h.7m-.6-.4h.7m-.5-.6h.7m-.4 1.9h.7m-.7-2.4h.7m-.6 .6h.7m-.6 .8h.7m-.1-1h.7m-.6 .3h.7m-.4 .6h.7m.6-.8h.7m-.6 .5h.7m-.4 .8h.7m-.4 .5h.7m-.5-2.3h.7m-.6-.2h.7m-.6 1.3h.7m-.7 .3h.7m-.5 0h.7m-.7 .5h.7m-.5-2h.7m-.5 1h.7m-.7 1.1h.7m-.7-1.3h.7m-.6-.6h.7m-.7 2.3h.7m-.5-.5h.7m-.5-1.4h.7m-.1 .4h.7m-.4 1.3h.7m-.4-1.3h.7m.7 1.4h.7m-.2-1.6h.7m-.7 1.1h.7m-.2-.7h.7m.4-.8h.7m-.6 2h.7m-.5-.3h.7m0 0h.7m-.2-.9h.7m.2-.8h.7m-.4 2.3h.7m.5-1.6h.7m.3-.8h.7m-.5 1.1h.7m.3-.7h.7m-.1 .4h.7m-.4 1.3h.7m.6-2.5h.7m.5 1.8h.7m.8-1h.7m-.1 .6h.7m-.3 1.4h.7m6.2-2h.7m7-.8h.7m9.1 0h.7m3.2 1.4h.7m-71.8 3.9h.7m-.7-1.1h.7m2.3 1.2h.7m.5-.8h.7m-.2-.1h.7m.5 .4h.7m-.7 .7h.7m-.4-.2h.7m-.1-1.6h.7m-.7 1.1h.7m-.5 .8h.7m-.6-.2h.7m-.6-.2h.7m-.5-.7h.7m-.7 .1h.7m.2 .1h.7m-.6-1.5h.7m-.1 1.2h.7m-.7-1.3h.7m-.5 .8h.7m-.4 .1h.7m-.5 .9h.7m0-1.3h.7m.6 0h.7m.1-.5h.7m-.7 .6h.7m-.6 2h.7m-.7-1.6h.7m-.5-.5h.7m0-.4h.7m-.6 .7h.7m-.6 .4h.7m-.4-1.3h.7m-.5-.1h.7m-.6 .1h.7m-.6 2h.7m0-1h.7m-.6-.1h.7m-.6 .7h.7m-.3 .7h.7m-.5-.6h.7m-.6-1.3h.7m-.5 1.7h.7m-.6-2.3h.7m-.7 2.8h.7m-.6-.1h.7m-.2-.4h.7m0-1.1h.7m0-1h.7m-.3 .2h.7m-.7 .5h.7m-.1 .5h.7m-.4-1.4h.7m.1 1.6h.7m-.6-.7h.7m-.6 .4h.7m-.4-1h.7m-.6 2.1h.7m-.5 .2h.7m-.7-1.2h.7m-.6 .9h.7m-.6-.2h.7m0 .4h.7m-.6-.3h.7m-.7-.8h.7m-.7 .1h.7m-.2-1.3h.7m-.6 .6h.7m-.5 .3h.7m-.5-.6h.7m-.6-.5h.7m.6 2.4h.7m-.6 .2h.7m-.4-1.9h.7m-.5 .6h.7m-.5 .8h.7m.2-.9h.7m-.3-.1h.7m-.7 1.6h.7m-.5-1.7h.7m.1 1.3h.7m-.7 .6h.7m-.5-2.2h.7m-.7 1.6h.7m-.6-1.6h.7m-.3 2.1h.7m-.7-.4h.7m.6-2.2h.7m1.2 1.9h.7m.2-.6h.7m.8-1.5h.7m-.5 1.6h.7m1.1-.4h.7m-.4 .8h.7m1.9-1.6h.7m22.1 2.2h.7m-62.3 1.3h.7m1.8-.1h.7m2 .2h.7m.8-.4h.7m.6 .5h.7m.8 .6h.7m1.1-1.4h.7m-.2-.1h.7m-.2 .3h.7m-.5 .3h.7m-.5 .4h.7m.2-.6h.7m-.4-.1h.7m.1-.1h.7m0-.2h.7m.6 .4h.7m-.7-.5h.7m.1 1.4h.7m-.2-1.2h.7m-.2-.2h.7m-.4 1.7h.7m.2-1.7h.7m-.5 .3h.7m-.2 .8h.7m1.9-.6h.7m-.5 .7h.7m-.3-.8h.7m-.5-.2h.7m-.7 0h.7m-.6 .4h.7m-.5-.4h.7m.1 .2h.7m-.2-.5h.7m1.2 1.2h.7m.9-.6h.7m3.7-.3h.7m7.2 .9h.7m3.9 .1h.7m18.2-.9h.7" stroke="#f01818" stroke-width="0.8" stroke-opacity="0.5" fill="none"/>
<ellipse cx="246.4" cy="286.6" rx="3.2" ry="2.4" transform="rotate(-80 246.4 286.6)" fill="#ff0a0a" filter="url(#bl)"/>
<ellipse cx="252" cy="312" rx="5.25" ry="3.5" transform="rotate(-30 252 312)" fill="#ff0a0a" filter="url(#bl)"/>
<path d="M268.8 275.8h.7m-.6-.7h.7m-.3 .5h.7m-22 3.3h.7m-.2-.5h.7m3.7 .3h.7m-.4-1.4h.7m14.9 .3h.7m-.6-.7h.7m-.4-.6h.7m-.2 2.3h.7m-.1-1h.7m.8-1.3h.7m1 2.3h.7m-.6-1.3h.7m-32.4 3.1h.7m-.5 1.2h.7m-.5-1.2h.7m-.1-.5h.7m-.3 2h.7m-.7-2.8h.7m-.6 2.7h.7m-.5-1h.7m-.5 0h.7m-.3 .8h.7m-.5-2h.7m-.7 1.7h.7m-.7-1.5h.7m-.7 1.7h.7m-.7-1.8h.7m-.2 1.1h.7m-.7-1h.7m-.6 .7h.7m-.4 .4h.7m-.1-1h.7m-.7 1.5h.7m-.4 .2h.7m-.6-1.4h.7m-.6 1.7h.7m-.7-.2h.7m-.7-.4h.7m-.6-1.7h.7m-.7 .2h.7m-.4 1.2h.7m-.7 .6h.7m-.6 0h.7m-.7-.1h.7m-.5-1h.7m-.7-.1h.7m-.6 1.5h.7m-.5-1.1h.7m-.6 1.1h.7m-.4-.7h.7m-.7 .7h.7m-.6-2.1h.7m-.4 1.3h.7m-.6-.6h.7m-.5 1.4h.7m-.4-2.9h.7m-.7 2.9h.7m-.7-.9h.7m-.6 .9h.7m-.5-2h.7m-.4 .5h.7m-.4 .2h.7m-.6 .5h.7m-.6-.9h.7m-.5 1.3h.7m-.5 .3h.7m-.6-.6h.7m-.6 .3h.7m-.2-.7h.7m.5-1.5h.7m13.2 2.6h.7m.8-1.5h.7m0-.3h.7m-.3 1.3h.7m-.7-1.4h.7m-.5 1.2h.7m.5-1.2h.7m.3-.9h.7m3.1 2.3h.7m-39.2 3.3h.7m2.4-.1h.7m1.8-1.9h.7m-.5 1.6h.7m-.4-.7h.7m-.4-.3h.7m-.6 1.4h.7m-.6 .2h.7m-.7-2.8h.7m-.7 2.4h.7m-.6 .3h.7m-.6-.2h.7m-.5-.6h.7m-.7-.6h.7m-.6-.6h.7m-.6 1.2h.7m-.7-.4h.7m-.7-.9h.7m-.6-.7h.7m-.7 1.9h.7m-.6-1.7h.7m-.5-.1h.7m-.7 1.5h.7m-.7 1h.7m-.6-2.6h.7m-.7 1.3h.7m-.7 1.1h.7m-.6-.3h.7m-.6-.8h.7m-.7 1.5h.7m-.7-.8h.7m-.6 .5h.7m-.5-.8h.7m-.7-.8h.7m-.7 .8h.7m-.7 .1h.7m-.7-1.3h.7m-.6 1.7h.7m-.7-1.5h.7m-.5 0h.7m-.7 1.4h.7m-.6 .7h.7m-.7-.2h.7m-.6-1h.7m-.7 .2h.7m-.6 .5h.7m-.7-.4h.7m-.7 .9h.7m-.7-2.6h.7m-.6 0h.7m-.7 2.6h.7m-.7-2.6h.7m-.6 2.2h.7m-.7-.7h.7m-.7 .2h.7m-.7 1h.7m-.7-.8h.7m-.7 .7h.7m-.7-.2h.7m-.7-1.8h.7m-.7 .2h.7m-.6 .7h.7m-.7-1.1h.7m-.6 2.3h.7m-.7-2.1h.7m-.7 .3h.7m-.7-.1h.7m-.7 .5h.7m-.6-.5h.7m-.7 1.3h.7m-.7-2.1h.7m-.6 .3h.7m-.7 .7h.7m-.7-.4h.7m-.7 1.3h.7m-.7 0h.7m-.7-1.1h.7m-.7 .3h.7m-.7 1.6h.7m-.6-.3h.7m-.7-1.9h.7m-.7 .1h.7m-.7 1.4h.7m-.7-1.8h.7m-.6 2h.7m-.7-2.2h.7m-.7 .6h.7m-.7 2h.7m-.6-1.7h.7m-.7 1.5h.7m-.7-.3h.7m-.7-.5h.7m-.7-.8h.7m-.6-.6h.7m-.7 0h.7m-.7 .3h.7m-.6 2h.7m-.7-2.5h.7m-.7 2.2h.7m-.6 .1h.7m-.7-1.2h.7m-.6 .1h.7m-.7 .7h.7m-.7 .6h.7m-.7 .2h.7m-.7-1h.7m-.6-.4h.7m-.7 1.3h.7m-.7-.2h.7m-.7 .2h.7m-.7-2.7h.7m-.7-.1h.7m-.7 2.8h.7m-.6-1h.7m-.7-.9h.7m-.7 2h.7m-.7-1.4h.7m-.7-.2h.7m-.7 .9h.7m-.6 .4h.7m-.7 .1h.7m-.7-1.2h.7m-.7 1.2h.7m-.6-2.5h.7m-.7 .6h.7m-.7 .4h.7m-.7-1h.7m-.6 2.5h.7m-.7-1.6h.7m-.7 1.6h.7m-.6 .2h.7m-.7-2.2h.7m-.7 .8h.7m-.6-1h.7m-.7-.3h.7m-.7 1.1h.7m-.7-1.1h.7m-.7 2.1h.7m-.7-1.1h.7m-.7 .1h.7m-.7 .1h.7m-.6 .5h.7m-.7-1.2h.7m-.7 1.4h.7m-.7 .2h.7m-.6 0h.7m-.7-1h.7m-.7 .7h.7m-.6-.8h.7m-.7 1.3h.7m-.7 .1h.7m-.6-1.6h.7m-.7 1.9h.7m-.6-1.4h.7m-.7 .3h.7m-.7 .7h.7m-.6-1.4h.7m-.7-1h.7m-.7 1h.7m-.6 .1h.7m-.7-.1h.7m-.7 1.7h.7m-.6-.6h.7m-.7 .2h.7m-.6 .2h.7m-.7-2h.7m-.6 1.7h.7m-.7-1.8h.7m-.5 1.9h.7m-.7 .3h.7m-.7-2.6h.7m-.7 .7h.7m-.6 .3h.7m-.7 .9h.7m-.7 .6h.7m-.7-1.5h.7m-.6 1.6h.7m-.7-2.1h.7m-.6 2.1h.7m-.7-1.1h.7m-.6-.5h.7m-.7 1.5h.7m-.7-2.6h.7m-.6 .3h.7m-.6 2.2h.7m-.6-.2h.7m-.7 .3h.7m-.6-1.3h.7m-.7 .4h.7m-.7 .9h.7m-.7 .1h.7m-.6-.7h.7m-.6 .1h.7m-.7 .3h.7m-.7-.6h.7m-.5 1.1h.7m-.6-.9h.7m-.7 .9h.7m-.6-2.6h.7m-.6-.2h.7m-.6 1.2h.7m-.6 .9h.7m-.5 .1h.7m-.7-.2h.7m-.6-.9h.7m-.5 .7h.7m-.6-1.7h.7m-.4 2.6h.7m-.4-1.1h.7m-.7-1.5h.7m-.3 2.2h.7m-.2-.4h.7m-.6-1.1h.7m.5 .5h.7m-.4-.5h.7m7.5 1.5h.7m-.1-.4h.7m.1-1.2h.7m-.1-.6h.7m-.4 2.1h.7m-.2 .5h.7m-.5-1.4h.7m-.4-.4h.7m-.5-.1h.7m-.7 .8h.7m-.5 1h.7m.2-.3h.7m-.1-1.8h.7m-.6 1.1h.7m-.7 1.2h.7m-.5-.1h.7m-.5-.2h.7m-.4-1.9h.7m-.7-.6h.7m-.4 2.3h.7m-.1-.2h.7m.4 .1h.7m.6-1h.7m-32.3 2h.7m-.6 .6h.7m-.2-.8h.7m-.7 2.5h.7m-.5-2.4h.7m-.4 2.3h.7m-.5-.1h.7m-.3-1.2h.7m-.6 .3h.7m-.3-.8h.7m-.7 .9h.7m-.6 0h.7m-.5-1.3h.7m-.7 2.4h.7m-.7-.2h.7m-.6-1.1h.7m-.5-.8h.7m-.6 1.3h.7m-.7-1.9h.7m-.7 .7h.7m-.5 1.8h.7m-.7-2h.7m-.7 .7h.7m-.5 .9h.7m-.7 .2h.7m-.5 .6h.7m-.7-2.9h.7m-.7 2h.7m-.6 .5h.7m-.6-1.2h.7m-.7-.3h.7m-.7 .4h.7m-.6 .2h.7m-.7 .6h.7m-.6-2.1h.7m-.7 2.5h.7m-.7-.6h.7m-.7 .7h.7m-.6-1.8h.7m-.6 2h.7m-.7-.2h.7m-.6-2.3h.7m-.7 1.1h.7m-.6 1h.7m-.7 .2h.7m-.7-.1h.7m-.7-1.1h.7m-.7 1.2h.7m-.7-2.3h.7m-.7 .1h.7m-.7 2.3h.7m-.7-2h.7m-.6 .8h.7m-.7-1.4h.7m-.7 1.9h.7m-.6-.8h.7m-.7 .8h.7m-.7 .6h.7m-.7-.8h.7m-.6-1.6h.7m-.7 .4h.7m-.7 1.5h.7m-.7-1h.7m-.6 .7h.7m-.7-.2h.7m-.7 1h.7m-.6-1.4h.7m-.7-.4h.7m-.7-.1h.7m-.7 .1h.7m-.6 .9h.7m-.7-1.2h.7m-.7-.5h.7m-.7 2.3h.7m-.7-.7h.7m-.7 .3h.7m-.6 .8h.7m-.7-2.6h.7m-.6 2.3h.7m-.7-2.3h.7m-.6 2.6h.7m-.7 0h.7m-.7-2.6h.7m-.6 2.5h.7m-.7-1.1h.7m-.7 1.3h.7m-.6-2.4h.7m-.6 .1h.7m-.7 1.1h.7m-.7 .7h.7m-.7-.8h.7m-.6-1.5h.7m-.7 1.6h.7m-.7-1.6h.7m-.7 .4h.7m-.7 .7h.7m-.6-.6h.7m-.7 .5h.7m-.7 1h.7m-.7 .4h.7m-.7-1.9h.7m-.7-.4h.7m-.7 2.1h.7m-.7-1.3h.7m-.6 .6h.7m-.7-1.2h.7m-.7 1.8h.7m-.7 0h.7m-.7-.3h.7m-.6 0h.7m-.7 1h.7m-.7-.8h.7m-.7-1.4h.7m-.6-.5h.7m-.7 .6h.7m-.7 .1h.7m-.7-.9h.7m-.7 .9h.7m-.7 1.4h.7m-.6-1.6h.7m-.7 1.3h.7m-.7-.2h.7m-.7-1.3h.7m-.6 0h.7m-.7 .5h.7m-.7-1h.7m-.7 2h.7m-.7 .3h.7m-.7-.9h.7m-.7-.9h.7m-.6-.1h.7m-.7 .8h.7m-.7 .3h.7m-.7-.3h.7m-.7 .4h.7m-.7 .6h.7m-.6-.3h.7m-.7 0h.7m-.7-.2h.7m-.7-.3h.7m-.7 .4h.7m-.7-.8h.7m-.7 .5h.7m-.6 .8h.7m-.7-.8h.7m-.7-.5h.7m-.7 .7h.7m-.7 0h.7m-.7-1h.7m-.7 .6h.7m-.7 1.6h.7m-.7-1h.7m-.6 .2h.7m-.7-.8h.7m-.7-.1h.7m-.7 1h.7m-.6-1.6h.7m-.7 1.9h.7m-.7-1.5h.7m-.7-.6h.7m-.7 2.3h.7m-.7-.8h.7m-.7-.1h.7m-.7 .1h.7m-.7-1.2h.7m-.6 1.8h.7m-.7-1.2h.7m-.7 1.1h.7m-.7 .4h.7m-.6-.7h.7m-.7-1.2h.7m-.7 .8h.7m-.7 .7h.7m-.7-.8h.7m-.7 .7h.7m-.6-.8h.7m-.7 .5h.7m-.7-1.1h.7m-.7 .7h.7m-.6-.4h.7m-.7-.4h.7m-.7-.6h.7m-.7 1.5h.7m-.7-.6h.7m-.7 .1h.7m-.7 1.2h.7m-.7-.8h.7m-.6-.2h.7m-.7 .1h.7m-.7 0h.7m-.6-.1h.7m-.7-.8h.7m-.7 .4h.7m-.7 .3h.7m-.7-.5h.7m-.6 .5h.7m-.7-.7h.7m-.7 1.4h.7m-.6-.6h.7m-.7 .2h.7m-.7-.7h.7m-.7 .3h.7m-.6 1.7h.7m-.7-2.1h.7m-.7 1.1h.7m-.6-.9h.7m-.7 1.3h.7m-.7 .6h.7m-.7-.5h.7m-.7-2.2h.7m-.7 2.6h.7m-.7-2.8h.7m-.7 1.6h.7m-.6 .7h.7m-.7-1.1h.7m-.7-.5h.7m-.7-.6h.7m-.7 1.4h.7m-.7 .3h.7m-.6-1h.7m-.7 1.4h.7m-.7-1h.7m-.7 .8h.7m-.6 0h.7m-.7-1.5h.7m-.7 2.1h.7m-.6-.7h.7m-.7-1.5h.7m-.7 0h.7m-.7 .7h.7m-.7 1.4h.7m-.7 .1h.7m-.7-1.2h.7m-.7 .1h.7m-.6-1.1h.7m-.7 1.6h.7m-.6-1.8h.7m-.7 .2h.7m-.7 2.1h.7m-.6 .3h.7m-.7-2.4h.7m-.7-.1h.7m-.7 1.7h.7m-.7-.4h.7m-.6-.9h.7m-.7-.5h.7m-.6 1h.7m-.7 .8h.7m-.7-.4h.7m-.7 .9h.7m-.7 .1h.7m-.7-2.4h.7m-.5 2h.7m-.7-1.6h.7m-.5 1.4h.7m-.7 0h.7m-.6-.6h.7m-.7-.5h.7m-.7 1h.7m-.7-.6h.7m-.6-1.3h.7m-.7 1.4h.7m-.6 .4h.7m-.7-1.4h.7m-.7 .9h.7m-.6-.1h.7m-.7 .4h.7m-.7-.6h.7m-.7 1.2h.7m-.7 .2h.7m-.6-.3h.7m-.7 .8h.7m-.7-.4h.7m-.6-.5h.7m-.6-1.1h.7m-.7 .3h.7m-.7-.1h.7m-.6 .7h.7m-.7 1h.7m-.7-.5h.7m-.7-1.7h.7m-.6 .5h.7m-.6 .8h.7m-.6 .9h.7m-.7-2.8h.7m-.4 .3h.7m-.6-.2h.7m-.7 1.6h.7m-.7 1h.7m-.6-1.3h.7m-.6 .7h.7m-.6-1.4h.7m-.7 2.1h.7m-.7-2.5h.7m-.3 2.1h.7m-.6 .5h.7m-.7-2.1h.7m-.6 .1h.7m-.7 1.4h.7m-.7-.7h.7m.4-1.6h.7m.7 2.3h.7m9-1.3h.7m-.2-.8h.7m-.6 1.3h.7m.3-1.3h.7m-.5 .9h.7m-.5 0h.7m.3-.7h.7m-.2-.4h.7m.1 1h.7m-.1-.6h.7m-.5 .7h.7m2 .4h.7m-31.6 4.4h.7m-.3-1h.7m-.2-.4h.7m-.6 .2h.7m-.3 .9h.7m-.5-1.4h.7m-.6-.2h.7m-.6 .5h.7m-.6-1.5h.7m-.7 1.7h.7m-.5-.7h.7m-.6 0h.7m-.5 0h.7m-.6 .9h.7m-.7-.8h.7m-.7 .6h.7m-.7-.3h.7m-.6-1.4h.7m-.7 .1h.7m-.6 1.2h.7m-.6-1.1h.7m-.6-.1h.7m-.5 2.1h.7m-.6-1.9h.7m-.7 .4h.7m-.6-.5h.7m-.7 .4h.7m-.5-.3h.7m-.7 .7h.7m-.7 1.3h.7m-.6-2.3h.7m-.7 1.4h.7m-.6-.9h.7m-.6 .1h.7m-.6-.2h.7m-.7 2.5h.7m-.7-2.9h.7m-.6 1.4h.7m-.7 .4h.7m-.7-1.8h.7m-.6 .2h.7m-.7 1h.7m-.7-.2h.7m-.7 .8h.7m-.6-1.5h.7m-.7 1.7h.7m-.6 .9h.7m-.7-2.8h.7m-.6 .5h.7m-.7 1h.7m-.7-1.3h.7m-.6 .6h.7m-.7 .2h.7m-.7 0h.7m-.7-.5h.7m-.6 1h.7m-.7 .2h.7m-.7-1h.7m-.7-.4h.7m-.6 .2h.7m-.7-.2h.7m-.6 .9h.7m-.7-.6h.7m-.7 .3h.7m-.7 .9h.7m-.6-1.1h.7m-.7 .8h.7m-.7-.5h.7m-.7 0h.7m-.7-.8h.7m-.7 .1h.7m-.7 1.3h.7m-.7-.9h.7m-.6 1.7h.7m-.7-.4h.7m-.7-2h.7m-.7 1.7h.7m-.6-.5h.7m-.7-.6h.7m-.7 .1h.7m-.7 1.2h.7m-.6-1.3h.7m-.7 1.9h.7m-.7-1.5h.7m-.6 1.7h.7m-.6-2.2h.7m-.7 1h.7m-.7 .1h.7m-.7-1.3h.7m-.6 1.5h.7m-.7-.3h.7m-.6-.8h.7m-.7 .9h.7m-.7-.7h.7m-.7 .4h.7m-.7 1.4h.7m-.7-1.6h.7m-.7-.7h.7m-.7 .1h.7m-.5 .5h.7m-.7-.9h.7m-.6 .4h.7m-.7 0h.7m-.7 .7h.7m-.7-1h.7m-.7 1h.7m-.7 1.1h.7m-.7-2.3h.7m-.6 2.3h.7m-.7-1h.7m-.7-.8h.7m-.7-.3h.7m-.7 .4h.7m-.6-.2h.7m-.7 1.8h.7m-.7-.1h.7m-.7 .1h.7m-.6-1.3h.7m-.7-.7h.7m-.7 .6h.7m-.7-.1h.7m-.6-.5h.7m-.7 .7h.7m-.7 1.7h.7m-.7-2.1h.7m-.7 0h.7m-.7 1.3h.7m-.7-1.9h.7m-.7 2.4h.7m-.6-2.1h.7m-.7 1h.7m-.7 1.6h.7m-.7-2.5h.7m-.7 .5h.7m-.6 .3h.7m-.7 .3h.7m-.7-.2h.7m-.7-.8h.7m-.7 1.6h.7m-.6-1.4h.7m-.7 .8h.7m-.7-.7h.7m-.7-.6h.7m-.7 1.3h.7m-.7-1.3h.7m-.7 2.3h.7m-.6-.9h.7m-.7-.4h.7m-.7-.5h.7m-.7-.3h.7m-.6 .8h.7m-.7-.6h.7m-.6 .2h.7m-.7 .3h.7m-.7-.8h.7m-.7 .1h.7m-.6 2.3h.7m-.7-2h.7m-.6 1.9h.7m-.7-1h.7m-.7-1.2h.7m-.7 .7h.7m-.7 1.2h.7m-.6-.7h.7m-.7 0h.7m-.6-.9h.7m-.7 .3h.7m-.6 .7h.7m-.7 1.1h.7m-.7-2.1h.7m-.7 1.4h.7m-.5 .8h.7m-.7-2.8h.7m-.7 .4h.7m-.6 0h.7m-.7-.3h.7m-.6 1.8h.7m-.7 .4h.7m-.7-1.9h.7m-.6 1.2h.7m-.7 .2h.7m-.7-.4h.7m-.6-.7h.7m-.6-.6h.7m-.7 1.9h.7m-.7-.2h.7m-.7-.4h.7m-.6-1.2h.7m-.7-.2h.7m-.7 .8h.7m-.6 1.2h.7m-.7 .5h.7m-.7-.5h.7m-.6-.1h.7m-.7-1.8h.7m-.7 .8h.7m-.7-.4h.7m-.6 .7h.7m-.7 .1h.7m-.6-.9h.7m-.6 .1h.7m-.7-.6h.7m-.6 1.5h.7m-.7-1.5h.7m-.6 .5h.7m-.7-.2h.7m-.7 1.7h.7m-.5-1.1h.7m-.7 .1h.7m-.6 1.6h.7m-.7-1.1h.7m-.7-.2h.7m-.6-1.3h.7m-.7 .9h.7m-.7-.5h.7m-.7 1.1h.7m-.7 .2h.7m-.6-.6h.7m-.6-.4h.7m-.6-.5h.7m-.7 .3h.7m-.7 1.7h.7m-.7-1.2h.7m-.6 .6h.7m-.7-.1h.7m-.6 .2h.7m-.6 0h.7m-.7 .1h.7m-.6-1.1h.7m-.7 .4h.7m-.7 .2h.7m-.6-.5h.7m-.7 .8h.7m-.7-1.3h.7m-.3 1.3h.7m-.7 .2h.7m-.3-.3h.7m-.2 0h.7m-.6 .8h.7m0-2.3h.7m-13.7 3.8h.7m1.6-.6h.7m-.6 1.5h.7m-.3 .5h.7m-.2-2.2h.7m-.6 .6h.7m-.6-.4h.7m-.6 .2h.7m-.6 1.2h.7m-.5-1.3h.7m-.2 .6h.7m-.7 0h.7m-.6 .7h.7m-.7-1.1h.7m-.5 .1h.7m-.7-.2h.7m-.7-.4h.7m-.7 1.1h.7m-.5 .3h.7m-.6-.7h.7m-.4-.4h.7m-.7 1.9h.7m-.7 .6h.7m-.5-2.7h.7m-.7 2.1h.7m-.6-.4h.7m-.7-.2h.7m-.7-1.2h.7m-.3 1.8h.7m-.7 .1h.7m-.6-2h.7m-.7 2.3h.7m-.6-2h.7m-.7 .4h.7m-.6-.8h.7m-.7-.2h.7m-.7 .3h.7m-.6-.2h.7m-.6 2.1h.7m-.7-1.6h.7m-.6-.2h.7m-.7 .3h.7m-.7-.3h.7m-.7 2h.7m-.6-2h.7m-.7 .8h.7m-.7 .9h.7m-.6-1.9h.7m-.5-.2h.7m-.6 2.4h.7m-.7-1.5h.7m-.7-.5h.7m-.5 .7h.7m-.7-.5h.7m-.6-.6h.7m-.6 0h.7m-.5 1h.7m-.7 1.8h.7m-.6-1.8h.7m-.7 .3h.7m-.6 .2h.7m-.7 .5h.7m-.6-.4h.7m-.7 .9h.7m-.6-1.8h.7m-.7 1.6h.7m-.4-2.3h.7m-.4 1.3h.7m-.7-1.1h.7m-.6 .1h.7m-.7 2h.7m-.1-1.7h.7m-.6 .7h.7m-.6-.4h.7m-.6 1.7h.7m-.6-.1h.7m-.5-1.3h.7m-.6 .8h.7m-.6-.1h.7m-.5-.6h.7m-.6 .7h.7m-.1 .9h.7m-.5-2.6h.7m-.4-.2h.7m-.6 0h.7m-.3 2.6h.7m-.5-.5h.7m-11.2 2h.7m.7 1.2h.7m-.4-2h.7m.2 2.5h.7m-.4 0h.7m.7-2.5h.7m-.5 1.1h.7m-.6-.6h.7m-.6 .5h.7m0 1.5h.7m0-.2h.7m-.6 .2h.7m-.6-1.2h.7m-.2 .8h.7m-.6-1h.7m-.4-1.4h.7m-.6 2.4h.7m-.3-.8h.7m-.5 .6h.7m-.4 .4h.7m-.7-1.5h.7m-.6 1.7h.7m-.6-.8h.7m-.4-1h.7m-.7 1.6h.7m-.7-1.6h.7m-.3-.9h.7m-.6 2h.7m-.6-1.4h.7m-.5 .7h.7m-.6 1.2h.7m-.5-1.5h.7m-.6-.7h.7m.5 1.3h.7m-.2 0h.7m-.4-1.3h.7m.6 .3h.7m-.3 .5h.7m-.6 .9h.7m1-1.1h.7m-12.2 2h.7m0 2.4h.7m-.4-.5h.7m-.7-.8h.7m-.6 .5h.7m-.5-.6h.7m-.7 1.7h.7m-.6-.3h.7m-.3-1.1h.7m-.6 0h.7m-.5-.7h.7m-.7-.5h.7m-.6 1.3h.7m-.5-.4h.7m-.4 0h.7m-.6-.4h.7m.3 1.1h.7m-.7 .8h.7m-.7-2h.7m-.6 .2h.7m-.6-.1h.7m-.6 .2h.7m-.7 1.3h.7m-.6-1.4h.7m-.7 0h.7m-.5 .2h.7m-.6 1.6h.7m-.6-1h.7m-.6 .6h.7m-.7-.9h.7m-.4-1.1h.7m-.6 2.7h.7m-.6-1.9h.7m-.5 .9h.7m-.7 1h.7m0-.4h.7m-.5-2.3h.7m-.7 .6h.7m-.7-.8h.7m-.6 1.3h.7m-.6-1.1h.7m-.4 2.3h.7m.1-1.5h.7m-.6 1.1h.7m-.5 .8h.7m.7-2.8h.7m-.5 2.4h.7m-.1 .1h.7m.2-2.4h.7m4 2h.7m-.6-.3h.7m-.3 .8h.7m0-2.2h.7m-.6 1.9h.7m-.7-1.4h.7m0 1.8h.7m-.4 .1h.7m-.3-.1h.7m-.5-.3h.7m-.5-.2h.7m-.4 .5h.7m1.1-.6h.7m-.6 0h.7m1.6-.1h.7m-23.4 2h.7m-.4 1.7h.7m.3-2.7h.7m-.4 2.6h.7m-.5-1h.7m-.5 0h.7m-.5 .7h.7m-.7-.2h.7m-.5-1h.7m-.4 .6h.7m-.7 0h.7m-.2 .1h.7m-.6-1.3h.7m-.6 .3h.7m-.6 .6h.7m-.7-.4h.7m-.7 1h.7m-.4 .4h.7m-.7-1.1h.7m-.4 .4h.7m-.6 .4h.7m-.7-.8h.7m-.5 0h.7m-.2-1h.7m-.6 2.3h.7m-.7 0h.7m-.6-1.1h.7m-.6-1.2h.7m-.1 1.8h.7m-.6-.3h.7m-.3-1.7h.7m.2 2h.7m-.4-2.1h.7m-.5 2.3h.7m-.3-.3h.7m-.2-.3h.7m-.6-.9h.7m.3 2h.7m-.6-.1h.7m-.5-.5h.7m-.5 .6h.7m-.3-1.4h.7m-.6-1.1h.7m-.6 2.5h.7m-.6-1.2h.7m-.2 .5h.7m-.5-.6h.7m-.5-.9h.7m-.6 1.6h.7m-.6 .6h.7m-.4-.8h.7m-.5-.3h.7m-.7 1.1h.7m-.6-1.6h.7m-.6 .1h.7m-.6-.1h.7m0 1.6h.7m-.7-.3h.7m-.4-.4h.7m-.2-1.1h.7m-.7 1.4h.7m-.6-.8h.7m-.6 .5h.7m-.6 .3h.7m-.6 .3h.7m-.7 0h.7m-.6-1.3h.7m-.7-.9h.7m-.5 1.3h.7m-.7 .2h.7m-.6-1.3h.7m-.4 .9h.7m-.6-.7h.7m-.6-.8h.7m-.7 2.5h.7m-.6-.8h.7m-.6-.5h.7m-.7 1.1h.7m-.7-1.5h.7m-.6 .3h.7m-.6 .3h.7m-.7 .2h.7m-.7-1.1h.7m-.6 1.6h.7m-.6 .4h.7m-.6-1.6h.7m-.5-.6h.7m-.6 2.4h.7m-.5-2.1h.7m-.6 1h.7m-.7 1.1h.7m-.6-1.6h.7m-.6 .3h.7m-.5 1.2h.7m-.5-1.8h.7m-.4 .3h.7m-.6 .9h.7m-.7-1h.7m-.6 .1h.7m-.7 .5h.7m-.5-.8h.7m-.1 1.5h.7m-.5 0h.7m-.7-.7h.7m-.6-.8h.7m-.6 .8h.7m-.4 .6h.7m-.5-1.3h.7m-.4-1h.7m-23.6 5.2h.7m.4 .1h.7m.5-1.5h.7m.1 1.8h.7m.4-.4h.7m-.5-.8h.7m-.6 .4h.7m-.5-.4h.7m-.4 1.3h.7m-.7-2.6h.7m.2 .7h.7m-.5 1.7h.7m-.6-.3h.7m-.2 0h.7m-.3 .5h.7m-.7-1h.7m-.6-1.6h.7m-.4 2.6h.7m-.6-.3h.7m-.6-.8h.7m-.6-.4h.7m-.4 .7h.7m-.4-.2h.7m-.7 .7h.7m-.5-.1h.7m-.6 0h.7m-.7 .5h.7m-.4-.1h.7m-.4-.8h.7m-.2 .9h.7m-.7-.9h.7m-.7-1.6h.7m-.5 .5h.7m-.7 .6h.7m-.5 1.1h.7m-.6 .2h.7m-.6-.7h.7m-.6-.6h.7m-.3 .1h.7m-.7-.9h.7m-.6 1.1h.7m-.6 1.1h.7m-.6-1.1h.7m-.4-.1h.7m-.7 .8h.7m-.4-1h.7m-.7 .7h.7m-.5 .2h.7m-.6-1.7h.7m-.4 1.7h.7m-.7-1.9h.7m-.5 2.1h.7m-.4 .2h.7m-.7-2.2h.7m-.5 .1h.7m-.7 1.5h.7m-.6 .4h.7m-.7-1.9h.7m-.6 .9h.7m-.7 1h.7m-.5 .2h.7m-.6 0h.7m-.6-2.8h.7m-.7 2.5h.7m-.6 .4h.7m-.6-1h.7m-.6 .5h.7m-.7-1.9h.7m-.6 .2h.7m-.7 .8h.7m-.7-1h.7m-.6 1.9h.7m-.6-1.3h.7m-.7 .9h.7m-.5 0h.7m-.6-1.6h.7m-.7 .6h.7m-.7-.1h.7m-.7 1.7h.7m-.5-1.6h.7m-.7 .9h.7m-.6 .9h.7m-.7-.2h.7m-.5-.4h.7m-.6-.7h.7m-.7 1.1h.7m-.6-.8h.7m-.7-.3h.7m-.5 .4h.7m-.6-1.1h.7m-.7 .2h.7m-.6 .6h.7m-.7 .6h.7m-.6-2.1h.7m-.7 1.8h.7m-.6 .4h.7m-.7-.6h.7m-.6-1.2h.7m-.6-.2h.7m-.7 .7h.7m-.7 0h.7m-.6 .8h.7m-.7-1.7h.7m-.7 .8h.7m-.7 0h.7m-.7 1.5h.7m-.6-2h.7m-.7 2.5h.7m-.7-1.1h.7m-.6 .1h.7m-.6 .7h.7m-.7 .3h.7m-.6-.3h.7m-.6-.1h.7m-.6-1.1h.7m-.6-.2h.7m-.7-.3h.7m-.7 .1h.7m-.6 1.4h.7m-.7-1.5h.7m-.6 1.5h.7m-.7-2h.7m-.6 1.5h.7m-.6-.3h.7m-.6 .6h.7m-.7 .3h.7m-.4-2.3h.7m-.7 1.3h.7m-.4 .9h.7m-.7-1.4h.7m-.7 0h.7m-.6 .7h.7m-.6-.5h.7m-.6-.6h.7m-.6 .3h.7m-.7 1h.7m-.6-.1h.7m-.6-.8h.7m-.7-.9h.7m-.5 1h.7m-.7-.9h.7m-.7 .4h.7m-.6 .6h.7m-.7 .5h.7m-.6-.5h.7m-.7-1.2h.7m-.6 .2h.7m-.4 .9h.7m-.4 .5h.7m-.7-1.1h.7m-.4 1.6h.7m-.7 .2h.7m-.6-.2h.7m-.6-2.1h.7m-.7 .9h.7m-.5-.4h.7m-.7 .1h.7m-.3 1.6h.7m-.7-1.8h.7m-.6 .9h.7m-.3-.5h.7m-.6 .1h.7m-.6 .7h.7m-.6-1h.7m-.6 1.4h.7m-.7-1.1h.7m-.7-.8h.7m-.6 1h.7m-.6 1.4h.7m-.2-1.2h.7m-.5-.5h.7m-.3 1.5h.7m-25 1.4h.7m-.6 .6h.7m1-.1h.7m-.4 .6h.7m-.2 .3h.7m-.1 .6h.7m-.6-.1h.7m-.5 .3h.7m-.6-1.2h.7m-.3-.3h.7m0 .3h.7m-.5-.4h.7m-.2 1.3h.7m-.7-.7h.7m-.6 .2h.7m-.7-.1h.7m-.7-.8h.7m-.5-.1h.7m-.6-1.1h.7m-.7 2.8h.7m-.5-.7h.7m-.7-.5h.7m-.6 1.1h.7m-.7-.8h.7m-.6-.5h.7m-.6 1.1h.7m-.7-.6h.7m-.4 .4h.7m-.7 .6h.7m-.5-.8h.7m-.7-1h.7m-.6 1.4h.7m-.6 .1h.7m-.6-2.2h.7m-.6 1.9h.7m-.7-2.2h.7m-.7 2.7h.7m-.7-.6h.7m-.4-.3h.7m-.7 .3h.7m-.7-.2h.7m-.7-.5h.7m-.4 1.2h.7m-.7-1h.7m-.7 .9h.7m-.6-.5h.7m-.6 .7h.7m-.7-1.6h.7m-.6 1.7h.7m-.7-1.8h.7m-.6 1.3h.7m-.6-.7h.7m-.7-1.2h.7m-.6 2.4h.7m-.7-.8h.7m-.7-1.3h.7m-.7 1.2h.7m-.6-1.9h.7m-.7 2.2h.7m-.6-.3h.7m-.5-.8h.7m-.7-1h.7m-.6 .8h.7m-.7 1.5h.7m-.6-.8h.7m-.7 .8h.7m-.5 .3h.7m-.7-.3h.7m-.6 .2h.7m-.6-1.3h.7m-.5 .4h.7m-.7-.4h.7m-.6 .7h.7m-.7 .8h.7m-.7-1.9h.7m-.7-.1h.7m-.7-.3h.7m-.6 .1h.7m-.7-.1h.7m-.3 2.3h.7m-.6-2.1h.7m-.6 1.3h.7m-.6-1.1h.7m-.7-.1h.7m-.6 .3h.7m-.7 .6h.7m-.7-.1h.7m-.7 .7h.7m-.6 .3h.7m-.7-1.5h.7m-.7 0h.7m-.6-.8h.7m-.6 2h.7m-.7-.9h.7m-.7 1.3h.7m-.7-.6h.7m-.6 .6h.7m-.7-1.5h.7m-.7 1.5h.7m-.7-1.1h.7m-.7 .7h.7m-.5 .2h.7m-.7 .3h.7m-.6-2.3h.7m-.5 .8h.7m-.6 1.1h.7m-.7-2h.7m-.6 1.8h.7m-.6-1.3h.7m-.7-.7h.7m-.6 .4h.7m-.7 .7h.7m-.6 .7h.7m-.7-1.7h.7m-.7 .9h.7m-.7 1.5h.7m-.6-.1h.7m-.6-1.5h.7m-.7-.1h.7m-.7-.2h.7m-.6 1h.7m-.7 .9h.7m-.7-.6h.7m-.6-1.1h.7m-.6 .9h.7m-.7-.2h.7m-.6-.7h.7m-.7 .7h.7m-.7-1.5h.7m-.7 2.4h.7m-.6-2.4h.7m-.6 1h.7m-.7-.9h.7m-.6 2.2h.7m-.6-.5h.7m-.7-.1h.7m-.7 .2h.7m-.7 .2h.7m-.7 0h.7m-.7-1.1h.7m-.6 .6h.7m-.7-1.5h.7m-.7 1.2h.7m-.7-1.4h.7m-.6 2.5h.7m-.7-.5h.7m-.7-1.2h.7m-.7 1h.7m-.6 .6h.7m-.6-2.5h.7m-.7 .3h.7m-.6 1.8h.7m-.6 .2h.7m-.7-1.4h.7m-.7-.1h.7m-.6 .2h.7m-.6 .9h.7m-.6 .9h.7m-.7-1.5h.7m-.7 1.5h.7m-.6-2.3h.7m-.6 1.7h.7m-.6-1.4h.7m-.7 0h.7m-.7 1.8h.7m-.7-1.7h.7m-.6-.2h.7m-.6 1.3h.7m-.7-.3h.7m-.7 .6h.7m-.6 .2h.7m-.7-.4h.7m-.7-1.3h.7m-.7 2h.7m-.7-2.2h.7m-.7-.1h.7m-.7 .2h.7m-.6 .2h.7m-.7 1.3h.7m-.7-1.2h.7m-.7 1.1h.7m-.7-.3h.7m-.7-1.8h.7m-.7 .7h.7m-.7 .8h.7m-.7 .8h.7m-.6-1.8h.7m-.7 2h.7m-.7-1.9h.7m-.7 2.2h.7m-.6-1h.7m-.7 0h.7m-.7-1.6h.7m-.7 .3h.7m-.6 .6h.7m-.7-.7h.7m-.7 1.1h.7m-.7 .4h.7m-.7-1.5h.7m-.6 1.5h.7m-.6 .4h.7m-.6-1.4h.7m-.7 1.6h.7m-.7-2.6h.7m-.6 1.4h.7m-.7 .3h.7m-.7-1.1h.7m-.6 1.3h.7m-.7-1.5h.7m-.7-.2h.7m-.6-.2h.7m-.6 .8h.7m-.5 1.8h.7m-.7-1.5h.7m-.7 1.2h.7m-.7-1h.7m-.7 .6h.7m-.6 1h.7m-.6-2.7h.7m-.7 2h.7m-.7-1.3h.7m-.6-.1h.7m-.7 2.1h.7m-.6-1.2h.7m-.7 .1h.7m-.7-.5h.7m-.7-1.1h.7m-.6 2.3h.7m-.7-1.5h.7m-.7-.3h.7m-.7 .7h.7m-.5-.7h.7m-.5-.7h.7m-.6 2.4h.7m-.6-2.1h.7m-.7-.2h.7m-.6 1.2h.7m-.7 .1h.7m-.7-.9h.7m-.1 1.2h.7m-.7-.2h.7m-.6-.6h.7m-.6 .8h.7m-.7-.6h.7m-.6 0h.7m-.7 1h.7m-.6-.8h.7m-.6-.8h.7m-.6 .1h.7m-.7 1.2h.7m-.6 .4h.7m-.7-.9h.7m-.6 .4h.7m-.7-.8h.7m-.6 1.4h.7m-.5 0h.7m-.7 0h.7m-.7-2h.7m-.5 .9h.7m-.6-.2h.7m-.7 .5h.7m-.6-1.4h.7m-.6 2.6h.7m-.6-1.4h.7m-.7 0h.7m-.6-1.3h.7m-.6 1.2h.7m-.7-.6h.7m-.7-.6h.7m-.7 0h.7m-.6 1h.7m-.6 .4h.7m-.7 1.3h.7m-.5-.7h.7m-.7-1.6h.7m-.6 1.6h.7m-.7-1.6h.7m-.6 1h.7m-.6-.8h.7m-.6 .3h.7m-.6 1.7h.7m-.7-1.8h.7m-.5-.3h.7m-.3 .8h.7m.1-1.2h.7m-.7 2.8h.7m-.2-.2h.7m.1-1.9h.7m-25 3.3h.7m0 .2h.7m-.1 .7h.7m-.4-.2h.7m-.6-.2h.7m-.6-.7h.7m-.5 1.6h.7m-.3-2h.7m.2 1.4h.7m-.5-.1h.7m-.4-.5h.7m-.7 .5h.7m-.6-.5h.7m-.7 1.1h.7m-.7-.7h.7m-.6 .2h.7m-.6 1h.7m-.6-.5h.7m-.7-.1h.7m-.6-.3h.7m-.6-1.5h.7m-.7 2.3h.7m-.6-.7h.7m-.6 .7h.7m-.5-.7h.7m-.6-1.8h.7m-.7 1.5h.7m-.6 1.1h.7m-.6-2.2h.7m-.5 .3h.7m-.7-1h.7m-.6 1.5h.7m-.6-.8h.7m-.7 .8h.7m-.7-1h.7m-.4 2.3h.7m-.5-2.1h.7m-.5 1.5h.7m-.7-.2h.7m-.5 .5h.7m-.7-.1h.7m-.7-.7h.7m-.6-1.6h.7m-.6 1.4h.7m-.7 0h.7m-.6-1.2h.7m-.6 1.9h.7m-.6-.2h.7m-.7-.8h.7m-.6 .7h.7m-.7-.3h.7m-.7-.9h.7m-.5 1.3h.7m-.6 .9h.7m-.7-.6h.7m-.7-1h.7m-.7-.9h.7m-.7 .4h.7m-.6-.3h.7m-.7 2.3h.7m-.6-.2h.7m-.6-1h.7m-.7-1.1h.7m-.7 1.6h.7m-.7 .5h.7m-.7-1.8h.7m-.7-.3h.7m-.6-.4h.7m-.7 1.8h.7m-.6-.4h.7m-.7-.1h.7m-.6 1h.7m-.7-1.8h.7m-.6 2.3h.7m-.7-2h.7m-.7-.8h.7m-.6 1.8h.7m-.7 .4h.7m-.7 0h.7m-.7-.7h.7m-.6 0h.7m-.7 1.1h.7m-.7-.9h.7m-.6-.1h.7m-.6 .5h.7m-.6 .2h.7m-.7-1.9h.7m-.6 .4h.7m-.7 .1h.7m-.7 .9h.7m-.5 0h.7m-.7-.4h.7m-.7-.2h.7m-.6-1.3h.7m-.7 2.1h.7m-.7-1.7h.7m-.7 .3h.7m-.6-.2h.7m-.7 1h.7m-.5-.3h.7m-.7-.8h.7m-.7 1.5h.7m-.5 .2h.7m-.7-1.8h.7m-.7 2.4h.7m-.6-.7h.7m-.7-1.1h.7m-.6 1.9h.7m-.7-1.5h.7m-.7-1.1h.7m-.7 1.1h.7m-.7-.7h.7m-.6 .7h.7m-.7 .9h.7m-.6-2.2h.7m-.7 1.2h.7m-.7 .4h.7m-.6 1.3h.7m-.7-2h.7m-.7 0h.7m-.6-.7h.7m-.7 2.6h.7m-.7-.5h.7m-.7 .2h.7m-.6-.5h.7m-.7-.9h.7m-.7-.1h.7m-.7 1.7h.7m-.6-1.5h.7m-.7 0h.7m-.6 .7h.7m-.7-1.3h.7m-.7 1.1h.7m-.7-.9h.7m-.6 0h.7m-.7 1.2h.7m-.7 .1h.7m-.6-.5h.7m-.6-.4h.7m-.7 1.2h.7m-.7-1.4h.7m-.7-1h.7m-.7 .3h.7m-.7 1.2h.7m-.6-.9h.7m-.7 1.7h.7m-.7-2.1h.7m-.6 2.3h.7m-.7-1.2h.7m-.6-1h.7m-.7 1.4h.7m-.7 .2h.7m-.6-1.2h.7m-.7-.3h.7m-.6-.1h.7m-.7 2.5h.7m-.7-2.8h.7m-.7 2.4h.7m-.6 0h.7m-.7 .3h.7m-.7-.4h.7m-.7 .5h.7m-.6 0h.7m-.7-.6h.7m-.7 0h.7m-.7-1.7h.7m-.6 1.6h.7m-.6-.5h.7m-.7-.1h.7m-.7 1.4h.7m-.7-2.3h.7m-.7 1.6h.7m-.7 .2h.7m-.6-1.8h.7m-.6 2h.7m-.7-1.5h.7m-.7-.7h.7m-.7 1.8h.7m-.6-.2h.7m-.7-.4h.7m-.7 .5h.7m-.7 .6h.7m-.7 .2h.7m-.7-.3h.7m-.6-.6h.7m-.7 .6h.7m-.7-1.1h.7m-.7 1h.7m-.6-1.9h.7m-.7 1.8h.7m-.7-1.9h.7m-.7 .3h.7m-.6-.3h.7m-.6 1.9h.7m-.7-.6h.7m-.7-1h.7m-.7 2.1h.7m-.7-2.3h.7m-.7 1.5h.7m-.6-1.7h.7m-.7 2.2h.7m-.7-1.9h.7m-.6 1.5h.7m-.7-1.5h.7m-.7 1.8h.7m-.6-1h.7m-.7 .4h.7m-.6-.1h.7m-.7-.9h.7m-.7 1h.7m-.7 1h.7m-.6-1.2h.7m-.7 .7h.7m-.7-1.7h.7m-.7-.6h.7m-.6 1.8h.7m-.7-.3h.7m-.7-1.3h.7m-.7-.2h.7m-.7 2.5h.7m-.7-2h.7m-.7 1.7h.7m-.6 .5h.7m-.7-1.3h.7m-.6-1.5h.7m-.6 1.1h.7m-.7 .9h.7m-.7-1.2h.7m-.6 .9h.7m-.7-.3h.7m-.7-.9h.7m-.7 1.4h.7m-.6 .4h.7m-.7-.3h.7m-.6-1h.7m-.7 1.2h.7m-.7-1.1h.7m-.7-.8h.7m-.7 .3h.7m-.7 1.4h.7m-.7 0h.7m-.7-1.2h.7m-.6 1.9h.7m-.7-1.1h.7m-.7 .1h.7m-.7-.6h.7m-.7-.5h.7m-.7 2.3h.7m-.6-2.7h.7m-.7 1.1h.7m-.7-.1h.7m-.7-.4h.7m-.7 1h.7m-.6-.3h.7m-.7 .5h.7m-.6-1.5h.7m-.7 1.2h.7m-.7-1.1h.7m-.6 .2h.7m-.7 1.1h.7m-.7-.5h.7m-.7 1h.7m-.7-.4h.7m-.7 .5h.7m-.6-1.2h.7m-.7-1h.7m-.6 1.8h.7m-.7-.4h.7m-.7-.1h.7m-.6-1.3h.7m-.7 1.2h.7m-.7-.2h.7m-.7 0h.7m-.7-.1h.7m-.7 .7h.7m-.7-1h.7m-.7 .8h.7m-.7-.6h.7m-.6-.6h.7m-.6 2h.7m-.7 0h.7m-.6-.1h.7m-.7-2.1h.7m-.7 2.4h.7m-.6-.7h.7m-.7 .8h.7m-.7-1.5h.7m-.6 1.3h.7m-.7 .1h.7m-.6-.7h.7m-.7 .2h.7m-.6-2h.7m-.7 .9h.7m-.7 0h.7m-.6-.6h.7m-.7 2.3h.7m-.6-.9h.7m-.7 1h.7m-.7-1.4h.7m-.7-1.4h.7m-.6 1.3h.7m-.7 1h.7m-.7-1.4h.7m-.6 1.3h.7m-.7-.8h.7m-.7-.9h.7m-.6 1.6h.7m-.7-1h.7m-.7 1.1h.7m-.7-.6h.7m-.7 .6h.7m-.7-1.8h.7m-.6 2.3h.7m-.7-2.8h.7m-.7 2.4h.7m-.7 .3h.7m-.7-1.2h.7m-.7 1.2h.7m-.7-1.9h.7m-.6 1.8h.7m-.7-1.3h.7m-.7-.9h.7m-.7 1.3h.7m-.6-1.4h.7m-.7 1.9h.7m-.7-2.2h.7m-.6 2.9h.7m-.7-1.1h.7m-.7 1h.7m-.7-2h.7m-.7 2.1h.7m-.7-2.3h.7m-.6-.2h.7m-.6 .3h.7m-.7-.4h.7m-.6 1h.7m-.7-.1h.7m-.7-.3h.7m-.6 1.6h.7m-.7-2.2h.7m-.7-.2h.7m-.6 .2h.7m-.6 2.5h.7m-.7-2.3h.7m-.6 2.2h.7m-.7-2.6h.7m-.6 .1h.7m-.7 2.4h.7m-.7 .3h.7m-.7 0h.7m-.7-1.1h.7m-.7 0h.7m-.7 .9h.7m-.7-2.6h.7m-.6 .9h.7m-.7-.7h.7m-.7 2.4h.7m-.6-2.5h.7m-.7 .2h.7m-.6 1h.7m-.7 .7h.7m-.7-.1h.7m-.6-.8h.7m-.7 .6h.7m-.6-1.1h.7m-.7-.6h.7m-.4 1.9h.7m-.6-1.9h.7m-.7 2.2h.7m-.6-1.3h.7m-.6-.5h.7m-.7 .9h.7m-.7-1.1h.7m-.7-.3h.7m-.6 1.3h.7m-.7-.5h.7m-.6 .5h.7m-.7-1.2h.7m-.5 2.5h.7m-.6 .3h.7m-.7-.9h.7m-.7-1.1h.7m-.7 1.8h.7m-.6-.7h.7m-.7-1.6h.7m-.7 1.3h.7m-.6-.5h.7m-.7-.7h.7m-.6 2.4h.7m-.7-1.5h.7m-.6 .3h.7m-.7 .1h.7m-.7 .2h.7m-.6-.2h.7m-.7-1.5h.7m-.6 1.4h.7m-.7-.8h.7m-.7-.5h.7m-.6 .2h.7m-.7 1.5h.7m-.7 .7h.7m-.7-2.1h.7m-.6 1h.7m-.6-1.4h.7m-.7 2.3h.7m-.6-1.4h.7m-.6-1.2h.7m-.6 2.1h.7m-.7-1h.7m-.6 1.7h.7m-.6-1.6h.7m-.3 .2h.7m-.7 0h.7m-.7 .9h.7m-.7-2.1h.7m-.6 .1h.7m-.6 .9h.7m-.6-1h.7m-.7 .6h.7m-.5 1.5h.7m-.7-.8h.7m-.6 .1h.7m-.7-.2h.7m-.6-.2h.7m-.7 1.3h.7m-.6-2.1h.7m-.6 1.3h.7m-.4-.9h.7m-.3 .2h.7m-.5-.9h.7m-.6 1.3h.7m-.5-1.2h.7m-.4 0h.7m-.5 .6h.7m-.6 .7h.7m.6-.9h.7m1.6-.4h.7m-31 5.2h.7m.3 .2h.7m.8-.5h.7m1 .7h.7m-.6-2.8h.7m.1 2.5h.7m-.2 .2h.7m-.5 .1h.7m-.7 0h.7m-.5-2.8h.7m-.6 2.9h.7m-.5-2.6h.7m-.6 1.1h.7m-.7 .9h.7m-.7-1.1h.7m-.7 1.4h.7m-.6-1.4h.7m-.6-.7h.7m-.5 1.3h.7m-.7-1h.7m-.6 .5h.7m-.6-.8h.7m-.3 1.2h.7m-.7-1.2h.7m-.6 1.7h.7m-.7-1.2h.7m-.5 1.7h.7m-.5 .1h.7m-.7-1.5h.7m-.7-.5h.7m-.6 .7h.7m-.7 1.2h.7m-.7-2.3h.7m-.5 1h.7m-.5 .1h.7m-.6-.2h.7m-.7 .7h.7m-.5-.9h.7m-.6 .9h.7m-.7-1.3h.7m-.7 1.2h.7m-.6 .8h.7m-.7-.1h.7m-.6-.8h.7m-.7-1h.7m-.7 .2h.7m-.7 .1h.7m-.6 1.5h.7m-.5-.7h.7m-.5 .3h.7m-.7-1.8h.7m-.6 .3h.7m-.7 1.7h.7m-.6 0h.7m-.7-.6h.7m-.7-1.6h.7m-.6 2.5h.7m-.6-2.5h.7m-.6 .4h.7m-.7-.5h.7m-.7 2.8h.7m-.7-.6h.7m-.7 .2h.7m-.7-.2h.7m-.6-.8h.7m-.7-.5h.7m-.7 1.6h.7m-.6-.4h.7m-.7-.6h.7m-.6 1.3h.7m-.6-2.8h.7m-.7 1.9h.7m-.7 .1h.7m-.7-1.3h.7m-.7 .6h.7m-.6 1.5h.7m-.7-.1h.7m-.6-2.1h.7m-.7 2.1h.7m-.6-2.7h.7m-.7 1.8h.7m-.7-1.2h.7m-.6-.5h.7m-.7 .4h.7m-.6 .3h.7m-.7 1.6h.7m-.6-1.7h.7m-.7 2.1h.7m-.7-2.3h.7m-.7 0h.7m-.7-.3h.7m-.6 2.4h.7m-.7-1.9h.7m-.6-.5h.7m-.7 .3h.7m-.6 1.2h.7m-.7-1.1h.7m-.7 0h.7m-.7 1.3h.7m-.6 .2h.7m-.7-1.6h.7m-.6 2.2h.7m-.7-1.6h.7m-.6 .6h.7m-.7-.3h.7m-.6 .2h.7m-.7 .1h.7m-.7-.1h.7m-.7-.7h.7m-.6-.3h.7m-.7 .9h.7m-.7-.6h.7m-.6 .4h.7m-.7 .8h.7m-.7-1.7h.7m-.7 .2h.7m-.7 1.4h.7m-.6-1.6h.7m-.7 .1h.7m-.7 .2h.7m-.6 .8h.7m-.7 .8h.7m-.7-1.2h.7m-.7 .8h.7m-.6-1.6h.7m-.7 1.9h.7m-.7-1.2h.7m-.6 .9h.7m-.7-1.1h.7m-.6 1.4h.7m-.7-2.2h.7m-.7 1.1h.7m-.7 .1h.7m-.6-.4h.7m-.7 0h.7m-.7 1.6h.7m-.6 .1h.7m-.7-1.2h.7m-.7 .1h.7m-.6-.9h.7m-.7 1.7h.7m-.7-.3h.7m-.6 .6h.7m-.7-2.3h.7m-.7 2.4h.7m-.7-.4h.7m-.6-2h.7m-.7 1.6h.7m-.7-.4h.7m-.7-.9h.7m-.6-.3h.7m-.7 1.7h.7m-.7 .7h.7m-.7-1.3h.7m-.7-1.4h.7m-.6 1h.7m-.7 1.5h.7m-.7 .3h.7m-.7-2h.7m-.6-.2h.7m-.6 1.5h.7m-.7-.8h.7m-.7 1.4h.7m-.6-1.2h.7m-.7-.2h.7m-.7-.6h.7m-.7-.6h.7m-.6 .6h.7m-.7 .3h.7m-.7-.8h.7m-.7 2.3h.7m-.7-.1h.7m-.7-2.4h.7m-.7 1.9h.7m-.6-1.6h.7m-.7 2h.7m-.6-2.2h.7m-.7 .9h.7m-.6-.5h.7m-.7 2.3h.7m-.7-2.1h.7m-.7 2.1h.7m-.6-1.3h.7m-.7 1.4h.7m-.7-.4h.7m-.7 0h.7m-.7-1.2h.7m-.6 1.4h.7m-.7-1h.7m-.7-1.3h.7m-.6 1.9h.7m-.7-.9h.7m-.7-.9h.7m-.7 .5h.7m-.7 1.7h.7m-.6-2.2h.7m-.7 .4h.7m-.7-.8h.7m-.7 2.1h.7m-.6-1.9h.7m-.7 1.1h.7m-.7-.2h.7m-.7 1.6h.7m-.7-2h.7m-.6-.6h.7m-.7 .2h.7m-.6 .9h.7m-.7 0h.7m-.6 1h.7m-.7-1.1h.7m-.7 1.7h.7m-.7-2.2h.7m-.7-.2h.7m-.7 2h.7m-.7-1.9h.7m-.6 .7h.7m-.7 1.1h.7m-.7-1.7h.7m-.7-.7h.7m-.7 2.2h.7m-.7-1.7h.7m-.7-.3h.7m-.6 .8h.7m-.7 .4h.7m-.7 0h.7m-.7 .1h.7m-.6-1h.7m-.7 2.3h.7m-.7-.2h.7m-.7-1.3h.7m-.7 1h.7m-.7-2.1h.7m-.6 .4h.7m-.7-.6h.7m-.7 1.7h.7m-.6 .5h.7m-.7-.4h.7m-.7-1.6h.7m-.7 .3h.7m-.7 1h.7m-.7-1.3h.7m-.7-.2h.7m-.6 .8h.7m-.7 1h.7m-.6-.5h.7m-.7-.3h.7m-.7-.7h.7m-.6 1.7h.7m-.7-.9h.7m-.7-1.1h.7m-.6 2.6h.7m-.7-1h.7m-.7-.1h.7m-.7 .8h.7m-.7-1.6h.7m-.7 1.6h.7m-.6-1.8h.7m-.7 .4h.7m-.7-.5h.7m-.7 2.5h.7m-.7-2.2h.7m-.7 1.2h.7m-.5-1.9h.7m-.7 2.7h.7m-.6-2h.7m-.7 1.5h.7m-.7-1.8h.7m-.7-.3h.7m-.6 1.3h.7m-.7-.4h.7m-.7 1.2h.7m-.7 0h.7m-.6-.4h.7m-.7 .8h.7m-.7-1.9h.7m-.7 .6h.7m-.7-.2h.7m-.7 1.3h.7m-.7-1h.7m-.7 1.3h.7m-.7-.1h.7m-.7-1.8h.7m-.6 1.7h.7m-.7-.6h.7m-.6-.7h.7m-.6 1.5h.7m-.7-1.3h.7m-.7-.7h.7m-.6-.1h.7m-.7 1h.7m-.7-.8h.7m-.7 .7h.7m-.6 1.3h.7m-.7 .1h.7m-.7-.5h.7m-.7-.9h.7m-.7 .9h.7m-.7-2.3h.7m-.6 .8h.7m-.7 .5h.7m-.6 1.1h.7m-.7-1.8h.7m-.7 .1h.7m-.7 .2h.7m-.7 1.1h.7m-.6 .2h.7m-.7-.3h.7m-.6-.6h.7m-.7 1.5h.7m-.7-2.7h.7m-.7 2.1h.7m-.7-.7h.7m-.6 .5h.7m-.7-.9h.7m-.6 1.5h.7m-.7-.8h.7m-.7 .2h.7m-.6-.5h.7m-.7-.9h.7m-.7 1.3h.7m-.6-1.6h.7m-.7 1.7h.7m-.6-.6h.7m-.7 .5h.7m-.6-.4h.7m-.7-.1h.7m-.6 .6h.7m-.7-1.5h.7m-.7 .7h.7m-.6-1.1h.7m-.7 .2h.7m-.7-.1h.7m-.6 1.1h.7m-.7 .4h.7m-.7 .2h.7m-.6 .2h.7m-.7 .7h.7m-.6-.2h.7m-.7-2.1h.7m-.7 .1h.7m-.6-.3h.7m-.7 1.7h.7m-.7-.4h.7m-.6 .9h.7m-.7-2.2h.7m-.6 .4h.7m-.7-.3h.7m-.7-.1h.7m-.7 .8h.7m-.6-.1h.7m-.7-.9h.7m-.6 .1h.7m-.7 .4h.7m-.6 .7h.7m-.7-1.1h.7m-.7 2.5h.7m-.6-2.5h.7m-.6 1.2h.7m-.7-.1h.7m-.7 1.3h.7m-.6-.3h.7m-.7-1.1h.7m-.7 .4h.7m-.6-.9h.7m-.7-.5h.7m-.7-.2h.7m-.7 1.6h.7m-.7 .1h.7m-.6 0h.7m-.7 .6h.7m-.7-.8h.7m-.7 1h.7m-.7 .1h.7m-.7-1.6h.7m-.6-.1h.7m-.7 .7h.7m-.7 .4h.7m-.6-1.8h.7m-.7 1.4h.7m-.7-.3h.7m-.6 .9h.7m-.7-2h.7m-.7 .9h.7m-.6-.1h.7m-.7 1.4h.7m-.6-2.4h.7m-.6 .8h.7m-.7-.5h.7m-.7 2.1h.7m-.6-1.5h.7m-.7-.8h.7m-.7 .3h.7m-.6 1.5h.7m-.6-2h.7m-.7 1.9h.7m-.6-.9h.7m-.7 .9h.7m-.7 0h.7m-.6-.2h.7m-.6-.3h.7m-.7-1.1h.7m-.7 1.2h.7m-.6 .3h.7m-.6-.3h.7m-.7-.1h.7m-.7-.5h.7m-.6 .5h.7m-.7 .4h.7m-.7 .9h.7m-.5-1.5h.7m-.7-.1h.7m-.6-1h.7m-.6 1.5h.7m-.5 .1h.7m-.6-1.5h.7m-.6 .8h.7m-.6-.3h.7m-.7-.5h.7m-.7-.2h.7m-.6 1.2h.7m-.6-.7h.7m-.7 1.4h.7m-.7 .8h.7m-.5-.1h.7m-.5-.4h.7m-.6-.4h.7m-.6-.9h.7m-.5 .4h.7m-.6-1.3h.7m-.7 2.1h.7m-.6-.9h.7m-.4 .6h.7m-.6-.2h.7m-.6-1.2h.7m-.7 .7h.7m-.6-.1h.7m-.6-.9h.7m-.7 2.2h.7m-.5 .4h.7m-.4-2h.7m-.6 1.7h.7m-.6-1.6h.7m-.7 1.1h.7m-.2-.4h.7m-.5-.6h.7m-.6 1.3h.7m-.4-1.8h.7m-.4-.1h.7m-.6-.3h.7m.2 0h.7m-.3 1.5h.7m-.4-1.4h.7m-.7 .2h.7m-25.6 4.8h.7m.5-1.9h.7m-.6 1.4h.7m-.2 .7h.7m-.6-.3h.7m-.7-.8h.7m-.5-.8h.7m-.7 2.1h.7m-.5 .1h.7m-.6-2.3h.7m-.6 .9h.7m-.7 1.1h.7m-.5-.5h.7m-.2 0h.7m-.5 .5h.7m-.5-1.8h.7m-.5 1.5h.7m-.7 .1h.7m0-1.5h.7m-.7 .8h.7m-.7-.6h.7m-.4-.5h.7m-.7 1.5h.7m-.7 1h.7m-.5-.3h.7m-.6-1.1h.7m-.5 1.4h.7m-.6-1.9h.7m-.6 2h.7m-.7-1.2h.7m-.6 .7h.7m-.7-1.2h.7m-.6-.2h.7m-.7-.1h.7m-.6-.7h.7m-.7 .3h.7m-.5 .8h.7m-.7-.6h.7m-.4 1.2h.7m-.7 .2h.7m-.7-2h.7m-.5 .1h.7m-.7-.1h.7m-.5 .4h.7m-.7 .9h.7m-.6-.9h.7m-.3 .2h.7m-.7-.6h.7m-.6 1.7h.7m-.6 0h.7m-.7-1.7h.7m-.6-.1h.7m-.5 .5h.7m-.6-.1h.7m-.6-.1h.7m-.6-.1h.7m-.7-.2h.7m-.6 2.7h.7m-.7-2.6h.7m-.6 .8h.7m-.5 .2h.7m-.7 1.3h.7m-.7-1.8h.7m-.6 1.1h.7m-.7-1.7h.7m-.6 1.1h.7m-.6 .4h.7m-.7-.7h.7m-.7 .9h.7m-.7-.4h.7m-.6 .5h.7m-.7 1.1h.7m-.6-.8h.7m-.7-1.8h.7m-.6 1h.7m-.7-.6h.7m-.7 2.1h.7m-.6-.1h.7m-.7-.7h.7m-.7-1.8h.7m-.7 .9h.7m-.6-.5h.7m-.7-.5h.7m-.6 0h.7m-.7 .4h.7m-.6 1.1h.7m-.7-1.4h.7m-.7 1.2h.7m-.6-1.2h.7m-.7 2.1h.7m-.6-1.9h.7m-.6 1.4h.7m-.7-1.3h.7m-.7 2h.7m-.7-1.9h.7m-.5-.2h.7m-.7 2.3h.7m-.7-1.5h.7m-.6 .5h.7m-.7-1.5h.7m-.7 1h.7m-.6-.1h.7m-.7-.7h.7m-.6-.4h.7m-.7 .7h.7m-.7-.1h.7m-.7 1.7h.7m-.6-2h.7m-.6 .8h.7m-.7 .3h.7m-.7-1.1h.7m-.6 1.3h.7m-.6-.7h.7m-.7 .7h.7m-.6-1.4h.7m-.6 0h.7m-.7 1.6h.7m-.7 .5h.7m-.6 .4h.7m-.7-.2h.7m-.7-1.3h.7m-.6 1.6h.7m-.7-1.3h.7m-.7-.5h.7m-.6-.3h.7m-.6 1h.7m-.7 .6h.7m-.6 .5h.7m-.6-.4h.7m-.6-1.4h.7m-.6 .5h.7m-.7-1.2h.7m-.7 .3h.7m-.7 0h.7m-.7 .4h.7m-.5-.9h.7m-.6 1.2h.7m-.7 1.6h.7m-.7-.1h.7m-.6-1h.7m-.7-.9h.7m-.5 1.6h.7m-.7-2.5h.7m-.7 1.6h.7m-.6-.6h.7m-.7-1h.7m-.7 .9h.7m-.6 .2h.7m-.7-.2h.7m-.6 1.8h.7m-.6-1.8h.7m-.7-.8h.7m-.6 .3h.7m-.7 2.4h.7m-.6-2.2h.7m-.7 .8h.7m-.7 .3h.7m-.6 1h.7m-.7-.4h.7m-.6-1h.7m-.7 1.3h.7m-.6-.4h.7m-.7-2h.7m-.7 .9h.7m-.7 .5h.7m-.7-1.1h.7m-.6 .9h.7m-.7-1.4h.7m-.6 .3h.7m-.6 1.4h.7m-.6-1.1h.7m-.7-.2h.7m-.7 1.6h.7m-.7 .9h.7m-.6-1.3h.7m-.7 .3h.7m-.7-.9h.7m-.6 .1h.7m-.7 .9h.7m-.7-.3h.7m-.7-1.7h.7m-.6 2.9h.7m-.7-2.1h.7m-.6-.1h.7m-.5 .1h.7m-.7-.6h.7m-.6 1.5h.7m-.6-.3h.7m-.7-.5h.7m-.7-.9h.7m-.7 2.9h.7m-.6-2.9h.7m-.7 2.8h.7m-.6-2.8h.7m-.6 1.7h.7m-.6-1.7h.7m-.7 1.3h.7m-.7-.2h.7m-.7 1.5h.7m-.6-1.4h.7m-.7 1.2h.7m-.7-2.4h.7m-.6 1h.7m-.7-.3h.7m-.7 .3h.7m-.5 .9h.7m-.7-1.9h.7m-.6 1h.7m-.7 1.8h.7m-.7-1.8h.7m-.4 1.7h.7m-.7-1.5h.7m-.7 .9h.7m-.6-.8h.7m-.7-.2h.7m-.7-.2h.7m-.6-.6h.7m-.6 2.2h.7m-.6-2.5h.7m-.7 .2h.7m-.6 2h.7m-.4-.8h.7m-.7 .8h.7m-.6-.3h.7m-.5-1.4h.7m-.6 .1h.7m-.6 .9h.7m-.5-.4h.7m-.3 .8h.7m-.6-1.3h.7m-.5-.6h.7m-.7 .1h.7m-.7 0h.7m-.7 .3h.7m-.2 .5h.7m-.2 1h.7m-.5-.9h.7m-.4-.7h.7m-.7 0h.7m-.7 2.4h.7m-.4-2.4h.7m-.5 2.6h.7m.4-2.3h.7m-.7 1h.7m-.6-1.6h.7m-.5 .9h.7m-.7-.5h.7m-.1 .9h.7m.3-1.1h.7m.2 2h.7m.4-1.8h.7m.7 2.3h.7m-.4-2.6h.7m-30.3 4h.7m5.4 1.5h.7m-.4-1.4h.7m-.7-.1h.7m-.6 1.2h.7m-.6-.3h.7m.2 .2h.7m-.4-1.1h.7m.5-.9h.7m-.6 .8h.7m.1 .5h.7m-.4-.7h.7m-.7-.4h.7m-.7-.2h.7m-.6 1.1h.7m-.7 0h.7m-.6 1.5h.7m-.7-2.7h.7m-.5 .2h.7m-.7 .3h.7m-.6 1.6h.7m-.1-1.1h.7m-.5 1.5h.7m-.5-2.1h.7m-.5-.3h.7m-.7 1.4h.7m-.5-1h.7m-.6 1.9h.7m-.5-.2h.7m-.7-1.2h.7m-.5-.9h.7m-.5 0h.7m-.6 0h.7m-.6 2.1h.7m-.7 .4h.7m-.7-.5h.7m-.7-.8h.7m-.6-1.3h.7m-.6 1h.7m-.6 .4h.7m-.6 .2h.7m-.5-.6h.7m-.5-1h.7m-.6 1.6h.7m-.6-.2h.7m-.3-1.5h.7m-.6 1.4h.7m-.6-1.4h.7m-.7 1.7h.7m-.6 0h.7m-.7-1.3h.7m-.5-.1h.7m-.6 1.4h.7m-.6-1.7h.7m-.7 1.1h.7m-.2-.3h.7m-.5-.1h.7m-.7 1.7h.7m-.6-.3h.7m-.5 .7h.7m-.7-2.7h.7m-.7 1.3h.7m-.6-.7h.7m-.5-.1h.7m-.6 .9h.7m-.7 .1h.7m-.5 .5h.7m-.5-.6h.7m-.7 1.2h.7m-.6-.7h.7m-.7-.1h.7m-.3-1.8h.7m-.7 .6h.7m-.6-.5h.7m-.5-.1h.7m-.6-.1h.7m-.6 .4h.7m-.6 .2h.7m-.6 .3h.7m-.5 1.2h.7m-.4-1.1h.7m-.7 1.3h.7m-.6-1h.7m-.4 .2h.7m-.5-.2h.7m-.6 1.4h.7m-.5-1.6h.7m-.6 .6h.7m-.4-.1h.7m-.5-1h.7m-.6 1.5h.7m.1-1.2h.7m-.6 .3h.7m-.1-1h.7m.3 2h.7m-.6-1.2h.7m.3-1h.7m.2 .1h.7m-20.8 2.9h.7m-.7 1.1h.7m1.6 0h.7m.9-1h.7m-.4 .1h.7m1.2 0h.7m-.6 0h.7m-.1 .2h.7m.2 1h.7m.3-1.1h.7m0 .8h.7m0-.4h.7m-.3 .1h.7m-.6 .3h.7m.4-1h.7m-.4 2.6h.7m-.3-1.9h.7m-.7-.2h.7m-.4 1h.7m-.4-.3h.7" stroke="#f81010" stroke-width="0.8" stroke-opacity="0.7" fill="none"/>
</g>
<rect x="227.5" y="246.6" width="76" height="80" fill="none" stroke="#6a6a6a" stroke-width="0.85"/>
<path d="M258.5 246.6L258.5 326.6" stroke="#707070" stroke-width="0.8" fill="none"/>
<path d="M227.5 294.5L303.5 294.5" stroke="#707070" stroke-width="0.8" fill="none"/>
<text x="229.3" y="250.8" font-size="3.5" fill="#333">Q1</text>
<text x="229.3" y="255.6" font-size="3.6" fill="#333">36.16%</text>
<text x="301.7" y="250.8" font-size="3.5" text-anchor="end" fill="#333">Q2</text>
<text x="301.7" y="255.6" font-size="3.6" text-anchor="end" fill="#333">4.27%</text>
<text x="229.3" y="319.3" font-size="3.5" fill="#333">Q4</text>
<text x="229.3" y="324" font-size="3.6" fill="#333">44.73%</text>
<text x="301.7" y="319.3" font-size="3.5" text-anchor="end" fill="#333">Q3</text>
<text x="301.7" y="324" font-size="3.6" text-anchor="end" fill="#333">14.82%</text>
<path d="M227.5 326.6L227.5 328.1" stroke="#666" stroke-width="0.6" fill="none"/>
<text x="227.5" y="333" font-size="3" text-anchor="middle" fill="#444">10</text>
<path d="M226 326.5L227.5 326.5" stroke="#666" stroke-width="0.6" fill="none"/>
<text x="223.4" y="326.6" font-size="3" text-anchor="middle" transform="rotate(-90 223.4 326.6)" fill="#444">10</text>
<path d="M246.5 326.6L246.5 328.1" stroke="#666" stroke-width="0.6" fill="none"/>
<text x="246.5" y="333" font-size="3" text-anchor="middle" fill="#444">10</text>
<path d="M226 306.5L227.5 306.5" stroke="#666" stroke-width="0.6" fill="none"/>
<text x="223.4" y="306.6" font-size="3" text-anchor="middle" transform="rotate(-90 223.4 306.6)" fill="#444">10</text>
<path d="M265.5 326.6L265.5 328.1" stroke="#666" stroke-width="0.6" fill="none"/>
<text x="265.5" y="333" font-size="3" text-anchor="middle" fill="#444">10</text>
<path d="M226 286.5L227.5 286.5" stroke="#666" stroke-width="0.6" fill="none"/>
<text x="223.4" y="286.6" font-size="3" text-anchor="middle" transform="rotate(-90 223.4 286.6)" fill="#444">10</text>
<path d="M284.5 326.6L284.5 328.1" stroke="#666" stroke-width="0.6" fill="none"/>
<text x="284.5" y="333" font-size="3" text-anchor="middle" fill="#444">10</text>
<path d="M226 266.5L227.5 266.5" stroke="#666" stroke-width="0.6" fill="none"/>
<text x="223.4" y="266.6" font-size="3" text-anchor="middle" transform="rotate(-90 223.4 266.6)" fill="#444">10</text>
<path d="M303.5 326.6L303.5 328.1" stroke="#666" stroke-width="0.6" fill="none"/>
<text x="303.5" y="333" font-size="3" text-anchor="middle" fill="#444">10</text>
<path d="M226 246.5L227.5 246.5" stroke="#666" stroke-width="0.6" fill="none"/>
<text x="223.4" y="246.6" font-size="3" text-anchor="middle" transform="rotate(-90 223.4 246.6)" fill="#444">10</text>
<text x="265.5" y="339.6" font-size="5.4" text-anchor="middle" textLength="28.2" lengthAdjust="spacingAndGlyphs" fill="#222">CD206FITC</text>
<text x="219.5" y="287.6" font-size="5.3" font-weight="bold" text-anchor="middle" textLength="27.6" lengthAdjust="spacingAndGlyphs" transform="rotate(-90 219.5 287.6)" fill="#2a2a2a">CD16/32PE</text>
<path d="M226.6 320.6h.9M233.2 326.6v.9M226.6 317.1h.9M236.6 326.6v.9M226.6 314.6h.9M238.9 326.6v.9M226.6 312.6h.9M240.8 326.6v.9M226.6 311.0h.9M242.3 326.6v.9M226.6 309.7h.9M243.6 326.6v.9M226.6 308.5h.9M244.7 326.6v.9M226.6 307.5h.9M245.6 326.6v.9M226.6 300.6h.9M252.2 326.6v.9M226.6 297.1h.9M255.6 326.6v.9M226.6 294.6h.9M257.9 326.6v.9M226.6 292.6h.9M259.8 326.6v.9M226.6 291.0h.9M261.3 326.6v.9M226.6 289.7h.9M262.6 326.6v.9M226.6 288.5h.9M263.7 326.6v.9M226.6 287.5h.9M264.6 326.6v.9M226.6 280.6h.9M271.2 326.6v.9M226.6 277.1h.9M274.6 326.6v.9M226.6 274.6h.9M276.9 326.6v.9M226.6 272.6h.9M278.8 326.6v.9M226.6 271.0h.9M280.3 326.6v.9M226.6 269.7h.9M281.6 326.6v.9M226.6 268.5h.9M282.7 326.6v.9M226.6 267.5h.9M283.6 326.6v.9M226.6 260.6h.9M290.2 326.6v.9M226.6 257.1h.9M293.6 326.6v.9M226.6 254.6h.9M295.9 326.6v.9M226.6 252.6h.9M297.8 326.6v.9M226.6 251.0h.9M299.3 326.6v.9M226.6 249.7h.9M300.6 326.6v.9M226.6 248.5h.9M301.7 326.6v.9M226.6 247.5h.9M302.6 326.6v.9" stroke="#555" stroke-width="0.6" fill="none"/>
<text x="329.2" y="243.4" font-size="7.6" textLength="89.5" lengthAdjust="spacingAndGlyphs">LPS+IFN-γ+TWS119+IWR-1</text>
<g>
<path d="M334.4 248.8h.7m6.9-.3h.7m10.5-.6h.7m19.4 .7h.7m-32.4 3.1h.7m1.7-.2h.7m15.4 .1h.7m.6-1.5h.7m10.2 .5h.7m2.2 .2h.7m-42.4 4h.7m2.9-.3h.7m-.4-1.4h.7m.4 .3h.7m-.1 .5h.7m.4-.6h.7m7.6 .4h.7m27.2-1.6h.7m-44.3 3.6h.7m-.6 .1h.7m5.1-.8h.7m6.3 1.2h.7m16.1 .2h.7m11.3-.9h.7m21.6 1.2h.7m-63.4 3.4h.7m3.7-.9h.7m1.7 1h.7m1.6-.8h.7m4.1 .3h.7m9.4-.4h.7m.5 1.3h.7m21.1-.6h.7m.4-.1h.7m1.2-.2h.7m3.6-1.6h.7m-49.2 2.9h.7m11.2 2.9h.7m9.5 0h.7m12.2-2.3h.7m-36.4 2.9h.7m.2 1.4h.7m2.7-1.1h.7m5.4 .9h.7m.7 .1h.7m.2 1.1h.7m1.2-1.4h.7m19.3 .7h.7m.4-2h.7m14.6 1.9h.7m-54.9 3h.7m1.9 .6h.7m1.5-.4h.7m4.3-1.6h.7m.3 1.9h.7m0 .1h.7m8.3-.7h.7m.2-1.3h.7m.7 1.3h.7m.8 .3h.7m2.1-.8h.7m7.5-.9h.7m0 .9h.7m4.5-.7h.7m7 0h.7m13.8-.2h.7m-67.9 2.6h.7m2.1 1.5h.7m4.7 .5h.7m2.7 .7h.7m-.4-2.4h.7m6.5 2.2h.7m1.6-1.5h.7m.7 .6h.7m4.7-1.4h.7m6.7 1.7h.7m6.3-1.2h.7m7.8 .1h.7m-53.2 4.6h.7m4.8 .3h.7m.7-1.2h.7m.8-.9h.7m.9 .7h.7m2 .2h.7m.9 .6h.7m5.4-1.4h.7m.4 .7h.7m.4 .7h.7m.6 .4h.7m1.3-2.7h.7m1.8 .1h.7m-.6 2.2h.7m.2-1.2h.7m1.5 .4h.7m1.6 1h.7m4.1-.5h.7m3.7 .4h.7m.6-1.4h.7m7 1.3h.7m19.3-2.3h.7m-71 4.7h.7m1 1.2h.7m2.7-.5h.7m.5 .3h.7m.5-2.2h.7m2-.5h.7m.1 2.9h.7m-.3-.7h.7m-.2 .7h.7m-.6-.7h.7m-.2-1.2h.7m-.5 1.7h.7m-.1-.1h.7m-.3-2.6h.7m1.5 1.6h.7m.5-1.5h.7m-.6 .9h.7m-.7-.3h.7m.6-.1h.7m-.2-.6h.7m-.7 1h.7m-.6 0h.7m-.5 1.8h.7m-.5-.1h.7m-.6-1.6h.7m-.2 .4h.7m-.3 .8h.7m-.5 .1h.7m-.4-1.2h.7m-.5 1.4h.7m-.7-1.1h.7m-.7-.3h.7m-.5 .8h.7m.6 .9h.7m2-1.6h.7m.3-1.1h.7m-.6 1.9h.7m2.4-.5h.7m-.4 .8h.7m-.5-1.8h.7m-.2 1h.7m2.1-1.6h.7m2.3 1.9h.7m3 .3h.7m-.6-2h.7m5.6 .8h.7m4.1-.2h.7m-54 4.8h.7m2-2.4h.7m2.5 1h.7m.8-.5h.7m.6-.2h.7m2.3 1.8h.7m-.5-1.7h.7m.5 1h.7m-.5-.3h.7m.3 1.1h.7m-.4 .1h.7m-.7 .3h.7m-.4-.6h.7m-.2 .2h.7m-.7-1.9h.7m-.3 1.7h.7m-.6-1.1h.7m-.7-.9h.7m-.1 2.7h.7m-.6 0h.7m-.3-.8h.7m-.7-1.8h.7m-.4 2.6h.7m-.7 0h.7m-.2-.4h.7m-.5-2.5h.7m-.6 2h.7m-.3-1.1h.7m-.6-.9h.7m-.7 .7h.7m-.6 .4h.7m.4 .8h.7m-.3-.4h.7m-.6 0h.7m-.7 1.2h.7m-.5-1.2h.7m-.5-.8h.7m-.7-.3h.7m-.3 1.7h.7m-.6-.9h.7m-.5 .5h.7m-.5 .2h.7m-.6-.2h.7m-.3 .2h.7m-.4-.1h.7m-.2-.7h.7m-.7 .2h.7m-.5 1h.7m.1-1.2h.7m-.2 1h.7m-.4-1.3h.7m.3 .8h.7m-.6-.2h.7m-.4-.3h.7m-.6 1.3h.7m-.6-.7h.7m-.5 1.2h.7m-.5-2.6h.7m-.5 2.1h.7m-.2-2.2h.7m-.7 2.7h.7m-.4-1.4h.7m.2 1.1h.7m-.6 0h.7m-.7-.4h.7m-.6-2h.7m-.6 1.2h.7m-.4-.5h.7m-.6 1.5h.7m-.6-2.2h.7m-.4 .2h.7m-.2 1.7h.7m-.2-.1h.7m-.5-.4h.7m-.6-.6h.7m.5-.2h.7m-.1 .6h.7m-.5-.2h.7m-.5-.4h.7m-.6 .1h.7m-.7 .8h.7m0-1.4h.7m-.4 1.3h.7m0-.5h.7m-.2 1.6h.7m.8-.5h.7m0-1.6h.7m-.5 .9h.7m-.4 .3h.7m-.3-1.3h.7m-.7 2.1h.7m2.1-2h.7m10.7 1.6h.7m7.9 .5h.7m11.1-1.6h.7m-73.1 1.9h.7m.9 2.3h.7m-.2 .5h.7m-.4-.1h.7m-.2-.4h.7m-.6 .5h.7m1.2-2.3h.7m.2 .1h.7m-.6 .4h.7m1.6 .5h.7m-.6-.7h.7m-.5-.4h.7m.5 .6h.7m-.3 .5h.7m-.5 1.2h.7m-.5-.8h.7m-.7 1h.7m-.6-.3h.7m-.1-1.1h.7m-.7 .9h.7m-.5-2.1h.7m-.5 2.6h.7m-.3-2.8h.7m-.6-.1h.7m-.3 .6h.7m-.3 2h.7m-.4-1.3h.7m-.7 .9h.7m-.4-2h.7m-.7 2.5h.7m-.6-.9h.7m-.4-1.4h.7m-.6 .8h.7m-.4 .6h.7m-.3 .7h.7m-.4-1.7h.7m-.6 .4h.7m-.7 .9h.7m-.4-1.3h.7m-.7 2.1h.7m-.6-1.3h.7m-.4-.4h.7m-.5 1.3h.7m-.6-2.5h.7m-.6 1.4h.7m-.7-1.3h.7m-.6 .4h.7m-.5 0h.7m-.7 2.3h.7m-.6-.7h.7m-.7-.1h.7m-.6-.3h.7m-.1 .7h.7m-.4 .4h.7m-.7-.2h.7m-.6-2.4h.7m-.7 0h.7m-.6 2.1h.7m-.6-1.1h.7m-.7 .6h.7m-.6-1h.7m-.7 1.3h.7m-.1-1.2h.7m-.7 .6h.7m-.5-1.2h.7m-.7 .8h.7m-.5-.8h.7m-.7 2.6h.7m-.7-1.3h.7m-.6 1h.7m-.7-2h.7m-.6 1.2h.7m-.7 .4h.7m-.4-.5h.7m-.6 .6h.7m-.3 .4h.7m-.4-2.1h.7m-.7 2h.7m-.6-.1h.7m-.7-.2h.7m-.6-1.6h.7m-.1 1h.7m-.6 1.2h.7m0-.5h.7m-.6-1.5h.7m-.7 1h.7m-.7 .5h.7m-.6-.2h.7m-.4-2h.7m-.5 1.5h.7m-.5 1.1h.7m-.7-.6h.7m-.4 .7h.7m-.4-1.2h.7m-.7 .8h.7m-.2-2.1h.7m-.5 .4h.7m-.4-.5h.7m-.5 1.1h.7m-.5-.1h.7m-.6 .7h.7m-.6 .5h.7m-.4-.8h.7m-.6-.5h.7m-.4-1.2h.7m-.6 2.3h.7m-.3-.3h.7m-.1-1.3h.7m-.7 .5h.7m-.2 1.3h.7m-.3-2.1h.7m-.4 .4h.7m0 1.3h.7m-.4-1.1h.7m-.5 .1h.7m-.7-1.1h.7m-.6 2.4h.7m-.6-1.2h.7m.2-.6h.7m-.3 1.7h.7m-.1 .1h.7m-.4-1.4h.7m-.4 .4h.7m-.6 0h.7m-.7 .9h.7m.9-.2h.7m-.2 .3h.7m.7-2h.7m.1 1.2h.7m.2 .4h.7m-.7-.1h.7m-.7 .5h.7m.8 0h.7m.1-1h.7m.1 .8h.7m4.2-1.7h.7m.6-.2h.7m-.3 2.5h.7m-.2-.4h.7m-46.2 .6h.7m-.7 2.2h.7m.5 .2h.7m-.3-1.3h.7m.6 .7h.7m1.4 .5h.7m-.3 .3h.7m-.6-1.9h.7m-.1 .9h.7m-.6 1.3h.7m-.7-1.4h.7m-.7-.5h.7m-.6-.2h.7m-.6 .1h.7m-.3 .5h.7m-.4 .9h.7m-.1-1.3h.7m-.7 1.8h.7m-.5-.2h.7m-.5-2.4h.7m-.7 .1h.7m-.6 .9h.7m-.7 .5h.7m-.7 0h.7m-.4-1.7h.7m-.6 1h.7m-.7 .3h.7m-.7 1.5h.7m-.4-1.6h.7m-.6 .5h.7m-.6 .2h.7m-.7-.6h.7m-.7-1.3h.7m-.4 .3h.7m-.6 .9h.7m-.7-.9h.7m-.7 2.5h.7m-.6-1.7h.7m-.1 .6h.7m-.6 1.1h.7m-.7-2.2h.7m-.5 .2h.7m-.3 .5h.7m-.4 0h.7m-.6 1.4h.7m-.6-.2h.7m-.6 .1h.7m-.4-1.5h.7m-.3-.1h.7m-.5 1.1h.7m.1-1.1h.7m-.6 .3h.7m-.5-.6h.7m-.6 2.2h.7m-.5-1.3h.7m-.7-1.6h.7m-.6 0h.7m-.6 1.5h.7m-.7 1.3h.7m-.7-1.7h.7m-.5 1.8h.7m-.6-1.7h.7m-.3 .7h.7m-.7 .1h.7m-.6 .7h.7m-.4-2.1h.7m-.5-.4h.7m-.5 .5h.7m-.7 1.8h.7m-.3-1.2h.7m-.6 .7h.7m-.5-.2h.7m-.6 .5h.7m-.4-.1h.7m-.6-.6h.7m-.5-.8h.7m-.7 .7h.7m-.7-1.2h.7m-.5 .1h.7m-.7 1.6h.7m-.4-.2h.7m-.6-.1h.7m-.7 .7h.7m-.6-1.7h.7m-.5 .2h.7m-.3 .2h.7m-.6 .1h.7m-.7 .9h.7m-.5-.9h.7m-.4 .4h.7m-.6-.4h.7m-.7-.2h.7m-.5-.2h.7m-.7-.7h.7m-.7 1.3h.7m-.4-.4h.7m-.7-1h.7m-.7 1.8h.7m-.6-1.6h.7m-.7 0h.7m-.6 .2h.7m-.5 1h.7m-.6-.5h.7m-.6 1.4h.7m-.7-1.7h.7m-.6 1.5h.7m-.6-.5h.7m-.6-1.3h.7m-.7 1.8h.7m-.6 .2h.7m-.7-.6h.7m-.7 0h.7m-.5 .5h.7m-.7-1h.7m-.6 .6h.7m-.5-.8h.7m-.5 1.2h.7m-.4-.3h.7m-.5-.8h.7m-.6 .4h.7m-.7-1h.7m-.5 .4h.7m-.5-.2h.7m-.6 .1h.7m-.6 2h.7m-.7-2.5h.7m-.7 .4h.7m-.6 1.4h.7m-.6-1.1h.7m-.6-.6h.7m-.6 2.4h.7m-.5-1.6h.7m-.6 .7h.7m-.7 1h.7m-.5-2h.7m-.7 .7h.7m-.7 0h.7m-.6 .9h.7m-.7-1.1h.7m-.5 .4h.7m-.6-.2h.7m-.4 .8h.7m-.6-2.1h.7m-.7 1h.7m-.4 .1h.7m-.5-.6h.7m-.3 2.1h.7m-.7-1.8h.7m-.5 1.5h.7m-.7-.1h.7m-.4-.1h.7m-.7-.7h.7m-.6 .2h.7m-.5-1.6h.7m-.6 .5h.7m.6 .7h.7m-.6-.5h.7m-.4 .1h.7m.2 .6h.7m-.6 .8h.7m-.7-.3h.7m-.4-1.7h.7m-.6 .4h.7m-.2 2h.7m-.5-2.5h.7m-.4 2.5h.7m-.6 0h.7m-.4-2.6h.7m-.7 1.6h.7m-.5-.5h.7m-.3-1.4h.7m-.4 2.9h.7m-.4-2.8h.7m-.7 0h.7m-.7 1.9h.7m-.6-1.6h.7m-.2-.2h.7m-.6 2.4h.7m-.4-.8h.7m-.4-1.8h.7m-.5 2.7h.7m-.4-2.1h.7m-.3-.5h.7m-.3 2.3h.7m-.3-2.2h.7m-.5 2.5h.7m-.6-1.7h.7m.5 1.6h.7m-.2-.6h.7m-.2 .1h.7m5.7-1.2h.7m10 .5h.7m10.5 .7h.7m-68.6 2.5h.7m-.2 1h.7m1.5-1h.7m.3 0h.7m-.7 .9h.7m-.7-1.2h.7m.5 .2h.7m-.6-.9h.7m.3 .5h.7m-.7-.9h.7m-.6 .4h.7m0 .3h.7m-.2 .6h.7m-.6-.9h.7m-.6 .9h.7m-.4 .9h.7m-.5 .2h.7m-.6-1.3h.7m-.2 .2h.7m.4 1.2h.7m-.5-.6h.7m-.6-.9h.7m-.7 1.4h.7m.6-2.4h.7m-.5-.2h.7m-.7 .3h.7m-.6 0h.7m-.7 .3h.7m-.6 .4h.7m-.7 1.7h.7m-.6-.4h.7m-.6-.9h.7m-.7 .7h.7m-.6-1.5h.7m-.6-.1h.7m-.6 .8h.7m-.5 .1h.7m-.4 .7h.7m-.6-.2h.7m-.7-1.9h.7m-.7 2.1h.7m-.2 .8h.7m-.6-1.8h.7m-.7-.4h.7m-.6-.4h.7m-.7-.3h.7m-.6 .3h.7m.3 .7h.7m-.5 .4h.7m-.6-.7h.7m-.7 2h.7m-.6-1.6h.7m-.6 1.1h.7m-.7-.5h.7m-.5 .6h.7m-.5 .5h.7m-.7-2.1h.7m-.5 .2h.7m-.5 .5h.7m-.7-.4h.7m-.6 .4h.7m-.4-1h.7m-.6 .7h.7m-.5-.5h.7m-.4 .7h.7m-.5 1.6h.7m-.6-1.3h.7m-.6-1.4h.7m-.4 .1h.7m-.5 1.7h.7m-.3 .3h.7m-.3-1.9h.7m-.6 2.5h.7m-.7-2.5h.7m-.7 1.9h.7m-.4-.2h.7m-.6-1.2h.7m-.6 0h.7m-.6-.1h.7m-.7-.6h.7m-.1 1.2h.7m-.7 1.5h.7m-.7-2.4h.7m-.5 1.8h.7m-.2-1.6h.7m-.7-.4h.7m-.7 2.2h.7m-.5-.9h.7m-.6 .2h.7m-.5 .2h.7m-.6-1.8h.7m-.7 1.1h.7m-.7 1.2h.7m-.4 0h.7m-.6 .4h.7m-.5-2.1h.7m-.6-.7h.7m-.7 0h.7m-.6 .8h.7m-.5 .7h.7m-.7 .9h.7m-.7-2.3h.7m-.7 .8h.7m-.6-.7h.7m-.4 1.9h.7m-.7-.6h.7m-.6-.1h.7m-.6-1.1h.7m-.7 0h.7m-.4 1.2h.7m-.6 .1h.7m-.6-1.2h.7m-.7 .5h.7m-.7 .1h.7m-.7-.6h.7m-.5 .3h.7m-.6 1.2h.7m-.4 .4h.7m-.7 .4h.7m-.6-1.5h.7m-.6 .1h.7m-.7-1.4h.7m-.5 1.1h.7m-.6 .5h.7m-.6 .4h.7m-.7 .2h.7m-.5-.9h.7m-.2 .2h.7m-.6 .7h.7m-.7 .3h.7m-.4 .3h.7m-.6-1.4h.7m-.7 1.4h.7m-.2-.9h.7m-.7 1h.7m-.6-1.3h.7m-.6 0h.7m-.7-.4h.7m-.6 .9h.7m-.6-1.7h.7m-.6-.1h.7m-.6 1.9h.7m-.5 .5h.7m-.5-.1h.7m-.5-.8h.7m-.7 .8h.7m-.6 .1h.7m-.4-1h.7m-.6 .7h.7m-.5-.4h.7m-.6 .4h.7m-.5-.1h.7m-.2 0h.7m-.7-1.8h.7m-.5 .3h.7m-.2 1h.7m-.4-1h.7m-.7 .7h.7m-.7-1.2h.7m-.7 2.5h.7m-.7-.4h.7m-.5-.1h.7m-.6-1.6h.7m-.7 .5h.7m-.6-.6h.7m-.6 1.3h.7m.5-1.3h.7m-.5-.4h.7m-.6 .7h.7m-.6-.5h.7m-.6 1.2h.7m-.7-1h.7m-.6-.4h.7m-.2 1.7h.7m-.2-1.2h.7m-.4 1.3h.7m-.4 .2h.7m-.3 .6h.7m0-2.5h.7m.5 .5h.7m-.6 1.7h.7m-.1 0h.7m4-1.3h.7m1-.8h.7m4-.1h.7m24.5 0h.7m-73.6 4.3h.7m1.2-.3h.7m.1 .1h.7m-.7-.9h.7m-.1 1.8h.7m-.5-.9h.7m.3 0h.7m-.6-.9h.7m-.4 .4h.7m.4 1.7h.7m-.6-2.5h.7m-.2 2.8h.7m-.5-2.3h.7m-.2 .2h.7m.1 2h.7m-.4-.2h.7m-.3-.6h.7m-.5-1.7h.7m-.5 .6h.7m.1 .2h.7m.5 1.3h.7m-.2-1.9h.7m.4 .9h.7m-.7-1.1h.7m-.6 1.8h.7m.1 .3h.7m-.7-.5h.7m-.6-.7h.7m-.3-1h.7m-.5 0h.7m-.7 1.5h.7m-.5 1h.7m-.4-.7h.7m-.2-.1h.7m-.6-.1h.7m-.7 .2h.7m-.6-1.9h.7m-.7 1.4h.7m-.5-.3h.7m-.7 1h.7m-.6-2h.7m-.6 1.1h.7m-.6-.9h.7m-.6 1.9h.7m-.6-1.3h.7m-.7-.1h.7m-.5-.4h.7m-.6 1.2h.7m-.6 .5h.7m-.6-.9h.7m-.5 1.3h.7m.2 .3h.7m-.5-2.9h.7m-.7 2.6h.7m-.6 .2h.7m-.4-2.1h.7m-.5-.7h.7m-.3 1h.7m-.5 .2h.7m-.5 .1h.7m-.5-1h.7m-.4 .5h.7m-.4 .2h.7m-.5 .5h.7m-.6-1.2h.7m-.5 1.7h.7m-.4-1h.7m-.7 .9h.7m-.7 .5h.7m-.3-1.2h.7m-.6-.2h.7m-.5 .4h.7m-.2-.5h.7m-.5 0h.7m-.5 1.5h.7m-.7 .3h.7m-.7-.7h.7m-.7 .4h.7m-.6-1.1h.7m-.2 .2h.7m-.4-1.1h.7m-.6 2h.7m-.4 .5h.7m-.7-1.6h.7m-.4-.2h.7m-.7 .7h.7m-.3 .9h.7m-.6-1.6h.7m-.4 .3h.7m.1-1.1h.7m-.7-.1h.7m-.5 2.7h.7m-.1-1.1h.7m-.6-.8h.7m-.7 1.8h.7m-.4-2.3h.7m-.6 .8h.7m-.6-.1h.7m-.6-.3h.7m-.4 1h.7m-.5 .3h.7m.2-.2h.7m-.5-1.8h.7m-.5 1.5h.7m-.5-.6h.7m-.2 1.3h.7m.3-1.5h.7m-.3 1.7h.7m-.7-2.1h.7m-.7 2.3h.7m-.3-1.1h.7m-.6-.3h.7m-.5-1.4h.7m-.2 1.9h.7m-.5-1.2h.7m-.5-.1h.7m-.4-.3h.7m-.7 1.5h.7m-.7 .8h.7m.5-.9h.7m.9 .8h.7m-.4-1.6h.7m-.4 1.5h.7m-.6-2.1h.7m-.2 2.1h.7m-.6-1.5h.7m.5-.5h.7m-.7 .9h.7m4.3 1.3h.7m.9-1.1h.7m22.7-1.1h.7m-65.5 3.4h.7m-.2 .8h.7m-.4-1.1h.7m.1 1.7h.7m.4-1.4h.7m-.5 1.5h.7m-.4-2.2h.7m-.3 .1h.7m-.4-.2h.7m.2 2.8h.7m0-1.1h.7m-.3-1.4h.7m0 2.4h.7m-.5-2h.7m-.3 1.4h.7m-.6 .8h.7m.9-1.4h.7m-.4 .8h.7m-.2 .3h.7m-.7-.9h.7m-.6 .9h.7m-.7-2.5h.7m-.5 1.1h.7m-.6 1.4h.7m-.4-1.7h.7m.5 1.6h.7m.1-1.1h.7m-.5 1.4h.7m-.6-2.1h.7m-.5-.2h.7m0 2.3h.7m-.2-1.1h.7m-.6 .9h.7m-.6-2.6h.7m-.5 .7h.7m-.2-.4h.7m-.6 .6h.7m-.4 1.8h.7m-.6 .1h.7m-.6-1.4h.7m-.5-.6h.7m0 1.7h.7m-.4-2.1h.7m-.6 2.5h.7m-.6-2.1h.7m-.7 .9h.7m-.5 1.2h.7m-.6-.2h.7m-.5-.5h.7m-.5-1.4h.7m-.5 1.1h.7m-.5 .4h.7m-.2-2.1h.7m-.7 1.1h.7m-.7-.6h.7m-.4-.1h.7m-.7 0h.7m-.7 2.2h.7m-.6-2.4h.7m-.5 1.9h.7m-.2-.4h.7m.1-.2h.7m-.2 .4h.7m-.5-1.4h.7m-.3 1.9h.7m-.2 .2h.7m-.6-2h.7m-.6-.6h.7m-.6-.2h.7m-.7 .6h.7m-.6 .7h.7m-.7 .7h.7m-.6-1.6h.7m-.3 1.7h.7m-.7-.6h.7m-.7 .5h.7m-.6-.3h.7m-.5 1.1h.7m-.5-2.7h.7m-.2 2.4h.7m-.6-2.1h.7m-.4-.1h.7m-.7 .8h.7m-.6 1.5h.7m-.7-1.1h.7m-.5 .3h.7m-.5-.8h.7m-.5 .6h.7m-.5 .6h.7m-.6-.3h.7m0-.9h.7m-.2 1.8h.7m-.5-.9h.7m-.5-1.3h.7m-.7 1.4h.7m-.6-1.5h.7m-.6 2.1h.7m-.3 .1h.7m-.5-1.8h.7m-.7 1.5h.7m-.6-.1h.7m-.5-1.7h.7m-.5 1.9h.7m-.7-.3h.7m-.7 .1h.7m-.7-.4h.7m-.5-.9h.7m-.6-.3h.7m-.3 1.1h.7m-.6 .4h.7m-.2-1.7h.7m-.5 1.6h.7m-.6-2h.7m-.7 2h.7m-.2-.9h.7m-.4-1h.7m-.5 1h.7m.8-1h.7m.4 1h.7m-.2 1h.7m-.1 .7h.7m-.6-2.8h.7m-.3 1.3h.7m.3-.4h.7m.6 1.1h.7m-.4-1.5h.7m.1 1.3h.7m1.5-1.3h.7m5.3 .2h.7m3.2-.2h.7m-52.6 2.5h.7m1.6-.1h.7m.3 1.9h.7m5.5-1.4h.7m-.6 1.8h.7m-.6-1.3h.7m-.7-.3h.7m-.6-.1h.7m-.7-.3h.7m-.3 1.8h.7m-.7 .5h.7m-.6-1.1h.7m-.3-1.4h.7m-.1 1.1h.7m-.4-.8h.7m-.4-.3h.7m1.2 1.6h.7m.2 .4h.7m.2-1.9h.7m-.3 .6h.7m-.4 1.9h.7m-.4-1.7h.7m-.5 1.4h.7m-.1-1.9h.7m-.6 1.3h.7m-.3 .2h.7m-.6 .4h.7m-.5-2.4h.7m-.3 1h.7m-.7 1.7h.7m-.6-.1h.7m-.6 .3h.7m-.6 0h.7m-.1 0h.7m-.3-2.6h.7m-.6 1.7h.7m-.4-1.9h.7m-.6 .6h.7m-.6-.5h.7m-.7 1.2h.7m-.4 .1h.7m-.5 1.2h.7m-.5-2.6h.7m-.6 2.6h.7m-.4-1.3h.7m-.7 1.4h.7m-.6-.6h.7m-.6-.5h.7m-.6-1h.7m-.6-.5h.7m-.5 .8h.7m-.5 .7h.7m-.5-.6h.7m-.7-.3h.7m-.2-.2h.7m-.6-.6h.7m-.6 2.2h.7m-.6-.6h.7m-.3 1.1h.7m-.7 .1h.7m-.4-1h.7m-.6 .1h.7m-.7-1.2h.7m-.6 1.1h.7m-.7-.6h.7m-.7 1.6h.7m-.5-2.5h.7m-.5 .9h.7m-.2 1.7h.7m-.7-1.5h.7m-.6 .5h.7m-.2 .4h.7m-.6-2h.7m-.6 0h.7m-.6-.3h.7m-.6 2.3h.7m-.7-.6h.7m0 .4h.7m-.7 0h.7m0-.4h.7m-.5 1.1h.7m-.6-.7h.7m-.5-1.4h.7m-.5 .7h.7m.1-.5h.7m-.5 .7h.7m0-.9h.7m-.7 1.2h.7m-.6 .9h.7m-.6-.4h.7m-.1-.8h.7m.6 0h.7m-.6 .3h.7m-.5 1h.7m-.4-2.3h.7m-.5 1.3h.7m-.7-1.9h.7m-.6 2h.7m-.2-1.5h.7m-.6 2.3h.7m.4-.5h.7m-.7 .5h.7m.3-2.4h.7m-.5 .4h.7m-.2 1h.7m.2-1.1h.7m-.6-.1h.7m-.2 1.2h.7m-.4-.9h.7m-.4-.7h.7m1 1.5h.7m-.7 .1h.7m1.8 .9h.7m.2-.7h.7m-.4-1.6h.7m7.2 1.2h.7m10.4 1.1h.7m.8-1h.7m-65.9 2.4h.7m-.4-1.1h.7m.3 1.3h.7m3.6 .3h.7m3.3 .1h.7m-.2-1h.7m-.6 1.7h.7m.2 .1h.7m-.5-2.4h.7m-.3 2.2h.7m-.2 .6h.7m-.5-2.8h.7m.4 .2h.7m-.3 1.8h.7m-.7-.5h.7m-.5 0h.7m-.1-1.5h.7m.1 2.8h.7m-.1-2.9h.7m-.4 2.4h.7m.1 .4h.7m-.4-.7h.7m-.7-.7h.7m-.5 1.4h.7m-.2-1.3h.7m-.7-1.1h.7m-.2 1.3h.7m-.6 .3h.7m-.6-1.3h.7m-.5-.5h.7m-.4 2.6h.7m-.5-1.5h.7m-.5 0h.7m-.7 .7h.7m-.1-.7h.7m-.5-.1h.7m-.6 .6h.7m-.6-1h.7m-.3-.5h.7m-.7 2h.7m-.7 0h.7m-.6-1.2h.7m-.6-1h.7m-.5 2.1h.7m-.6-1.8h.7m-.5 1.4h.7m-.7-1h.7m-.6-.4h.7m-.6 1.7h.7m-.6 .8h.7m-.5 0h.7m-.5-2.6h.7m-.7 .3h.7m-.7 1.8h.7m-.6-.6h.7m-.6 .8h.7m-.3-1.1h.7m-.7-.3h.7m-.5-.3h.7m-.7 .1h.7m-.5 1.2h.7m-.4-1.1h.7m-.6 1.1h.7m-.7 .5h.7m-.4 .1h.7m-.5-1.6h.7m-.7 1.6h.7m-.2-.2h.7m-.7-.9h.7m-.5-.3h.7m-.7-.5h.7m-.4 .7h.7m-.7-1.2h.7m-.6 .7h.7m.1 1.6h.7m-.5-1.6h.7m-.5-.6h.7m-.6 0h.7m-.7 1.1h.7m-.5-1.6h.7m-.7 .3h.7m-.6 1.2h.7m-.3 0h.7m-.7 .8h.7m-.6 .6h.7m-.7-2.4h.7m-.6 1.1h.7m-.7-1.5h.7m-.7 1.7h.7m-.6-1.7h.7m-.4 .7h.7m-.6 0h.7m-.6 1.7h.7m-.7-.8h.7m-.6-1.4h.7m-.7 1.7h.7m-.3-.5h.7m-.6 .9h.7m-.7-.1h.7m-.6-.8h.7m-.7 1.3h.7m-.6-.7h.7m-.5-.5h.7m-.4 1.3h.7m-.7-2.1h.7m-.6 .4h.7m-.7 1.6h.7m-.6-.6h.7m-.4-.3h.7m.1 .7h.7m-.4-1.4h.7m-.6 1.4h.7m-.6-2.3h.7m-.7 1.7h.7m-.4-.5h.7m-.5-1.2h.7m-.6-.2h.7m-.7 0h.7m-.7 .7h.7m-.6-.8h.7m-.6 2.8h.7m-.6-2.5h.7m0 2.5h.7m-.7 .1h.7m-.6-1h.7m-.6-.3h.7m-.7 1h.7m-.7-2.2h.7m-.6 .1h.7m-.7 1.4h.7m0 .1h.7m-.3-.4h.7m-.3 .5h.7m-.7 .4h.7m-.5-.2h.7m-.7 .6h.7m-.1-2.4h.7m-.6 1.6h.7m-.4-.5h.7m.4-1.5h.7m.3 .2h.7m-.6 1.6h.7m-.6-1.1h.7m-.3 .8h.7m.3 1h.7m1.5-1.5h.7m1.1 .3h.7m.4 1.1h.7m2.9 .2h.7m5.6-.7h.7m13.6 .8h.7m-.2-2.1h.7m-71.9 4.3h.7m.9-.4h.7m.7 1.1h.7m.4-.3h.7m-.6-1.7h.7m3.2 .2h.7m.1-.6h.7m-.3 2.1h.7m-.5-1.2h.7m-.7 1h.7m.2-1.9h.7m.8 2.3h.7m-.3-1.9h.7m-.1-.6h.7m-.7 1.8h.7m-.6 .9h.7m-.6-2.6h.7m-.3 2.6h.7m-.5-2.6h.7m-.6 2.7h.7m-.4-2h.7m-.7 .2h.7m-.6-.8h.7m-.7 2.6h.7m.2-1.3h.7m-.5-.8h.7m-.4-.7h.7m-.3 .6h.7m-.7 1.3h.7m-.6 .4h.7m-.4 .3h.7m-.6-2.1h.7m-.6 1h.7m-.5 .5h.7m-.5-1.2h.7m-.3 1.7h.7m-.5-1.7h.7m-.7 .3h.7m-.7 1.2h.7m-.7-1.2h.7m-.5 1.2h.7m-.3-2h.7m-.5 1.4h.7m-.6-.4h.7m-.6-.4h.7m-.6-.3h.7m-.5 1.8h.7m-.7-2.5h.7m-.4 .5h.7m-.7 .9h.7m-.3-.7h.7m-.7 1.3h.7m-.6 .2h.7m-.3-.6h.7m-.6-1.1h.7m-.7 .7h.7m-.5 1h.7m-.7-1.7h.7m-.6 .6h.7m-.2 .9h.7m-.5 .5h.7m-.7-.7h.7m-.6-1h.7m-.6 .2h.7m-.4-1h.7m-.7 .1h.7m-.6 .7h.7m-.5-.7h.7m-.4 2.2h.7m-.7 .1h.7m-.6-1.8h.7m-.6 2.1h.7m-.5-2h.7m-.6 2.2h.7m-.5-2h.7m-.7 1.9h.7m-.6-1h.7m-.4-.1h.7m-.5-1.3h.7m-.6 2.2h.7m-.6-.3h.7m-.4-.7h.7m-.4 0h.7m-.5 .5h.7m-.5-.3h.7m-.7-1.4h.7m-.6 .1h.7m-.7-.1h.7m-.6-.4h.7m-.3 2.3h.7m-.7-1.1h.7m-.3 1.1h.7m-.6-2h.7m-.3 1.8h.7m-.7 .3h.7m-.6-1.3h.7m-.5-.4h.7m-.7 .3h.7m-.7 .3h.7m-.7 .5h.7m-.6 .7h.7m-.5-2h.7m-.6 .6h.7m-.5 .8h.7m-.7 .6h.7m-.6-2.1h.7m-.5 1.9h.7m-.5-1.7h.7m-.4 1.3h.7m-.7-1.2h.7m-.6 .4h.7m-.6 .8h.7m-.6-.4h.7m-.7-1.4h.7m-.6 .5h.7m-.5 .5h.7m-.1 .6h.7m-.7-.5h.7m-.6 1.2h.7m-.7-.7h.7m-.6-1.6h.7m-.7 2h.7m-.6 .7h.7m-.4-1.1h.7m-.7-.4h.7m-.5 .3h.7m-.7-1.5h.7m-.7 2.8h.7m-.5-1.2h.7m-.6-1.5h.7m-.6 2.1h.7m-.6-1.9h.7m-.7 0h.7m-.3 .8h.7m-.6-.5h.7m-.6 1.6h.7m-.5-.1h.7m-.6-2.1h.7m-.6 1.5h.7m-.2-1h.7m-.5 1.2h.7m-.6-1.3h.7m-.6 .3h.7m-.7 1.1h.7m-.4 .8h.7m-.6-.7h.7m-.2-.5h.7m-.5-.6h.7m-.2 .2h.7m-.2 .1h.7m-.5-.2h.7m-.6 1.5h.7m-.5-.7h.7m-.7-1.3h.7m-.6-.2h.7m-.5-.1h.7m-.4 2.7h.7m-.6-1.7h.7m-.7-.1h.7m-.2 .5h.7m-.5 0h.7m-.5-1.3h.7m1 .7h.7m.8 .2h.7m1.3-.6h.7m.2-.2h.7m.1 .2h.7m5.9 2.1h.7m-.5-1.3h.7m6.6-1.1h.7m8.1 1.7h.7m-64.7 1.5h.7m-.3 .2h.7m.6 1.6h.7m4.5-1.9h.7m-.5 2.4h.7m-.2-2.6h.7m0 2.6h.7m.1-1.8h.7m-.2 1.4h.7m-.5-2h.7m-.3 1.6h.7m-.6-1.2h.7m.2 .9h.7m-.5-1.5h.7m-.6 1.5h.7m-.6-.7h.7m-.2 1h.7m-.4 .8h.7m-.4-2.7h.7m-.3 1h.7m-.6 .5h.7m-.6-.8h.7m-.5-.6h.7m-.1 2.5h.7m-.6-2.7h.7m.2 1.3h.7m-.5-.8h.7m-.6-.2h.7m-.6 1h.7m-.5-.6h.7m-.6-.1h.7m-.6 2h.7m-.7-.6h.7m-.1 .2h.7m-.3-1.6h.7m-.5 1.8h.7m-.5-2.2h.7m-.4 2h.7m-.5 .7h.7m-.6-1.1h.7m-.6 0h.7m-.4-1.3h.7m-.5 2.1h.7m-.6-1.8h.7m-.6 .1h.7m-.5 1.9h.7m-.6-1.7h.7m-.6 .8h.7m-.5 .6h.7m-.1-2.3h.7m-.7 1.1h.7m-.5-.5h.7m-.5 1.6h.7m-.5-.2h.7m-.6 .7h.7m-.4-2.9h.7m-.6 2.4h.7m-.6-1.7h.7m-.6-.4h.7m-.5 .8h.7m-.7-.5h.7m-.7 1.7h.7m-.3-1.2h.7m-.7-.4h.7m-.5 1.4h.7m-.6 .1h.7m-.7-.7h.7m-.6 .8h.7m-.3-.2h.7m-.4-.5h.7m-.6-.9h.7m-.5 .9h.7m-.5 .1h.7m-.5-.7h.7m-.7-.1h.7m-.6-.8h.7m-.5 1.6h.7m-.7 0h.7m-.6 .6h.7m-.7-.1h.7m-.7-1.8h.7m-.6-.1h.7m-.7 .1h.7m-.6-.1h.7m-.7 1.8h.7m-.6-1h.7m-.6 .3h.7m-.7-1.2h.7m-.7-.2h.7m-.5 2h.7m-.6-.7h.7m-.7-.2h.7m-.4-1.1h.7m-.7 .2h.7m-.4 2.3h.7m-.5-1.5h.7m-.6 1.7h.7m-.6-1.3h.7m-.3-.3h.7m-.5-.6h.7m-.6 2h.7m-.5-2h.7m-.7 1.7h.7m-.7-.4h.7m-.5 1.1h.7m-.1-.7h.7m-.6-.6h.7m-.5 1.1h.7m-.6-1.8h.7m-.7 1.6h.7m-.6-1.7h.7m-.5 .7h.7m-.6 1.1h.7m-.6-2.6h.7m-.6 1.7h.7m-.6-1.2h.7m-.7-.1h.7m-.5 1.6h.7m-.6-.2h.7m-.1-.8h.7m-.6 1.2h.7m-.7-.6h.7m-.5 .8h.7m-.5-.3h.7m-.7-1.3h.7m-.6 1.7h.7m-.7-1.9h.7m-.5 1.5h.7m-.6 .2h.7m-.7-1.9h.7m-.6-.3h.7m-.4 .3h.7m-.6 1.9h.7m-.5-1.3h.7m.1 1.7h.7m-.7-2.5h.7m.2 .9h.7m-.6 1.5h.7m-.5-2.6h.7m-.6 .4h.7m-.4-.4h.7m-.6 1.4h.7m-.4 1.4h.7m.3-1.3h.7m-.3-1.5h.7m.3 1.3h.7m-.3-1.1h.7m.2 2h.7m-.3-.2h.7m-.6 0h.7m-.7-1.3h.7m.3 1.3h.7m2.5-.8h.7m-.6-1.2h.7m.1 .9h.7m1.9 1.2h.7m-47.5 2.6h.7m-.2-1.7h.7m-.4 1.1h.7m1.5-.7h.7m1.8 .1h.7m1.6 1.6h.7m-.6-1.5h.7m1.1 .8h.7m-.2-.4h.7m-.5 1.9h.7m-.5-2.3h.7m.1 1.4h.7m-.5 .6h.7m-.1 .1h.7m-.7-2.1h.7m-.1 .2h.7m-.7 1.1h.7m-.3-1h.7m-.5-.7h.7m.2 .6h.7m-.5 .5h.7m-.5-1.3h.7m-.6 .4h.7m-.7 1.2h.7m-.5 .2h.7m-.6 0h.7m-.6-.5h.7m-.5-.6h.7m-.6 .4h.7m-.7-.9h.7m-.6 1.7h.7m-.2 .5h.7m-.4-.5h.7m-.5 .7h.7m-.4-1.7h.7m-.4 .8h.7m-.5 .6h.7m-.5-1.6h.7m-.2 1.3h.7m-.6-.3h.7m-.5-.2h.7m-.6 .9h.7m-.5-.9h.7m-.4-1.3h.7m-.5 .3h.7m-.6 1.8h.7m-.7-1.9h.7m-.7 .8h.7m-.2 .6h.7m-.5 .2h.7m-.6-1.2h.7m-.5 1.4h.7m-.6-.3h.7m-.6-.1h.7m-.7-.5h.7m-.6-.3h.7m-.5 1.5h.7m-.6-2.3h.7m-.5 .4h.7m-.7-.2h.7m-.7 .6h.7m-.6 1.5h.7m-.7-2.2h.7m-.7 .3h.7m-.4 1.5h.7m-.7-1.5h.7m-.6-.5h.7m-.6-.1h.7m-.6 .2h.7m-.7 0h.7m-.4 1.1h.7m-.1 .2h.7m-.5 0h.7m-.5-.8h.7m-.7 .7h.7m-.7-1.2h.7m-.6 1.5h.7m-.6-.4h.7m-.6 .9h.7m-.7 .1h.7m-.4-1.7h.7m-.6 .4h.7m-.6 .8h.7m-.6 .9h.7m-.6-.5h.7m-.6-.9h.7m-.6 1.2h.7m-.4 .1h.7m-.6-.3h.7m-.6-1.4h.7m-.6 .2h.7m-.7 1.6h.7m-.6-1.2h.7m-.6-.5h.7m-.7-.2h.7m-.7 .6h.7m-.6-1.3h.7m-.6 .3h.7m-.4 .5h.7m-.6-.4h.7m-.7 0h.7m-.6 1.6h.7m-.6-1.3h.7m-.6 1.9h.7m-.5-2h.7m-.5 .2h.7m-.6-.3h.7m-.6-.2h.7m-.7 2.5h.7m-.6-1.4h.7m-.7-.1h.7m-.4 .8h.7m-.6-.5h.7m-.3-.6h.7m-.7 1.4h.7m-.6-1h.7m-.6 1.3h.7m-.7-.6h.7m-.6-.2h.7m-.5-1h.7m-.6 .7h.7m-.7 1.2h.7m-.7-1.9h.7m-.5-.8h.7m-.6 .7h.7m-.6 0h.7m-.5 1.8h.7m-.7-.7h.7m-.6-1h.7m-.5-.6h.7m-.5-.1h.7m-.7 1.4h.7m-.4-1.5h.7m-.6 1.9h.7m-.5-1.4h.7m-.6 .3h.7m-.5 1.7h.7m-.7-2.1h.7m-.4-.5h.7m-.6 1.7h.7m-.5-.5h.7m-.6 0h.7m-.7 1.5h.7m-.2-2.8h.7m-.5 2.5h.7m-.4-2.2h.7m-.7 .9h.7m-.7 .7h.7m-.6-.7h.7m-.7-1.1h.7m-.3 2.4h.7m-.6-.5h.7m-.6-.8h.7m-.7-.2h.7m-.5 1.4h.7m-.7-1.5h.7m-.5 .9h.7m-.4-.6h.7m-.5 1.3h.7m-.6-1.8h.7m-.1-.3h.7m-.5 1.7h.7m-.7-.3h.7m0-1.3h.7m-.7 .1h.7m.1 .8h.7m.5-.9h.7m.1 1.4h.7m.1-1.2h.7m-.6 1h.7m.5 1h.7m2.3-.4h.7m1.3-1.2h.7m9.1 1.7h.7m12.7-2.3h.7m-64.8 2.7h.7m.6 0h.7m.4-.2h.7m1.1 2h.7m.2-.9h.7m-.7 1.6h.7m-.3-2h.7m-.2 1.3h.7m-.2-1.5h.7m-.7 2.3h.7m0-1.1h.7m-.5-.7h.7m-.5 1.2h.7m-.5-.7h.7m-.4 .5h.7m-.6 .9h.7m.2-2.5h.7m-.6 2.4h.7m-.4-.5h.7m-.6-1.8h.7m-.5 2h.7m-.5-.8h.7m-.6-1.5h.7m-.6 1.9h.7m-.6-1.1h.7m-.5-.2h.7m-.6 2h.7m-.5-.5h.7m-.5-.2h.7m-.6 .1h.7m-.1-1.4h.7m-.7-.4h.7m-.2-.3h.7m-.2 1.4h.7m-.6-.8h.7m-.6 .2h.7m-.7 1.7h.7m-.7-2.5h.7m-.4 .6h.7m-.5 1.6h.7m-.6-.4h.7m-.3-1.2h.7m-.6 .1h.7m-.6 1h.7m-.4 1.1h.7m-.7-1.6h.7m-.5 .9h.7m-.5-.4h.7m-.6-1.3h.7m-.3 1.4h.7m-.5-1h.7m-.6 1.1h.7m-.6-1.2h.7m-.6 1.5h.7m-.7-2h.7m-.6 1.1h.7m-.2 .4h.7m-.7 0h.7m-.6-.8h.7m-.1-.5h.7m-.7 .9h.7m-.7-1h.7m-.2 2.5h.7m-.3-.8h.7m-.5 .7h.7m-.5-1.1h.7m-.7 0h.7m-.7 1.1h.7m-.3-1.8h.7m-.7 1h.7m-.7 .6h.7m-.7-1.9h.7m-.7 .3h.7m-.5 0h.7m-.5 .2h.7m-.7-.8h.7m-.6-.3h.7m-.4 1.8h.7m-.5-1.1h.7m-.7 .7h.7m-.5-1.3h.7m-.2 .9h.7m-.6-1h.7m-.5 1.9h.7m-.5 .5h.7m-.6-1.2h.7m-.4 .1h.7m-.6-.7h.7m-.6 1.9h.7m-.7-2.3h.7m-.4 1.7h.7m-.7-1.4h.7m-.6 .1h.7m-.5 .3h.7m-.5-.8h.7m-.2 .2h.7m-.6 1.2h.7m-.6-1.3h.7m-.7-.2h.7m-.3 2.7h.7m-.6-1.7h.7m-.1 .2h.7m-.4-1.1h.7m-.6 .6h.7m-.6-.4h.7m-.3 .3h.7m-.6 1.3h.7m-.6-1.2h.7m-.6-.2h.7m-.6 .6h.7m-.7 .6h.7m-.6-1.5h.7m-.6 .6h.7m-.7-.6h.7m-.5 .7h.7m-.1 1.3h.7m-.6-2.3h.7m.1 1.5h.7m-.2 .4h.7m-.7 .5h.7m-.5-1.5h.7m-.4 .3h.7m-.3 0h.7m-.6-.5h.7m-.6 2.1h.7m.2-1.7h.7m-.5-.8h.7m-.6 .8h.7m-.1 .7h.7m-.2-1.8h.7m.2 2.8h.7m-.4-2.5h.7m-.5 .4h.7m-.3 1.5h.7m-.4 .6h.7m2.5-2.5h.7m5.6 1.6h.7m1-1.4h.7m-.4 1.2h.7m5.6-.6h.7m.7-.8h.7m14.3 1.6h.7m-68.4 3h.7m-.4-.6h.7m-.3 .4h.7m.2 1.1h.7m.5-2.7h.7m-.4 .8h.7m-.7 .4h.7m-.2 .9h.7m.5-1.4h.7m.2 1.7h.7m-.5-.4h.7m-.4-.2h.7m-.3-.2h.7m-.6-.5h.7m-.1-1.2h.7m-.6 1.1h.7m-.7-.3h.7m-.6 .9h.7m-.6 .8h.7m-.6-1.3h.7m-.6 .4h.7m-.6-.1h.7m-.5-1.3h.7m-.6 1h.7m-.6 1.2h.7m-.7-2.2h.7m-.6 .3h.7m-.5 1.6h.7m-.5 .3h.7m-.5-1.3h.7m-.5-.1h.7m-.7-.1h.7m-.1 1.4h.7m-.3-.3h.7m-.5-.7h.7m-.6 .1h.7m-.4 .6h.7m-.6 .5h.7m-.1-.9h.7m-.7 .4h.7m-.6-.8h.7m-.4-.3h.7m-.7 1h.7m-.4-1.2h.7m-.6 .4h.7m-.3-.2h.7m-.6 .4h.7m-.5 .8h.7m-.6 .1h.7m-.6-1h.7m-.6 1.5h.7m-.7-2h.7m-.7 1.6h.7m-.6-1.7h.7m-.7 2.2h.7m-.5-1.1h.7m-.5 0h.7m-.5-1h.7m-.2 1.1h.7m-.6 .7h.7m-.6-1.4h.7m-.6 .5h.7m-.5 .3h.7m-.5-1.9h.7m-.4 2.8h.7m-.7-.6h.7m-.5 .2h.7m-.5-.4h.7m-.7 .8h.7m-.3-1.2h.7m-.2-.9h.7m-.4-.3h.7m-.6 .8h.7m-.7-.1h.7m-.6 1.2h.7m-.7 .1h.7m-.6-.4h.7m-.4-1.9h.7m-.4-.1h.7m-.6 2.5h.7m-.5-2.5h.7m-.6 .6h.7m-.4 .4h.7m-.4 .3h.7m-.7 .7h.7m-.6-.7h.7m-.6-1.1h.7m-.6 1.3h.7m-.7-.8h.7m-.3 1h.7m-.5-.9h.7m-.6-.8h.7m-.7 1.5h.7m-.7-.7h.7m-.5-.3h.7m-.5-.1h.7m-.7-.1h.7m-.6 1.9h.7m-.5-1.4h.7m-.7 .4h.7m-.6 1.1h.7m-.6-1.1h.7m-.6-1.2h.7m-.7 2.3h.7m-.3-2h.7m-.6 .8h.7m-.6 .3h.7m-.6-1.4h.7m-.7 .5h.7m-.6 .1h.7m-.6 .5h.7m-.7-.2h.7m-.6-.4h.7m-.6-.3h.7m-.6 1h.7m-.7 1h.7m-.5 .5h.7m-.7-1.1h.7m0 1.1h.7m-.4-.3h.7m-.6 .5h.7m-.4-.2h.7m-.7-.1h.7m-.5-1.2h.7m-.4-.9h.7m-.6 1h.7m-.6-.8h.7m-.7-.6h.7m-.6 2h.7m-.6-2h.7m-.4 0h.7m-.7 2.5h.7m-.5-1.3h.7m-.4 .8h.7m-.3-1.8h.7m-.6 .2h.7m-.6-.4h.7m-.5-.1h.7m-.3 2.6h.7m-.2-1.1h.7m-.4-1.4h.7m-.5 .6h.7m.8 .6h.7m-.6 .2h.7m-.6 .9h.7m-.5-1.7h.7m-.6 .6h.7m-.5-1.2h.7m-.1 1.7h.7m-.4-1.2h.7m-.6 .3h.7m-.7-.3h.7m-.4 1.1h.7m-.6-1.1h.7m-.5 1.9h.7m0-.3h.7m-.6-1.8h.7m-.4 .3h.7m1.1-.2h.7m-.6 1.6h.7m-.4-.4h.7m3.4 1.1h.7m.4-1.7h.7m.9 .2h.7m5.2 .4h.7m.4-1.3h.7m4.2 2.1h.7m-58.3 2.1h.7m-.5 .4h.7m.8-1.6h.7m-.1 1.8h.7m-.3 .6h.7m-.1-.5h.7m.4-1.8h.7m.1 .1h.7m.2 1.3h.7m-.4-1.1h.7m-.5 1.5h.7m1.5-1.7h.7m-.3-.3h.7m0 1.1h.7m-.5 .1h.7m-.5 .5h.7m.3-.1h.7m0-1.1h.7m-.5 1.4h.7m-.7 .6h.7m-.5-2.1h.7m-.6 2.2h.7m-.6-.4h.7m-.6 .4h.7m-.3-2h.7m-.6-.3h.7m-.4 2h.7m-.6-2.1h.7m-.6 1.7h.7m-.7-1h.7m-.7 .3h.7m-.2 0h.7m-.5 .5h.7m-.7 .5h.7m.4-1.5h.7m-.6 1.1h.7m-.5-.1h.7m-.5-1.9h.7m-.6 .5h.7m-.4 .4h.7m-.6-.5h.7m-.7 .3h.7m-.5-.2h.7m-.5 1.3h.7m0-1.1h.7m-.7-.5h.7m-.6 .6h.7m-.6 1h.7m-.6-.5h.7m-.6-.5h.7m-.6-.3h.7m-.5 2.2h.7m-.1-.1h.7m-.6-.1h.7m-.3-2.5h.7m.4 .3h.7m-.5 .9h.7m-.7 1.3h.7m-.7-2.4h.7m-.6 2.6h.7m-.4-2.6h.7m-.6 .1h.7m-.5 1.2h.7m-.6-.9h.7m-.5-.2h.7m-.6 1.4h.7m-.7-1h.7m-.5 2.1h.7m-.7-2.3h.7m-.6 .8h.7m-.7-.6h.7m-.2 2.1h.7m-.6-2.2h.7m-.6 .8h.7m-.6 0h.7m-.6-.7h.7m-.7-.1h.7m-.6 1.6h.7m-.6-.4h.7m-.7-1.7h.7m-.7-.2h.7m-.3 .1h.7m-.7 .4h.7m-.7 2.3h.7m-.6-1.8h.7m-.7 1h.7m-.6-1.4h.7m-.7-.6h.7m-.6 2.8h.7m-.1-1.4h.7m-.7 1h.7m-.6 .2h.7m-.7 0h.7m-.7-1.7h.7m-.2 1.4h.7m-.4 .5h.7m-.7-1.6h.7m-.5 1.4h.7m-.6 .1h.7m-.7-2h.7m-.4-.6h.7m-.6 1.2h.7m-.7 1h.7m.2-1.3h.7m-.7 .7h.7m-.7-.5h.7m-.3-.4h.7m-.5 .1h.7m-.4-.9h.7m.4 2h.7m.2-.6h.7m-.6-.2h.7m-.6-.9h.7m-.4 1.5h.7m-.7 .9h.7m-.7-2h.7m-.6 .5h.7m-.2 1.7h.7m-.2-.2h.7m-.5-.2h.7m.1-1.6h.7m4.6-.3h.7m2 .2h.7m3.3 1.5h.7m-.3-1.9h.7m2.3 1.3h.7m14.6-.3h.7m1.9 .1h.7m-67.7 1.8h.7m3.6 .9h.7m.4 1h.7m.5-2.1h.7m-.3 .7h.7m3.2-.6h.7m-.5 .2h.7m-.3 1.4h.7m-.3 .3h.7m.6-.8h.7m-.3 .5h.7m-.7-.9h.7m-.4-.6h.7m-.6 1.9h.7m-.6-1.1h.7m-.5-.4h.7m.1 .9h.7m-.4-.3h.7m0-.8h.7m-.1 .6h.7m.1-.4h.7m-.6-.6h.7m-.4 .1h.7m-.5 1.5h.7m-.6 0h.7m-.7-.3h.7m-.7-.3h.7m.3 1.3h.7m-.1-1.1h.7m-.7 1.1h.7m-.5-1.4h.7m-.6 .6h.7m-.2-.4h.7m-.5-.7h.7m-.5 .3h.7m-.5 1.1h.7m-.6 .5h.7m-.5-.6h.7m-.7-1.7h.7m-.4 .2h.7m-.7 .7h.7m-.6 1.2h.7m-.6-.8h.7m-.7-1.1h.7m.3 .5h.7m-.5 1.6h.7m-.1-1.8h.7m-.3 .5h.7m-.3 .9h.7m-.7-.5h.7m-.4-1.4h.7m-.4 1.4h.7m-.5-1.2h.7m-.2 .5h.7m-.5-.4h.7m-.7 .5h.7m-.5 1h.7m-.6-.9h.7m-.5 1.6h.7m-.6-.5h.7m-.7-2h.7m-.6 2.5h.7m-.2-1.7h.7m-.5 1.6h.7m-.6-1.3h.7m.3 1.2h.7m-.5 .2h.7m.2-.5h.7m-.7-1.2h.7m-.6 1.1h.7m0-.4h.7m-.6 .1h.7m-.6-1.7h.7m-.5 1.7h.7m-.3 .4h.7m-.1 .1h.7m-.5-1.8h.7m-.5 1.3h.7m-.5-.6h.7m.3-1h.7m-.5 .9h.7m.8 1h.7m.7-1h.7m-.3 1.6h.7m2.8-2.1h.7m2.6 1.7h.7m1.6-.9h.7m7.1-.2h.7m5.8 0h.7m-58.6 2.6h.7m1.7 .8h.7m-.2-.6h.7m-.3 .7h.7m1-1.2h.7m.5 .8h.7m.5-.3h.7m-.6 .4h.7m.1-1.2h.7m.8 .1h.7m-.7 1.2h.7m.4-.3h.7m-.6-1.1h.7m-.2 1.5h.7m-.6-.4h.7m.1-.5h.7m-.1 .8h.7m-.7 .1h.7m-.7-.7h.7m.2-.4h.7m-.3-.2h.7m-.4 .5h.7m-.4-.2h.7m-.6 1.2h.7m-.6-.2h.7m-.6-.1h.7m.2 .2h.7m0-.5h.7m-.4-.3h.7m-.6-.2h.7m.4-.3h.7m.9 .3h.7m-.3 1.1h.7m.4-1.2h.7m-.2-.3h.7m1.5 .6h.7m-.2 .6h.7m.6-1h.7m-.4-.1h.7m-.5 .2h.7m-.3-.4h.7m0 1.4h.7m4-1.5h.7m.9 .6h.7m6.1 0h.7m4.9-.5h.7" stroke="#f01818" stroke-width="0.8" stroke-opacity="0.5" fill="none"/>
<ellipse cx="350.8" cy="286.8" rx="4" ry="2.5" transform="rotate(-5 350.8 286.8)" fill="#ff0a0a" filter="url(#bl)"/>
<ellipse cx="355" cy="311" rx="5.25" ry="3.75" transform="rotate(-62 355 311)" fill="#ff0a0a" filter="url(#bl)"/>
<path d="M339.3 281.9h.7m5.9-.9h.7m-.1-.3h.7m.5 1.2h.7m-.7-.3h.7m-.1 0h.7m-.7-2.6h.7m.1 1.9h.7m-.6 1h.7m-.7-.6h.7m-.1 .3h.7m-.7 .2h.7m-.4-.7h.7m0-1h.7m-.7 .5h.7m-.6 1h.7m-.7-1.9h.7m-.5 2.1h.7m-.6-2h.7m-.4 .1h.7m-.6 1h.7m-.3-.7h.7m-.3 .9h.7m-.3 .6h.7m.8-1.2h.7m-.4 .8h.7m.4-.9h.7m.4 1.1h.7m-.1-2.3h.7m-.6 2.5h.7m-.3 .2h.7m.1 0h.7m-.4-.8h.7m6-.2h.7m.1 .2h.7m0 .3h.7m-.2-1h.7m.2 .8h.7m-30.8 3.6h.7m.5 0h.7m.2-1.3h.7m.8 1.4h.7m-.2-1.7h.7m-.3 .4h.7m-.5 1.3h.7m.3-1.1h.7m-.3-.9h.7m-.4 1h.7m-.7 .2h.7m-.6 .7h.7m-.5-2.1h.7m-.5 1.8h.7m-.7-1h.7m-.2 1.4h.7m-.4-.9h.7m-.7-1h.7m-.6 1h.7m-.6-.5h.7m-.6 .4h.7m-.7 .2h.7m-.5 .2h.7m-.6 .6h.7m-.5-.4h.7m-.7-.4h.7m-.7 .2h.7m-.3-1.1h.7m-.7 1.2h.7m-.6 .4h.7m-.6-.3h.7m-.5-1.5h.7m-.6 1.5h.7m-.6-.4h.7m-.7 .7h.7m-.6-2.1h.7m-.7 1.2h.7m-.5-.7h.7m-.6-1h.7m-.6 1.9h.7m-.7 .6h.7m-.6 .2h.7m-.6-2.9h.7m-.6 2.1h.7m-.7-1.5h.7m-.7 .3h.7m-.7 0h.7m-.6 1.7h.7m-.6-1.5h.7m-.6 1.4h.7m-.7-.6h.7m-.7 .6h.7m-.7-.5h.7m-.5-1.4h.7m-.7 .8h.7m-.6 .8h.7m-.7-.9h.7m-.6 1.4h.7m-.7 .1h.7m-.6-.2h.7m-.7-2.5h.7m-.7 2.8h.7m-.6-1.2h.7m-.7-.6h.7m-.5 1.7h.7m-.7-1.9h.7m-.6 1.5h.7m-.7-.3h.7m-.7 .2h.7m-.6-1.4h.7m-.7 2h.7m-.7-.7h.7m-.7-1.4h.7m-.7 .4h.7m-.6 1h.7m-.4-.1h.7m-.6 .7h.7m-.7-1.4h.7m-.6 .3h.7m-.6 .7h.7m-.7-1.9h.7m-.6 2h.7m-.7-1.6h.7m-.6 1.1h.7m-.6-1.5h.7m-.5 .7h.7m-.6 .3h.7m-.6 .9h.7m-.7-2h.7m-.7 1h.7m-.6 .6h.7m-.7 .1h.7m-.7-.4h.7m-.6-.3h.7m-.6-1.2h.7m-.7 2.3h.7m-.7-.1h.7m-.7 .1h.7m-.5-.2h.7m-.7-.9h.7m-.6 .9h.7m-.7-.1h.7m-.6-.4h.7m-.7-.2h.7m-.7 .5h.7m-.7 .4h.7m-.6-1.4h.7m-.6 1.1h.7m-.7-.9h.7m-.7 .5h.7m-.6 1.1h.7m-.7-1.4h.7m-.6-.4h.7m-.3-.7h.7m-.7 1.6h.7m-.6 .2h.7m-.6 .5h.7m-.5-.2h.7m-.7-1h.7m-.6-1.2h.7m-.4 1.1h.7m-.7 1.1h.7m-.5-.7h.7m-.6-.1h.7m-.7-1.7h.7m-.6 2.5h.7m-.6-1.3h.7m-.5-.8h.7m-.7 2.1h.7m-.7-2.3h.7m-.6 2.1h.7m-.7 .5h.7m-.6-2.5h.7m-.5 .8h.7m-.7 1.4h.7m-.6 .3h.7m-.6-.7h.7m-.7 .3h.7m-.5 .5h.7m-.6 0h.7m-.7-2.8h.7m-.7 .8h.7m-.6 1.7h.7m-.6-1.7h.7m-.6-.3h.7m-.7 .5h.7m-.6-.2h.7m-.7 1.3h.7m-.6 .6h.7m-.6-2.1h.7m-.6 1.1h.7m-.7-.7h.7m-.6-.3h.7m-.7 0h.7m-.6 .7h.7m-.6-1.2h.7m-.6 .5h.7m-.7 .1h.7m-.6 1.9h.7m-.5-2.5h.7m-.6 0h.7m-.3 1.5h.7m-.7-.5h.7m-.3-1h.7m-.6 .3h.7m-.6 2.2h.7m-.7-2h.7m-.3 .1h.7m-.4 1.8h.7m-.2-.7h.7m-.7 0h.7m-.6-.2h.7m-.1 .8h.7m-.5-.5h.7m.1 .3h.7m2.6 .2h.7m1.9-2.4h.7m-.3 1.2h.7m-.6 1.1h.7m-.6-.6h.7m.5 .7h.7m-.6-.6h.7m.4-.4h.7m1.1 1.2h.7m-34.6 2.3h.7m1.1-.3h.7m-.5 1.1h.7m-.1-1.1h.7m.2 .3h.7m-.1-.6h.7m-.3 0h.7m-.5-.4h.7m-.3 1.3h.7m-.6 .5h.7m-.5-.2h.7m-.7-2.5h.7m-.6 1.4h.7m-.7 .8h.7m-.7 .2h.7m-.6-2.3h.7m-.6 2.6h.7m-.4-1.3h.7m-.4 1.1h.7m-.6-.3h.7m-.6-.1h.7m-.7 .3h.7m-.5-1.3h.7m-.7 .7h.7m-.6 0h.7m-.6 .8h.7m-.6-2.7h.7m-.6 2.8h.7m-.7-1.3h.7m-.7 1.1h.7m-.6-.8h.7m-.7-.2h.7m-.5 .1h.7m-.5-.8h.7m-.7 1.7h.7m-.6 .1h.7m-.7-2h.7m-.7 1.2h.7m-.6-1.6h.7m-.7 1.7h.7m-.5-1.2h.7m-.7-.6h.7m-.7-.2h.7m-.7 2.5h.7m-.6 .1h.7m-.7-2h.7m-.6 .8h.7m-.7-1h.7m-.6-.3h.7m-.6 2.6h.7m-.7-.8h.7m-.7 .3h.7m-.6 0h.7m-.7 .6h.7m-.7-.1h.7m-.6-2.3h.7m-.7 .6h.7m-.6 .3h.7m-.7-.2h.7m-.6 .8h.7m-.7-.9h.7m-.6-.2h.7m-.7 .4h.7m-.7 1.4h.7m-.6-.2h.7m-.7-.3h.7m-.7 .2h.7m-.7-.1h.7m-.7 .6h.7m-.6-1.4h.7m-.6 0h.7m-.7 .9h.7m-.7-.5h.7m-.6 1h.7m-.7-.8h.7m-.7-.8h.7m-.6 .7h.7m-.7-.6h.7m-.6-.9h.7m-.7 1.5h.7m-.6-1.6h.7m-.7-.3h.7m-.7 1.7h.7m-.7-.8h.7m-.7 .9h.7m-.7-1.3h.7m-.6 1h.7m-.7 .9h.7m-.6 0h.7m-.7-1.6h.7m-.7 1.7h.7m-.5-1.3h.7m-.7-.6h.7m-.7 1h.7m-.7-.1h.7m-.7-1.5h.7m-.6 2.8h.7m-.7-2.6h.7m-.7 .2h.7m-.7 .2h.7m-.7 1h.7m-.6-.1h.7m-.7 .3h.7m-.7-.7h.7m-.7 1.1h.7m-.6-1.2h.7m-.7-.6h.7m-.7-.1h.7m-.7 .8h.7m-.6-.1h.7m-.7-.8h.7m-.7 2.1h.7m-.7-.1h.7m-.6-1h.7m-.7-1.2h.7m-.7 .7h.7m-.7 1.7h.7m-.7-1.8h.7m-.7 2h.7m-.7-2.7h.7m-.6 1.9h.7m-.6-.7h.7m-.7-1.2h.7m-.7 2.2h.7m-.7 .7h.7m-.6-.4h.7m-.6-1h.7m-.7 .6h.7m-.7-.2h.7m-.7-1.6h.7m-.7 2.5h.7m-.7-1.1h.7m-.6 1h.7m-.7-2.6h.7m-.7 2.1h.7m-.7-2.2h.7m-.6 1.3h.7m-.7-.4h.7m-.7 1.1h.7m-.7-.3h.7m-.7-1.7h.7m-.6 2h.7m-.7-1.4h.7m-.7-.1h.7m-.7 .2h.7m-.7 0h.7m-.7 1.8h.7m-.6-1.5h.7m-.7 1.7h.7m-.7-1.8h.7m-.7-.4h.7m-.6 1.3h.7m-.7 .9h.7m-.7 .1h.7m-.6-.7h.7m-.7 .2h.7m-.7-.1h.7m-.7-1.8h.7m-.7 .8h.7m-.7-.4h.7m-.6 2h.7m-.7-.8h.7m-.7-1h.7m-.7 1.6h.7m-.7-1.3h.7m-.7 .6h.7m-.6 .7h.7m-.7 .1h.7m-.7-1.2h.7m-.6-.8h.7m-.7-.5h.7m-.7 .7h.7m-.7 .2h.7m-.7 1h.7m-.7-1.4h.7m-.6-.3h.7m-.7 1.5h.7m-.7-1.4h.7m-.6-.3h.7m-.7 .5h.7m-.7-.5h.7m-.7 1.6h.7m-.7-.1h.7m-.6 .8h.7m-.7 .4h.7m-.7-1.9h.7m-.7 1.8h.7m-.6 0h.7m-.7-1.5h.7m-.7 1.1h.7m-.7-1.5h.7m-.7 1.3h.7m-.6-.9h.7m-.6-.9h.7m-.7-.3h.7m-.6 .1h.7m-.7 .5h.7m-.7 .2h.7m-.7-.3h.7m-.7 2h.7m-.7-2.5h.7m-.7 .5h.7m-.6 .2h.7m-.7 1.5h.7m-.7-1.3h.7m-.7 .1h.7m-.7-1h.7m-.7 1.6h.7m-.6 1.1h.7m-.7-1h.7m-.7-.2h.7m-.7 1.3h.7m-.7-1h.7m-.6 .4h.7m-.7-.2h.7m-.7-1.2h.7m-.6-.6h.7m-.7 2.2h.7m-.7 .4h.7m-.6-2.4h.7m-.7 .3h.7m-.6 1h.7m-.7-.5h.7m-.6 1.1h.7m-.7-.5h.7m-.7-.3h.7m-.7-.6h.7m-.7 1.6h.7m-.6-.7h.7m-.7-1.3h.7m-.7 .6h.7m-.7-.3h.7m-.7 .6h.7m-.7-.7h.7m-.7-.5h.7m-.7 1.9h.7m-.6-.3h.7m-.7 1h.7m-.7-1.2h.7m-.7-1.4h.7m-.7 2h.7m-.6 .3h.7m-.7-1.3h.7m-.7 .3h.7m-.7-.3h.7m-.6 1.1h.7m-.7-.6h.7m-.7-.2h.7m-.6-1.5h.7m-.7 1.1h.7m-.7-1.1h.7m-.6 1h.7m-.7-1.1h.7m-.7 .7h.7m-.7 1.3h.7m-.7 .4h.7m-.6-1h.7m-.7-1.1h.7m-.7 .4h.7m-.7 .1h.7m-.7 .5h.7m-.6 0h.7m-.7-.3h.7m-.7 .3h.7m-.6 1.1h.7m-.6 .5h.7m-.7-.5h.7m-.7-2.4h.7m-.7 .7h.7m-.6 1.9h.7m-.6 .3h.7m-.7-.2h.7m-.7 .1h.7m-.7-1.9h.7m-.7-.3h.7m-.6 2.1h.7m-.7-1.6h.7m-.7 1.4h.7m-.7-1.4h.7m-.7 0h.7m-.7-.7h.7m-.7 2h.7m-.6-1.9h.7m-.7-.4h.7m-.7 1.7h.7m-.7-.7h.7m-.7 1.6h.7m-.6-.8h.7m-.7 .8h.7m-.6 .2h.7m-.7-2.4h.7m-.7 .7h.7m-.7-.9h.7m-.6 2.6h.7m-.7-1.3h.7m-.7-.2h.7m-.7-.5h.7m-.6 .8h.7m-.7-.5h.7m-.6 1.7h.7m-.7-.9h.7m-.7-.3h.7m-.7 .8h.7m-.7-1.9h.7m-.7 .1h.7m-.7 .1h.7m-.6 1.1h.7m-.7 .4h.7m-.7-.8h.7m-.6 1.3h.7m-.7-2.4h.7m-.7 2.1h.7m-.7-.6h.7m-.6-1.9h.7m-.7 .2h.7m-.7 1.2h.7m-.7-.3h.7m-.7 .5h.7m-.7 1.1h.7m-.7-.9h.7m-.7 .9h.7m-.6-2.6h.7m-.7 1.8h.7m-.7-1h.7m-.6-.1h.7m-.7-.1h.7m-.6 .9h.7m-.7 .9h.7m-.6-1h.7m-.7 1h.7m-.7-1.2h.7m-.7 .8h.7m-.7 .6h.7m-.6-2.3h.7m-.7 1.6h.7m-.7 .6h.7m-.6-1h.7m-.7 .2h.7m-.7 1.1h.7m-.7-1.8h.7m-.7 .7h.7m-.7 1h.7m-.7-.6h.7m-.6 .3h.7m-.7-2.1h.7m-.6 2.2h.7m-.7-.6h.7m-.7 .7h.7m-.7-2.5h.7m-.7 .4h.7m-.6 .3h.7m-.7 1.8h.7m-.7-.3h.7m-.6-.9h.7m-.7 1.3h.7m-.7-.4h.7m-.7-2.2h.7m-.7 1.4h.7m-.6-.3h.7m-.6 .8h.7m-.6 .2h.7m-.7 .2h.7m-.7-2.3h.7m-.6 .6h.7m-.6 .3h.7m-.7 .8h.7m-.7-1.2h.7m-.6 2.2h.7m-.7-.8h.7m-.6-1.1h.7m-.7 1.2h.7m-.7 .3h.7m-.6 .4h.7m-.7-2.2h.7m-.6 .2h.7m-.5 1.4h.7m-.7 .5h.7m-.7-2h.7m-.6 .8h.7m-.7-.8h.7m-.6 1.7h.7m-.7-1.2h.7m-.6 .1h.7m-.6 1.4h.7m-.6-1.8h.7m-.6-.5h.7m-.6 .3h.7m-.6 1h.7m-.7-.8h.7m-.7 .6h.7m-.6 .1h.7m-.7-.7h.7m-.7 0h.7m-.6 .9h.7m-.6 .4h.7m-.6-.8h.7m-.5-.9h.7m-.6 .4h.7m-.6-.8h.7m-.7 2.2h.7m-.7-1.9h.7m-.6 2.3h.7m-.7-2.6h.7m-.7 .2h.7m-.6 .8h.7m-.7 1.7h.7m-.7-2.8h.7m-.7 2.4h.7m-.7-.5h.7m-.7-1.7h.7m-.6 .9h.7m-.7 .1h.7m-.6-.6h.7m-.6 1.5h.7m-.7 .5h.7m-.7-.1h.7m-.7-.8h.7m-.6-1.7h.7m-.6 1.2h.7m-.5 .5h.7m-.6-.3h.7m-.7 .7h.7m-.6-1.9h.7m-.7 2.3h.7m-.6-.5h.7m-.7-1.1h.7m-.6 .4h.7m-.7 1h.7m-.6-2h.7m-.6 .1h.7m-.7 .9h.7m-.4-.8h.7m-.6 .7h.7m-.3 1.5h.7m-.4-2.6h.7m-.5 .3h.7m-.6-.3h.7m-.4 1.1h.7m-.7 1.1h.7m-.6-.2h.7m1-1.5h.7m.8 2h.7m-.2-1.2h.7m.7 .8h.7m-.3-.6h.7m0 .7h.7m-.4 .4h.7m-.6-2h.7m-.5 .9h.7m-.3 .6h.7m-.4-.4h.7m-.4-1.1h.7m-.6-.7h.7m-.2 .6h.7m.3-.3h.7m-.7 2.5h.7m.3-1.1h.7m2.2-1.2h.7m-34.2 4.8h.7m0-1.3h.7m-.2 .2h.7m-.2 .7h.7m-.7-1.1h.7m-.3 0h.7m-.6 1h.7m-.4 .5h.7m-.3-1.1h.7m-.7-1h.7m-.5 .7h.7m-.4 1.5h.7m-.4-.8h.7m-.7-.9h.7m-.5 0h.7m-.5 .5h.7m-.6-1.1h.7m0 .7h.7m-.7-.3h.7m-.6 0h.7m-.6-.5h.7m-.5 .2h.7m-.7 1h.7m-.7 1.6h.7m-.6-2.8h.7m-.7 0h.7m-.7 2.2h.7m-.7-.5h.7m-.7-1.7h.7m-.5 1h.7m-.7 1h.7m-.4-2h.7m-.7 1.9h.7m-.6-1.5h.7m-.7 1.3h.7m-.7-1.3h.7m-.4-.4h.7m-.7 0h.7m-.7 2.8h.7m-.7-.5h.7m-.5-1.4h.7m-.6-.4h.7m-.6-.1h.7m-.7 2.2h.7m-.7-1.2h.7m-.6 1.4h.7m-.6-1.3h.7m-.7 .2h.7m-.7-1.2h.7m-.6-.5h.7m-.7 1.7h.7m-.7-.8h.7m-.7 1.7h.7m-.7-2.2h.7m-.5 1.3h.7m-.7-1.6h.7m-.7 0h.7m-.7 .3h.7m-.6 1.9h.7m-.7-1.6h.7m-.5 .9h.7m-.7-1.6h.7m-.6 1.5h.7m-.7-1.5h.7m-.6 1.5h.7m-.6 .6h.7m-.7-.5h.7m-.7 .4h.7m-.7-.2h.7m-.6-1.4h.7m-.7-.4h.7m-.7 0h.7m-.7 1.5h.7m-.6 .2h.7m-.7-.4h.7m-.7-1.3h.7m-.7 2.2h.7m-.7-2.3h.7m-.5 1.5h.7m-.7-1.4h.7m-.6 .5h.7m-.7-.2h.7m-.6-.2h.7m-.6 1.2h.7m-.7-.8h.7m-.7 .2h.7m-.6-.3h.7m-.6-.2h.7m-.7 2.5h.7m-.6-2.1h.7m-.7 1.1h.7m-.6 .4h.7m-.7-1.7h.7m-.7 1.2h.7m-.7-1h.7m-.7 1h.7m-.7-.8h.7m-.5-.5h.7m-.7 .2h.7m-.7 .7h.7m-.7-1.1h.7m-.7 .2h.7m-.6 1.4h.7m-.7 .5h.7m-.7-.3h.7m-.7 .2h.7m-.7-1.6h.7m-.6 .1h.7m-.6 .3h.7m-.7 1.5h.7m-.7-1.2h.7m-.7-.4h.7m-.6-.8h.7m-.7 1.1h.7m-.7-.4h.7m-.6-.3h.7m-.7 .5h.7m-.7 .2h.7m-.7-.1h.7m-.7 .7h.7m-.6-1.2h.7m-.6 1.1h.7m-.7-.4h.7m-.7-.9h.7m-.6-.2h.7m-.7 1.1h.7m-.7-1.2h.7m-.6 .2h.7m-.6 1h.7m-.7-1.1h.7m-.5-.2h.7m-.7 1h.7m-.6 .2h.7m-.7 .5h.7m-.7-.7h.7m-.7 .6h.7m-.6-.8h.7m-.7-.7h.7m-.7 .9h.7m-.7 .5h.7m-.6-.2h.7m-.6-1.1h.7m-.6 2.3h.7m-.6-1.1h.7m-.6 .8h.7m-.7-.8h.7m-.6-.6h.7m-.7 1.9h.7m-.7-.9h.7m-.7-1.6h.7m-.6 .3h.7m-.7 1.2h.7m-.6-.2h.7m-.7 .6h.7m-.7-.9h.7m-.6-.7h.7m-.7 .2h.7m-.6 1.9h.7m-.7 .2h.7m-.7-2.7h.7m-.7 0h.7m-.6 .7h.7m-.6 .1h.7m-.7 1.9h.7m-.7-.2h.7m-.7-2.4h.7m-.5 .1h.7m-.6 .7h.7m-.7 1.2h.7m-.7-.4h.7m-.6-1.7h.7m-.7 1.1h.7m-.5-.1h.7m-.6-1.1h.7m-.7 2h.7m-.7-2h.7m-.7 2.5h.7m-.6-1.2h.7m-.7-1h.7m-.6 2.1h.7m-.7-1.8h.7m-.7 0h.7m-.6 .9h.7m-.7-.9h.7m-.6-.4h.7m-.7-.2h.7m-.7 .5h.7m-.6 0h.7m-.7 1.3h.7m-.6-.9h.7m-.7-.5h.7m-.7 .2h.7m-.7 1.1h.7m-.6-1.4h.7m-.7 1.8h.7m-.6-1.1h.7m-.6 .7h.7m-.7-1.6h.7m-.7 1.2h.7m-.6-.5h.7m-.7-.8h.7m-.6 .3h.7m-.7 .7h.7m-.7-.8h.7m-.5 .6h.7m-.5-.3h.7m-.7 .1h.7m-.6 1.8h.7m-.7-.4h.7m-.7-1.1h.7m-.6 .2h.7m-.7-.4h.7m-.6 .2h.7m-.7 .1h.7m-.7 0h.7m-.7-.6h.7m-.7 2h.7m-.6-.1h.7m-.7-2.1h.7m-.7 .7h.7m-.6 0h.7m-.7 2h.7m-.6-2.2h.7m-.7 1h.7m-.6-1.6h.7m-.6 1.1h.7m-.7 1.4h.7m-.7 .1h.7m-.4-.5h.7m-.6-1.8h.7m-.6 2.5h.7m-.7-.5h.7m-.5 0h.7m-.7-2.4h.7m-.7 .3h.7m-.6 1.4h.7m-.5 .3h.7m-.7-1.1h.7m-.7 .7h.7m-.7 .4h.7m-.1-1.3h.7m-.7-.4h.7m-.7 .2h.7m-.7 1h.7m-.5-.6h.7m-.4-.9h.7m-.5 .4h.7m-.7 .7h.7m-.6-.9h.7m-.7 2.5h.7m-.3-2.6h.7m-.1 .8h.7m-.7-.4h.7m-.5 1h.7m-.5 .1h.7m-.4-.3h.7m-.2-.6h.7m2.4 .8h.7m1.3 0h.7m1-.4h.7m2.6-.2h.7m-28 4.6h.7m.6 .2h.7m-.2-.4h.7m-.1 .3h.7m-.6-2.5h.7m-.4 0h.7m-.4 .5h.7m-.2-.4h.7m-.5 .2h.7m-.6-.2h.7m0-.1h.7m-.4 .4h.7m1.1 .8h.7m-.6-.6h.7m-.6-.3h.7m-.6 .9h.7m-.7-.3h.7m-.6-1h.7m-.7 .3h.7m-.7 1.7h.7m-.5-1.4h.7m-.5 1.8h.7m-.6-1.5h.7m-.6 .9h.7m-.7-.5h.7m-.7 .5h.7m-.6-1.4h.7m-.1 .3h.7m-.7-.1h.7m-.7-.2h.7m-.4 .9h.7m-.7 .5h.7m-.7-1.4h.7m-.4-.3h.7m-.4 2.5h.7m-.7-1h.7m-.4-1.4h.7m-.6 1.7h.7m-.7 .4h.7m-.6-2.3h.7m-.7 .1h.7m-.6 2.4h.7m-.2-1.2h.7m-.5-.5h.7m-.7 2h.7m-.6-.3h.7m-.6-.4h.7m-.5-1.7h.7m-.3-.2h.7m-.7-.1h.7m-.5 0h.7m-.2 .3h.7m-.4 1h.7m-.3 1.4h.7m-.5-2.7h.7m.3-.1h.7m.2 1.2h.7m1.2-.3h.7m-11.3 4.8h.7m-.4-2h.7m-.5 1.1h.7m.3 .2h.7m0-2h.7m-.5 2.9h.7m-.6-.6h.7m-.7 .3h.7m-.5-.8h.7m-.6 .4h.7m-.7-1.1h.7m-.5 1.2h.7m-.4 0h.7m-.7-.7h.7m-.7 .9h.7m-.7-1.9h.7m-.5 .9h.7m-.6 .9h.7m-.5-2.1h.7m-.7 2.2h.7m-.6-.2h.7m-.4-.2h.7m-.5 .2h.7m-.6-1h.7m-.7 1.6h.7m-.6-2.6h.7m-.7 2.5h.7m-.3-2.5h.7m-.6-.1h.7m-.6 0h.7m-.5 .5h.7m-.4 1.1h.7m-.5 0h.7m-.6-1.8h.7m-.1 .6h.7m-.6-.5h.7m-.4 1.4h.7m-.5 .2h.7m1 1.1h.7m5.2-1.2h.7m-16.2 3.3h.7m0-1.4h.7m-.2 .9h.7m-.6-1.2h.7m-.1 1.2h.7m-.5 .6h.7m-.4 .7h.7m-.6-.6h.7m-.7-.4h.7m-.3-.1h.7m-.5 .4h.7m0-1.3h.7m-.5 .4h.7m-.4-.9h.7m-.7 2.5h.7m-.6-1.2h.7m-.5-.5h.7m-.6 .4h.7m-.7-.6h.7m-.6 2.1h.7m-.4-1.9h.7m-.7 .7h.7m-.6 .9h.7m-.7-2h.7m-.6-.4h.7m-.6 .5h.7m-.7 .1h.7m-.6 1.1h.7m-.7-1.6h.7m-.6 .6h.7m-.7 .5h.7m-.7 .4h.7m-.6-1.8h.7m-.6 1.3h.7m-.6-.2h.7m-.6 .6h.7m-.4 0h.7m-.4-.6h.7m-.7-.1h.7m-.5 .7h.7m-.6 1h.7m-.6-1.6h.7m-.6-.3h.7m-.5 2.1h.7m.1-.3h.7m-.1-1.7h.7m-.6 .1h.7m-.2 .1h.7m.6 1.7h.7m-.3-1.8h.7m-.7-1h.7m-.4 1h.7m.3 1.9h.7m-.5-1.6h.7m-.6 .7h.7m-.3 .8h.7m-.5-.6h.7m0-.7h.7m-.4-.8h.7m0 .4h.7m-.7 .3h.7m-.1 1.1h.7m-.5-.1h.7m-.5 .4h.7m-.6-2.7h.7m.1 0h.7m-.2 .7h.7m-.7 1.9h.7m-.2-.4h.7m-.7 .2h.7m.3-.2h.7m-20.6 1.3h.7m1.5-.2h.7m.1 2.4h.7m-.5-.5h.7m-.7 .5h.7m-.5-1.9h.7m0 1.6h.7m-.7-1.8h.7m-.4 .2h.7m-.5 1.9h.7m-.4-.3h.7m-.6-1.5h.7m-.6-.5h.7m-.7 2h.7m-.5-2.1h.7m-.7 .4h.7m-.1 1.5h.7m-.7 .2h.7m-.7-2h.7m-.5 2.2h.7m-.7 0h.7m-.5-1.2h.7m-.6 .7h.7m-.6 0h.7m-.6-.9h.7m-.3 .1h.7m-.5 1.4h.7m-.6-1h.7m-.7-.5h.7m-.6-.8h.7m-.7-.2h.7m-.7 2h.7m-.6-.1h.7m-.7-1.2h.7m-.6 .6h.7m-.6-1.3h.7m-.5 .7h.7m-.5 0h.7m-.6 1.1h.7m-.6-.4h.7m-.7 0h.7m-.6-1.5h.7m-.5 1.7h.7m-.6-.9h.7m-.7 1.9h.7m-.6-2.1h.7m-.7 .4h.7m-.5-1.1h.7m-.7 .9h.7m-.6 .3h.7m-.7 1.4h.7m-.6-1.2h.7m-.4 1.4h.7m-.5-1.2h.7m-.7 1h.7m-.7-2.4h.7m-.6 .8h.7m-.3 1.5h.7m-.6 .3h.7m-.6-2.3h.7m-.6 .9h.7m-.5 .5h.7m-.6-.5h.7m-.6 1.4h.7m-.7-2.1h.7m-.6 1.7h.7m-.7-.5h.7m-.4 .9h.7m-.6-.3h.7m-.5-1.7h.7m-.7-.6h.7m-.2 .4h.7m-.5 .9h.7m-.7-.2h.7m-.5 .9h.7m-.6-.8h.7m-.7-1.1h.7m-.7 1.1h.7m-.6 1.4h.7m-.6-1.4h.7m-.7 .9h.7m-.5 .5h.7m-.6-1h.7m-.6-.5h.7m-.7 1h.7m-.6-.6h.7m-.7-.9h.7m-.7 .6h.7m-.5-.5h.7m-.5 .2h.7m-.7 1.2h.7m-.5-1h.7m-.7 .5h.7m-.5-.4h.7m-.4 1h.7m-.5 .3h.7m-.7-.2h.7m-.6 .3h.7m-.7-2.7h.7m-.7 .8h.7m-.4 .8h.7m-.7-.1h.7m-.4-1h.7m-.7-.6h.7m-.6 2.5h.7m-.7-1.2h.7m-.5-.9h.7m-.6 .7h.7m-.7 1.3h.7m-.6-.2h.7m-.6-1.9h.7m-.7 .7h.7m-.7 1.1h.7m-.6 .3h.7m-.7-1.5h.7m-.7 1.3h.7m-.6 .5h.7m-.6-.2h.7m-.7-2.5h.7m-.7 0h.7m-.6 .2h.7m-.6 1.9h.7m-.7-.2h.7m-.7 .6h.7m-.7-1.9h.7m-.7 1.7h.7m-.6-.9h.7m-.7 1h.7m-.6-1.8h.7m-.5-.3h.7m-.7 1.6h.7m-.6-2h.7m-.5 2.4h.7m-.6-.3h.7m-.6 0h.7m-.5-1.1h.7m-.5 .3h.7m-.7 1.4h.7m-.6-.2h.7m-.6-1h.7m-.5-1.4h.7m-.7 2.1h.7m-.5-.4h.7m-.6 .1h.7m-.6-.2h.7m-.3 .9h.7m-.5-1.6h.7m-.7 0h.7m-.6 .5h.7m-.6 1.4h.7m-.6-1.1h.7m-.5-1.2h.7m.6 .5h.7m-23.9 4.8h.7m1.6-.4h.7m-.6-2.3h.7m-.2 .6h.7m-.5-.8h.7m-.4 .3h.7m-.4 0h.7m.2-.2h.7m-.6 .4h.7m-.7 1h.7m-.5-.2h.7m-.6 1.1h.7m-.1 0h.7m.2 .4h.7m-.7-2.6h.7m-.5 1.1h.7m-.7 .6h.7m-.6 1h.7m-.1-2h.7m-.7-.5h.7m-.5 .9h.7m-.7-.4h.7m-.6 1.5h.7m-.7-.1h.7m-.4-1.5h.7m-.7 1.1h.7m-.7 0h.7m-.6 .9h.7m-.7-1.1h.7m-.7 .1h.7m-.7 1h.7m-.6 .1h.7m-.7-.2h.7m-.7-2h.7m-.6 2h.7m-.5-.9h.7m-.5 .2h.7m-.7-.3h.7m-.7 .4h.7m-.6-.3h.7m-.5 .6h.7m-.7-.3h.7m-.5-1.2h.7m-.6 1.3h.7m-.7 .6h.7m-.7-2.2h.7m-.6 1.3h.7m-.6 .8h.7m-.6-1.8h.7m-.7-.9h.7m-.3 2.1h.7m-.6-1.2h.7m-.7 .9h.7m-.6-.7h.7m-.7 1.2h.7m-.6-1.8h.7m-.7 2h.7m-.6-1.3h.7m-.7-.3h.7m-.6 1h.7m-.4 1h.7m-.7-.7h.7m-.5 .7h.7m-.7-2.5h.7m-.6 .9h.7m-.6 1.3h.7m-.7-.5h.7m-.6-1.2h.7m-.7-.4h.7m-.6 1.2h.7m-.7-.6h.7m-.7-.8h.7m-.6 1.8h.7m-.6 0h.7m-.7-.6h.7m-.7-1.1h.7m-.6 1h.7m-.6 .1h.7m-.7 1.3h.7m-.7 .1h.7m-.6-1.4h.7m-.7 .5h.7m-.6 .2h.7m-.7-1.6h.7m-.6-.2h.7m-.6 .3h.7m-.7 .8h.7m-.6 .5h.7m-.6 .7h.7m-.7-2.3h.7m-.5 1.3h.7m-.6-.1h.7m-.6-1.4h.7m-.6 1.3h.7m-.7-1.4h.7m-.7 1.1h.7m-.6 1.6h.7m-.5-.6h.7m-.7 .1h.7m-.7-1.1h.7m-.6 1.2h.7m-.7-2.4h.7m-.6 .6h.7m-.7 .3h.7m-.7 1.2h.7m-.6 .2h.7m-.7-.1h.7m-.6 .1h.7m-.7-1.5h.7m-.6 1.6h.7m-.5-.5h.7m-.7-.8h.7m-.7 1.6h.7m-.6 .2h.7m-.7-1.7h.7m-.6 1h.7m-.7 .3h.7m-.6-.1h.7m-.7 .5h.7m-.6-1.9h.7m-.7-.3h.7m-.5 2.2h.7m-.7-2.8h.7m-.6 1.5h.7m-.7-.5h.7m-.7 1.7h.7m-.7-1h.7m-.6-.4h.7m-.7-1.1h.7m-.7-.1h.7m-.7 2.3h.7m-.6-1.9h.7m-.6 .7h.7m-.7-1.2h.7m-.6 1h.7m-.7 1.4h.7m-.6-.9h.7m-.7-.2h.7m-.7 1.4h.7m-.5-.1h.7m-.6-2.1h.7m-.7-.2h.7m-.7 2.5h.7m-.6-2.5h.7m-.6 .8h.7m-.7-.5h.7m-.7 .4h.7m-.7 .4h.7m-.7 .7h.7m-.6-1h.7m-.7-.4h.7m-.7-.7h.7m-.6 .8h.7m-.6 .8h.7m-.7-1.5h.7m-.7 1.2h.7m-.7 .4h.7m-.7-1.4h.7m-.6 0h.7m-.7 2.2h.7m-.6-.3h.7m-.7-2h.7m-.6 .2h.7m-.7 1.4h.7m-.6 .1h.7m-.7-1.5h.7m-.7-.5h.7m-.6 2.5h.7m-.7-.6h.7m-.6 .1h.7m-.7-1.2h.7m-.7 .1h.7m-.7-.9h.7m-.7 1.4h.7m-.7 1h.7m-.6-1.2h.7m-.5-.6h.7m-.7 1.6h.7m-.7-.8h.7m-.6-.7h.7m-.7 1h.7m-.6 0h.7m-.7 .6h.7m-.6-.9h.7m-.6 .4h.7m-.7-.3h.7m-.7-.9h.7m-.6 1.7h.7m-.6-.3h.7m-.7 .3h.7m-.6-.2h.7m-.7-1h.7m-.7-.8h.7m-.7 .4h.7m-.6 2h.7m-.6-.2h.7m-.7-2.4h.7m-.6 2.8h.7m-.4-.4h.7m-.7-1.6h.7m-.6-.7h.7m-.7 1.5h.7m-.7 .7h.7m-.6 .1h.7m-.7-1.5h.7m-.7-.3h.7m-.7 1.6h.7m-.6-1.3h.7m-.7 .4h.7m-.7-.9h.7m-.5 1.3h.7m-.7-.8h.7m-.5-.2h.7m-.6 .5h.7m-.7 1.6h.7m-.7-.2h.7m-.6-2h.7m-.6-.6h.7m-.6 2.4h.7m-.6-.2h.7m-.5-1.4h.7m-.7 2h.7m-.6-1.3h.7m-.6 .2h.7m-.7-.7h.7m-.4 .2h.7m-.7-.6h.7m-.6 0h.7m-.6-.5h.7m-.5 1.8h.7m-.6-1h.7m-.6 .6h.7m-.3 1h.7m-.5-.5h.7m-.3 .5h.7m-.7-.9h.7m-.3-.7h.7m-.4-.7h.7m.3-.2h.7m.2 1.6h.7m-.2-1.5h.7m-24.3 5.6h.7m.1-.8h.7m-.7-.4h.7m-.7 .7h.7m0-.2h.7m-.1-1h.7m-.4 .1h.7m-.4 1.3h.7m-.7-.1h.7m-.6-.5h.7m-.5-.8h.7m-.6 1.8h.7m-.6-.8h.7m-.6-1.6h.7m0 2.4h.7m-.6-.1h.7m-.7-2.1h.7m-.6 2.2h.7m-.7-.7h.7m-.7-2.1h.7m-.7 1.6h.7m-.6-.1h.7m-.5 .1h.7m-.6-.2h.7m-.7-.6h.7m-.6-.3h.7m-.5-.1h.7m-.6 .5h.7m-.7 1.7h.7m-.7-.5h.7m-.7-1.4h.7m-.6-.5h.7m-.7 2.2h.7m-.7-2.2h.7m-.6-.1h.7m-.7 2.1h.7m-.6-1.8h.7m-.7 .7h.7m-.7 .7h.7m-.7-1.1h.7m-.6-.2h.7m-.6 2h.7m-.7 .1h.7m-.6 .2h.7m-.7-.7h.7m-.6-.4h.7m-.6 .6h.7m-.7 .1h.7m-.7-2.5h.7m-.7 1.6h.7m-.6 1.1h.7m-.7-1h.7m-.6 1.2h.7m-.7-1.4h.7m-.6 .8h.7m-.7 .2h.7m-.6-1.4h.7m-.7 0h.7m-.6 .6h.7m-.7-.9h.7m-.7 1h.7m-.6-1.3h.7m-.6 2.1h.7m-.7-.3h.7m-.7-1.7h.7m-.7 .2h.7m-.6 1.5h.7m-.7 .6h.7m-.6-.8h.7m-.6-.3h.7m-.7 .6h.7m-.7-1.2h.7m-.6 1.5h.7m-.7-2.2h.7m-.7 .8h.7m-.6-.1h.7m-.7 .7h.7m-.6-1.5h.7m-.6-.1h.7m-.7 .7h.7m-.6 1.4h.7m-.7-2.4h.7m-.7 2.7h.7m-.7-.9h.7m-.7 .5h.7m-.6-2h.7m-.6 1.4h.7m-.7 .3h.7m-.7 .4h.7m-.6-.5h.7m-.7 1h.7m-.6-1.1h.7m-.5 .7h.7m-.5-2.2h.7m-.7 2.5h.7m-.7-.5h.7m-.7 0h.7m-.7-2.3h.7m-.6 1.9h.7m-.7 .2h.7m-.7-1.4h.7m-.7 1.2h.7m-.7 .6h.7m-.6-1.1h.7m-.7-.5h.7m-.7 1.7h.7m-.7-.4h.7m-.7-.4h.7m-.6-.1h.7m-.7-1.4h.7m-.7 1.5h.7m-.6 .9h.7m-.7-1.6h.7m-.6 1.6h.7m-.7-.8h.7m-.7 .6h.7m-.7-2.3h.7m-.7 1.3h.7m-.7 1.4h.7m-.6-1.2h.7m-.7 .5h.7m-.7-1.4h.7m-.7 .5h.7m-.7 1.1h.7m-.7-.7h.7m-.6-1.1h.7m-.7-.3h.7m-.6 1h.7m-.6 1.6h.7m-.7-.5h.7m-.7-1.1h.7m-.6 0h.7m-.7 0h.7m-.5 .7h.7m-.7-.3h.7m-.7-1.4h.7m-.7-.1h.7m-.7-.2h.7m-.6 2.6h.7m-.7-1.7h.7m-.6 .4h.7m-.7 .9h.7m-.7 0h.7m-.6-1.4h.7m-.7 1h.7m-.6-.7h.7m-.7-.5h.7m-.6 2.2h.7m-.7-1.3h.7m-.7 .1h.7m-.7-.4h.7m-.6-1.2h.7m-.7 2.3h.7m-.7 .1h.7m-.7-1.2h.7m-.7 .9h.7m-.7-.1h.7m-.7 .6h.7m-.6-.4h.7m-.6-.6h.7m-.7 .6h.7m-.7 .1h.7m-.7 .4h.7m-.7-1.3h.7m-.6-.8h.7m-.7 2.3h.7m-.7 0h.7m-.7-1.1h.7m-.6 .9h.7m-.7-.8h.7m-.6-1h.7m-.7-.7h.7m-.6 1.3h.7m-.7 1h.7m-.7 .4h.7m-.7-2.2h.7m-.7 2.2h.7m-.7-.8h.7m-.6-2.1h.7m-.7 2h.7m-.7-1.3h.7m-.7 .9h.7m-.6-.7h.7m-.7 1.1h.7m-.7 .2h.7m-.7 .3h.7m-.5-1.8h.7m-.7-.5h.7m-.7 .6h.7m-.7 .2h.7m-.7 .8h.7m-.7-1.1h.7m-.7-.7h.7m-.6 2.5h.7m-.7-1.9h.7m-.7 2h.7m-.6-.6h.7m-.7-.2h.7m-.7-.5h.7m-.7 .8h.7m-.7-1h.7m-.7 .6h.7m-.6-1.3h.7m-.7 2.5h.7m-.7-.7h.7m-.7-.8h.7m-.7 .2h.7m-.6 1.1h.7m-.7-.3h.7m-.7 .1h.7m-.6-1.5h.7m-.7 1.3h.7m-.7-.5h.7m-.7 .7h.7m-.6 0h.7m-.7-1.6h.7m-.7 1.8h.7m-.7-2h.7m-.7 1.7h.7m-.7-1.5h.7m-.6 2h.7m-.7-1.6h.7m-.7-.4h.7m-.7 .8h.7m-.7-.7h.7m-.6-.1h.7m-.7 .7h.7m-.7-1h.7m-.7 1.8h.7m-.7-.8h.7m-.6-.5h.7m-.7 .4h.7m-.6 1.4h.7m-.7-.8h.7m-.7-1h.7m-.7 1.6h.7m-.6-1h.7m-.7 .4h.7m-.7-1.3h.7m-.7 .2h.7m-.7 1.7h.7m-.7 0h.7m-.7-2.5h.7m-.6 1.3h.7m-.7 1h.7m-.6 .3h.7m-.7-2.1h.7m-.7 .1h.7m-.7 .4h.7m-.7 .3h.7m-.6 .9h.7m-.7-.8h.7m-.7 0h.7m-.5-.6h.7m-.6 .4h.7m-.7-.8h.7m-.7 1.5h.7m-.6 .8h.7m-.7-1.2h.7m-.7 1h.7m-.6-.7h.7m-.7-.8h.7m-.7-1.1h.7m-.6 1.7h.7m-.7-.1h.7m-.6 .9h.7m-.7-1h.7m-.7 .4h.7m-.6 0h.7m-.7-1.4h.7m-.5 1.5h.7m-.6 .8h.7m-.7-1.8h.7m-.7-.8h.7m-.6 1.7h.7m-.7-.3h.7m-.6 1.2h.7m-.7-1.6h.7m-.7 .3h.7m-.7-.1h.7m-.6 1.1h.7m-.7-1h.7m-.7 1h.7m-.6-2.2h.7m-.7 .6h.7m-.7 .2h.7m-.5 1.6h.7m-.7-2.1h.7m-.7-.3h.7m-.6 1.6h.7m-.7-2h.7m-.6 2.7h.7m-.7-.4h.7m-.6-.2h.7m-.7-1.4h.7m-.7 0h.7m-.6 .5h.7m-.7 .9h.7m-.7 .4h.7m-.7-2h.7m-.6 1.8h.7m-.7 .4h.7m-.6-1.1h.7m-.7 .2h.7m-.7 1.1h.7m-.6-.2h.7m-.5 .1h.7m-.7-2.6h.7m-.6 2.7h.7m-.7-2.9h.7m-.7 .4h.7m-.7-.4h.7m-.6 .4h.7m-.7 .5h.7m-.7 1h.7m-.7-.9h.7m-.2-.3h.7m-.7 2.1h.7m-.7-.7h.7m-.7-.4h.7m-.7-.6h.7m-.6 .1h.7m-.7 1h.7m-.7 .3h.7m-.6-1.5h.7m-.7-.6h.7m-.7-.3h.7m-.6 1.4h.7m-.6-.4h.7m-.7 1.1h.7m-.7 0h.7m-.7-2.2h.7m-.6 .4h.7m-.6 2.3h.7m-.7-1.4h.7m-.7 .3h.7m-.6-1.2h.7m-.7 1h.7m-.7-.4h.7m-.7-.9h.7m-.7 1.1h.7m-.6-.2h.7m-.7 .4h.7m-.6 .9h.7m-.7 .1h.7m-.6-2.2h.7m-.6 1.5h.7m-.7 .6h.7m-.6-2.3h.7m-.6 1.4h.7m-.6 1.2h.7m-.7-.2h.7m-.7-1.4h.7m-.6-.6h.7m-.7-.1h.7m-.6 .3h.7m-.7 .4h.7m-.6-.4h.7m-.7 .5h.7m-.5-.2h.7m-.7-.8h.7m-.6 2.4h.7m-.6-1.9h.7m-.6 .6h.7m-.7 1.7h.7m-.6-2.9h.7m-.5 0h.7m-.6 1.3h.7m-.6-.4h.7m-.6-.6h.7m-.6 1h.7m-.5-.1h.7m-.7 1h.7m-.7 0h.7m-.5-1h.7m-.7 .8h.7m-.7-.3h.7m-.4-.8h.7m-.4 .6h.7m-.2-1.4h.7m-.2 1.3h.7m.4-1.2h.7m-.6 2.1h.7m-.7-.1h.7m-.5 .6h.7m0-2.1h.7m-.6-.5h.7m1.4 .5h.7m-26.4 5.2h.7m.3-2.3h.7m-.7 1.6h.7m.1-1.9h.7m-.5-.1h.7m-.5 .1h.7m-.4 1.2h.7m-.3 .8h.7m-.6 .5h.7m-.3-1.1h.7m-.7-1.7h.7m-.4 2.4h.7m-.7 .3h.7m-.6-2.6h.7m-.5 .9h.7m-.6 1.2h.7m-.7-1.6h.7m-.7 1.5h.7m-.5 .6h.7m-.7-2.1h.7m-.6-.6h.7m-.5 2h.7m-.5-1.2h.7m-.7 1.9h.7m-.7 0h.7m-.6-.4h.7m-.7 .4h.7m-.7-.6h.7m-.6 .3h.7m-.7-.3h.7m-.7-.2h.7m-.6 .9h.7m-.5-1.2h.7m-.7 1.1h.7m-.6-1.5h.7m-.7 1.6h.7m-.6-2h.7m-.7-.3h.7m-.6 1.2h.7m-.6-1.7h.7m-.7 .4h.7m-.7 1.6h.7m-.6 .9h.7m-.6-2.5h.7m-.7-.3h.7m-.6 2h.7m-.7-1.8h.7m-.7 .4h.7m-.6 .4h.7m-.7-.5h.7m-.6 1.6h.7m-.5 0h.7m-.7 .5h.7m-.7 0h.7m-.6-1.3h.7m-.7 1.5h.7m-.7-1.9h.7m-.6-.6h.7m-.7 1.3h.7m-.6 .3h.7m-.7-1.6h.7m-.7 1.2h.7m-.6 .7h.7m-.7-.6h.7m-.7-.5h.7m-.6-.1h.7m-.6 1.3h.7m-.7-.4h.7m-.7-.7h.7m-.6-.8h.7m-.7 1.5h.7m-.7-.1h.7m-.7 .4h.7m-.7 .5h.7m-.7-.7h.7m-.6-.5h.7m-.7 .8h.7m-.7-2.4h.7m-.6 .8h.7m-.7 2.1h.7m-.6-.1h.7m-.7-.1h.7m-.7-2.6h.7m-.6 2.1h.7m-.7-.2h.7m-.7 .9h.7m-.6-.8h.7m-.7-2h.7m-.7 2.7h.7m-.7-.5h.7m-.7 .5h.7m-.6-2.2h.7m-.7 1.2h.7m-.7-1.2h.7m-.7 1.5h.7m-.7 .5h.7m-.6-.9h.7m-.7 .9h.7m-.7-1.9h.7m-.7-.4h.7m-.7 2.1h.7m-.7-1.4h.7m-.7 .7h.7m-.5 .4h.7m-.7 .2h.7m-.6 .1h.7m-.7 .1h.7m-.6-.5h.7m-.6 .6h.7m-.7 .3h.7m-.6-1.9h.7m-.7 .3h.7m-.7-.5h.7m-.7 1.6h.7m-.7-1.3h.7m-.6-.2h.7m-.7 1.1h.7m-.7-1.8h.7m-.6 0h.7m-.7 2.4h.7m-.7 .2h.7m-.7 .1h.7m-.6-2.9h.7m-.6 2.3h.7m-.7-.6h.7m-.7 .5h.7m-.6-1.1h.7m-.7 .6h.7m-.7 1.1h.7m-.7-1.5h.7m-.6-.5h.7m-.7 .4h.7m-.6-.5h.7m-.7-.7h.7m-.7 2.9h.7m-.7-2.6h.7m-.6-.3h.7m-.7 .7h.7m-.7 .5h.7m-.7-.1h.7m-.5 1.8h.7m-.6-2.2h.7m-.7-.3h.7m-.7 .6h.7m-.7-.6h.7m-.7-.2h.7m-.7 .1h.7m-.7-.1h.7m-.7 1.9h.7m-.7-.7h.7m-.7-.5h.7m-.6 2h.7m-.6-2.1h.7m-.7 1.4h.7m-.7-1.8h.7m-.6 2.2h.7m-.7-2.3h.7m-.6 2.3h.7m-.7-1.5h.7m-.7 .7h.7m-.7-.5h.7m-.7-1.2h.7m-.6 .9h.7m-.7-.4h.7m-.7 1.7h.7m-.7-.3h.7m-.7 .6h.7m-.6-.9h.7m-.7-1.1h.7m-.7 2.3h.7m-.7-.6h.7m-.6-1.3h.7m-.7 1.8h.7m-.6-1h.7m-.7 .6h.7m-.7-.4h.7m-.7-.1h.7m-.7 .3h.7m-.7 .7h.7m-.7-1.3h.7m-.7-1.4h.7m-.6 1.2h.7m-.7 1.2h.7m-.7-2.5h.7m-.7 .1h.7m-.7 .3h.7m-.7 2.1h.7m-.6 .2h.7m-.7-2.8h.7m-.7 1.3h.7m-.7 .3h.7m-.7-.2h.7m-.7 1h.7m-.6-1.1h.7m-.7 1.2h.7m-.7 .4h.7m-.7 0h.7m-.7-.7h.7m-.6-1.9h.7m-.6 2.5h.7m-.7-1.1h.7m-.6 0h.7m-.7 .4h.7m-.7-1.3h.7m-.7 1.8h.7m-.6-.4h.7m-.7-1.1h.7m-.7 .6h.7m-.7 .3h.7m-.6 .1h.7m-.7-2.1h.7m-.7 1.3h.7m-.7 .4h.7m-.6 .5h.7m-.7-.4h.7m-.7-.2h.7m-.7-.4h.7m-.7 .6h.7m-.7 .1h.7m-.6-1.6h.7m-.7 1.9h.7m-.7-1.6h.7m-.6 1.9h.7m-.7-1.4h.7m-.7-1h.7m-.7 .7h.7m-.7 .4h.7m-.7 .4h.7m-.6-1.6h.7m-.6 2.9h.7m-.7-1.2h.7m-.7 .4h.7m-.7-1.4h.7m-.7 .7h.7m-.7 0h.7m-.7 .5h.7m-.7-1.4h.7m-.7 1.9h.7m-.6-2.4h.7m-.7 2.1h.7m-.7 .1h.7m-.7-1h.7m-.7 .7h.7m-.6-1.7h.7m-.7 .2h.7m-.7 2h.7m-.7-1.4h.7m-.6 .7h.7m-.7-.9h.7m-.7 .2h.7m-.6 1.7h.7m-.7-1.7h.7m-.7 1h.7m-.7 .5h.7m-.7 .1h.7m-.6-1.5h.7m-.7 .6h.7m-.6-1.3h.7m-.7 1.9h.7m-.6-1.9h.7m-.7 .8h.7m-.7 .4h.7m-.6 .9h.7m-.7-.9h.7m-.7 0h.7m-.7-1.4h.7m-.6 2.4h.7m-.7-2.6h.7m-.6 .5h.7m-.7 2.2h.7m-.7-.1h.7m-.7-1.2h.7m-.6 .7h.7m-.6 .8h.7m-.7-1h.7m-.7-.6h.7m-.6 .4h.7m-.6 .6h.7m-.6 .4h.7m-.7-1h.7m-.7-1.5h.7m-.7-.1h.7m-.7 1.1h.7m-.7 1h.7m-.7-1.7h.7m-.7-.1h.7m-.6 1.6h.7m-.7-1.3h.7m-.7 1.3h.7m-.7 .9h.7m-.7-2.8h.7m-.6 1.5h.7m-.7 1.1h.7m-.7-.4h.7m-.7-1.7h.7m-.7-.4h.7m-.7-.1h.7m-.6 .1h.7m-.7 2.3h.7m-.7 .1h.7m-.7 .1h.7m-.7-1.8h.7m-.6-.1h.7m-.7 1.4h.7m-.7 .2h.7m-.7-.1h.7m-.6-2h.7m-.7-.2h.7m-.7 2.3h.7m-.5-1.5h.7m-.7-.4h.7m-.7 1.5h.7m-.7-.6h.7m-.7 .3h.7m-.6 1.1h.7m-.7-1.3h.7m-.7 .4h.7m-.7-.1h.7m-.7-1.6h.7m-.7 0h.7m-.6 .8h.7m-.6-.8h.7m-.7 .9h.7m-.6 .3h.7m-.6 .9h.7m-.6-.1h.7m-.7-1.2h.7m-.7 1.1h.7m-.7 .6h.7m-.6-.5h.7m-.7-.8h.7m-.6-.8h.7m-.7-.3h.7m-.6 1.6h.7m-.7 .3h.7m-.7-.5h.7m-.6-1.2h.7m-.7 0h.7m-.7 1.9h.7m-.7-.7h.7m-.6 .2h.7m-.6 .4h.7m-.7 0h.7m-.6 .5h.7m-.6-.5h.7m-.7-.1h.7m-.7-.1h.7m-.5 .8h.7m-.7 0h.7m-.6-.6h.7m-.6-2.1h.7m-.7 .2h.7m-.6 .5h.7m-.7-.4h.7m-.7 2h.7m-.7-.8h.7m-.7-1.7h.7m-.6 .4h.7m-.7 1.7h.7m-.6-.3h.7m-.5-.8h.7m-.6 .7h.7m-.6 .9h.7m-.7-.9h.7m-.7-.3h.7m-.6-.5h.7m-.7-.5h.7m-.6 0h.7m-.6 2h.7m-.7-1.8h.7m-.6 .9h.7m-.6-1.4h.7m-.6 .1h.7m-.7 1.1h.7m-.6 1.2h.7m-.7 .2h.7m-.6-1.8h.7m-.5-.7h.7m-.6-.1h.7m-.7-.1h.7m-.5 2.9h.7m-.6-1.6h.7m-.6-.9h.7m-.2 2.1h.7m-.3-1.4h.7m-.7 1.3h.7m-.7-.2h.7m-.5-1h.7m-.5 1.7h.7m-.6-1.7h.7m-.5 1.2h.7m-.2-1h.7m-.1-.7h.7m-.7 .6h.7m-.4 .9h.7m-.6-1.6h.7m-.6-.6h.7m-.4 .1h.7m-.5 2.2h.7m-.5-1.1h.7m1.8-.4h.7m-25.3 5h.7m-.4-2h.7m-.4 1.8h.7m-.5-1.4h.7m-.3 1h.7m-.4-.6h.7m-.3-1h.7m-.6 1.8h.7m0-.9h.7m-.6 .8h.7m-.6-.7h.7m-.4-.7h.7m-.5 1.8h.7m-.2-2.1h.7m-.5-.2h.7m-.6 2h.7m-.6 .2h.7m-.4-1.8h.7m-.6 2h.7m-.7-.9h.7m-.6-.7h.7m-.7 1.3h.7m-.6 0h.7m-.6-.4h.7m-.7-1.4h.7m-.6 .9h.7m-.7-1.3h.7m-.5 1.7h.7m-.5-.7h.7m-.6-1.2h.7m-.7 2.4h.7m-.6-1.7h.7m-.7 .4h.7m-.7-.5h.7m-.6-.7h.7m-.6 .8h.7m-.7 1.8h.7m-.6 .1h.7m-.7-2.4h.7m-.6 1.1h.7m-.7 1.4h.7m-.4-.2h.7m-.7 .3h.7m-.7-2.3h.7m-.7 1.2h.7m-.6-.4h.7m-.7-1h.7m-.7-.4h.7m-.7 .4h.7m-.7 1.9h.7m-.6-.3h.7m-.7-1.3h.7m-.7 2.2h.7m-.5-.9h.7m-.6-.3h.7m-.6-1.5h.7m-.6 1.3h.7m-.7-1h.7m-.7 1.1h.7m-.6 .2h.7m-.7 .4h.7m-.7-.1h.7m-.7-1.1h.7m-.6 1.9h.7m-.7-2.8h.7m-.7 2.3h.7m-.6-1.2h.7m-.6 1.7h.7m-.7-1.9h.7m-.7-.1h.7m-.5-.3h.7m-.7 1.2h.7m-.6 0h.7m-.7 .3h.7m-.7 0h.7m-.6-1.5h.7m-.7 1.9h.7m-.7-1.7h.7m-.7-.8h.7m-.7 2.4h.7m-.7-2.4h.7m-.7 1.1h.7m-.6 .2h.7m-.7-.8h.7m-.6 1.3h.7m-.7-.5h.7m-.7-.5h.7m-.6 0h.7m-.7 .2h.7m-.7-.9h.7m-.6 1.2h.7m-.7 1.4h.7m-.6 0h.7m-.6-2.5h.7m-.7 1.7h.7m-.7 .9h.7m-.7-2.3h.7m-.6 1.9h.7m-.7-2.3h.7m-.6 .7h.7m-.6 .4h.7m-.7-.3h.7m-.7 1.6h.7m-.6 .3h.7m-.7-2.3h.7m-.7 1.3h.7m-.7-.5h.7m-.6 .9h.7m-.7-1h.7m-.7 1.4h.7m-.6-1.8h.7m-.7 1.2h.7m-.6-1.3h.7m-.7 .9h.7m-.7 .3h.7m-.6 .8h.7m-.7-2.1h.7m-.6 .7h.7m-.7-.4h.7m-.6-.1h.7m-.7 1.1h.7m-.6-1h.7m-.7 1.4h.7m-.7-2.1h.7m-.7 1.6h.7m-.7 1h.7m-.7-1h.7m-.7-.8h.7m-.6 1.4h.7m-.7-2.1h.7m-.7 1.7h.7m-.7-.7h.7m-.6 .1h.7m-.7 .6h.7m-.6-1.3h.7m-.7-.4h.7m-.7 2.5h.7m-.7-.5h.7m-.6 .1h.7m-.7 .4h.7m-.7-1.5h.7m-.7-1h.7m-.7 .7h.7m-.6 .8h.7m-.7 .2h.7m-.7-.1h.7m-.6-1.5h.7m-.7 2.1h.7m-.7-1.4h.7m-.7 1.2h.7m-.7 .4h.7m-.6-2h.7m-.7-.2h.7m-.7 1.9h.7m-.7-1.7h.7m-.7 .7h.7m-.6 1h.7m-.7-2h.7m-.7 1.2h.7m-.6 .4h.7m-.6-.5h.7m-.7 1.2h.7m-.6-.2h.7m-.7-1.4h.7m-.7-.2h.7m-.6-.9h.7m-.7 .5h.7m-.7 .1h.7m-.7 .9h.7m-.7 0h.7m-.7 .4h.7m-.7-.7h.7m-.7-.2h.7m-.7 .9h.7m-.6-1.9h.7m-.7 1.2h.7m-.7 1h.7m-.7-1.2h.7m-.6 1.7h.7m-.7-1.7h.7m-.7 .6h.7m-.6 1.3h.7m-.7 0h.7m-.6-1.8h.7m-.7 .9h.7m-.7-1.9h.7m-.7 2.4h.7m-.6 .4h.7m-.7-.1h.7m-.7-.8h.7m-.6-1.1h.7m-.7 .4h.7m-.7 1.3h.7m-.7-2.5h.7m-.7 .4h.7m-.6 .2h.7m-.7-.6h.7m-.7 .3h.7m-.6 .3h.7m-.7 1.5h.7m-.7-.9h.7m-.6-.1h.7m-.7 1.3h.7m-.7 .3h.7m-.7-1.9h.7m-.7 .2h.7m-.7 1.2h.7m-.7-.4h.7m-.6 1h.7m-.7-2.1h.7m-.7 1.7h.7m-.7-.3h.7m-.7-2h.7m-.6 2.5h.7m-.7-1.7h.7m-.6-.1h.7m-.6-.7h.7m-.7 .3h.7m-.7 .1h.7m-.7-.6h.7m-.7 1.5h.7m-.6 .5h.7m-.6 .4h.7m-.7 .4h.7m-.7-1.8h.7m-.7 .3h.7m-.7-1.1h.7m-.7 2.7h.7m-.6-2.8h.7m-.7 .4h.7m-.7-.5h.7m-.7 1.3h.7m-.6-.8h.7m-.7 .1h.7m-.7 .5h.7m-.7-1h.7m-.6 .4h.7m-.7 1.7h.7m-.7-1.7h.7m-.6 .1h.7m-.7 .6h.7m-.6 1.3h.7m-.7-2h.7m-.7 1.2h.7m-.6 .1h.7m-.7-1h.7m-.7 .3h.7m-.6-.7h.7m-.6 1.3h.7m-.7 .8h.7m-.6-.2h.7m-.7-1h.7m-.7-1.2h.7m-.6 2h.7m-.7-1.7h.7m-.6 2.1h.7m-.7-.3h.7m-.7-1.6h.7m-.7-.6h.7m-.7 2.8h.7m-.7-1.4h.7m-.7-.7h.7m-.6 1.3h.7m-.7-1.3h.7m-.6-.5h.7m-.7 .2h.7m-.6-.3h.7m-.7 .7h.7m-.7 1.8h.7m-.7-1.3h.7m-.6-1h.7m-.7-.1h.7m-.6-.2h.7m-.7 1h.7m-.6 .1h.7m-.7 1.5h.7m-.7 0h.7m-.7-2.3h.7m-.7 .5h.7m-.7 .9h.7m-.7 1.2h.7m-.6-1.4h.7m-.7 .4h.7m-.6-1.9h.7m-.7 .5h.7m-.6 1.3h.7m-.7-.4h.7m-.7-.3h.7m-.7-.2h.7m-.6 2h.7m-.6-1.5h.7m-.6-.2h.7m-.7 .2h.7m-.7-1.2h.7m-.6 .7h.7m-.7-.7h.7m-.6 2.5h.7m-.7 .2h.7m-.6-1.7h.7m-.6 .5h.7m-.7-1.5h.7m-.6 0h.7m-.7 .8h.7m-.7-.4h.7m-.6 1.9h.7m-.6 .1h.7m-.7-2h.7m-.7 .9h.7m-.5-1.3h.7m-.7 .7h.7m-.7 1.4h.7m-.6-1.5h.7m-.7 .7h.7m-.6-1h.7m-.7 .5h.7m-.7-.9h.7m-.7 1.9h.7m-.6-1.4h.7m-.7 1.4h.7m-.7-.9h.7m-.6-1.1h.7m-.7 .8h.7m-.7 1.7h.7m-.4-1.6h.7m-.7-.7h.7m-.7 .6h.7m-.7 1.8h.7m-.5-.9h.7m-.6 0h.7m-.6 .5h.7m-.7-1.7h.7m-.7 1h.7m-.6-.1h.7m-.5-.5h.7m-.6-.1h.7m-.6-.5h.7m-.7 2.6h.7m-.7-1.5h.7m-.7-1.4h.7m-.7 1h.7m-.5-.5h.7m-.5 1.6h.7m-.4-1.3h.7m-.5 2.1h.7m-.7-1.8h.7m-.6-1.1h.7m-.5 1.4h.7m-.6 0h.7m-.2 .1h.7m-.3 .8h.7m-.6-.9h.7m0-.7h.7m.3 0h.7m-.6-.3h.7m.1 1h.7m1.8-1.1h.7m-25.9 3.6h.7m1.3 1.6h.7m-.3-1h.7m-.4-.1h.7m.4 .8h.7m-.6-.3h.7m-.5 .4h.7m-.5 .6h.7m-.2-1.2h.7m-.7 .1h.7m-.6 0h.7m-.6 .8h.7m-.7-2h.7m-.5 .5h.7m-.7 1.7h.7m-.7-.5h.7m-.7-.7h.7m-.5 .2h.7m-.6-1.4h.7m-.4 .6h.7m-.7 .4h.7m-.6-.8h.7m-.6 2h.7m-.6-.6h.7m-.5 .4h.7m-.7 .3h.7m-.7 .1h.7m-.6-2.4h.7m-.7 1.5h.7m-.5 .3h.7m-.7-2h.7m-.7 1.9h.7m-.6 .2h.7m-.7-1.5h.7m-.7 .2h.7m-.6 0h.7m-.5 .1h.7m-.7 1.5h.7m-.7-2h.7m-.6 .8h.7m-.6 1h.7m-.6-1.5h.7m-.6 1.8h.7m-.6-2.6h.7m-.6 2.8h.7m-.7-2.9h.7m-.7 2.9h.7m-.6-.5h.7m-.7-.9h.7m-.6 0h.7m-.6-1h.7m-.7 .2h.7m-.7 2h.7m-.6 .2h.7m-.7-2.2h.7m-.6 1.6h.7m-.7 .4h.7m-.7-1.5h.7m-.7-.6h.7m-.6 1.5h.7m-.6-.3h.7m-.6 .8h.7m-.7 .1h.7m-.7-1.5h.7m-.7 1.3h.7m-.4-1.3h.7m-.6 0h.7m-.7 1.3h.7m-.6-2.2h.7m-.7 2.4h.7m-.6-.7h.7m-.7-1.8h.7m-.7 2.6h.7m-.6-.6h.7m-.7 .5h.7m-.7-2.1h.7m-.7 .5h.7m-.7 .3h.7m-.6 1.2h.7m-.7 0h.7m-.7-1.5h.7m-.7-.5h.7m-.6 .4h.7m-.7-.7h.7m-.6 1.5h.7m-.6 .3h.7m-.7-.2h.7m-.6-1.5h.7m-.7 2h.7m-.5-1.4h.7m-.5 1.9h.7m-.7-.5h.7m-.7-2.1h.7m-.7 .2h.7m-.6 2h.7m-.5-2h.7m-.7 .2h.7m-.7 0h.7m-.7 1.8h.7m-.7-1.3h.7m-.6-1.2h.7m-.6 2.6h.7m-.7-.7h.7m-.6-1.1h.7m-.6-.3h.7m-.7 1.7h.7m-.7-2h.7m-.7 1.7h.7m-.6-.8h.7m-.7 .3h.7m-.6 .6h.7m-.7-1.2h.7m-.7 1.1h.7m-.7-.5h.7m-.7-.3h.7m-.7-.3h.7m-.5-.5h.7m-.7 1.4h.7m-.6-1.6h.7m-.6-.1h.7m-.7 1.5h.7m-.7-.7h.7m-.7 1.2h.7m-.7 .9h.7m-.5-2.6h.7m-.7 .5h.7m-.7 .1h.7m-.7 1.3h.7m-.7-.1h.7m-.6-.5h.7m-.7-1.3h.7m-.6 .2h.7m-.7 2.1h.7m-.7-2h.7m-.6 1.4h.7m-.7-1.2h.7m-.7 .4h.7m-.6-.9h.7m-.7 1.6h.7m-.6-.1h.7m-.7-.8h.7m-.7-.8h.7m-.7 .3h.7m-.7 0h.7m-.6-.4h.7m-.6 1.3h.7m-.7-.7h.7m-.5-.2h.7m-.7 .1h.7m-.7-.4h.7m-.6 .6h.7m-.6 .3h.7m-.7-.3h.7m-.6 .2h.7m-.6-.1h.7m-.7 1.4h.7m-.7-1.7h.7m-.7 0h.7m-.6 1.3h.7m-.7-1.6h.7m-.7 1.1h.7m-.7-1.4h.7m-.6 .4h.7m-.7 2h.7m-.7 .3h.7m-.6-1h.7m-.7-1.7h.7m-.6 2.2h.7m-.7-1h.7m-.6-.8h.7m-.7 .1h.7m-.7-.1h.7m-.7 1.8h.7m-.6-2.2h.7m-.7 1.2h.7m-.7-.9h.7m-.6-.2h.7m-.7 .4h.7m-.7-.3h.7m-.6 1.6h.7m-.7-1h.7m-.6-.1h.7m-.5 .8h.7m-.7 1.3h.7m-.6-.6h.7m-.7-1.2h.7m-.5-.9h.7m-.5 2.4h.7m-.7-1.7h.7m-.5 1.5h.7m-.7-2.2h.7m-.6 .1h.7m-.7 1.4h.7m-.5 .1h.7m-.7-1.1h.7m-.7 1.1h.7m-.6 .5h.7m-.4-1.1h.7m-.4 1.7h.7m-.6-2.6h.7m-.6 1.5h.7m-.6-1.7h.7m-.7 1.2h.7m-.6 .2h.7m-.7-.5h.7m-.7-.5h.7m-.6 1.2h.7m-.7-1.6h.7m-.7 1.6h.7m-.7-1.5h.7m-.7 1.9h.7m-.6-2h.7m-.7 1.3h.7m-.4-1.3h.7m-.7 .5h.7m-.6-.1h.7m-.6 1.5h.7m-.4-.3h.7m-.7-1.2h.7m-.7 2.2h.7m-.5-1.1h.7m-.3-1h.7m-.3 2.3h.7m-.3-1.3h.7m-.3-.9h.7m-.5 1.1h.7m-.5 .2h.7m-.3-.8h.7m1.2 .4h.7m.3-1h.7m-22.3 3.1h.7m-.6 1.7h.7m.5-1.6h.7m-.5 1.9h.7m.5-1h.7m-.5-.1h.7m-.6-1.5h.7m0 1.6h.7m.2-.8h.7m-.4-.7h.7m-.6 .5h.7m-.7-.4h.7m-.6 .2h.7m-.5-.4h.7m-.6 .5h.7m-.5 1.3h.7m-.6-1.7h.7m-.3 .3h.7m-.6 1.9h.7m-.3-1.8h.7m-.7 .9h.7m-.5-1.2h.7m-.5 .9h.7m-.6-.4h.7m-.5 0h.7m-.6 1.2h.7m-.6-1.5h.7m-.6 1.2h.7m-.6-.2h.7m-.2-.9h.7m-.6 .4h.7m-.7 1.7h.7m-.6-.9h.7m-.6 0h.7m-.5-1h.7m-.7 .1h.7m-.6-.7h.7m-.7 .7h.7m-.6-.3h.7m-.7 .7h.7m-.6-.9h.7m-.7 .5h.7m-.4 1.5h.7m-.7-1.8h.7m-.6 1h.7m-.6 .7h.7m-.7-.9h.7m-.6-1h.7m-.4 2.1h.7m-.7 .5h.7m-.5-2.8h.7m-.5 .8h.7m-.7 1.7h.7m-.5-2.2h.7m-.3 1.3h.7m-.6 .1h.7m-.6-.5h.7m-.7-1h.7m-.5 2.6h.7m-.7-.9h.7m-.3-1.7h.7m-.7 .8h.7m-.4-.9h.7m-.6-.1h.7m-.6 .9h.7m-.5-.5h.7m-.3-.5h.7m-.7 .1h.7m-.5 .2h.7m-.4 .2h.7m-.7 .2h.7m-.5 1.7h.7m-.6 .5h.7m-.4-1.2h.7m-.7-.5h.7m-.6-1.2h.7m-.1 .2h.7m-.6 1.2h.7m-.5 .3h.7m-.5-1.4h.7m-.6-.2h.7m-.6 1.9h.7m-.5-.9h.7m-.5-1h.7m.1 1.3h.7m-.4-.8h.7m-.4 .7h.7m-.6-1.1h.7m-.6 0h.7m-15.4 4.2h.7m-.5-.7h.7m.2-.3h.7m.5 1.4h.7m-.5-1.8h.7m1.1 0h.7m-.5 .9h.7m-.6-.8h.7m-.7 1.2h.7m-.6-.5h.7m-.5-.7h.7m-.2 .2h.7m-.3 1.3h.7m-.5 .7h.7m-.1 .4h.7m-.5-.4h.7m-.4 .5h.7m-.4-2.7h.7m-.5 1.6h.7m-.5 .7h.7m-.3-2.2h.7m-.2 .4h.7m0 .5h.7m.6-.3h.7m-.6 .3h.7m-.7 .7h.7m-.4-1.3h.7m1.6 .9h.7m2.4-.9h.7m-11.1 3.4h.7m-.7 .7h.7m1.3-1h.7m0-.5h.7" stroke="#f81010" stroke-width="0.8" stroke-opacity="0.7" fill="none"/>
</g>
<rect x="329.5" y="246.6" width="76" height="80" fill="none" stroke="#6a6a6a" stroke-width="0.85"/>
<path d="M360.5 246.6L360.5 326.6" stroke="#707070" stroke-width="0.8" fill="none"/>
<path d="M329.5 294.5L405.5 294.5" stroke="#707070" stroke-width="0.8" fill="none"/>
<text x="331.3" y="250.8" font-size="3.5" fill="#333">Q1</text>
<text x="331.3" y="255.6" font-size="3.6" fill="#333">33.61%</text>
<text x="403.7" y="250.8" font-size="3.5" text-anchor="end" fill="#333">Q2</text>
<text x="403.7" y="255.6" font-size="3.6" text-anchor="end" fill="#333">3.16%</text>
<text x="331.3" y="319.3" font-size="3.5" fill="#333">Q4</text>
<text x="331.3" y="324" font-size="3.6" fill="#333">47.44%</text>
<text x="403.7" y="319.3" font-size="3.5" text-anchor="end" fill="#333">Q3</text>
<text x="403.7" y="324" font-size="3.6" text-anchor="end" fill="#333">15.79%</text>
<path d="M329.5 326.6L329.5 328.1" stroke="#666" stroke-width="0.6" fill="none"/>
<text x="329.5" y="333" font-size="3" text-anchor="middle" fill="#444">10</text>
<path d="M328 326.5L329.5 326.5" stroke="#666" stroke-width="0.6" fill="none"/>
<text x="325.4" y="326.6" font-size="3" text-anchor="middle" transform="rotate(-90 325.4 326.6)" fill="#444">10</text>
<path d="M348.5 326.6L348.5 328.1" stroke="#666" stroke-width="0.6" fill="none"/>
<text x="348.5" y="333" font-size="3" text-anchor="middle" fill="#444">10</text>
<path d="M328 306.5L329.5 306.5" stroke="#666" stroke-width="0.6" fill="none"/>
<text x="325.4" y="306.6" font-size="3" text-anchor="middle" transform="rotate(-90 325.4 306.6)" fill="#444">10</text>
<path d="M367.5 326.6L367.5 328.1" stroke="#666" stroke-width="0.6" fill="none"/>
<text x="367.5" y="333" font-size="3" text-anchor="middle" fill="#444">10</text>
<path d="M328 286.5L329.5 286.5" stroke="#666" stroke-width="0.6" fill="none"/>
<text x="325.4" y="286.6" font-size="3" text-anchor="middle" transform="rotate(-90 325.4 286.6)" fill="#444">10</text>
<path d="M386.5 326.6L386.5 328.1" stroke="#666" stroke-width="0.6" fill="none"/>
<text x="386.5" y="333" font-size="3" text-anchor="middle" fill="#444">10</text>
<path d="M328 266.5L329.5 266.5" stroke="#666" stroke-width="0.6" fill="none"/>
<text x="325.4" y="266.6" font-size="3" text-anchor="middle" transform="rotate(-90 325.4 266.6)" fill="#444">10</text>
<path d="M405.5 326.6L405.5 328.1" stroke="#666" stroke-width="0.6" fill="none"/>
<text x="405.5" y="333" font-size="3" text-anchor="middle" fill="#444">10</text>
<path d="M328 246.5L329.5 246.5" stroke="#666" stroke-width="0.6" fill="none"/>
<text x="325.4" y="246.6" font-size="3" text-anchor="middle" transform="rotate(-90 325.4 246.6)" fill="#444">10</text>
<text x="367.5" y="339.6" font-size="5.4" text-anchor="middle" textLength="28.2" lengthAdjust="spacingAndGlyphs" fill="#222">CD206FITC</text>
<text x="321.5" y="287.6" font-size="5.3" font-weight="bold" text-anchor="middle" textLength="27.6" lengthAdjust="spacingAndGlyphs" transform="rotate(-90 321.5 287.6)" fill="#2a2a2a">CD16/32PE</text>
<path d="M328.6 320.6h.9M335.2 326.6v.9M328.6 317.1h.9M338.6 326.6v.9M328.6 314.6h.9M340.9 326.6v.9M328.6 312.6h.9M342.8 326.6v.9M328.6 311.0h.9M344.3 326.6v.9M328.6 309.7h.9M345.6 326.6v.9M328.6 308.5h.9M346.7 326.6v.9M328.6 307.5h.9M347.6 326.6v.9M328.6 300.6h.9M354.2 326.6v.9M328.6 297.1h.9M357.6 326.6v.9M328.6 294.6h.9M359.9 326.6v.9M328.6 292.6h.9M361.8 326.6v.9M328.6 291.0h.9M363.3 326.6v.9M328.6 289.7h.9M364.6 326.6v.9M328.6 288.5h.9M365.7 326.6v.9M328.6 287.5h.9M366.6 326.6v.9M328.6 280.6h.9M373.2 326.6v.9M328.6 277.1h.9M376.6 326.6v.9M328.6 274.6h.9M378.9 326.6v.9M328.6 272.6h.9M380.8 326.6v.9M328.6 271.0h.9M382.3 326.6v.9M328.6 269.7h.9M383.6 326.6v.9M328.6 268.5h.9M384.7 326.6v.9M328.6 267.5h.9M385.6 326.6v.9M328.6 260.6h.9M392.2 326.6v.9M328.6 257.1h.9M395.6 326.6v.9M328.6 254.6h.9M397.9 326.6v.9M328.6 252.6h.9M399.8 326.6v.9M328.6 251.0h.9M401.3 326.6v.9M328.6 249.7h.9M402.6 326.6v.9M328.6 248.5h.9M403.7 326.6v.9M328.6 247.5h.9M404.6 326.6v.9" stroke="#555" stroke-width="0.6" fill="none"/>
<path d="M11.5 246.5L11.5 348.5L421.5 348.5" stroke="#555" stroke-width="1.2" fill="none" stroke-linejoin="miter"/>
<text x="7.8" y="293.3" font-size="10.4" text-anchor="middle" textLength="36.7" lengthAdjust="spacingAndGlyphs" transform="rotate(-90 7.8 293.3)">CD16/32</text>
<text x="215.7" y="357.6" font-size="10.4" text-anchor="middle" textLength="32.4" lengthAdjust="spacingAndGlyphs">CD206</text>
<text x="519" y="246.9" font-size="8.6" font-weight="bold" text-anchor="middle" textLength="29.3" lengthAdjust="spacingAndGlyphs">CD206</text>
<path d="M451.5 258.1L451.5 356.7" stroke="#3a3a3a" stroke-width="1.2" fill="none"/>
<path d="M448.6 258.5L451.2 258.5" stroke="#3a3a3a" stroke-width="1.2" fill="none"/>
<text x="448.3" y="260.76" font-size="7.4" font-weight="bold" text-anchor="end">60</text>
<path d="M448.6 291.5L451.2 291.5" stroke="#3a3a3a" stroke-width="1.2" fill="none"/>
<text x="448.3" y="293.73" font-size="7.4" font-weight="bold" text-anchor="end">40</text>
<path d="M448.6 324.5L451.2 324.5" stroke="#3a3a3a" stroke-width="1.2" fill="none"/>
<text x="448.3" y="326.7" font-size="7.4" font-weight="bold" text-anchor="end">20</text>
<path d="M448.6 357.5L451.2 357.5" stroke="#3a3a3a" stroke-width="1.2" fill="none"/>
<text x="448.3" y="359.66" font-size="7.4" font-weight="bold" text-anchor="end">0</text>
<path d="M451.2 356.5L599.7 356.5" stroke="#2a2a2a" stroke-width="1.2" fill="none"/>
<path d="M469.5 356.7L469.5 359.9" stroke="#2a2a2a" stroke-width="1.2" fill="none"/>
<path d="M506.5 356.7L506.5 359.9" stroke="#2a2a2a" stroke-width="1.2" fill="none"/>
<path d="M543.5 356.7L543.5 359.9" stroke="#2a2a2a" stroke-width="1.2" fill="none"/>
<path d="M580.5 356.7L580.5 359.9" stroke="#2a2a2a" stroke-width="1.2" fill="none"/>
<text x="433.4" y="306.7" font-size="10.2" font-weight="bold" text-anchor="middle" textLength="117.4" lengthAdjust="spacingAndGlyphs" transform="rotate(-90 433.4 306.7)">Positive cells (% Gated)</text>
<circle cx="469.7" cy="322.9" r="1.9" fill="#f3b27c"/>
<circle cx="464.3" cy="336.6" r="1.9" fill="#f3b27c"/>
<circle cx="475.4" cy="341.2" r="1.9" fill="#f3b27c"/>
<circle cx="469.7" cy="344.7" r="1.9" fill="#f3b27c"/>
<path d="M457.2 336.5L482.2 336.5" stroke="#222" stroke-width="1.3" fill="none"/>
<path d="M469.5 332.9L469.5 340.5" stroke="#222" stroke-width="1.3" fill="none"/>
<path d="M463.2 332.5L476.2 332.5" stroke="#222" stroke-width="1.3" fill="none"/>
<path d="M463.2 340.5L476.2 340.5" stroke="#222" stroke-width="1.3" fill="none"/>
<rect x="504.6" y="273.6" width="3.6" height="3.6" fill="#a3121b"/>
<rect x="504.6" y="299.1" width="3.6" height="3.6" fill="#a3121b"/>
<rect x="504.6" y="305.3" width="3.6" height="3.6" fill="#a3121b"/>
<rect x="504.6" y="311.8" width="3.6" height="3.6" fill="#a3121b"/>
<rect x="504.6" y="335.2" width="3.6" height="3.6" fill="#a3121b"/>
<path d="M493.9 306.5L518.9 306.5" stroke="#222" stroke-width="1.3" fill="none"/>
<path d="M506.5 296.7L506.5 316.8" stroke="#222" stroke-width="1.3" fill="none"/>
<path d="M499.9 296.5L512.9 296.5" stroke="#222" stroke-width="1.3" fill="none"/>
<path d="M499.9 316.5L512.9 316.5" stroke="#222" stroke-width="1.3" fill="none"/>
<path d="M543.7 321.1L545.8 324.9L541.6 324.9Z" fill="#25b03a"/>
<path d="M538.4 329.7L540.5 333.5L536.3 333.5Z" fill="#25b03a"/>
<path d="M543.7 334.3L545.8 338.1L541.6 338.1Z" fill="#25b03a"/>
<path d="M549.5 339L551.6 342.8L547.4 342.8Z" fill="#25b03a"/>
<path d="M543.7 342.9L545.8 346.7L541.6 346.7Z" fill="#25b03a"/>
<path d="M531.2 335.5L556.2 335.5" stroke="#222" stroke-width="1.3" fill="none"/>
<path d="M543.5 331.7L543.5 339.3" stroke="#222" stroke-width="1.3" fill="none"/>
<path d="M537.2 331.5L550.2 331.5" stroke="#222" stroke-width="1.3" fill="none"/>
<path d="M537.2 339.5L550.2 339.5" stroke="#222" stroke-width="1.3" fill="none"/>
<path d="M580.5 317.2L582.6 313.4L578.4 313.4Z" fill="#111"/>
<path d="M587 330L589.1 326.2L584.9 326.2Z" fill="#111"/>
<path d="M580.5 331.8L582.6 328L578.4 328Z" fill="#111"/>
<path d="M575 332.7L577.1 328.9L572.9 328.9Z" fill="#111"/>
<path d="M580.5 343.8L582.6 340L578.4 340Z" fill="#111"/>
<path d="M568 329.5L593 329.5" stroke="#222" stroke-width="1.3" fill="none"/>
<path d="M580.5 325L580.5 334" stroke="#222" stroke-width="1.3" fill="none"/>
<path d="M574 325.5L587 325.5" stroke="#222" stroke-width="1.3" fill="none"/>
<path d="M574 334.5L587 334.5" stroke="#222" stroke-width="1.3" fill="none"/>
<path d="M464.5 307.5L464.5 258.5L502.5 258.5L502.5 270.5" stroke="#111" stroke-width="1.3" fill="none" stroke-linejoin="miter"/>
<path d="M511.5 265.5L511.5 258.5L579.5 258.5L579.5 300.5" stroke="#111" stroke-width="1.3" fill="none" stroke-linejoin="miter"/>
<path d="M483.80 249.01L484.64 250.79L486.59 251.04L485.16 252.39L485.53 254.33L483.80 253.38L482.07 254.33L482.44 252.39L481.01 251.04L482.96 250.79Z" fill="#1a1a1a"/>
<path d="M489.80 249.01L490.64 250.79L492.59 251.04L491.16 252.39L491.53 254.33L489.80 253.38L488.07 254.33L488.44 252.39L487.01 251.04L488.96 250.79Z" fill="#1a1a1a"/>
<path d="M547.20 248.71L548.04 250.49L549.99 250.74L548.56 252.09L548.93 254.03L547.20 253.08L545.47 254.03L545.84 252.09L544.41 250.74L546.36 250.49Z" fill="#1a1a1a"/>
<text x="696.3" y="246.9" font-size="8.6" font-weight="bold" text-anchor="middle" textLength="37" lengthAdjust="spacingAndGlyphs">CD16/32</text>
<path d="M628.5 258.1L628.5 356.7" stroke="#3a3a3a" stroke-width="1.2" fill="none"/>
<path d="M625.5 258.5L628.1 258.5" stroke="#3a3a3a" stroke-width="1.2" fill="none"/>
<text x="625.2" y="260.76" font-size="7.4" font-weight="bold" text-anchor="end">60</text>
<path d="M625.5 291.5L628.1 291.5" stroke="#3a3a3a" stroke-width="1.2" fill="none"/>
<text x="625.2" y="293.73" font-size="7.4" font-weight="bold" text-anchor="end">40</text>
<path d="M625.5 324.5L628.1 324.5" stroke="#3a3a3a" stroke-width="1.2" fill="none"/>
<text x="625.2" y="326.7" font-size="7.4" font-weight="bold" text-anchor="end">20</text>
<path d="M625.5 357.5L628.1 357.5" stroke="#3a3a3a" stroke-width="1.2" fill="none"/>
<text x="625.2" y="359.66" font-size="7.4" font-weight="bold" text-anchor="end">0</text>
<path d="M628.1 356.5L777.3 356.5" stroke="#2a2a2a" stroke-width="1.2" fill="none"/>
<path d="M647.5 356.7L647.5 359.9" stroke="#2a2a2a" stroke-width="1.2" fill="none"/>
<path d="M684.5 356.7L684.5 359.9" stroke="#2a2a2a" stroke-width="1.2" fill="none"/>
<path d="M721.5 356.7L721.5 359.9" stroke="#2a2a2a" stroke-width="1.2" fill="none"/>
<path d="M757.5 356.7L757.5 359.9" stroke="#2a2a2a" stroke-width="1.2" fill="none"/>
<text x="611.2" y="306.7" font-size="10.2" font-weight="bold" text-anchor="middle" textLength="117.4" lengthAdjust="spacingAndGlyphs" transform="rotate(-90 611.2 306.7)">Positive cells (% Gated)</text>
<circle cx="647.3" cy="275.9" r="1.9" fill="#f3b27c"/>
<circle cx="641.5" cy="289.8" r="1.9" fill="#f3b27c"/>
<circle cx="653.1" cy="301.4" r="1.9" fill="#f3b27c"/>
<circle cx="647.3" cy="304.8" r="1.9" fill="#f3b27c"/>
<circle cx="647.3" cy="292" r="1.9" fill="#f3b27c"/>
<path d="M634.8 293.5L659.8 293.5" stroke="#222" stroke-width="1.3" fill="none"/>
<path d="M647.5 287.9L647.5 298.3" stroke="#222" stroke-width="1.3" fill="none"/>
<path d="M640.8 287.5L653.8 287.5" stroke="#222" stroke-width="1.3" fill="none"/>
<path d="M640.8 298.5L653.8 298.5" stroke="#222" stroke-width="1.3" fill="none"/>
<rect x="682.3" y="301.5" width="3.6" height="3.6" fill="#a3121b"/>
<rect x="676.7" y="326.4" width="3.6" height="3.6" fill="#a3121b"/>
<rect x="682.3" y="329.4" width="3.6" height="3.6" fill="#a3121b"/>
<rect x="688.2" y="332.2" width="3.6" height="3.6" fill="#a3121b"/>
<rect x="682.3" y="338" width="3.6" height="3.6" fill="#a3121b"/>
<path d="M671.6 327.5L696.6 327.5" stroke="#222" stroke-width="1.3" fill="none"/>
<path d="M684.5 320.8L684.5 333.5" stroke="#222" stroke-width="1.3" fill="none"/>
<path d="M677.6 320.5L690.6 320.5" stroke="#222" stroke-width="1.3" fill="none"/>
<path d="M677.6 333.5L690.6 333.5" stroke="#222" stroke-width="1.3" fill="none"/>
<path d="M721.3 270.7L723.4 274.5L719.2 274.5Z" fill="#25b03a"/>
<path d="M721.3 279.5L723.4 283.3L719.2 283.3Z" fill="#25b03a"/>
<path d="M721.3 296.8L723.4 300.6L719.2 300.6Z" fill="#25b03a"/>
<path d="M721.3 306.6L723.4 310.4L719.2 310.4Z" fill="#25b03a"/>
<path d="M721.3 315.8L723.4 319.6L719.2 319.6Z" fill="#25b03a"/>
<path d="M708.8 295.5L733.8 295.5" stroke="#222" stroke-width="1.3" fill="none"/>
<path d="M721.5 287L721.5 303.7" stroke="#222" stroke-width="1.3" fill="none"/>
<path d="M714.8 287.5L727.8 287.5" stroke="#222" stroke-width="1.3" fill="none"/>
<path d="M714.8 303.5L727.8 303.5" stroke="#222" stroke-width="1.3" fill="none"/>
<path d="M757.6 276.5L759.7 272.7L755.5 272.7Z" fill="#111"/>
<path d="M752.6 305.9L754.7 302.1L750.5 302.1Z" fill="#111"/>
<path d="M757.6 301.7L759.7 297.9L755.5 297.9Z" fill="#111"/>
<path d="M757.6 319.7L759.7 315.9L755.5 315.9Z" fill="#111"/>
<path d="M757.6 308.2L759.7 304.4L755.5 304.4Z" fill="#111"/>
<path d="M745.1 300.5L770.1 300.5" stroke="#222" stroke-width="1.3" fill="none"/>
<path d="M757.5 293.7L757.5 307.8" stroke="#222" stroke-width="1.3" fill="none"/>
<path d="M751.1 293.5L764.1 293.5" stroke="#222" stroke-width="1.3" fill="none"/>
<path d="M751.1 307.5L764.1 307.5" stroke="#222" stroke-width="1.3" fill="none"/>
<path d="M647.5 268.5L647.5 258.5L679.5 258.5L679.5 286.5" stroke="#111" stroke-width="1.3" fill="none" stroke-linejoin="miter"/>
<path d="M689.5 294.5L689.5 258.5L757.5 258.5L757.5 266.5" stroke="#111" stroke-width="1.3" fill="none" stroke-linejoin="miter"/>
<path d="M660.70 249.01L661.54 250.79L663.49 251.04L662.06 252.39L662.43 254.33L660.70 253.38L658.97 254.33L659.34 252.39L657.91 251.04L659.86 250.79Z" fill="#1a1a1a"/>
<path d="M666.70 249.01L667.54 250.79L669.49 251.04L668.06 252.39L668.43 254.33L666.70 253.38L664.97 254.33L665.34 252.39L663.91 251.04L665.86 250.79Z" fill="#1a1a1a"/>
<path d="M715.80 248.71L716.64 250.49L718.59 250.74L717.16 252.09L717.53 254.03L715.80 253.08L714.07 254.03L714.44 252.09L713.01 250.74L714.96 250.49Z" fill="#1a1a1a"/>
<text x="472.6" y="366.5" font-size="7.7" font-weight="bold" text-anchor="end" transform="rotate(-45 472.6 366.5)">LPS+IFN-γ</text>
<text x="509.1" y="366.5" font-size="7.7" font-weight="bold" text-anchor="end" transform="rotate(-45 509.1 366.5)">LPS+IFN-γ+TWS119</text>
<text x="546.2" y="366.5" font-size="7.7" font-weight="bold" text-anchor="end" transform="rotate(-45 546.2 366.5)">LPS+IFN-γ+IWR-1</text>
<text x="583.2" y="366.5" font-size="7.7" font-weight="bold" text-anchor="end" transform="rotate(-45 583.2 366.5)">LPS+IFN-γ+TWS119+IWR-1</text>
<text x="650.3" y="366.5" font-size="7.7" font-weight="bold" text-anchor="end" transform="rotate(-45 650.3 366.5)">LPS+IFN-γ</text>
<text x="687.1" y="366.5" font-size="7.7" font-weight="bold" text-anchor="end" transform="rotate(-45 687.1 366.5)">LPS+IFN-γ+TWS119</text>
<text x="724.3" y="366.5" font-size="7.7" font-weight="bold" text-anchor="end" transform="rotate(-45 724.3 366.5)">LPS+IFN-γ+IWR-1</text>
<text x="760.6" y="366.5" font-size="7.7" font-weight="bold" text-anchor="end" transform="rotate(-45 760.6 366.5)">LPS+IFN-γ+TWS119+IWR-1</text>
<circle cx="107.2" cy="396.4" r="0.7" fill="#555"/>
<rect x="47.7" y="476.1" width="158.6" height="15.7" fill="#a4a4a4"/>
<rect x="47.7" y="494.3" width="158.6" height="15.2" fill="#a8a8a8"/>
<g filter="url(#bl3)">
<path d="M51.9 483.2L76.2 483.2Q77.8 484.2 76.2 485.2L51.9 485.2Q50.3 484.2 51.9 483.2Z" fill="#141414" fill-opacity="0.8"/>
<path d="M86 482.8L104.4 482.2Q106.32 483.6 104.4 485L86 485.2Q84.08 484 86 482.8Z" fill="#141414" fill-opacity="0.9"/>
<path d="M108.6 482.8L109.6 482.8Q110.88 483.6 109.6 484.4L108.6 484.4Q107.32 483.6 108.6 482.8Z" fill="#141414" fill-opacity="0.7"/>
<path d="M116.8 482.6L139.1 481.5Q141.34 483.2 139.1 484.9L116.8 485.4Q114.56 484 116.8 482.6Z" fill="#141414" fill-opacity="0.95"/>
<path d="M147.2 482.9L156.8 483Q158.72 484.2 156.8 485.4L147.2 485.5Q145.28 484.2 147.2 482.9Z" fill="#141414" fill-opacity="0.85"/>
<path d="M158.6 483.4L170.5 484Q171.46 484.6 170.5 485.2L158.6 485.4Q157.64 484.4 158.6 483.4Z" fill="#141414" fill-opacity="0.5"/>
<path d="M178.9 482L202.7 481.1Q204.62 482.4 202.7 483.7L178.9 484.4Q176.98 483.2 178.9 482Z" fill="#141414" fill-opacity="0.9"/>
<path d="M51 498.8L72.3 499.1Q76.62 501.8 72.3 504.5L51 504.4Q46.68 501.6 51 498.8Z" fill="#141414" fill-opacity="1.0"/>
<path d="M81 500.3L102.4 501.3Q105.76 503.4 102.4 505.5L81 504.9Q77.64 502.6 81 500.3Z" fill="#141414" fill-opacity="0.95"/>
<path d="M113.8 503.5L135.5 502.4Q138.22 504.6 135.5 506.8L113.8 506.9Q111.08 505.2 113.8 503.5Z" fill="#141414" fill-opacity="0.95"/>
<path d="M146.5 503.4L169.1 503Q172.3 505 169.1 507L146.5 507.4Q143.3 505.4 146.5 503.4Z" fill="#141414" fill-opacity="0.95"/>
<path d="M177.6 501.6L201.3 501Q205.46 503.8 201.3 506.6L177.6 506.8Q173.44 504.2 177.6 501.6Z" fill="#141414" fill-opacity="1.0"/>
</g>
<text x="23.4" y="487.4" font-size="9.3" text-anchor="middle" textLength="38.8" lengthAdjust="spacingAndGlyphs">β-catenin</text>
<text x="19.3" y="505.7" font-size="9.3" text-anchor="middle" textLength="33.1" lengthAdjust="spacingAndGlyphs">GAPDH</text>
<text x="227.3" y="487.4" font-size="9.3" text-anchor="middle" textLength="28.1" lengthAdjust="spacingAndGlyphs">92KDa</text>
<text x="227.3" y="504.5" font-size="9.3" text-anchor="middle" textLength="28.1" lengthAdjust="spacingAndGlyphs">36KDa</text>
<text x="62.8" y="515.6" font-size="7.6" text-anchor="end" transform="rotate(-45 62.8 515.6)">control</text>
<text x="94.6" y="515.6" font-size="7.6" text-anchor="end" transform="rotate(-45 94.6 515.6)">LPS+IFN-γ</text>
<text x="125.7" y="515.6" font-size="7.6" text-anchor="end" transform="rotate(-45 125.7 515.6)">LPS+IFN-γ+TWS119</text>
<text x="158" y="515.6" font-size="7.6" text-anchor="end" transform="rotate(-45 158 515.6)">LPS+IFN-γ+IWR-1</text>
<text x="195.9" y="515.6" font-size="7.6" text-anchor="end" transform="rotate(-45 195.9 515.6)">LPS+IFN-γ+TWS119+IWR-1</text>
<text x="375.3" y="472" font-size="8.6" font-weight="bold" text-anchor="middle" textLength="41.5" lengthAdjust="spacingAndGlyphs">β  -catenin</text>
<path d="M309.5 487.7L309.5 578.2" stroke="#3a3a3a" stroke-width="1.2" fill="none"/>
<path d="M306.7 487.5L309.3 487.5" stroke="#3a3a3a" stroke-width="1.2" fill="none"/>
<text x="305.5" y="490.15" font-size="6.8" font-weight="bold" text-anchor="end">200</text>
<path d="M306.7 510.5L309.3 510.5" stroke="#3a3a3a" stroke-width="1.2" fill="none"/>
<text x="305.5" y="512.77" font-size="6.8" font-weight="bold" text-anchor="end">150</text>
<path d="M306.7 532.5L309.3 532.5" stroke="#3a3a3a" stroke-width="1.2" fill="none"/>
<text x="305.5" y="535.4" font-size="6.8" font-weight="bold" text-anchor="end">100</text>
<path d="M306.7 555.5L309.3 555.5" stroke="#3a3a3a" stroke-width="1.2" fill="none"/>
<text x="305.5" y="558.02" font-size="6.8" font-weight="bold" text-anchor="end">50</text>
<path d="M306.7 578.5L309.3 578.5" stroke="#3a3a3a" stroke-width="1.2" fill="none"/>
<text x="305.5" y="580.65" font-size="6.8" font-weight="bold" text-anchor="end">0</text>
<path d="M323.5 532.5L323.5 527.4" stroke="#111" stroke-width="1.3" fill="none"/>
<path d="M318.5 527.5L328.5 527.5" stroke="#111" stroke-width="1.3" fill="none"/>
<rect x="314.5" y="532.5" width="18" height="46" fill="#fff" stroke="#111" stroke-width="1.3"/>
<path d="M350.5 520.5L350.5 517.2" stroke="#111" stroke-width="1.3" fill="none"/>
<path d="M345.5 517.5L355.5 517.5" stroke="#111" stroke-width="1.3" fill="none"/>
<rect x="341.5" y="520.5" width="18" height="58" fill="url(#pc)" stroke="#111" stroke-width="1.3"/>
<path d="M377.5 501.5L377.5 494.5" stroke="#111" stroke-width="1.3" fill="none"/>
<path d="M372.5 494.5L382.5 494.5" stroke="#111" stroke-width="1.3" fill="none"/>
<rect x="368.5" y="501.5" width="18" height="77" fill="url(#ph)" stroke="#111" stroke-width="1.3"/>
<path d="M404.5 528.5L404.5 524.3" stroke="#111" stroke-width="1.3" fill="none"/>
<path d="M399.5 524.5L409.5 524.5" stroke="#111" stroke-width="1.3" fill="none"/>
<rect x="395.5" y="528.5" width="18" height="50" fill="url(#pv)" stroke="#111" stroke-width="1.3"/>
<path d="M431.5 520.5L431.5 511.6" stroke="#111" stroke-width="1.3" fill="none"/>
<path d="M426.5 511.5L436.5 511.5" stroke="#111" stroke-width="1.3" fill="none"/>
<rect x="422.5" y="520.5" width="18" height="58" fill="url(#px)" stroke="#111" stroke-width="1.3"/>
<path d="M309.3 578.5L445 578.5" stroke="#2a2a2a" stroke-width="1.2" fill="none"/>
<path d="M323.5 578.2L323.5 581.4" stroke="#2a2a2a" stroke-width="1.2" fill="none"/>
<path d="M350.5 578.2L350.5 581.4" stroke="#2a2a2a" stroke-width="1.2" fill="none"/>
<path d="M377.5 578.2L377.5 581.4" stroke="#2a2a2a" stroke-width="1.2" fill="none"/>
<path d="M404.5 578.2L404.5 581.4" stroke="#2a2a2a" stroke-width="1.2" fill="none"/>
<path d="M431.5 578.2L431.5 581.4" stroke="#2a2a2a" stroke-width="1.2" fill="none"/>
<text x="276.4" y="533" font-size="9.5" font-weight="bold" text-anchor="middle" textLength="94.7" lengthAdjust="spacingAndGlyphs" transform="rotate(-90 276.4 533)">Relative protein level</text>
<text x="288.9" y="533.9" font-size="9.5" font-weight="bold" text-anchor="middle" textLength="50.6" lengthAdjust="spacingAndGlyphs" transform="rotate(-90 288.9 533.9)">(%Control)</text>
<path d="M320.5 522.5L320.5 499.5L345.5 499.5L345.5 510.5" stroke="#111" stroke-width="1.3" fill="none" stroke-linejoin="miter"/>
<text x="334.4" y="492.6" font-size="8.4" text-anchor="middle">N.S</text>
<path d="M351.5 506.5L351.5 484.5L374.5 484.5L374.5 490.5" stroke="#111" stroke-width="1.3" fill="none" stroke-linejoin="miter"/>
<path d="M380.5 490.5L380.5 484.5L430.5 484.5L430.5 505.5" stroke="#111" stroke-width="1.3" fill="none" stroke-linejoin="miter"/>
<path d="M361.60 478.21L362.44 479.99L364.39 480.24L362.96 481.59L363.33 483.53L361.60 482.58L359.87 483.53L360.24 481.59L358.81 480.24L360.76 479.99Z" fill="#1a1a1a"/>
<path d="M406.60 478.21L407.44 479.99L409.39 480.24L407.96 481.59L408.33 483.53L406.60 482.58L404.87 483.53L405.24 481.59L403.81 480.24L405.76 479.99Z" fill="#1a1a1a"/>
<text x="325.9" y="587.7" font-size="7" font-weight="bold" text-anchor="end" transform="rotate(-45 325.9 587.7)">control</text>
<text x="353.2" y="587.7" font-size="7" font-weight="bold" text-anchor="end" transform="rotate(-45 353.2 587.7)">LPS+IFN-γ</text>
<text x="380.8" y="587.7" font-size="7" font-weight="bold" text-anchor="end" transform="rotate(-45 380.8 587.7)">LPS+IFN-γ+TWS119</text>
<text x="407" y="587.7" font-size="7" font-weight="bold" text-anchor="end" transform="rotate(-45 407 587.7)">LPS+IFN-γ+IWR-1</text>
<text x="435.8" y="587.7" font-size="7" font-weight="bold" text-anchor="end" transform="rotate(-45 435.8 587.7)">LPS+IFN-γ+TWS119+IWR-1</text>
<text x="563" y="471.5" font-size="8.6" font-weight="bold" text-anchor="middle" textLength="43.3" lengthAdjust="spacingAndGlyphs">β  -catenin</text>
<path d="M495.5 482.8L495.5 576.4" stroke="#3a3a3a" stroke-width="1.2" fill="none"/>
<path d="M492.9 482.5L495.5 482.5" stroke="#3a3a3a" stroke-width="1.2" fill="none"/>
<text x="491.7" y="485.25" font-size="6.8" font-weight="bold" text-anchor="end">6</text>
<path d="M492.9 514.5L495.5 514.5" stroke="#3a3a3a" stroke-width="1.2" fill="none"/>
<text x="491.7" y="516.45" font-size="6.8" font-weight="bold" text-anchor="end">4</text>
<path d="M492.9 545.5L495.5 545.5" stroke="#3a3a3a" stroke-width="1.2" fill="none"/>
<text x="491.7" y="547.65" font-size="6.8" font-weight="bold" text-anchor="end">2</text>
<path d="M492.9 576.5L495.5 576.5" stroke="#3a3a3a" stroke-width="1.2" fill="none"/>
<text x="491.7" y="578.85" font-size="6.8" font-weight="bold" text-anchor="end">0</text>
<path d="M509.5 560.5L509.5 557.4" stroke="#111" stroke-width="1.3" fill="none"/>
<path d="M504.25 557.5L514.75 557.5" stroke="#111" stroke-width="1.3" fill="none"/>
<rect x="499.5" y="560.5" width="20" height="16" fill="#fff" stroke="#111" stroke-width="1.3"/>
<path d="M537.5 539.5L537.5 532.2" stroke="#111" stroke-width="1.3" fill="none"/>
<path d="M532.25 532.5L542.75 532.5" stroke="#111" stroke-width="1.3" fill="none"/>
<rect x="527.5" y="539.5" width="20" height="37" fill="url(#pc)" stroke="#111" stroke-width="1.3"/>
<path d="M566.5 509.5L566.5 496.9" stroke="#111" stroke-width="1.3" fill="none"/>
<path d="M560.75 496.5L571.25 496.5" stroke="#111" stroke-width="1.3" fill="none"/>
<rect x="556.5" y="509.5" width="19" height="67" fill="url(#ph)" stroke="#111" stroke-width="1.3"/>
<path d="M594.5 542.5L594.5 535.4" stroke="#111" stroke-width="1.3" fill="none"/>
<path d="M589.25 535.5L599.75 535.5" stroke="#111" stroke-width="1.3" fill="none"/>
<rect x="584.5" y="542.5" width="20" height="34" fill="url(#pv)" stroke="#111" stroke-width="1.3"/>
<path d="M622.5 540.5L622.5 530.8" stroke="#111" stroke-width="1.3" fill="none"/>
<path d="M617.25 530.5L627.75 530.5" stroke="#111" stroke-width="1.3" fill="none"/>
<rect x="612.5" y="540.5" width="20" height="36" fill="url(#px)" stroke="#111" stroke-width="1.3"/>
<path d="M495.5 576.5L636.6 576.5" stroke="#2a2a2a" stroke-width="1.2" fill="none"/>
<path d="M509.5 576.4L509.5 579.6" stroke="#2a2a2a" stroke-width="1.2" fill="none"/>
<path d="M537.5 576.4L537.5 579.6" stroke="#2a2a2a" stroke-width="1.2" fill="none"/>
<path d="M566.5 576.4L566.5 579.6" stroke="#2a2a2a" stroke-width="1.2" fill="none"/>
<path d="M594.5 576.4L594.5 579.6" stroke="#2a2a2a" stroke-width="1.2" fill="none"/>
<path d="M622.5 576.4L622.5 579.6" stroke="#2a2a2a" stroke-width="1.2" fill="none"/>
<text x="469.4" y="528.8" font-size="9.9" font-weight="bold" text-anchor="middle" textLength="95.6" lengthAdjust="spacingAndGlyphs" transform="rotate(-90 469.4 528.8)">Relative mRNA level</text>
<text x="482.2" y="530.6" font-size="9.9" font-weight="bold" text-anchor="middle" textLength="62.5" lengthAdjust="spacingAndGlyphs" transform="rotate(-90 482.2 530.6)">(fold changes )</text>
<path d="M509.5 550.5L509.5 507.5L532.5 507.5L532.5 519.5" stroke="#111" stroke-width="1.3" fill="none" stroke-linejoin="miter"/>
<text x="521.8" y="504.2" font-size="8.4" text-anchor="middle">N.S</text>
<path d="M538.5 520.5L538.5 481.5L562.5 481.5L562.5 490.5" stroke="#111" stroke-width="1.3" fill="none" stroke-linejoin="miter"/>
<path d="M569.5 492.5L569.5 484.5L620.5 484.5L620.5 520.5" stroke="#111" stroke-width="1.3" fill="none" stroke-linejoin="miter"/>
<path d="M553.20 475.61L554.04 477.39L555.99 477.64L554.56 478.99L554.93 480.93L553.20 479.98L551.47 480.93L551.84 478.99L550.41 477.64L552.36 477.39Z" fill="#1a1a1a"/>
<path d="M594.70 478.21L595.54 479.99L597.49 480.24L596.06 481.59L596.43 483.53L594.70 482.58L592.97 483.53L593.34 481.59L591.91 480.24L593.86 479.99Z" fill="#1a1a1a"/>
<text x="511.6" y="584.8" font-size="7.4" font-weight="bold" text-anchor="end" transform="rotate(-45 511.6 584.8)">control</text>
<text x="540.2" y="584.8" font-size="7.4" font-weight="bold" text-anchor="end" transform="rotate(-45 540.2 584.8)">LPS+IFN-γ</text>
<text x="568.3" y="584.8" font-size="7.4" font-weight="bold" text-anchor="end" transform="rotate(-45 568.3 584.8)">LPS+IFN-γ+TWS119</text>
<text x="596.8" y="584.8" font-size="7.4" font-weight="bold" text-anchor="end" transform="rotate(-45 596.8 584.8)">LPS+IFN-γ+IWR-1</text>
<text x="624.4" y="584.8" font-size="7.4" font-weight="bold" text-anchor="end" transform="rotate(-45 624.4 584.8)">LPS+IFN-γ+TWS119+IWR-1</text>
</svg></body></html>
